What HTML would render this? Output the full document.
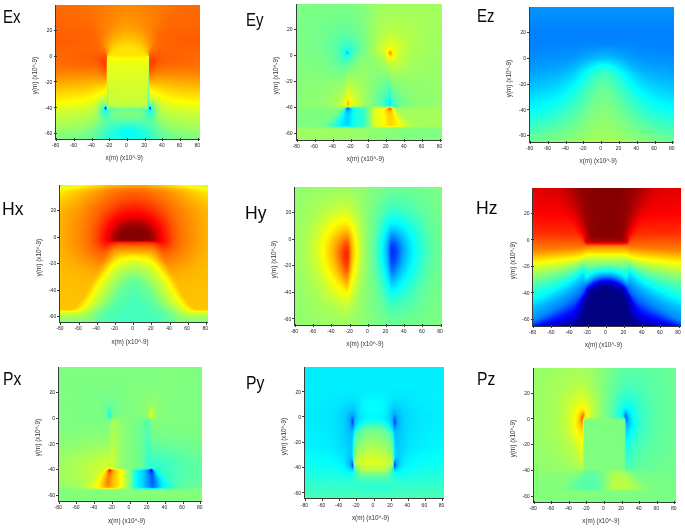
<!DOCTYPE html>
<html><head><meta charset="utf-8"><title>Field components</title>
<style>
html,body{margin:0;padding:0;background:#fff}
body{width:685px;height:529px;position:relative;overflow:hidden;font-family:"Liberation Sans",sans-serif;color:#111}
.p{position:absolute;overflow:hidden}
.p i{display:block;height:1px;width:100%}
.ax{position:absolute;background:#3a3a3a}
.tl{position:absolute;font-size:5px;line-height:7px;color:#222;white-space:nowrap}
.al{position:absolute;font-size:6.3px;line-height:9px;color:#333;white-space:nowrap}
.yl{transform:rotate(-90deg);transform-origin:50% 50%}
.tt{position:absolute;font-size:18.5px;line-height:21px;color:#0a0a0a;transform-origin:0 0;white-space:nowrap}
</style></head>
<body>
<div class="p" style="left:55.7px;top:5px;width:144.2px;height:134.3px">
<i style="background:linear-gradient(90deg,#ff6b00 0.5px,#ff7300 32.5px,#ff8a00 70.5px,#ff7d00 95.5px,#ff6c00 129.5px,#ff6b00 144.5px)"></i>
<i style="background:linear-gradient(90deg,#ff6b00 0.5px,#ff7200 31.5px,#ff8b00 70.5px,#ff8000 92.5px,#ff6c00 127.5px,#ff6a00 144.5px)"></i>
<i style="background:linear-gradient(90deg,#ff6a00 0.5px,#ff7100 31.5px,#ff8b00 70.5px,#ff8000 92.5px,#ff6b00 126.5px,#ff6a00 144.5px)"></i>
<i style="background:linear-gradient(90deg,#ff6a00 0.5px,#ff7100 31.5px,#ff8c00 70.5px,#ff8100 91.5px,#ff6b00 125.5px,#ff6a00 144.5px)"></i>
<i style="background:linear-gradient(90deg,#ff6900 0.5px,#ff7000 31.5px,#ff8d00 69.5px,#ff8300 89.5px,#ff6b00 123.5px,#ff6900 144.5px)"></i>
<i style="background:linear-gradient(90deg,#ff6900 0.5px,#ff7000 31.5px,#ff8d00 69.5px,#ff8400 88.5px,#ff6b00 122.5px,#ff6900 144.5px)"></i>
<i style="background:linear-gradient(90deg,#ff6900 0.5px,#ff6f00 31.5px,#ff8e00 69.5px,#ff8500 87.5px,#ff6a00 121.5px,#ff6900 144.5px)"></i>
<i style="background:linear-gradient(90deg,#ff6800 0.5px,#ff6f00 31.5px,#ff8f00 69.5px,#ff8600 87.5px,#ff6a00 120.5px,#ff6800 144.5px)"></i>
<i style="background:linear-gradient(90deg,#ff6800 0.5px,#ff6e00 31.5px,#ff8f00 68.5px,#f80 85.5px,#ff6b00 118.5px,#ff6800 144.5px)"></i>
<i style="background:linear-gradient(90deg,#ff6800 0.5px,#ff6e00 31.5px,#ff9000 68.5px,#ff8900 85.5px,#ff6a00 117.5px,#ff6800 144.5px)"></i>
<i style="background:linear-gradient(90deg,#ff6700 0.5px,#ff6e00 32.5px,#ff9100 68.5px,#ff8a00 84.5px,#ff6a00 116.5px,#ff6700 144.5px)"></i>
<i style="background:linear-gradient(90deg,#ff6700 0.5px,#ff6d00 32.5px,#ff9200 68.5px,#ff8b00 84.5px,#ff6a00 115.5px,#ff6700 144.5px)"></i>
<i style="background:linear-gradient(90deg,#ff6700 0.5px,#ff6d00 32.5px,#ff9300 68.5px,#ff8c00 84.5px,#ff6a00 114.5px,#ff6700 144.5px)"></i>
<i style="background:linear-gradient(90deg,#f60 0.5px,#ff6c00 32.5px,#ff9300 67.5px,#ff8f00 82.5px,#ff6a00 114.5px,#f60 144.5px)"></i>
<i style="background:linear-gradient(90deg,#f60 0.5px,#ff6b00 32.5px,#ff9400 67.5px,#ff8f00 82.5px,#ff6a00 113.5px,#f60 144.5px)"></i>
<i style="background:linear-gradient(90deg,#ff6500 0.5px,#ff6c00 33.5px,#ff9500 67.5px,#ff9000 82.5px,#ff6a00 112.5px,#ff6500 144.5px)"></i>
<i style="background:linear-gradient(90deg,#ff6500 0.5px,#ff6b00 33.5px,#ff9700 67.5px,#ff9200 81.5px,#ff6a00 111.5px,#ff6500 144.5px)"></i>
<i style="background:linear-gradient(90deg,#ff6500 0.5px,#ff6a00 33.5px,#ff9700 66.5px,#ff9400 80.5px,#ff6900 111.5px,#ff6500 144.5px)"></i>
<i style="background:linear-gradient(90deg,#ff6400 0.5px,#ff6900 33.5px,#ff9800 66.5px,#ff9500 80.5px,#ff6900 110.5px,#ff6400 144.5px)"></i>
<i style="background:linear-gradient(90deg,#ff6400 0.5px,#ff6a00 34.5px,#ff9a00 66.5px,#ff9800 79.5px,#ff6800 110.5px,#ff6400 144.5px)"></i>
<i style="background:linear-gradient(90deg,#ff6400 0.5px,#ff6900 34.5px,#ff8c00 55.5px,#ff9c00 69.5px,#ff9500 82.5px,#ff6900 108.5px,#ff6400 142.5px,#ff6400 144.5px)"></i>
<i style="background:linear-gradient(90deg,#ff6300 0.5px,#ff6800 34.5px,#ff8500 51.5px,#ff9c00 65.5px,#ff9c00 78.5px,#ff8400 92.5px,#ff6900 108.5px,#ff6300 144.5px)"></i>
<i style="background:linear-gradient(90deg,#ff6300 0.5px,#ff6800 35.5px,#ff8300 50.5px,#ff9e00 64.5px,#ffa000 77.5px,#ff8600 92.5px,#ff6a00 106.5px,#ff6300 127.5px,#ff6300 144.5px)"></i>
<i style="background:linear-gradient(90deg,#ff6200 0.5px,#ff6700 35.5px,#ff8100 49.5px,#ff9e00 62.5px,#ffa400 74.5px,#ff9500 86.5px,#ff6f00 102.5px,#ff6400 114.5px,#ff6200 144.5px)"></i>
<i style="background:linear-gradient(90deg,#ff6200 0.5px,#f60 35.5px,#ff7f00 48.5px,#ff9f00 61.5px,#ffa700 73.5px,#f90 85.5px,#ff6e00 102.5px,#ff6300 114.5px,#ff6200 144.5px)"></i>
<i style="background:linear-gradient(90deg,#ff6200 0.5px,#f60 36.5px,#ff7c00 47.5px,#ff9e00 59.5px,#fa0 71.5px,#ff9f00 83.5px,#ff8200 94.5px,#ff6c00 103.5px,#ff6300 114.5px,#ff6200 144.5px)"></i>
<i style="background:linear-gradient(90deg,#ff6100 0.5px,#ff6500 36.5px,#ff7a00 46.5px,#ff9e00 58.5px,#ffac00 69.5px,#ffa500 81.5px,#ff8700 93.5px,#ff6e00 101.5px,#ff6300 111.5px,#ff6100 144.5px)"></i>
<i style="background:linear-gradient(90deg,#ff6100 0.5px,#ff6400 36.5px,#f70 45.5px,#ff9f00 57.5px,#ffaf00 68.5px,#fa0 80.5px,#ff8d00 92.5px,#ff6d00 101.5px,#ff6200 111.5px,#ff6100 144.5px)"></i>
<i style="background:linear-gradient(90deg,#ff6000 0.5px,#ff6400 37.5px,#f70 45.5px,#ffa100 57.5px,#ffb200 68.5px,#ffae00 79.5px,#ff9400 90.5px,#ff6a00 102.5px,#ff6100 112.5px,#ff6100 144.5px)"></i>
<i style="background:linear-gradient(90deg,#ff6000 0.5px,#ff6300 37.5px,#ff7800 45.5px,#ffa300 57.5px,#ffb400 67.5px,#ffb200 78.5px,#ff9c00 88.5px,#ff6700 103.5px,#ff6000 119.5px,#ff6000 144.5px)"></i>
<i style="background:linear-gradient(90deg,#ff6000 0.5px,#ff6300 37.5px,#ff7800 45.5px,#ffa600 57.5px,#ffb800 67.5px,#ffb500 78.5px,#ff9f00 88.5px,#ff6a00 102.5px,#ff6100 108.5px,#ff6000 144.5px)"></i>
<i style="background:linear-gradient(90deg,#ff5f00 0.5px,#ff6200 37.5px,#ff7800 45.5px,#ffa900 57.5px,#fb0 67.5px,#ffb800 78.5px,#ffa400 87.5px,#ff6900 102.5px,#ff6000 110.5px,#ff5f00 144.5px)"></i>
<i style="background:linear-gradient(90deg,#ff5f00 0.5px,#ff6200 36.5px,#ff6d00 42.5px,#ffaf00 58.5px,#ffbf00 68.5px,#ffba00 79.5px,#ffa300 88.5px,#ff6c00 101.5px,#ff6000 109.5px,#ff5f00 144.5px)"></i>
<i style="background:linear-gradient(90deg,#ff5f00 0.5px,#ff6000 34.5px,#ff6d00 42.5px,#ffb200 58.5px,#ffc100 67.5px,#ffbf00 78.5px,#fa0 87.5px,#ff8400 95.5px,#f60 103.5px,#ff5d00 118.5px,#ff5f00 144.5px)"></i>
<i style="background:linear-gradient(90deg,#ff5e00 0.5px,#ff6000 33.5px,#ff6c00 42.5px,#ff9800 51.5px,#ffb800 59.5px,#ffc600 69.5px,#ffc000 80.5px,#ffa800 88.5px,#ff6e00 100.5px,#ff6200 107.5px,#ff5d00 128.5px,#ff5e00 144.5px)"></i>
<i style="background:linear-gradient(90deg,#ff5e00 0.5px,#ff5f00 32.5px,#ff6c00 42.5px,#ff8d00 49.5px,#ffb500 57.5px,#ffc800 66.5px,#ffc700 77.5px,#ffb700 85.5px,#ff9100 93.5px,#ff6e00 100.5px,#ff6100 108.5px,#ff5d00 135.5px,#ff5e00 144.5px)"></i>
<i style="background:linear-gradient(90deg,#ff5d00 0.5px,#ff6100 34.5px,#ff6f00 43.5px,#ffb800 57.5px,#ffca00 65.5px,#ffcb00 77.5px,#ffba00 85.5px,#ff9200 93.5px,#ff6d00 100.5px,#ff5f00 111.5px,#ff5e00 144.5px)"></i>
<i style="background:linear-gradient(90deg,#ff5e00 0.5px,#ff6200 35.5px,#ff6e00 43.5px,#ff8f00 49.5px,#ffb800 56.5px,#ffcb00 63.5px,#ffd100 74.5px,#ffc400 83.5px,#ffa600 90.5px,#ff7000 99.5px,#ff6300 106.5px,#ff5d00 134.5px,#ff5e00 144.5px)"></i>
<i style="background:linear-gradient(90deg,#ff5e00 0.5px,#ff6200 35.5px,#ff6c00 43.5px,#ff8f00 49.5px,#ffbc00 56.5px,#ffcf00 63.5px,#ffd400 75.5px,#ffc500 84.5px,#ffa900 90.5px,#ff7400 98.5px,#f60 103.5px,#ff5e00 123.5px,#ff5e00 144.5px)"></i>
<i style="background:linear-gradient(90deg,#ff5f00 0.5px,#ff6200 35.5px,#ff6f00 44.5px,#ff8f00 49.5px,#ffba00 55.5px,#ffd000 61.5px,#ffd900 72.5px,#ffcf00 82.5px,#ffb800 88.5px,#ff9400 93.5px,#ff7200 98.5px,#ff6500 104.5px,#ff5e00 127.5px,#ff5f00 144.5px)"></i>
<i style="background:linear-gradient(90deg,#ff6000 0.5px,#ff6300 36.5px,#ff6e00 44.5px,#ff8f00 49.5px,#ffbe00 55.5px,#ffd400 61.5px,#ffdc00 72.5px,#ffd300 82.5px,#ffbc00 88.5px,#ff9500 93.5px,#ff7100 98.5px,#ff6200 107.5px,#ff6000 144.5px)"></i>
<i style="background:linear-gradient(90deg,#ff6000 0.5px,#ff6300 36.5px,#ff7100 45.5px,#f90 50.5px,#ffc200 55.5px,#ffd800 61.5px,#ffdf00 73.5px,#ffd500 83.5px,#ffc000 88.5px,#ffa100 92.5px,#ff7b00 96.5px,#ff6c00 99.5px,#ff6000 112.5px,#ff6100 144.5px)"></i>
<i style="background:linear-gradient(90deg,#ff6100 0.5px,#ff6300 37.5px,#ff6f00 45.5px,#ff8400 48.5px,#ffc000 54.5px,#ffd700 59.5px,#ffe200 69.5px,#fd0 81.5px,#ffca00 87.5px,#ffa200 92.5px,#ff7800 96.5px,#ff6c00 99.5px,#ff6000 112.5px,#ff6100 144.5px)"></i>
<i style="background:linear-gradient(90deg,#ff6200 0.5px,#ff6400 38.5px,#ff7100 46.5px,#ff8d00 49.5px,#fb0 53.5px,#ffd500 57.5px,#ffe300 64.5px,#ffe200 79.5px,#ffd300 86.5px,#ffb700 90.5px,#ff7e00 95.5px,#ff6d00 98.5px,#ff6100 110.5px,#ff6200 144.5px)"></i>
<i style="background:linear-gradient(90deg,#ff6300 0.5px,#ff6400 39.5px,#ff6f00 46.5px,#ff7e00 48.5px,#ffbe00 53.5px,#ffd400 56.5px,#ffe300 62.5px,#ffe500 78.5px,#ffda00 85.5px,#ffc400 89.5px,#ffa200 92.5px,#ff8500 94.5px,#ff7100 96.5px,#ff6400 104.5px,#ff6300 144.5px)"></i>
<i style="background:linear-gradient(90deg,#ff6300 0.5px,#ff6400 40.5px,#ff6f00 47.5px,#ff8500 49.5px,#ffc200 53.5px,#ffd700 56.5px,#ffe400 62.5px,#ffe500 80.5px,#ffda00 86.5px,#ffc800 89.5px,#ffa200 92.5px,#ff8000 94.5px,#ff6e00 96.5px,#ff6200 105.5px,#ff6400 144.5px)"></i>
<i style="background:linear-gradient(90deg,#ff6400 0.5px,#ff6300 42.5px,#ff6b00 47.5px,#ff7100 48.5px,#ff9100 50.5px,#ffb700 52.5px,#ffcf00 54.5px,#ffe000 58.5px,#ffe600 72.5px,#ffe100 84.5px,#ffd300 88.5px,#ffc000 90.5px,#ffa000 92.5px,#ff8900 93.5px,#ff6e00 95.5px,#ff6300 101.5px,#ff6400 144.5px)"></i>
<i style="background:linear-gradient(90deg,#ff6500 0.5px,#ff6400 46.5px,#ff6a00 48.5px,#ff7600 49.5px,#ffbc00 52.5px,#ffd400 54.5px,#ffe200 58.5px,#ffe500 81.5px,#ffdc00 87.5px,#ffd100 89.5px,#ffc600 90.5px,#ffa000 92.5px,#ff8100 93.5px,#ff6f00 94.5px,#ff6300 97.5px,#ff6500 144.5px)"></i>
<i style="background:linear-gradient(90deg,#f60 0.5px,#ff5f00 47.5px,#ff6a00 49.5px,#ff8600 50.5px,#ffa900 51.5px,#ffc400 52.5px,#ffd200 53.5px,#ffe100 56.5px,#ffe500 74.5px,#ffe200 86.5px,#ffd700 89.5px,#ffcd00 90.5px,#fb0 91.5px,#ffa100 92.5px,#ff7900 93.5px,#f60 94.5px,#ff5e00 97.5px,#f60 144.5px)"></i>
<i style="background:linear-gradient(90deg,#f60 0.5px,#ff5c00 42.5px,#ff5800 47.5px,#ff6300 49.5px,#ff7b00 50.5px,#ffb100 51.5px,#ffcf00 52.5px,#ffdb00 53.5px,#ffe500 57.5px,#ffe400 87.5px,#ffd700 90.5px,#ffc700 91.5px,#ffa600 92.5px,#ff6b00 93.5px,#ff5f00 94.5px,#ff5800 96.5px,#ff6200 117.5px,#ff6700 144.5px)"></i>
<i style="background:linear-gradient(90deg,#ff6700 0.5px,#ff5c00 40.5px,#ff5200 47.5px,#ff5b00 49.5px,#ff6900 50.5px,#fc0 51.5px,#ffe100 52.5px,#ffe900 56.5px,#ffe700 89.5px,#ffdc00 91.5px,#ffbe00 92.5px,#ff6100 93.5px,#ff5300 95.5px,#ff5900 100.5px,#ff6300 117.5px,#ff6700 144.5px)"></i>
<i style="background:linear-gradient(90deg,#ff6800 0.5px,#ff5d00 38.5px,#ff4d00 47.5px,#f50 50.5px,#faff05 51.5px,#fff400 52.5px,#ffeb00 72.5px,#fff200 90.5px,#fff700 91.5px,#ef1 92.5px,#f50 93.5px,#ff4d00 96.5px,#ff5f00 107.5px,#ff6800 144.5px)"></i>
<i style="background:linear-gradient(90deg,#ff6900 0.5px,#ff5e00 37.5px,#ff4a00 47.5px,#ff5400 50.5px,#e6ff19 51.5px,#fcff03 52.5px,#fff600 57.5px,#fff400 82.5px,#fffd00 90.5px,#f7ff08 91.5px,#deff21 92.5px,#ff5200 93.5px,#ff4a00 96.5px,#ff5e00 106.5px,#ff6900 144.5px)"></i>
<i style="background:linear-gradient(90deg,#ff6a00 0.5px,#ff5e00 37.5px,#ff4700 48.5px,#ff4d00 49.5px,#ff5c00 50.5px,#e3ff1c 51.5px,#f5ff0a 52.5px,#feff01 54.5px,#fffa00 79.5px,#feff01 89.5px,#faff05 90.5px,#f0ff0f 91.5px,#dcff23 92.5px,#f50 93.5px,#ff4a00 94.5px,#ff4800 96.5px,#ff5e00 106.5px,#ff6a00 144.5px)"></i>
<i style="background:linear-gradient(90deg,#ff6b00 0.5px,#ff5f00 36.5px,#ff4c00 45.5px,#f40 48.5px,#ff4c00 49.5px,#ff6400 50.5px,#e2ff1d 51.5px,#f1ff0e 52.5px,#faff05 55.5px,#fbff04 87.5px,#f6ff09 90.5px,#edff12 91.5px,#dbff24 92.5px,#ff5800 93.5px,#ff4700 94.5px,#ff4300 95.5px,#ff5d00 105.5px,#ff6900 131.5px,#ff6b00 144.5px)"></i>
<i style="background:linear-gradient(90deg,#ff6b00 0.5px,#ff6000 35.5px,#ff5000 44.5px,#ff4000 48.5px,#ff4900 49.5px,#ff6800 50.5px,#e1ff1e 51.5px,#f0ff0f 52.5px,#f7ff08 55.5px,#f6ff09 89.5px,#ebff14 91.5px,#daff25 92.5px,#ff5900 93.5px,#f40 94.5px,#ff4000 95.5px,#ff5600 101.5px,#ff6500 115.5px,#ff6c00 144.5px)"></i>
<i style="background:linear-gradient(90deg,#ff6c00 0.5px,#ff6000 35.5px,#f50 43.5px,#ff3e00 48.5px,#ff4600 49.5px,#ff6900 50.5px,#dfff20 51.5px,#ef1 52.5px,#f4ff0b 55.5px,#f1ff0e 90.5px,#eaff15 91.5px,#d8ff27 92.5px,#ff5700 93.5px,#ff4000 94.5px,#ff3e00 95.5px,#ff5600 100.5px,#f60 117.5px,#ff6c00 144.5px)"></i>
<i style="background:linear-gradient(90deg,#ff6d00 0.5px,#ff6100 35.5px,#ff5700 43.5px,#ff3d00 48.5px,#ff4200 49.5px,#ff6900 50.5px,#df2 51.5px,#ecff13 52.5px,#f1ff0e 56.5px,#efff10 90.5px,#e8ff17 91.5px,#d5ff2a 92.5px,#ff5400 93.5px,#ff3d00 94.5px,#ff3e00 95.5px,#f50 99.5px,#ff6000 106.5px,#ff6d00 141.5px,#ff6d00 144.5px)"></i>
<i style="background:linear-gradient(90deg,#ff6e00 0.5px,#ff6000 40.5px,#ff5100 45.5px,#ff3d00 48.5px,#ff4100 49.5px,#ff6900 50.5px,#dbff24 51.5px,#eaff15 52.5px,#efff10 58.5px,#edff12 90.5px,#e6ff19 91.5px,#d2ff2d 92.5px,#ff5300 93.5px,#ff3d00 94.5px,#ff4700 96.5px,#ff5b00 100.5px,#ff6400 109.5px,#ff6e00 144.5px)"></i>
<i style="background:linear-gradient(90deg,#ff6f00 0.5px,#ff6200 41.5px,#ff5400 45.5px,#ff3f00 48.5px,#ff4100 49.5px,#ff6a00 50.5px,#d9ff26 51.5px,#e8ff17 52.5px,#ecff13 60.5px,#ebff14 90.5px,#e4ff1b 91.5px,#ceff31 92.5px,#ff5200 93.5px,#ff3e00 94.5px,#ff5e00 100.5px,#ff6700 109.5px,#ff6f00 144.5px)"></i>
<i style="background:linear-gradient(90deg,#ff7000 0.5px,#ff6700 40.5px,#ff5800 45.5px,#ff4300 48.5px,#f40 49.5px,#ff6c00 50.5px,#d6ff29 51.5px,#e6ff19 52.5px,#eaff15 61.5px,#e8ff17 90.5px,#e2ff1d 91.5px,#cbff34 92.5px,#ff5400 93.5px,#ff4100 94.5px,#ff5e00 99.5px,#ff6900 106.5px,#ff7000 144.5px)"></i>
<i style="background:linear-gradient(90deg,#ff7100 0.5px,#ff6a00 40.5px,#ff5b00 45.5px,#ff4700 48.5px,#ff4700 49.5px,#ff6f00 50.5px,#d3ff2c 51.5px,#e4ff1b 52.5px,#e7ff18 62.5px,#e6ff19 90.5px,#e0ff1f 91.5px,#c7ff38 92.5px,#ff5700 93.5px,#ff4500 94.5px,#ff6100 99.5px,#ff6d00 106.5px,#ff7100 144.5px)"></i>
<i style="background:linear-gradient(90deg,#ff7200 0.5px,#ff6d00 40.5px,#ff5f00 45.5px,#ff4b00 48.5px,#ff4c00 49.5px,#ff7300 50.5px,#d1ff2e 51.5px,#e3ff1c 52.5px,#e6ff19 61.5px,#e5ff1a 90.5px,#deff21 91.5px,#c5ff3a 92.5px,#ff5b00 93.5px,#ff4a00 94.5px,#ff6500 99.5px,#ff7000 106.5px,#ff7200 144.5px)"></i>
<i style="background:linear-gradient(90deg,#ff7500 0.5px,#ff7100 40.5px,#ff6300 45.5px,#ff5100 48.5px,#ff5100 49.5px,#f70 50.5px,#cfff30 51.5px,#e1ff1e 52.5px,#e6ff19 60.5px,#e4ff1b 90.5px,#df2 91.5px,#c2ff3d 92.5px,#ff6000 93.5px,#ff4f00 94.5px,#ff6c00 100.5px,#ff7500 109.5px,#ff7500 144.5px)"></i>
<i style="background:linear-gradient(90deg,#ff7800 0.5px,#ff7500 40.5px,#ff6800 45.5px,#ff5700 48.5px,#ff5700 49.5px,#ff7c00 50.5px,#cdff32 51.5px,#e0ff1f 52.5px,#e5ff1a 58.5px,#e3ff1c 90.5px,#dcff23 91.5px,#bfff40 92.5px,#ff6500 93.5px,#f50 94.5px,#ff7000 100.5px,#ff7800 110.5px,#ff7800 144.5px)"></i>
<i style="background:linear-gradient(90deg,#ff7c00 0.5px,#ff7900 40.5px,#ff6900 46.5px,#ff5d00 48.5px,#ff5d00 49.5px,#ff8100 50.5px,#cbff34 51.5px,#dfff20 52.5px,#e4ff1b 57.5px,#e2ff1d 90.5px,#daff25 91.5px,#bcff43 92.5px,#ff6b00 93.5px,#ff5b00 94.5px,#ff7500 100.5px,#ff7c00 110.5px,#ff7c00 144.5px)"></i>
<i style="background:linear-gradient(90deg,#ff7f00 0.5px,#ff7d00 40.5px,#ff6e00 46.5px,#ff6300 48.5px,#ff6400 49.5px,#ff8700 50.5px,#c9ff36 51.5px,#deff21 52.5px,#e3ff1c 56.5px,#e1ff1e 90.5px,#d9ff26 91.5px,#b8ff47 92.5px,#ff7100 93.5px,#ff6200 94.5px,#ff7900 100.5px,#ff8000 111.5px,#ff7f00 144.5px)"></i>
<i style="background:linear-gradient(90deg,#ff8300 0.5px,#ff8200 40.5px,#ff7500 46.5px,#ff6a00 48.5px,#ff6b00 49.5px,#ff8d00 50.5px,#c6ff39 51.5px,#df2 52.5px,#e2ff1d 55.5px,#e0ff1f 90.5px,#d7ff28 91.5px,#b5ff4a 92.5px,#ff7800 93.5px,#ff6900 94.5px,#ff7e00 100.5px,#ff8400 113.5px,#ff8300 144.5px)"></i>
<i style="background:linear-gradient(90deg,#ff8600 0.5px,#ff8600 41.5px,#ff7b00 46.5px,#ff7100 48.5px,#ff7200 49.5px,#ff9300 50.5px,#c4ff3b 51.5px,#dcff23 52.5px,#e1ff1e 55.5px,#dfff20 90.5px,#d6ff29 91.5px,#b2ff4d 92.5px,#ff7f00 93.5px,#ff7000 94.5px,#ff8400 100.5px,#ff8700 118.5px,#ff8600 144.5px)"></i>
<i style="background:linear-gradient(90deg,#ff8a00 0.5px,#ff8a00 42.5px,#ff7d00 47.5px,#ff7900 49.5px,#f90 50.5px,#c1ff3e 51.5px,#daff25 52.5px,#e0ff1f 55.5px,#deff21 90.5px,#d4ff2b 91.5px,#aeff51 92.5px,#ff8600 93.5px,#f70 94.5px,#ff8a00 100.5px,#ff8a00 144.5px)"></i>
<i style="background:linear-gradient(90deg,#ff8d00 0.5px,#ff8f00 43.5px,#ff8000 48.5px,#ff8100 49.5px,#ff9f00 50.5px,#bfff40 51.5px,#d9ff26 52.5px,#dfff20 54.5px,#df2 90.5px,#d3ff2c 91.5px,#af5 92.5px,#ff8d00 93.5px,#ff7f00 94.5px,#ff8f00 100.5px,#ff8d00 144.5px)"></i>
<i style="background:linear-gradient(90deg,#ff9100 0.5px,#ff9500 43.5px,#f80 48.5px,#ff8900 49.5px,#ffa600 50.5px,#bcff43 51.5px,#d8ff27 52.5px,#deff21 54.5px,#dcff23 90.5px,#d1ff2e 91.5px,#a7ff58 92.5px,#ff9400 93.5px,#ff8700 94.5px,#ff9600 101.5px,#ff9100 144.5px)"></i>
<i style="background:linear-gradient(90deg,#ff9500 0.5px,#ff9a00 44.5px,#ff8f00 48.5px,#ff9100 49.5px,#ffad00 50.5px,#b9ff46 51.5px,#d6ff29 52.5px,#df2 54.5px,#dbff24 90.5px,#cfff30 91.5px,#a3ff5c 92.5px,#ff9c00 93.5px,#ff8f00 94.5px,#ff9c00 101.5px,#ff9500 144.5px)"></i>
<i style="background:linear-gradient(90deg,#ff9800 0.5px,#ffa000 36.5px,#ff9f00 45.5px,#ff9700 48.5px,#f90 49.5px,#ffb400 50.5px,#b6ff49 51.5px,#d5ff2a 52.5px,#dcff23 54.5px,#daff25 90.5px,#ceff31 91.5px,#9eff61 92.5px,#ffa400 93.5px,#ff9700 94.5px,#ffa200 101.5px,#ff9800 141.5px,#ff9800 144.5px)"></i>
<i style="background:linear-gradient(90deg,#ff9c00 0.5px,#ffa400 34.5px,#ffa600 45.5px,#ff9f00 48.5px,#ffa100 49.5px,#ffbc00 50.5px,#b3ff4c 51.5px,#d4ff2b 52.5px,#dbff24 54.5px,#d9ff26 90.5px,#cf3 91.5px,#9aff65 92.5px,#ffac00 93.5px,#ff9f00 94.5px,#ffa700 102.5px,#ff9c00 137.5px,#ff9c00 144.5px)"></i>
<i style="background:linear-gradient(90deg,#ff9f00 0.5px,#ffa900 34.5px,#ffab00 46.5px,#fa0 49.5px,#ffc400 50.5px,#b0ff4f 51.5px,#d2ff2d 52.5px,#daff25 54.5px,#d8ff27 90.5px,#caff35 91.5px,#96ff69 92.5px,#ffb500 93.5px,#ffa800 94.5px,#ffad00 103.5px,#ffa000 136.5px,#ff9f00 144.5px)"></i>
<i style="background:linear-gradient(90deg,#ffa300 0.5px,#ffad00 33.5px,#ffb200 46.5px,#ffb300 49.5px,#ffcb00 50.5px,#adff52 51.5px,#d1ff2e 52.5px,#d8ff27 53.5px,#d7ff28 90.5px,#c8ff37 91.5px,#91ff6e 92.5px,#ffbd00 93.5px,#ffb100 94.5px,#ffb000 106.5px,#ffa400 137.5px,#ffa300 144.5px)"></i>
<i style="background:linear-gradient(90deg,#ffa800 0.5px,#ffb200 33.5px,#ffbc00 49.5px,#ffd300 50.5px,#af5 51.5px,#d0ff2f 52.5px,#d7ff28 53.5px,#d6ff29 90.5px,#c7ff38 91.5px,#8dff72 92.5px,#ffc600 93.5px,#ffba00 94.5px,#ffa800 136.5px,#ffa800 144.5px)"></i>
<i style="background:linear-gradient(90deg,#ffac00 0.5px,#ffb600 32.5px,#ffc500 49.5px,#ffda00 50.5px,#a7ff58 51.5px,#cfff30 52.5px,#d7ff28 53.5px,#d5ff2a 90.5px,#c5ff3a 91.5px,#89ff76 92.5px,#ffce00 93.5px,#ffc200 94.5px,#ffae00 129.5px,#ffac00 144.5px)"></i>
<i style="background:linear-gradient(90deg,#ffb000 0.5px,#ffba00 31.5px,#ffcd00 49.5px,#ffe100 50.5px,#a4ff5b 51.5px,#cdff32 52.5px,#d6ff29 53.5px,#d7ff28 89.5px,#d4ff2b 90.5px,#c3ff3c 91.5px,#84ff7b 92.5px,#ffd600 93.5px,#ffcb00 94.5px,#ffb400 123.5px,#ffb000 144.5px)"></i>
<i style="background:linear-gradient(90deg,#ffb400 0.5px,#ffbf00 31.5px,#ffd600 49.5px,#ffe800 50.5px,#a1ff5e 51.5px,#cf3 52.5px,#d5ff2a 53.5px,#d6ff29 89.5px,#d3ff2c 90.5px,#c2ff3d 91.5px,#80ff7f 92.5px,#ffde00 93.5px,#ffd300 94.5px,#ffba00 118.5px,#ffb400 144.5px)"></i>
<i style="background:linear-gradient(90deg,#ffb800 0.5px,#ffc300 31.5px,#ffd900 48.5px,#ffde00 49.5px,#ffef00 50.5px,#9eff61 51.5px,#cbff34 52.5px,#d4ff2b 53.5px,#d5ff2a 89.5px,#d2ff2d 90.5px,#c0ff3f 91.5px,#7cff83 92.5px,#ffe500 93.5px,#ffdb00 94.5px,#ffc100 114.5px,#ffb800 144.5px)"></i>
<i style="background:linear-gradient(90deg,#ffbc00 0.5px,#ffc700 30.5px,#ffe100 48.5px,#ffe500 49.5px,#fff600 50.5px,#9cff63 51.5px,#caff35 52.5px,#d3ff2c 53.5px,#d4ff2b 89.5px,#d1ff2e 90.5px,#beff41 91.5px,#78ff87 92.5px,#ffed00 93.5px,#ffe300 94.5px,#ffc800 111.5px,#ffbd00 140.5px,#ffbc00 144.5px)"></i>
<i style="background:linear-gradient(90deg,#ffc000 0.5px,#ffcb00 30.5px,#ffe600 47.5px,#ffed00 49.5px,#fffd00 50.5px,#9f6 51.5px,#c9ff36 52.5px,#d2ff2d 53.5px,#d3ff2c 89.5px,#d0ff2f 90.5px,#bdff42 91.5px,#74ff8b 92.5px,#fff400 93.5px,#ffeb00 94.5px,#ffcd00 111.5px,#ffc100 139.5px,#ffc000 144.5px)"></i>
<i style="background:linear-gradient(90deg,#ffc500 0.5px,#ffd000 30.5px,#ffeb00 46.5px,#fff500 49.5px,#fbff04 50.5px,#96ff69 51.5px,#c7ff38 52.5px,#d1ff2e 53.5px,#d3ff2c 89.5px,#cfff30 90.5px,#bf4 91.5px,#70ff8f 92.5px,#fffb00 93.5px,#ffef00 95.5px,#ffd100 111.5px,#ffc500 139.5px,#ffc400 144.5px)"></i>
<i style="background:linear-gradient(90deg,#ffc900 0.5px,#ffd300 29.5px,#ffec00 44.5px,#fffc00 49.5px,#f5ff0a 50.5px,#94ff6b 51.5px,#c6ff39 52.5px,#d1ff2e 53.5px,#d2ff2d 89.5px,#ceff31 90.5px,#baff45 91.5px,#6cff93 92.5px,#fcff03 93.5px,#ffe900 100.5px,#ffd200 115.5px,#ffc900 144.5px)"></i>
<i style="background:linear-gradient(90deg,#ffcd00 0.5px,#ffd700 28.5px,#fff000 43.5px,#fffe00 48.5px,#fbff04 49.5px,#efff10 50.5px,#91ff6e 51.5px,#c5ff3a 52.5px,#d0ff2f 53.5px,#d1ff2e 89.5px,#ceff31 90.5px,#b8ff47 91.5px,#69ff96 92.5px,#f5ff0a 93.5px,#fdff02 94.5px,#ffdf00 108.5px,#ffd000 127.5px,#ffcd00 144.5px)"></i>
<i style="background:linear-gradient(90deg,#ffd100 0.5px,#ffdb00 27.5px,#fff100 41.5px,#fcff03 47.5px,#f3ff0c 49.5px,#e9ff16 50.5px,#8fff70 51.5px,#c4ff3b 52.5px,#cfff30 53.5px,#d0ff2f 89.5px,#cdff32 90.5px,#b7ff48 91.5px,#65ff9a 92.5px,#ef1 93.5px,#fdff02 96.5px,#ffe100 110.5px,#ffd300 131.5px,#ffd100 144.5px)"></i>
<i style="background:linear-gradient(90deg,#ffd500 0.5px,#ffe100 28.5px,#fff900 42.5px,#fcff03 45.5px,#ecff13 49.5px,#e3ff1c 50.5px,#8cff73 51.5px,#c3ff3c 52.5px,#ceff31 53.5px,#cfff30 89.5px,#cf3 90.5px,#b6ff49 91.5px,#62ff9d 92.5px,#e7ff18 93.5px,#fdff02 98.5px,#ffe400 112.5px,#ffd600 136.5px,#ffd500 144.5px)"></i>
<i style="background:linear-gradient(90deg,#ffd900 0.5px,#ffe600 28.5px,#fffc00 41.5px,#f1ff0e 46.5px,#df2 50.5px,#8aff75 51.5px,#c2ff3d 52.5px,#cdff32 53.5px,#cfff30 89.5px,#cbff34 90.5px,#b4ff4b 91.5px,#5effa1 92.5px,#e0ff1f 93.5px,#fffd00 101.5px,#ffe600 114.5px,#ffda00 141.5px,#ffd900 144.5px)"></i>
<i style="background:linear-gradient(90deg,#ffde00 0.5px,#ffea00 28.5px,#fdff02 41.5px,#d7ff28 50.5px,#87ff78 51.5px,#c1ff3e 52.5px,#cf3 53.5px,#ceff31 89.5px,#caff35 90.5px,#b3ff4c 91.5px,#5bffa4 92.5px,#d9ff26 93.5px,#feff01 102.5px,#ffe800 117.5px,#ffde00 144.5px)"></i>
<i style="background:linear-gradient(90deg,#ffe300 0.5px,#ffef00 28.5px,#fdff02 39.5px,#d0ff2f 50.5px,#85ff7a 51.5px,#c0ff3f 52.5px,#cf3 53.5px,#cdff32 89.5px,#c9ff36 90.5px,#b1ff4e 91.5px,#57ffa8 92.5px,#d2ff2d 93.5px,#feff01 104.5px,#ffea00 120.5px,#ffe200 144.5px)"></i>
<i style="background:linear-gradient(90deg,#ffe700 0.5px,#fff300 27.5px,#fcff03 37.5px,#e3ff1c 44.5px,#c9ff36 50.5px,#83ff7c 51.5px,#bfff40 52.5px,#cbff34 53.5px,#cf3 89.5px,#c8ff37 90.5px,#b0ff4f 91.5px,#54ffab 92.5px,#c9ff36 93.5px,#f8ff07 104.5px,#fffb00 109.5px,#ffea00 129.5px,#ffe700 144.5px)"></i>
<i style="background:linear-gradient(90deg,#ffec00 0.5px,#fff700 27.5px,#fcff03 35.5px,#e5ff1a 42.5px,#c1ff3e 49.5px,#c3ff3c 50.5px,#81ff7e 51.5px,#beff41 52.5px,#caff35 53.5px,#cbff34 89.5px,#c7ff38 90.5px,#afff50 91.5px,#51ffae 92.5px,#c1ff3e 93.5px,#cbff34 96.5px,#f3ff0c 104.5px,#fffd00 111.5px,#fe0 133.5px,#ffeb00 144.5px)"></i>
<i style="background:linear-gradient(90deg,#fff000 0.5px,#fffc00 27.5px,#f6ff09 35.5px,#e3ff1c 41.5px,#b8ff47 48.5px,#bcff43 50.5px,#7eff81 51.5px,#bdff42 52.5px,#c9ff36 53.5px,#cbff34 89.5px,#c7ff38 90.5px,#aeff51 91.5px,#4effb1 92.5px,#b9ff46 93.5px,#baff45 95.5px,#e9ff16 103.5px,#feff01 112.5px,#fff100 139.5px,#fff000 144.5px)"></i>
<i style="background:linear-gradient(90deg,#fff500 0.5px,#fcff03 28.5px,#e9ff16 38.5px,#ceff31 43.5px,#b0ff4f 47.5px,#adff52 49.5px,#b3ff4c 50.5px,#7cff83 51.5px,#bcff43 52.5px,#c8ff37 53.5px,#caff35 89.5px,#c6ff39 90.5px,#acff53 91.5px,#4affb5 92.5px,#afff50 93.5px,#aeff51 95.5px,#e3ff1c 103.5px,#f7ff08 111.5px,#fffc00 121.5px,#fff500 144.5px)"></i>
<i style="background:linear-gradient(90deg,#fff900 0.5px,#fbff04 24.5px,#e7ff18 37.5px,#d4ff2b 41.5px,#a4ff5b 47.5px,#a1ff5e 49.5px,#af5 50.5px,#7aff85 51.5px,#bf4 52.5px,#c7ff38 53.5px,#c9ff36 89.5px,#c5ff3a 90.5px,#abff54 91.5px,#47ffb8 92.5px,#a5ff5a 93.5px,#a0ff5f 94.5px,#adff52 97.5px,#d6ff29 102.5px,#ebff14 107.5px,#feff01 122.5px,#fff900 144.5px)"></i>
<i style="background:linear-gradient(90deg,#fffe00 0.5px,#f5ff0a 25.5px,#e1ff1e 37.5px,#cf3 41.5px,#9dff62 46.5px,#93ff6c 48.5px,#93ff6c 49.5px,#a0ff5f 50.5px,#78ff87 51.5px,#baff45 52.5px,#c7ff38 53.5px,#c8ff37 89.5px,#c4ff3b 90.5px,#af5 91.5px,#4fb 92.5px,#9f6 93.5px,#92ff6d 94.5px,#9f6 96.5px,#d6ff29 103.5px,#eaff15 109.5px,#fcff03 127.5px,#fffe00 144.5px)"></i>
<i style="background:linear-gradient(90deg,#fbff04 0.5px,#efff10 26.5px,#dcff23 37.5px,#c4ff3b 41.5px,#8f7 47.5px,#85ff7a 49.5px,#96ff69 50.5px,#76ff89 51.5px,#b8ff47 52.5px,#c5ff3a 53.5px,#c7ff38 89.5px,#c2ff3d 90.5px,#a9ff56 91.5px,#41ffbe 92.5px,#8cff73 93.5px,#83ff7c 94.5px,#8bff74 96.5px,#cfff30 103.5px,#e2ff1d 108.5px,#f5ff0a 124.5px,#fbff04 144.5px)"></i>
<i style="background:linear-gradient(90deg,#f6ff09 0.5px,#eaff15 26.5px,#daff25 36.5px,#c5ff3a 40.5px,#79ff86 47.5px,#72ff8d 48.5px,#73ff8c 49.5px,#8f7 50.5px,#73ff8c 51.5px,#b5ff4a 52.5px,#c2ff3d 53.5px,#c3ff3c 89.5px,#bfff40 90.5px,#a6ff59 91.5px,#3effc1 92.5px,#7cff83 93.5px,#71ff8e 94.5px,#7cff83 96.5px,#c8ff37 103.5px,#dbff24 107.5px,#ef1 121.5px,#f7ff08 144.5px)"></i>
<i style="background:linear-gradient(90deg,#f1ff0e 0.5px,#e5ff1a 26.5px,#d4ff2b 36.5px,#beff41 40.5px,#9cff63 43.5px,#4bffb4 49.5px,#6cff93 50.5px,#6aff95 51.5px,#afff50 52.5px,#baff45 53.5px,#bfff40 72.5px,#bf4 89.5px,#b8ff47 90.5px,#9fff60 91.5px,#32ffcd 92.5px,#58ffa7 93.5px,#4dffb2 94.5px,#6dff92 96.5px,#b8ff47 102.5px,#ceff31 105.5px,#dfff20 112.5px,#efff10 133.5px,#f2ff0d 144.5px)"></i>
<i style="background:linear-gradient(90deg,#ecff13 0.5px,#e0ff1f 26.5px,#cfff30 36.5px,#b9ff46 40.5px,#94ff6b 43.5px,#53ffac 47.5px,#1dffe2 48.5px,#0df 49.5px,#23ffdc 50.5px,#63ff9c 51.5px,#b4ff4b 52.5px,#a7ff58 54.5px,#afff50 64.5px,#abff54 86.5px,#a8ff57 89.5px,#b3ff4c 90.5px,#a6ff59 91.5px,#19ffe6 92.5px,#00f4ff 93.5px,#00edff 94.5px,#39ffc6 95.5px,#5dffa2 96.5px,#a7ff58 101.5px,#c3ff3c 104.5px,#d5ff2a 109.5px,#e7ff18 126.5px,#edff12 144.5px)"></i>
<i style="background:linear-gradient(90deg,#e7ff18 0.5px,#dbff24 26.5px,#caff35 36.5px,#bcff43 39.5px,#9cff63 42.5px,#5affa5 46.5px,#3dffc2 47.5px,#0cf 48.5px,#0042ff 49.5px,#00c1ff 50.5px,#7fff80 51.5px,#e0ff1f 52.5px,#a3ff5c 53.5px,#81ff7e 54.5px,#91ff6e 61.5px,#90ff6f 83.5px,#80ff7f 88.5px,#8f7 89.5px,#bfff40 90.5px,#d8ff27 91.5px,#14ffeb 92.5px,#0069ff 93.5px,#0067ff 94.5px,#08fff7 95.5px,#4dffb2 96.5px,#a1ff5e 101.5px,#bfff40 104.5px,#d2ff2d 110.5px,#e4ff1b 129.5px,#e8ff17 144.5px)"></i>
<i style="background:linear-gradient(90deg,#e2ff1d 0.5px,#d6ff29 26.5px,#c3ff3c 37.5px,#b0ff4f 40.5px,#85ff7a 43.5px,#50ffaf 46.5px,#31ffce 47.5px,#00b9ff 48.5px,#0024ff 49.5px,#00a4ff 50.5px,#7eff81 51.5px,#c5ff3a 52.5px,#7eff81 53.5px,#5affa5 54.5px,#74ff8b 59.5px,#79ff86 73.5px,#75ff8a 83.5px,#69ff96 86.5px,#5bffa4 88.5px,#61ff9e 89.5px,#9dff62 90.5px,#c3ff3c 91.5px,#24ffdb 92.5px,#004bff 93.5px,#004dff 94.5px,#00f8ff 95.5px,#42ffbd 96.5px,#9cff63 101.5px,#bf4 104.5px,#caff35 108.5px,#df2 125.5px,#e3ff1c 144.5px)"></i>
<i style="background:linear-gradient(90deg,#deff21 0.5px,#d1ff2e 26.5px,#c0ff3f 37.5px,#acff53 40.5px,#80ff7f 43.5px,#4affb5 46.5px,#3fc 47.5px,#00f0ff 48.5px,#00a0ff 49.5px,#00d5ff 50.5px,#3cffc3 51.5px,#5dffa2 52.5px,#4cffb3 53.5px,#48ffb7 54.5px,#68ff97 58.5px,#70ff8f 63.5px,#6dff92 83.5px,#60ff9f 86.5px,#47ffb8 89.5px,#5affa5 91.5px,#13ffec 92.5px,#00b0ff 93.5px,#00b6ff 94.5px,#13ffec 95.5px,#3effc1 96.5px,#97ff68 101.5px,#b8ff47 104.5px,#c6ff39 108.5px,#daff25 129.5px,#deff21 144.5px)"></i>
<i style="background:linear-gradient(90deg,#d9ff26 0.5px,#cbff34 27.5px,#c0ff3f 36.5px,#b2ff4d 39.5px,#8eff71 42.5px,#36ffc9 47.5px,#08fff7 49.5px,#10ffef 50.5px,#28ffd7 51.5px,#6f9 57.5px,#73ff8c 61.5px,#70ff8f 83.5px,#63ff9c 86.5px,#31ffce 91.5px,#08fff7 93.5px,#0ffff0 94.5px,#2affd5 95.5px,#94ff6b 101.5px,#b4ff4b 104.5px,#c3ff3c 108.5px,#d7ff28 134.5px,#d9ff26 144.5px)"></i>
<i style="background:linear-gradient(90deg,#d4ff2b 0.5px,#c4ff3b 32.5px,#baff45 37.5px,#a6ff59 40.5px,#7aff85 43.5px,#4fb 46.5px,#2effd1 48.5px,#26ffd9 49.5px,#25ffda 50.5px,#35ffca 52.5px,#64ff9b 56.5px,#75ff8a 59.5px,#78ff87 71.5px,#76ff89 83.5px,#69ff96 86.5px,#26ffd9 92.5px,#24ffdb 93.5px,#31ffce 95.5px,#4affb5 97.5px,#91ff6e 101.5px,#b1ff4e 104.5px,#c0ff3f 108.5px,#d2ff2d 135.5px,#d4ff2b 144.5px)"></i>
<i style="background:linear-gradient(90deg,#cfff30 0.5px,#c2ff3d 31.5px,#b7ff48 37.5px,#a3ff5c 40.5px,#79ff86 43.5px,#46ffb9 46.5px,#31ffce 48.5px,#2affd5 50.5px,#3bffc4 52.5px,#69ff96 56.5px,#79ff86 59.5px,#7cff83 81.5px,#74ff8b 85.5px,#5bffa4 88.5px,#2bffd4 92.5px,#2cffd3 94.5px,#3dffc2 96.5px,#8fff70 101.5px,#afff50 104.5px,#bdff42 108.5px,#cbff34 129.5px,#cfff30 144.5px)"></i>
<i style="background:linear-gradient(90deg,#cbff34 0.5px,#c0ff3f 30.5px,#b4ff4b 37.5px,#a1ff5e 40.5px,#7aff85 43.5px,#49ffb6 46.5px,#34ffcb 48.5px,#2fffd0 50.5px,#40ffbf 52.5px,#6dff92 56.5px,#7bff84 59.5px,#7cff83 83.5px,#71ff8e 86.5px,#53ffac 89.5px,#31ffce 92.5px,#30ffcf 94.5px,#41ffbe 96.5px,#9bff64 102.5px,#b1ff4e 105.5px,#bfff40 112.5px,#cbff34 141.5px,#cbff34 144.5px)"></i>
<i style="background:linear-gradient(90deg,#c8ff37 0.5px,#bdff42 30.5px,#b1ff4e 37.5px,#a0ff5f 40.5px,#7bff84 43.5px,#42ffbd 47.5px,#36ffc9 49.5px,#3bffc4 51.5px,#6eff91 56.5px,#7bff84 59.5px,#7cff83 83.5px,#72ff8d 86.5px,#57ffa8 89.5px,#37ffc8 92.5px,#36ffc9 94.5px,#46ffb9 96.5px,#9f6 102.5px,#aeff51 105.5px,#bdff42 113.5px,#c8ff37 143.5px,#c8ff37 144.5px)"></i>
<i style="background:linear-gradient(90deg,#c5ff3a 0.5px,#bf4 29.5px,#aeff51 37.5px,#9eff61 40.5px,#7dff82 43.5px,#48ffb7 47.5px,#3dffc2 49.5px,#42ffbd 51.5px,#6fff90 56.5px,#7bff84 60.5px,#78ff87 84.5px,#6bff94 87.5px,#3dffc2 92.5px,#3dffc2 94.5px,#4cffb3 96.5px,#8eff71 101.5px,#a6ff59 104.5px,#b7ff48 110.5px,#c4ff3b 133.5px,#c5ff3a 144.5px)"></i>
<i style="background:linear-gradient(90deg,#c2ff3d 0.5px,#b8ff47 29.5px,#abff54 37.5px,#94ff6b 41.5px,#4fffb0 47.5px,#4fb 49.5px,#47ffb8 51.5px,#6dff92 56.5px,#7f8 60.5px,#74ff8b 84.5px,#63ff9c 88.5px,#43ffbc 92.5px,#4fb 94.5px,#52ffad 96.5px,#97ff68 102.5px,#abff54 106.5px,#bcff43 119.5px,#c3ff3c 144.5px)"></i>
<i style="background:linear-gradient(90deg,#c0ff3f 0.5px,#b6ff49 28.5px,#a8ff57 37.5px,#93ff6c 41.5px,#56ffa9 47.5px,#4affb5 50.5px,#6eff91 57.5px,#71ff8e 64.5px,#6eff91 85.5px,#5cffa3 89.5px,#49ffb6 92.5px,#50ffaf 95.5px,#95ff6a 102.5px,#a8ff57 106.5px,#b9ff46 120.5px,#c0ff3f 144.5px)"></i>
<i style="background:linear-gradient(90deg,#bdff42 0.5px,#b2ff4d 28.5px,#a1ff5e 38.5px,#8aff75 42.5px,#5bffa4 47.5px,#4fffb0 50.5px,#69ff96 57.5px,#69ff96 85.5px,#56ffa9 90.5px,#4dffb2 92.5px,#5fa 95.5px,#93ff6c 102.5px,#a7ff58 107.5px,#b8ff47 123.5px,#bdff42 144.5px)"></i>
<i style="background:linear-gradient(90deg,#baff45 0.5px,#afff50 28.5px,#9eff61 38.5px,#80ff7f 43.5px,#59ffa6 48.5px,#52ffad 51.5px,#64ff9b 57.5px,#61ff9e 78.5px,#62ff9d 86.5px,#4fffb0 92.5px,#59ffa6 95.5px,#96ff69 103.5px,#a7ff58 109.5px,#b7ff48 127.5px,#baff45 144.5px)"></i>
<i style="background:linear-gradient(90deg,#b7ff48 0.5px,#adff52 27.5px,#9dff62 37.5px,#86ff79 42.5px,#57ffa8 49.5px,#54ffab 51.5px,#5fffa0 58.5px,#57ffa8 75.5px,#5bffa4 87.5px,#51ffae 92.5px,#62ff9d 96.5px,#92ff6d 103.5px,#a5ff5a 110.5px,#b5ff4a 129.5px,#b7ff48 144.5px)"></i>
<i style="background:linear-gradient(90deg,#b5ff4a 0.5px,#af5 27.5px,#9f6 37.5px,#7dff82 43.5px,#58ffa7 49.5px,#5fa 52.5px,#57ffa8 60.5px,#4fffb0 74.5px,#5fa 88.5px,#53ffac 93.5px,#92ff6d 104.5px,#a6ff59 113.5px,#b3ff4c 134.5px,#b5ff4a 144.5px)"></i>
<i style="background:linear-gradient(90deg,#b2ff4d 0.5px,#a8ff57 26.5px,#94ff6b 37.5px,#7aff85 43.5px,#58ffa7 49.5px,#54ffab 53.5px,#46ffb9 74.5px,#50ffaf 91.5px,#5cffa3 95.5px,#89ff76 103.5px,#a2ff5d 113.5px,#b0ff4f 133.5px,#b2ff4d 144.5px)"></i>
<i style="background:linear-gradient(90deg,#afff50 0.5px,#a4ff5b 26.5px,#8cff73 38.5px,#6cff93 45.5px,#51ffae 51.5px,#3dffc2 72.5px,#4effb1 92.5px,#6bff94 98.5px,#8cff73 105.5px,#a4ff5b 117.5px,#afff50 142.5px,#afff50 144.5px)"></i>
<i style="background:linear-gradient(90deg,#acff53 0.5px,#a2ff5d 25.5px,#8bff74 37.5px,#68ff97 45.5px,#4effb1 51.5px,#35ffca 70.5px,#3bffc4 81.5px,#4fffb0 93.5px,#87ff78 105.5px,#a0ff5f 117.5px,#acff53 138.5px,#acff53 144.5px)"></i>
<i style="background:linear-gradient(90deg,#af5 0.5px,#9fff60 24.5px,#89ff76 36.5px,#6aff95 44.5px,#4affb5 51.5px,#2dffd2 69.5px,#32ffcd 80.5px,#4bffb4 93.5px,#82ff7d 105.5px,#9cff63 117.5px,#a9ff56 138.5px,#af5 144.5px)"></i>
<i style="background:linear-gradient(90deg,#a6ff59 0.5px,#9bff64 24.5px,#85ff7a 36.5px,#58ffa7 47.5px,#4fb 52.5px,#25ffda 68.5px,#27ffd8 78.5px,#47ffb8 93.5px,#80ff7f 106.5px,#9aff65 118.5px,#a6ff59 140.5px,#a7ff58 144.5px)"></i>
<i style="background:linear-gradient(90deg,#a3ff5c 0.5px,#98ff67 24.5px,#80ff7f 36.5px,#4bffb4 49.5px,#3fc 57.5px,#1dffe2 69.5px,#21ffde 79.5px,#43ffbc 93.5px,#7cff83 106.5px,#96ff69 118.5px,#a2ff5d 139.5px,#a3ff5c 144.5px)"></i>
<i style="background:linear-gradient(90deg,#9fff60 0.5px,#94ff6b 24.5px,#7cff83 36.5px,#4cffb3 48.5px,#38ffc7 53.5px,#18ffe7 67.5px,#17ffe8 76.5px,#31ffce 89.5px,#3fffc0 93.5px,#74ff8b 105.5px,#8fff70 116.5px,#9eff61 134.5px,#a0ff5f 144.5px)"></i>
<i style="background:linear-gradient(90deg,#9cff63 0.5px,#92ff6d 23.5px,#7bff84 35.5px,#4dffb2 47.5px,#34ffcb 53.5px,#13ffec 67.5px,#1fe 76.5px,#2affd5 88.5px,#3bffc4 93.5px,#68ff97 103.5px,#8f7 114.5px,#9f6 130.5px,#9cff63 144.5px)"></i>
<i style="background:linear-gradient(90deg,#9f6 0.5px,#8eff71 23.5px,#7f8 35.5px,#4fffb0 46.5px,#30ffcf 53.5px,#0ffff0 66.5px,#0bfff4 75.5px,#20ffdf 86.5px,#37ffc8 93.5px,#65ff9a 103.5px,#86ff79 115.5px,#96ff69 132.5px,#9f6 144.5px)"></i>
<i style="background:linear-gradient(90deg,#95ff6a 0.5px,#8bff74 23.5px,#71ff8e 36.5px,#4cffb3 46.5px,#2dffd2 53.5px,#0bfff4 66.5px,#08fff7 75.5px,#1dffe2 86.5px,#34ffcb 93.5px,#63ff9c 103.5px,#84ff7b 116.5px,#93ff6c 134.5px,#95ff6a 144.5px)"></i>
<i style="background:linear-gradient(90deg,#92ff6d 0.5px,#87ff78 23.5px,#6cff93 37.5px,#45ffba 47.5px,#2affd5 53.5px,#09fff6 66.5px,#05fffa 75.5px,#1affe5 86.5px,#32ffcd 93.5px,#60ff9f 103.5px,#81ff7e 116.5px,#90ff6f 134.5px,#92ff6d 144.5px)"></i>
<i style="background:linear-gradient(90deg,#8eff71 0.5px,#84ff7b 23.5px,#6aff95 37.5px,#43ffbc 47.5px,#29ffd6 53.5px,#07fff8 66.5px,#03fffc 75.5px,#19ffe6 86.5px,#30ffcf 93.5px,#5effa1 103.5px,#7aff85 114.5px,#8bff74 130.5px,#8eff71 144.5px)"></i>
<i style="background:linear-gradient(90deg,#8bff74 0.5px,#7fff80 24.5px,#68ff97 37.5px,#42ffbd 47.5px,#28ffd7 53.5px,#07fff8 66.5px,#03fffc 75.5px,#18ffe7 86.5px,#2fffd0 93.5px,#5cffa3 103.5px,#78ff87 114.5px,#89ff76 133.5px,#8bff74 144.5px)"></i>
<i style="background:linear-gradient(90deg,#87ff78 0.5px,#7bff84 26.5px,#64ff9b 38.5px,#3cffc3 48.5px,#27ffd8 53.5px,#08fff7 66.5px,#04fffb 75.5px,#18ffe7 86.5px,#2effd1 93.5px,#5bffa4 103.5px,#78ff87 115.5px,#86ff79 135.5px,#87ff78 144.5px)"></i>
<i style="background:linear-gradient(90deg,#84ff7b 0.5px,#7aff85 25.5px,#62ff9d 38.5px,#3cffc3 48.5px,#1fffe0 57.5px,#08fff7 69.5px,#0dfff2 79.5px,#2effd1 93.5px,#5affa5 103.5px,#76ff89 115.5px,#83ff7c 135.5px,#84ff7b 144.5px)"></i>
<i style="background:linear-gradient(90deg,#82ff7d 0.5px,#78ff87 25.5px,#61ff9e 38.5px,#30ffcf 52.5px,#0ffff0 67.5px,#0ffff0 77.5px,#2cffd3 91.5px,#42ffbd 97.5px,#67ff98 108.5px,#7bff84 122.5px,#82ff7d 144.5px)"></i>
<i style="background:linear-gradient(90deg,#7fff80 0.5px,#75ff8a 26.5px,#5dffa2 39.5px,#35ffca 51.5px,#15ffea 67.5px,#14ffeb 77.5px,#32ffcd 92.5px,#4affb5 99.5px,#6aff95 110.5px,#7bff84 126.5px,#80ff7f 144.5px)"></i>
<i style="background:linear-gradient(90deg,#7dff82 0.5px,#73ff8c 26.5px,#5cffa3 39.5px,#3bffc4 50.5px,#1affe5 67.5px,#1bffe4 78.5px,#3fffc0 96.5px,#62ff9d 107.5px,#76ff89 121.5px,#7dff82 144.5px)"></i>
</div>
<div class="ax" style="left:55px;top:5.0px;width:1px;height:135.0px"></div>
<div class="ax" style="left:55px;top:139px;width:144.9px;height:1px"></div>
<div class="ax" style="left:56.2px;top:138.1px;width:1px;height:3px"></div>
<div class="tl" style="left:45.7px;top:141.9px;width:20px;text-align:center">-80</div>
<div class="ax" style="left:73.9px;top:138.1px;width:1px;height:3px"></div>
<div class="tl" style="left:63.4px;top:141.9px;width:20px;text-align:center">-60</div>
<div class="ax" style="left:91.6px;top:138.1px;width:1px;height:3px"></div>
<div class="tl" style="left:81.1px;top:141.9px;width:20px;text-align:center">-40</div>
<div class="ax" style="left:109.3px;top:138.1px;width:1px;height:3px"></div>
<div class="tl" style="left:98.8px;top:141.9px;width:20px;text-align:center">-20</div>
<div class="ax" style="left:127.0px;top:138.1px;width:1px;height:3px"></div>
<div class="tl" style="left:116.5px;top:141.9px;width:20px;text-align:center">0</div>
<div class="ax" style="left:144.7px;top:138.1px;width:1px;height:3px"></div>
<div class="tl" style="left:134.2px;top:141.9px;width:20px;text-align:center">20</div>
<div class="ax" style="left:162.4px;top:138.1px;width:1px;height:3px"></div>
<div class="tl" style="left:151.9px;top:141.9px;width:20px;text-align:center">40</div>
<div class="ax" style="left:180.1px;top:138.1px;width:1px;height:3px"></div>
<div class="tl" style="left:169.6px;top:141.9px;width:20px;text-align:center">60</div>
<div class="ax" style="left:197.8px;top:138.1px;width:1px;height:3px"></div>
<div class="tl" style="left:187.3px;top:141.9px;width:20px;text-align:center">80</div>
<div class="ax" style="left:53.5px;top:133.1px;width:3px;height:1px"></div>
<div class="tl" style="left:32.3px;top:130.4px;width:20px;text-align:right">-60</div>
<div class="ax" style="left:53.5px;top:107.2px;width:3px;height:1px"></div>
<div class="tl" style="left:32.3px;top:104.5px;width:20px;text-align:right">-40</div>
<div class="ax" style="left:53.5px;top:81.3px;width:3px;height:1px"></div>
<div class="tl" style="left:32.3px;top:78.6px;width:20px;text-align:right">-20</div>
<div class="ax" style="left:53.5px;top:55.5px;width:3px;height:1px"></div>
<div class="tl" style="left:32.3px;top:52.8px;width:20px;text-align:right">0</div>
<div class="ax" style="left:53.5px;top:29.6px;width:3px;height:1px"></div>
<div class="tl" style="left:32.3px;top:26.9px;width:20px;text-align:right">20</div>
<div class="al" style="left:84.2px;top:153.1px;width:80px;text-align:center">x(m) (x10^-9)</div>
<div class="al yl" style="left:-5.6px;top:71.3px;width:80px;text-align:center">y(m) (x10^-9)</div>
<div class="tt" style="left:2.9px;top:6.2px;transform:scaleX(0.81)">Ex</div>
<div class="p" style="left:296px;top:4.4px;width:146.1px;height:135.7px">
<i style="background:linear-gradient(90deg,#7bff84 0.5px,#7bff84 57.5px,#85ff7a 69.5px,#9dff62 80.5px,#a3ff5c 109.5px,#a1ff5e 146.5px)"></i>
<i style="background:linear-gradient(90deg,#7bff84 0.5px,#7aff85 57.5px,#85ff7a 69.5px,#9dff62 80.5px,#a4ff5b 108.5px,#a1ff5e 146.5px)"></i>
<i style="background:linear-gradient(90deg,#7bff84 0.5px,#7aff85 56.5px,#85ff7a 69.5px,#9dff62 80.5px,#a4ff5b 107.5px,#a1ff5e 146.5px)"></i>
<i style="background:linear-gradient(90deg,#7bff84 0.5px,#79ff86 56.5px,#85ff7a 69.5px,#9dff62 80.5px,#a5ff5a 106.5px,#a1ff5e 146.5px)"></i>
<i style="background:linear-gradient(90deg,#7bff84 0.5px,#78ff87 55.5px,#85ff7a 69.5px,#9dff62 80.5px,#a5ff5a 105.5px,#a1ff5e 146.5px)"></i>
<i style="background:linear-gradient(90deg,#7bff84 0.5px,#78ff87 55.5px,#85ff7a 69.5px,#9dff62 80.5px,#a6ff59 104.5px,#a1ff5e 146.5px)"></i>
<i style="background:linear-gradient(90deg,#7bff84 0.5px,#78ff87 55.5px,#85ff7a 69.5px,#9eff61 80.5px,#a6ff59 104.5px,#a1ff5e 146.5px)"></i>
<i style="background:linear-gradient(90deg,#7bff84 0.5px,#7f8 54.5px,#82ff7d 68.5px,#9eff61 80.5px,#a7ff58 103.5px,#a1ff5e 146.5px)"></i>
<i style="background:linear-gradient(90deg,#7bff84 0.5px,#76ff89 54.5px,#82ff7d 68.5px,#9eff61 80.5px,#a7ff58 102.5px,#a1ff5e 146.5px)"></i>
<i style="background:linear-gradient(90deg,#7bff84 0.5px,#76ff89 54.5px,#82ff7d 68.5px,#9eff61 80.5px,#a8ff57 101.5px,#a1ff5e 146.5px)"></i>
<i style="background:linear-gradient(90deg,#7bff84 0.5px,#74ff8b 53.5px,#82ff7d 68.5px,#9fff60 80.5px,#a9ff56 101.5px,#a1ff5e 146.5px)"></i>
<i style="background:linear-gradient(90deg,#7bff84 0.5px,#74ff8b 53.5px,#82ff7d 68.5px,#9fff60 80.5px,#a9ff56 100.5px,#a1ff5e 146.5px)"></i>
<i style="background:linear-gradient(90deg,#7bff84 0.5px,#73ff8c 53.5px,#82ff7d 68.5px,#9fff60 80.5px,#af5 99.5px,#a1ff5e 146.5px)"></i>
<i style="background:linear-gradient(90deg,#7bff84 0.5px,#72ff8d 53.5px,#82ff7d 68.5px,#9fff60 80.5px,#abff54 99.5px,#a1ff5e 146.5px)"></i>
<i style="background:linear-gradient(90deg,#7bff84 0.5px,#71ff8e 52.5px,#81ff7e 68.5px,#a0ff5f 80.5px,#acff53 98.5px,#a1ff5e 146.5px)"></i>
<i style="background:linear-gradient(90deg,#7bff84 0.5px,#70ff8f 52.5px,#81ff7e 68.5px,#a0ff5f 80.5px,#adff52 98.5px,#a1ff5e 146.5px)"></i>
<i style="background:linear-gradient(90deg,#7bff84 0.5px,#6fff90 52.5px,#7fff80 67.5px,#a1ff5e 80.5px,#adff52 97.5px,#a1ff5e 146.5px)"></i>
<i style="background:linear-gradient(90deg,#7bff84 0.5px,#6fff90 39.5px,#71ff8e 56.5px,#83ff7c 69.5px,#a1ff5e 80.5px,#aeff51 97.5px,#a1ff5e 146.5px)"></i>
<i style="background:linear-gradient(90deg,#7bff84 0.5px,#70ff8f 36.5px,#6eff91 54.5px,#81ff7e 68.5px,#a1ff5e 80.5px,#afff50 96.5px,#a1ff5e 145.5px,#a1ff5e 146.5px)"></i>
<i style="background:linear-gradient(90deg,#7bff84 0.5px,#70ff8f 35.5px,#6cff93 53.5px,#80ff7f 68.5px,#a2ff5d 80.5px,#b1ff4e 96.5px,#a1ff5e 143.5px,#a1ff5e 146.5px)"></i>
<i style="background:linear-gradient(90deg,#7bff84 0.5px,#70ff8f 34.5px,#6bff94 52.5px,#7eff81 67.5px,#a2ff5d 80.5px,#b2ff4d 95.5px,#a1ff5e 142.5px,#a0ff5f 146.5px)"></i>
<i style="background:linear-gradient(90deg,#7bff84 0.5px,#70ff8f 33.5px,#69ff96 51.5px,#7bff84 66.5px,#a4ff5b 81.5px,#b3ff4c 96.5px,#a1ff5e 139.5px,#a0ff5f 146.5px)"></i>
<i style="background:linear-gradient(90deg,#7bff84 0.5px,#70ff8f 32.5px,#68ff97 51.5px,#7bff84 66.5px,#a5ff5a 81.5px,#b4ff4b 95.5px,#a1ff5e 138.5px,#a0ff5f 146.5px)"></i>
<i style="background:linear-gradient(90deg,#7bff84 0.5px,#71ff8e 31.5px,#6f9 50.5px,#76ff89 64.5px,#a8ff57 82.5px,#b6ff49 96.5px,#a1ff5e 136.5px,#a0ff5f 146.5px)"></i>
<i style="background:linear-gradient(90deg,#7bff84 0.5px,#71ff8e 30.5px,#64ff9b 50.5px,#76ff89 64.5px,#a8ff57 82.5px,#b7ff48 95.5px,#a2ff5d 135.5px,#a0ff5f 146.5px)"></i>
<i style="background:linear-gradient(90deg,#7bff84 0.5px,#71ff8e 30.5px,#63ff9c 50.5px,#73ff8c 63.5px,#90ff6f 73.5px,#abff54 83.5px,#b9ff46 95.5px,#a2ff5d 134.5px,#a0ff5f 146.5px)"></i>
<i style="background:linear-gradient(90deg,#7bff84 0.5px,#71ff8e 29.5px,#61ff9e 50.5px,#70ff8f 62.5px,#8cff73 72.5px,#af5 82.5px,#baff45 94.5px,#b1ff4e 109.5px,#a2ff5d 134.5px,#a0ff5f 146.5px)"></i>
<i style="background:linear-gradient(90deg,#7bff84 0.5px,#71ff8e 29.5px,#5fffa0 50.5px,#6fff90 62.5px,#8cff73 72.5px,#abff54 82.5px,#bcff43 94.5px,#b2ff4d 109.5px,#a2ff5d 133.5px,#a0ff5f 146.5px)"></i>
<i style="background:linear-gradient(90deg,#7bff84 0.5px,#71ff8e 28.5px,#5dffa2 49.5px,#68ff97 59.5px,#8f7 71.5px,#acff53 82.5px,#beff41 94.5px,#b4ff4b 108.5px,#a3ff5c 130.5px,#a0ff5f 146.5px)"></i>
<i style="background:linear-gradient(90deg,#7bff84 0.5px,#71ff8e 28.5px,#5bffa4 49.5px,#6f9 59.5px,#8f7 71.5px,#adff52 82.5px,#c0ff3f 93.5px,#baff45 104.5px,#a4ff5b 126.5px,#a0ff5f 146.5px)"></i>
<i style="background:linear-gradient(90deg,#7bff84 0.5px,#72ff8d 27.5px,#59ffa6 49.5px,#63ff9c 58.5px,#8f7 71.5px,#adff52 82.5px,#c2ff3d 93.5px,#bdff42 103.5px,#a5ff5a 125.5px,#a0ff5f 146.5px)"></i>
<i style="background:linear-gradient(90deg,#7cff83 0.5px,#71ff8e 27.5px,#56ffa9 49.5px,#61ff9e 58.5px,#8f7 71.5px,#b1ff4e 83.5px,#c4ff3b 93.5px,#beff41 103.5px,#a6ff59 123.5px,#a0ff5f 146.5px)"></i>
<i style="background:linear-gradient(90deg,#7cff83 0.5px,#71ff8e 27.5px,#54ffab 49.5px,#5dffa2 57.5px,#8f7 71.5px,#b2ff4d 83.5px,#c7ff38 93.5px,#c1ff3e 102.5px,#a7ff58 122.5px,#a0ff5f 146.5px)"></i>
<i style="background:linear-gradient(90deg,#7cff83 0.5px,#72ff8d 26.5px,#51ffae 50.5px,#5dffa2 58.5px,#8cff73 72.5px,#b9ff46 85.5px,#caff35 94.5px,#bfff40 104.5px,#a7ff58 122.5px,#a0ff5f 146.5px)"></i>
<i style="background:linear-gradient(90deg,#7cff83 0.5px,#72ff8d 26.5px,#4fffb0 50.5px,#5bffa4 58.5px,#8cff73 72.5px,#beff41 86.5px,#cdff32 94.5px,#c0ff3f 104.5px,#a8ff57 121.5px,#a0ff5f 146.5px)"></i>
<i style="background:linear-gradient(90deg,#7cff83 0.5px,#72ff8d 26.5px,#53ffac 44.5px,#4cffb3 51.5px,#5dffa2 59.5px,#95ff6a 74.5px,#cbff34 90.5px,#cfff30 97.5px,#a9ff56 119.5px,#a0ff5f 146.5px)"></i>
<i style="background:linear-gradient(90deg,#7cff83 0.5px,#72ff8d 26.5px,#56ffa9 42.5px,#48ffb7 50.5px,#54ffab 57.5px,#95ff6a 74.5px,#cdff32 90.5px,#d3ff2c 96.5px,#abff54 118.5px,#a0ff5f 142.5px,#9fff60 146.5px)"></i>
<i style="background:linear-gradient(90deg,#7cff83 0.5px,#73ff8c 25.5px,#59ffa6 40.5px,#45ffba 50.5px,#4fffb0 56.5px,#95ff6a 74.5px,#d3ff2c 91.5px,#d4ff2b 97.5px,#adff52 116.5px,#a0ff5f 137.5px,#9fff60 146.5px)"></i>
<i style="background:linear-gradient(90deg,#7cff83 0.5px,#73ff8c 25.5px,#5bffa4 39.5px,#41ffbe 50.5px,#49ffb6 55.5px,#d6ff29 91.5px,#d9ff26 96.5px,#afff50 115.5px,#a1ff5e 134.5px,#9fff60 146.5px)"></i>
<i style="background:linear-gradient(90deg,#7cff83 0.5px,#73ff8c 25.5px,#5dffa2 38.5px,#3effc1 50.5px,#45ffba 55.5px,#daff25 91.5px,#df2 96.5px,#b0ff4f 114.5px,#a1ff5e 132.5px,#9fff60 146.5px)"></i>
<i style="background:linear-gradient(90deg,#7dff82 0.5px,#73ff8c 25.5px,#5cffa3 38.5px,#3affc5 50.5px,#42ffbd 55.5px,#e0ff1f 92.5px,#deff21 97.5px,#b4ff4b 112.5px,#a3ff5c 128.5px,#9fff60 146.5px)"></i>
<i style="background:linear-gradient(90deg,#7dff82 0.5px,#73ff8c 25.5px,#5bffa4 38.5px,#35ffca 50.5px,#3bffc4 54.5px,#e5ff1a 92.5px,#e4ff1b 96.5px,#b6ff49 111.5px,#a4ff5b 126.5px,#9fff60 146.5px)"></i>
<i style="background:linear-gradient(90deg,#7dff82 0.5px,#73ff8c 25.5px,#5effa1 37.5px,#30ffcf 50.5px,#36ffc9 54.5px,#9aff65 75.5px,#e9ff16 92.5px,#ebff14 95.5px,#b8ff47 110.5px,#a5ff5a 124.5px,#9fff60 146.5px)"></i>
<i style="background:linear-gradient(90deg,#7dff82 0.5px,#74ff8b 25.5px,#5effa1 37.5px,#36ffc9 47.5px,#2affd5 51.5px,#37ffc8 55.5px,#71ff8e 66.5px,#ceff31 86.5px,#efff10 92.5px,#f0ff0f 95.5px,#bdff42 108.5px,#a7ff58 121.5px,#9eff61 146.5px)"></i>
<i style="background:linear-gradient(90deg,#7dff82 0.5px,#74ff8b 25.5px,#5effa1 37.5px,#39ffc6 46.5px,#2fd 51.5px,#34ffcb 55.5px,#68ff97 64.5px,#c9ff36 85.5px,#f9ff06 93.5px,#f7ff08 95.5px,#c7ff38 105.5px,#acff53 116.5px,#9fff60 135.5px,#9eff61 146.5px)"></i>
<i style="background:linear-gradient(90deg,#7eff81 0.5px,#74ff8b 25.5px,#5effa1 37.5px,#3dffc2 45.5px,#2fd 49.5px,#14ffeb 51.5px,#21ffde 53.5px,#59ffa6 61.5px,#caff35 85.5px,#fdff02 92.5px,#fff500 94.5px,#fffc00 95.5px,#d3ff2c 102.5px,#b5ff4a 111.5px,#a3ff5c 125.5px,#9eff61 146.5px)"></i>
<i style="background:linear-gradient(90deg,#7eff81 0.5px,#75ff8a 25.5px,#5fffa0 37.5px,#42ffbd 44.5px,#25ffda 48.5px,#09fff6 50.5px,#01fffe 51.5px,#2effd1 55.5px,#59ffa6 61.5px,#caff35 85.5px,#faff05 91.5px,#fff600 92.5px,#ffe200 93.5px,#ffda00 94.5px,#fffd00 96.5px,#dfff20 100.5px,#bfff40 107.5px,#a9ff56 118.5px,#9eff61 140.5px,#9eff61 146.5px)"></i>
<i style="background:linear-gradient(90deg,#7eff81 0.5px,#75ff8a 25.5px,#5fffa0 37.5px,#41ffbe 44.5px,#21ffde 48.5px,#1fe 49.5px,#00f2ff 50.5px,#00e1ff 51.5px,#00f8ff 52.5px,#16ffe9 53.5px,#46ffb9 58.5px,#6eff91 65.5px,#c3ff3c 84.5px,#e8ff17 89.5px,#ff0 91.5px,#ffe700 92.5px,#ffc100 93.5px,#ffb100 94.5px,#ffcf00 95.5px,#fff300 96.5px,#f8ff07 97.5px,#d9ff26 101.5px,#bcff43 108.5px,#a6ff59 120.5px,#9dff62 146.5px)"></i>
<i style="background:linear-gradient(90deg,#7eff81 0.5px,#76ff89 25.5px,#60ff9f 37.5px,#42ffbd 44.5px,#2bffd4 47.5px,#1fffe0 48.5px,#0cfff3 49.5px,#00e1ff 50.5px,#00c9ff 51.5px,#00eaff 52.5px,#14ffeb 53.5px,#23ffdc 54.5px,#4fffb0 59.5px,#78ff87 67.5px,#c1ff3e 84.5px,#e7ff18 89.5px,#fffb00 91.5px,#ffda00 92.5px,#ffa700 93.5px,#ff9000 94.5px,#ffb800 95.5px,#ffeb00 96.5px,#faff05 97.5px,#dfff20 100.5px,#c2ff3d 106.5px,#af5 116.5px,#9eff61 136.5px,#9dff62 146.5px)"></i>
<i style="background:linear-gradient(90deg,#7fff80 0.5px,#76ff89 25.5px,#61ff9e 37.5px,#43ffbc 44.5px,#20ffdf 48.5px,#0ffff0 49.5px,#00e4ff 50.5px,#00ceff 51.5px,#00efff 52.5px,#19ffe6 53.5px,#28ffd7 54.5px,#3affc5 56.5px,#60ff9f 61.5px,#8cff73 72.5px,#b7ff48 83.5px,#daff25 88.5px,#fffb00 91.5px,#ffd800 92.5px,#ffac00 93.5px,#ff9400 94.5px,#ffb400 95.5px,#ffe900 96.5px,#fbff04 97.5px,#deff21 100.5px,#c1ff3e 106.5px,#af5 116.5px,#9eff61 136.5px,#9dff62 146.5px)"></i>
<i style="background:linear-gradient(90deg,#7fff80 0.5px,#76ff89 26.5px,#62ff9d 37.5px,#4fb 44.5px,#23ffdc 48.5px,#17ffe8 49.5px,#00fbff 50.5px,#00edff 51.5px,#07fff8 52.5px,#24ffdb 53.5px,#2fffd0 54.5px,#3fc 55.5px,#52ffad 58.5px,#73ff8c 64.5px,#aeff51 82.5px,#cf3 87.5px,#ebff14 90.5px,#fdff02 91.5px,#ffe500 92.5px,#ffc600 93.5px,#ffb400 94.5px,#ffc800 95.5px,#fe0 96.5px,#f9ff06 97.5px,#df2 100.5px,#bfff40 106.5px,#a8ff57 117.5px,#9dff62 139.5px,#9dff62 146.5px)"></i>
<i style="background:linear-gradient(90deg,#7fff80 0.5px,#76ff89 26.5px,#63ff9c 37.5px,#46ffb9 44.5px,#21ffde 49.5px,#15ffea 50.5px,#1fe 51.5px,#30ffcf 53.5px,#3bffc4 55.5px,#58ffa7 58.5px,#78ff87 64.5px,#a8ff57 82.5px,#c5ff3a 87.5px,#e3ff1c 90.5px,#f4ff0b 91.5px,#fff400 92.5px,#ffd700 94.5px,#ffde00 95.5px,#fff600 96.5px,#f6ff09 97.5px,#dbff24 100.5px,#beff41 106.5px,#a7ff58 117.5px,#9dff62 140.5px,#9cff63 146.5px)"></i>
<i style="background:linear-gradient(90deg,#7fff80 0.5px,#7f8 26.5px,#64ff9b 37.5px,#48ffb7 44.5px,#29ffd6 48.5px,#27ffd8 51.5px,#39ffc6 53.5px,#43ffbc 55.5px,#65ff9a 59.5px,#80ff7f 65.5px,#a0ff5f 81.5px,#beff41 87.5px,#dbff24 90.5px,#feff01 92.5px,#ffed00 94.5px,#ffef00 95.5px,#feff01 96.5px,#e0ff1f 99.5px,#c0ff3f 105.5px,#a9ff56 115.5px,#9dff62 135.5px,#9cff63 146.5px)"></i>
<i style="background:linear-gradient(90deg,#80ff7f 0.5px,#78ff87 26.5px,#63ff9c 38.5px,#45ffba 45.5px,#2dffd2 48.5px,#2dffd2 50.5px,#42ffbd 54.5px,#6aff95 59.5px,#83ff7c 65.5px,#9cff63 81.5px,#b9ff46 87.5px,#d3ff2c 90.5px,#fdff02 93.5px,#fffa00 94.5px,#fffe00 95.5px,#d6ff29 100.5px,#b8ff47 107.5px,#a4ff5b 119.5px,#9cff63 146.5px)"></i>
<i style="background:linear-gradient(90deg,#80ff7f 0.5px,#7f8 27.5px,#64ff9b 38.5px,#48ffb7 45.5px,#2dffd2 49.5px,#48ffb7 54.5px,#6eff91 59.5px,#85ff7a 65.5px,#9aff65 81.5px,#b4ff4b 87.5px,#d6ff29 91.5px,#f4ff0b 94.5px,#ef1 96.5px,#c9ff36 102.5px,#aeff51 111.5px,#9eff61 127.5px,#9cff63 146.5px)"></i>
<i style="background:linear-gradient(90deg,#80ff7f 0.5px,#78ff87 27.5px,#63ff9c 39.5px,#45ffba 46.5px,#32ffcd 50.5px,#6cff93 58.5px,#84ff7b 64.5px,#8eff71 74.5px,#9bff64 82.5px,#b7ff48 88.5px,#e8ff17 94.5px,#e7ff18 96.5px,#bfff40 104.5px,#a8ff57 114.5px,#9cff63 134.5px,#9bff64 146.5px)"></i>
<i style="background:linear-gradient(90deg,#81ff7e 0.5px,#79ff86 27.5px,#64ff9b 39.5px,#3bffc4 49.5px,#3fffc0 51.5px,#6aff95 57.5px,#86ff79 64.5px,#8eff71 74.5px,#9f6 82.5px,#b9ff46 89.5px,#deff21 94.5px,#e0ff1f 96.5px,#b9ff46 105.5px,#a5ff5a 116.5px,#9bff64 140.5px,#9bff64 146.5px)"></i>
<i style="background:linear-gradient(90deg,#81ff7e 0.5px,#79ff86 28.5px,#63ff9c 40.5px,#42ffbd 49.5px,#47ffb8 51.5px,#69ff96 56.5px,#85ff7a 63.5px,#8eff71 71.5px,#93ff6c 80.5px,#af5 87.5px,#ceff31 93.5px,#daff25 95.5px,#c9ff36 100.5px,#aeff51 109.5px,#9eff61 124.5px,#9bff64 146.5px)"></i>
<i style="background:linear-gradient(90deg,#81ff7e 0.5px,#79ff86 28.5px,#65ff9a 40.5px,#48ffb7 49.5px,#4effb1 51.5px,#68ff97 55.5px,#86ff79 63.5px,#8eff71 71.5px,#94ff6b 81.5px,#afff50 89.5px,#c7ff38 93.5px,#d3ff2c 95.5px,#caff35 99.5px,#adff52 109.5px,#9dff62 125.5px,#9aff65 146.5px)"></i>
<i style="background:linear-gradient(90deg,#81ff7e 0.5px,#7aff85 28.5px,#67ff98 40.5px,#4effb1 49.5px,#5fa 51.5px,#6dff92 55.5px,#8aff75 64.5px,#8dff72 75.5px,#97ff68 83.5px,#b9ff46 92.5px,#cdff32 95.5px,#c6ff39 99.5px,#af5 110.5px,#9cff63 127.5px,#9aff65 146.5px)"></i>
<i style="background:linear-gradient(90deg,#82ff7d 0.5px,#7aff85 29.5px,#64ff9b 42.5px,#53ffac 49.5px,#5affa5 51.5px,#6eff91 54.5px,#8bff74 64.5px,#91ff6e 81.5px,#afff50 91.5px,#c8ff37 95.5px,#c3ff3c 99.5px,#a7ff58 111.5px,#9bff64 130.5px,#9aff65 146.5px)"></i>
<i style="background:linear-gradient(90deg,#82ff7d 0.5px,#7bff84 29.5px,#6f9 42.5px,#58ffa7 49.5px,#60ff9f 51.5px,#72ff8d 54.5px,#8dff72 65.5px,#90ff6f 81.5px,#afff50 92.5px,#c3ff3c 95.5px,#bfff40 99.5px,#a4ff5b 113.5px,#9aff65 137.5px,#9aff65 146.5px)"></i>
<i style="background:linear-gradient(90deg,#82ff7d 0.5px,#7bff84 29.5px,#6f9 43.5px,#5dffa2 49.5px,#65ff9a 51.5px,#7f8 54.5px,#8eff71 65.5px,#8eff71 81.5px,#a9ff56 92.5px,#bdff42 95.5px,#b9ff46 100.5px,#a2ff5d 114.5px,#9f6 141.5px,#9f6 146.5px)"></i>
<i style="background:linear-gradient(90deg,#83ff7c 0.5px,#7bff84 30.5px,#61ff9e 49.5px,#72ff8d 52.5px,#80ff7f 56.5px,#90ff6f 67.5px,#8dff72 81.5px,#a4ff5b 92.5px,#b8ff47 95.5px,#b6ff49 100.5px,#9fff60 116.5px,#9f6 146.5px)"></i>
<i style="background:linear-gradient(90deg,#83ff7c 0.5px,#7cff83 31.5px,#6f9 49.5px,#80ff7f 54.5px,#91ff6e 66.5px,#8cff73 81.5px,#a0ff5f 92.5px,#b4ff4b 95.5px,#b3ff4c 100.5px,#9eff61 117.5px,#9f6 146.5px)"></i>
<i style="background:linear-gradient(90deg,#83ff7c 0.5px,#7cff83 31.5px,#6aff95 49.5px,#84ff7b 54.5px,#92ff6d 67.5px,#8bff74 81.5px,#9bff64 92.5px,#afff50 95.5px,#b0ff4f 100.5px,#9cff63 119.5px,#98ff67 146.5px)"></i>
<i style="background:linear-gradient(90deg,#83ff7c 0.5px,#7dff82 32.5px,#6dff92 48.5px,#72ff8d 50.5px,#85ff7a 53.5px,#93ff6c 66.5px,#89ff76 81.5px,#97ff68 92.5px,#aeff51 96.5px,#9aff65 124.5px,#98ff67 146.5px)"></i>
<i style="background:linear-gradient(90deg,#84ff7b 0.5px,#7dff82 33.5px,#71ff8e 48.5px,#76ff89 50.5px,#89ff76 53.5px,#93ff6c 67.5px,#8f7 81.5px,#93ff6c 92.5px,#af5 96.5px,#9f6 127.5px,#98ff67 146.5px)"></i>
<i style="background:linear-gradient(90deg,#84ff7b 0.5px,#7dff82 34.5px,#74ff8b 48.5px,#7aff85 50.5px,#8aff75 52.5px,#93ff6c 59.5px,#92ff6d 69.5px,#87ff78 81.5px,#8fff70 92.5px,#a6ff59 96.5px,#a0ff5f 109.5px,#98ff67 138.5px,#98ff67 146.5px)"></i>
<i style="background:linear-gradient(90deg,#84ff7b 0.5px,#7eff81 35.5px,#78ff87 48.5px,#7eff81 50.5px,#8eff71 52.5px,#96ff69 61.5px,#90ff6f 71.5px,#85ff7a 82.5px,#8bff74 92.5px,#96ff69 94.5px,#a3ff5c 96.5px,#9fff60 108.5px,#97ff68 139.5px,#98ff67 146.5px)"></i>
<i style="background:linear-gradient(90deg,#84ff7b 0.5px,#7eff81 36.5px,#7bff84 48.5px,#82ff7d 50.5px,#93ff6c 52.5px,#98ff67 63.5px,#8f7 76.5px,#85ff7a 90.5px,#8aff75 93.5px,#9bff64 95.5px,#a2ff5d 100.5px,#97ff68 133.5px,#97ff68 146.5px)"></i>
<i style="background:linear-gradient(90deg,#84ff7b 0.5px,#7fff80 38.5px,#7eff81 48.5px,#85ff7a 50.5px,#97ff68 52.5px,#98ff67 65.5px,#83ff7c 82.5px,#85ff7a 93.5px,#98ff67 95.5px,#9fff60 100.5px,#97ff68 140.5px,#97ff68 146.5px)"></i>
<i style="background:linear-gradient(90deg,#85ff7a 0.5px,#81ff7e 47.5px,#89ff76 50.5px,#9bff64 52.5px,#97ff68 67.5px,#81ff7e 82.5px,#81ff7e 93.5px,#94ff6b 95.5px,#9cff63 100.5px,#97ff68 146.5px)"></i>
<i style="background:linear-gradient(90deg,#85ff7a 0.5px,#84ff7b 47.5px,#8dff72 50.5px,#a0ff5f 52.5px,#96ff69 68.5px,#80ff7f 82.5px,#7cff83 93.5px,#90ff6f 95.5px,#9aff65 100.5px,#97ff68 146.5px)"></i>
<i style="background:linear-gradient(90deg,#85ff7a 0.5px,#86ff79 46.5px,#8bff74 49.5px,#91ff6e 50.5px,#9eff61 51.5px,#a4ff5b 52.5px,#95ff6a 69.5px,#7eff81 82.5px,#78ff87 93.5px,#8dff72 95.5px,#97ff68 100.5px,#97ff68 146.5px)"></i>
<i style="background:linear-gradient(90deg,#85ff7a 0.5px,#8f7 46.5px,#8eff71 49.5px,#94ff6b 50.5px,#a2ff5d 51.5px,#a8ff57 52.5px,#96ff69 69.5px,#7dff82 82.5px,#73ff8c 93.5px,#89ff76 95.5px,#94ff6b 100.5px,#96ff69 146.5px)"></i>
<i style="background:linear-gradient(90deg,#85ff7a 0.5px,#8aff75 45.5px,#91ff6e 49.5px,#98ff67 50.5px,#a7ff58 51.5px,#acff53 52.5px,#94ff6b 70.5px,#7cff83 82.5px,#6fff90 93.5px,#86ff79 95.5px,#91ff6e 99.5px,#95ff6a 123.5px,#96ff69 146.5px)"></i>
<i style="background:linear-gradient(90deg,#86ff79 0.5px,#8bff74 44.5px,#94ff6b 49.5px,#9cff63 50.5px,#abff54 51.5px,#b1ff4e 52.5px,#94ff6b 70.5px,#79ff86 83.5px,#6aff95 93.5px,#82ff7d 95.5px,#8eff71 99.5px,#95ff6a 118.5px,#96ff69 146.5px)"></i>
<i style="background:linear-gradient(90deg,#86ff79 0.5px,#8dff72 43.5px,#98ff67 49.5px,#9fff60 50.5px,#b0ff4f 51.5px,#b5ff4a 52.5px,#92ff6d 71.5px,#7f8 83.5px,#6f9 93.5px,#6fff90 94.5px,#7eff81 95.5px,#8bff74 99.5px,#93ff6c 115.5px,#96ff69 146.5px)"></i>
<i style="background:linear-gradient(90deg,#86ff79 0.5px,#8eff71 42.5px,#9bff64 49.5px,#a3ff5c 50.5px,#b5ff4a 51.5px,#b9ff46 52.5px,#b2ff4d 55.5px,#92ff6d 71.5px,#74ff8b 84.5px,#67ff98 92.5px,#61ff9e 93.5px,#6aff95 94.5px,#7bff84 95.5px,#86ff79 98.5px,#91ff6e 110.5px,#96ff69 146.5px)"></i>
<i style="background:linear-gradient(90deg,#86ff79 0.5px,#8eff71 40.5px,#9eff61 49.5px,#a7ff58 50.5px,#b9ff46 51.5px,#beff41 52.5px,#b6ff49 54.5px,#92ff6d 71.5px,#72ff8d 84.5px,#63ff9c 92.5px,#5dffa2 93.5px,#6f9 94.5px,#7f8 95.5px,#83ff7c 98.5px,#90ff6f 109.5px,#96ff69 146.5px)"></i>
<i style="background:linear-gradient(90deg,#86ff79 0.5px,#8fff70 39.5px,#9eff61 48.5px,#abff54 50.5px,#beff41 51.5px,#c2ff3d 52.5px,#b9ff46 54.5px,#8fff70 72.5px,#63ff9c 90.5px,#5fffa0 92.5px,#58ffa7 93.5px,#61ff9e 94.5px,#74ff8b 95.5px,#80ff7f 98.5px,#8eff71 109.5px,#95ff6a 146.5px)"></i>
<i style="background:linear-gradient(90deg,#86ff79 0.5px,#8fff70 37.5px,#9fff60 47.5px,#a5ff5a 49.5px,#aeff51 50.5px,#c3ff3c 51.5px,#c7ff38 52.5px,#bfff40 53.5px,#8fff70 72.5px,#60ff9f 90.5px,#5cffa3 92.5px,#53ffac 93.5px,#5dffa2 94.5px,#70ff8f 95.5px,#7dff82 98.5px,#8dff72 108.5px,#95ff6a 146.5px)"></i>
<i style="background:linear-gradient(90deg,#86ff79 0.5px,#90ff6f 36.5px,#9fff60 46.5px,#a8ff57 49.5px,#b2ff4d 50.5px,#c8ff37 51.5px,#cf3 52.5px,#c2ff3d 53.5px,#8cff73 73.5px,#58ffa7 92.5px,#4effb1 93.5px,#58ffa7 94.5px,#6cff93 95.5px,#7f8 97.5px,#8aff75 107.5px,#95ff6a 138.5px,#95ff6a 146.5px)"></i>
<i style="background:linear-gradient(90deg,#87ff78 0.5px,#8fff70 34.5px,#9fff60 45.5px,#acff53 49.5px,#b6ff49 50.5px,#cdff32 51.5px,#d1ff2e 52.5px,#c6ff39 53.5px,#8f7 74.5px,#54ffab 92.5px,#49ffb6 93.5px,#53ffac 94.5px,#68ff97 95.5px,#74ff8b 97.5px,#8f7 106.5px,#94ff6b 131.5px,#95ff6a 146.5px)"></i>
<i style="background:linear-gradient(90deg,#87ff78 0.5px,#90ff6f 33.5px,#9fff60 44.5px,#afff50 49.5px,#baff45 50.5px,#d2ff2d 51.5px,#d5ff2a 52.5px,#caff35 53.5px,#50ffaf 92.5px,#4fb 93.5px,#4effb1 94.5px,#65ff9a 95.5px,#71ff8e 97.5px,#86ff79 106.5px,#93ff6c 129.5px,#95ff6a 146.5px)"></i>
<i style="background:linear-gradient(90deg,#87ff78 0.5px,#90ff6f 32.5px,#a2ff5d 44.5px,#b3ff4c 49.5px,#bfff40 50.5px,#d8ff27 51.5px,#daff25 52.5px,#ceff31 53.5px,#4cffb3 92.5px,#3fffc0 93.5px,#49ffb6 94.5px,#61ff9e 95.5px,#6dff92 97.5px,#85ff7a 106.5px,#92ff6d 127.5px,#95ff6a 146.5px)"></i>
<i style="background:linear-gradient(90deg,#87ff78 0.5px,#91ff6e 32.5px,#a1ff5e 43.5px,#b7ff48 49.5px,#c3ff3c 50.5px,#df2 51.5px,#e0ff1f 52.5px,#d2ff2d 53.5px,#48ffb7 92.5px,#39ffc6 93.5px,#43ffbc 94.5px,#5dffa2 95.5px,#6aff95 97.5px,#83ff7c 106.5px,#92ff6d 125.5px,#95ff6a 146.5px)"></i>
<i style="background:linear-gradient(90deg,#87ff78 0.5px,#90ff6f 31.5px,#a4ff5b 43.5px,#bf4 49.5px,#c7ff38 50.5px,#e3ff1c 51.5px,#e5ff1a 52.5px,#d6ff29 53.5px,#4fb 92.5px,#34ffcb 93.5px,#3effc1 94.5px,#58ffa7 95.5px,#6f9 97.5px,#80ff7f 105.5px,#90ff6f 122.5px,#95ff6a 146.5px)"></i>
<i style="background:linear-gradient(90deg,#87ff78 0.5px,#90ff6f 30.5px,#a3ff5c 42.5px,#bfff40 49.5px,#cf3 50.5px,#e9ff16 51.5px,#ebff14 52.5px,#daff25 53.5px,#6dff92 81.5px,#3fffc0 92.5px,#2effd1 93.5px,#38ffc7 94.5px,#54ffab 95.5px,#63ff9c 97.5px,#7eff81 105.5px,#8fff70 121.5px,#95ff6a 146.5px)"></i>
<i style="background:linear-gradient(90deg,#87ff78 0.5px,#91ff6e 30.5px,#a5ff5a 42.5px,#c3ff3c 49.5px,#d1ff2e 50.5px,#efff10 51.5px,#f0ff0f 52.5px,#dfff20 53.5px,#a7ff58 66.5px,#4effb1 88.5px,#3affc5 92.5px,#28ffd7 93.5px,#3fc 94.5px,#4fffb0 95.5px,#5fffa0 97.5px,#7cff83 105.5px,#8eff71 120.5px,#94ff6b 146.5px)"></i>
<i style="background:linear-gradient(90deg,#87ff78 0.5px,#91ff6e 29.5px,#a4ff5b 41.5px,#c7ff38 49.5px,#d6ff29 50.5px,#f5ff0a 51.5px,#f6ff09 52.5px,#e3ff1c 53.5px,#acff53 65.5px,#51ffae 87.5px,#36ffc9 92.5px,#2fd 93.5px,#2cffd3 94.5px,#4bffb4 95.5px,#56ffa9 96.5px,#78ff87 104.5px,#8cff73 117.5px,#94ff6b 146.5px)"></i>
<i style="background:linear-gradient(90deg,#87ff78 0.5px,#91ff6e 29.5px,#a6ff59 41.5px,#cf3 49.5px,#dbff24 50.5px,#fcff03 51.5px,#fdff02 52.5px,#e8ff17 53.5px,#b1ff4e 64.5px,#4effb1 87.5px,#30ffcf 92.5px,#1bffe4 93.5px,#26ffd9 94.5px,#45ffba 95.5px,#51ffae 96.5px,#76ff89 104.5px,#8bff74 116.5px,#94ff6b 146.5px)"></i>
<i style="background:linear-gradient(90deg,#87ff78 0.5px,#92ff6d 29.5px,#a4ff5b 40.5px,#c4ff3b 47.5px,#d0ff2f 49.5px,#e0ff1f 50.5px,#fffb00 51.5px,#fffb00 52.5px,#ef1 53.5px,#b6ff49 63.5px,#51ffae 86.5px,#34ffcb 91.5px,#2bffd4 92.5px,#14ffeb 93.5px,#1fffe0 94.5px,#40ffbf 95.5px,#4dffb2 96.5px,#71ff8e 103.5px,#87ff78 113.5px,#93ff6c 136.5px,#94ff6b 146.5px)"></i>
<i style="background:linear-gradient(90deg,#8f7 0.5px,#91ff6e 28.5px,#a6ff59 40.5px,#c2ff3d 46.5px,#d5ff2a 49.5px,#e6ff19 50.5px,#fff400 51.5px,#fff400 52.5px,#f3ff0c 53.5px,#bf4 62.5px,#4fffb0 86.5px,#2fffd0 91.5px,#25ffda 92.5px,#0dfff2 93.5px,#18ffe7 94.5px,#3affc5 95.5px,#48ffb7 96.5px,#70ff8f 103.5px,#85ff7a 112.5px,#92ff6d 132.5px,#94ff6b 146.5px)"></i>
<i style="background:linear-gradient(90deg,#8f7 0.5px,#92ff6d 28.5px,#a4ff5b 39.5px,#bfff40 45.5px,#dbff24 49.5px,#edff12 50.5px,#ffec00 51.5px,#ffec00 52.5px,#f9ff06 53.5px,#c2ff3d 61.5px,#53ffac 85.5px,#2affd5 91.5px,#1fffe0 92.5px,#05fffa 93.5px,#10ffef 94.5px,#34ffcb 95.5px,#42ffbd 96.5px,#69ff96 102.5px,#81ff7e 110.5px,#90ff6f 127.5px,#94ff6b 146.5px)"></i>
<i style="background:linear-gradient(90deg,#8f7 0.5px,#92ff6d 28.5px,#a5ff5a 39.5px,#bf4 44.5px,#e1ff1e 49.5px,#f4ff0b 50.5px,#ffe300 51.5px,#ffe400 52.5px,#ff0 53.5px,#c3ff3c 61.5px,#52ffad 85.5px,#25ffda 91.5px,#18ffe7 92.5px,#00fbff 93.5px,#08fff7 94.5px,#2effd1 95.5px,#3dffc2 96.5px,#67ff98 102.5px,#7eff81 109.5px,#8fff70 124.5px,#94ff6b 146.5px)"></i>
<i style="background:linear-gradient(90deg,#8f7 0.5px,#92ff6d 28.5px,#a6ff59 39.5px,#bdff42 44.5px,#e7ff18 49.5px,#fbff04 50.5px,#ffd900 51.5px,#ffda00 52.5px,#fff800 53.5px,#fbff04 54.5px,#c4ff3b 61.5px,#50ffaf 85.5px,#1fffe0 91.5px,#1fe 92.5px,#00f2ff 93.5px,#00fdff 94.5px,#26ffd9 95.5px,#37ffc8 96.5px,#60ff9f 101.5px,#79ff86 107.5px,#8cff73 120.5px,#94ff6b 146.5px)"></i>
<i style="background:linear-gradient(90deg,#8f7 0.5px,#92ff6d 27.5px,#a4ff5b 38.5px,#b9ff46 43.5px,#e2ff1d 48.5px,#edff12 49.5px,#fffa00 50.5px,#ffcf00 51.5px,#ffd100 52.5px,#fff000 53.5px,#fffe00 54.5px,#cbff34 60.5px,#7dff82 76.5px,#4fffb0 85.5px,#19ffe6 91.5px,#0afff5 92.5px,#00ecff 93.5px,#00f8ff 94.5px,#20ffdf 95.5px,#31ffce 96.5px,#5effa1 101.5px,#78ff87 107.5px,#8cff73 120.5px,#94ff6b 146.5px)"></i>
<i style="background:linear-gradient(90deg,#8f7 0.5px,#92ff6d 27.5px,#a5ff5a 38.5px,#baff45 43.5px,#dbff24 47.5px,#f3ff0c 49.5px,#fff200 50.5px,#ffc300 51.5px,#ffc600 52.5px,#ffe900 53.5px,#fff900 54.5px,#efff10 56.5px,#c4ff3b 61.5px,#56ffa9 84.5px,#2bffd4 89.5px,#0afff5 92.5px,#00ebff 93.5px,#00f6ff 94.5px,#1fffe0 95.5px,#4cffb3 99.5px,#68ff97 103.5px,#80ff7f 111.5px,#90ff6f 128.5px,#94ff6b 146.5px)"></i>
<i style="background:linear-gradient(90deg,#8f7 0.5px,#92ff6d 27.5px,#a5ff5a 38.5px,#bf4 43.5px,#df2 47.5px,#f7ff08 49.5px,#ffeb00 50.5px,#ffbc00 51.5px,#ffbe00 52.5px,#ffe500 53.5px,#fff800 54.5px,#f9ff06 55.5px,#d1ff2e 59.5px,#aeff51 65.5px,#5effa1 83.5px,#40ffbf 87.5px,#0efff1 92.5px,#00edff 93.5px,#00f8ff 94.5px,#21ffde 95.5px,#54ffab 100.5px,#71ff8e 105.5px,#86ff79 115.5px,#93ff6c 137.5px,#94ff6b 146.5px)"></i>
<i style="background:linear-gradient(90deg,#8f7 0.5px,#92ff6d 27.5px,#a4ff5b 38.5px,#b9ff46 43.5px,#daff25 47.5px,#f2ff0d 49.5px,#fff500 50.5px,#ffd200 51.5px,#ffd400 52.5px,#fff100 53.5px,#faff05 54.5px,#d0ff2f 58.5px,#b0ff4f 63.5px,#6aff95 82.5px,#49ffb6 87.5px,#2affd5 90.5px,#28ffd7 91.5px,#1fffe0 92.5px,#02fffd 93.5px,#0cfff3 94.5px,#2effd1 95.5px,#37ffc8 96.5px,#39ffc6 97.5px,#5effa1 101.5px,#75ff8a 106.5px,#8aff75 118.5px,#94ff6b 146.5px)"></i>
<i style="background:linear-gradient(90deg,#86ff79 0.5px,#90ff6f 29.5px,#a3ff5c 40.5px,#bfff40 46.5px,#c8ff37 48.5px,#c0ff3f 50.5px,#c5ff3a 52.5px,#90ff6f 65.5px,#8aff75 71.5px,#8cff73 79.5px,#6dff92 87.5px,#5effa1 90.5px,#69ff96 92.5px,#64ff9b 93.5px,#6aff95 95.5px,#5fa 97.5px,#7bff84 105.5px,#8eff71 117.5px,#97ff68 146.5px)"></i>
<i style="background:linear-gradient(90deg,#82ff7d 0.5px,#8bff74 33.5px,#9aff65 46.5px,#93ff6c 47.5px,#7fff80 48.5px,#5fa 49.5px,#14ffeb 50.5px,#0cf 51.5px,#00dcff 52.5px,#0cfff3 53.5px,#2affd5 54.5px,#3fffc0 55.5px,#5fa 57.5px,#5dffa2 60.5px,#5dffa2 67.5px,#7f8 71.5px,#98ff67 75.5px,#b7ff48 78.5px,#baff45 82.5px,#baff45 87.5px,#c7ff38 89.5px,#d4ff2b 90.5px,#ef1 91.5px,#ffeb00 92.5px,#ffb900 93.5px,#ffc200 94.5px,#f9ff06 95.5px,#bdff42 96.5px,#97ff68 97.5px,#8f7 98.5px,#84ff7b 100.5px,#98ff67 115.5px,#9fff60 146.5px)"></i>
<i style="background:linear-gradient(90deg,#7fff80 0.5px,#86ff79 44.5px,#82ff7d 45.5px,#7f8 46.5px,#60ff9f 47.5px,#36ffc9 48.5px,#00f5ff 49.5px,#0af 50.5px,#0072ff 51.5px,#0079ff 52.5px,#00cfff 54.5px,#0ef 55.5px,#07fff8 56.5px,#2fd 58.5px,#31ffce 61.5px,#3affc5 66.5px,#51ffae 69.5px,#a1ff5e 75.5px,#c7ff38 77.5px,#daff25 79.5px,#e8ff17 86.5px,#faff05 88.5px,#fff500 89.5px,#ffde00 90.5px,#ffbd00 91.5px,#ff6900 93.5px,#ff6f00 94.5px,#ffac00 95.5px,#fff200 96.5px,#d5ff2a 97.5px,#b4ff4b 98.5px,#a3ff5c 99.5px,#9f6 101.5px,#a3ff5c 134.5px,#a4ff5b 146.5px)"></i>
<i style="background:linear-gradient(90deg,#7fff80 0.5px,#81ff7e 43.5px,#72ff8d 45.5px,#5fffa0 46.5px,#40ffbf 47.5px,#14ffeb 48.5px,#00dcff 49.5px,#00a6ff 50.5px,#0085ff 51.5px,#0089ff 52.5px,#00deff 55.5px,#00f5ff 56.5px,#07fff8 57.5px,#1cffe3 59.5px,#29ffd6 63.5px,#37ffc8 67.5px,#59ffa6 70.5px,#a4ff5b 75.5px,#cdff32 77.5px,#dbff24 78.5px,#e7ff18 80.5px,#f1ff0e 85.5px,#feff01 87.5px,#ffe500 89.5px,#ffb400 91.5px,#ff9600 92.5px,#ff8000 93.5px,#ff8300 94.5px,#ffa800 95.5px,#ffdc00 96.5px,#f2ff0d 97.5px,#cdff32 98.5px,#b5ff4a 99.5px,#a7ff58 100.5px,#9eff61 102.5px,#a5ff5a 146.5px)"></i>
<i style="background:linear-gradient(90deg,#7eff81 0.5px,#81ff7e 41.5px,#7aff85 43.5px,#72ff8d 44.5px,#63ff9c 45.5px,#4cffb3 46.5px,#2cffd3 47.5px,#05fffa 48.5px,#00b6ff 50.5px,#00a2ff 51.5px,#00a4ff 52.5px,#00b4ff 53.5px,#00f4ff 56.5px,#04fffb 57.5px,#18ffe7 59.5px,#26ffd9 63.5px,#34ffcb 67.5px,#58ffa7 70.5px,#a4ff5b 75.5px,#cfff30 77.5px,#df2 78.5px,#e9ff16 80.5px,#f4ff0b 85.5px,#fffd00 87.5px,#ffe400 89.5px,#fa0 92.5px,#ff9d00 93.5px,#ff9f00 94.5px,#ffb600 95.5px,#feff01 97.5px,#df2 98.5px,#c3ff3c 99.5px,#b2ff4d 100.5px,#a2ff5d 102.5px,#a1ff5e 110.5px,#a5ff5a 146.5px)"></i>
<i style="background:linear-gradient(90deg,#7eff81 0.5px,#80ff7f 40.5px,#71ff8e 43.5px,#53ffac 45.5px,#1effe1 47.5px,#00fcff 48.5px,#0df 49.5px,#00c4ff 50.5px,#00b7ff 51.5px,#00b9ff 52.5px,#00d3ff 54.5px,#00f6ff 56.5px,#05fffa 57.5px,#1dffe2 60.5px,#2effd1 66.5px,#3dffc2 68.5px,#92ff6d 74.5px,#cfff30 77.5px,#deff21 78.5px,#eaff15 80.5px,#f9ff06 86.5px,#fffd00 87.5px,#ffd800 90.5px,#fb0 92.5px,#ffb200 93.5px,#ffb300 94.5px,#ffc200 95.5px,#fff900 97.5px,#e9ff16 98.5px,#beff41 100.5px,#a8ff57 102.5px,#a0ff5f 106.5px,#a5ff5a 146.5px)"></i>
<i style="background:linear-gradient(90deg,#7eff81 0.5px,#7fff80 39.5px,#70ff8f 42.5px,#57ffa8 44.5px,#2cffd3 46.5px,#13ffec 47.5px,#00f7ff 48.5px,#00cdff 50.5px,#00c4ff 51.5px,#00c5ff 52.5px,#00dbff 54.5px,#00f8ff 56.5px,#06fff9 57.5px,#1dffe2 60.5px,#2dffd2 66.5px,#3dffc2 68.5px,#92ff6d 74.5px,#cfff30 77.5px,#deff21 78.5px,#eaff15 80.5px,#f9ff06 86.5px,#fffe00 87.5px,#ffc600 92.5px,#ffc000 93.5px,#ffc000 94.5px,#ffca00 95.5px,#fff400 97.5px,#f2ff0d 98.5px,#c9ff36 100.5px,#b0ff4f 102.5px,#a2ff5d 105.5px,#a5ff5a 146.5px)"></i>
<i style="background:linear-gradient(90deg,#7eff81 0.5px,#7fff80 37.5px,#76ff89 40.5px,#6f9 42.5px,#49ffb6 44.5px,#0afff5 47.5px,#00f4ff 48.5px,#00d3ff 50.5px,#0cf 51.5px,#00d4ff 53.5px,#00fbff 56.5px,#18ffe7 59.5px,#2dffd2 66.5px,#3dffc2 68.5px,#92ff6d 74.5px,#cfff30 77.5px,#deff21 78.5px,#ebff14 80.5px,#f9ff06 86.5px,#ff0 87.5px,#ffcd00 92.5px,#ffc800 94.5px,#ffcf00 95.5px,#fff000 97.5px,#faff05 98.5px,#c5ff3a 101.5px,#b0ff4f 103.5px,#a4ff5b 106.5px,#a5ff5a 146.5px)"></i>
<i style="background:linear-gradient(90deg,#7fff80 0.5px,#7eff81 36.5px,#6eff91 40.5px,#4dffb2 43.5px,#03fffc 47.5px,#00d6ff 50.5px,#00d1ff 51.5px,#00d9ff 53.5px,#00fcff 56.5px,#19ffe6 59.5px,#2dffd2 66.5px,#3cffc3 68.5px,#93ff6c 74.5px,#d0ff2f 77.5px,#deff21 78.5px,#ebff14 80.5px,#f8ff07 86.5px,#feff01 87.5px,#ffd100 92.5px,#ffcd00 94.5px,#fd0 96.5px,#fffd00 98.5px,#c3ff3c 102.5px,#abff54 105.5px,#a2ff5d 110.5px,#a5ff5a 146.5px)"></i>
<i style="background:linear-gradient(90deg,#7fff80 0.5px,#7dff82 35.5px,#6dff92 39.5px,#4fffb0 42.5px,#00fdff 47.5px,#00e1ff 49.5px,#00d4ff 51.5px,#00dbff 53.5px,#00fdff 56.5px,#19ffe6 59.5px,#2dffd2 66.5px,#3cffc3 68.5px,#93ff6c 74.5px,#d0ff2f 77.5px,#deff21 78.5px,#ebff14 80.5px,#f8ff07 86.5px,#feff01 87.5px,#ffd400 92.5px,#ffd000 94.5px,#fd0 96.5px,#fff800 98.5px,#f7ff08 99.5px,#cf3 102.5px,#b1ff4e 105.5px,#a4ff5b 109.5px,#a5ff5a 146.5px)"></i>
<i style="background:linear-gradient(90deg,#7fff80 0.5px,#7dff82 33.5px,#72ff8d 37.5px,#5cffa3 40.5px,#27ffd8 44.5px,#08fff7 46.5px,#00f8ff 47.5px,#00e1ff 49.5px,#00d6ff 51.5px,#0df 53.5px,#00feff 56.5px,#19ffe6 59.5px,#2dffd2 66.5px,#3cffc3 68.5px,#93ff6c 74.5px,#d0ff2f 77.5px,#deff21 78.5px,#ebff14 80.5px,#f8ff07 86.5px,#fff900 88.5px,#ffd600 92.5px,#ffd100 94.5px,#ffdc00 96.5px,#fdff02 99.5px,#c9ff36 103.5px,#b2ff4d 106.5px,#a4ff5b 111.5px,#a5ff5a 146.5px)"></i>
<i style="background:linear-gradient(90deg,#7fff80 0.5px,#7cff83 32.5px,#6bff94 37.5px,#47ffb8 41.5px,#02fffd 46.5px,#00e0ff 49.5px,#00d7ff 51.5px,#00deff 53.5px,#0ff 56.5px,#19ffe6 59.5px,#2dffd2 66.5px,#3cffc3 68.5px,#93ff6c 74.5px,#d0ff2f 77.5px,#deff21 78.5px,#ebff14 80.5px,#f8ff07 86.5px,#fff900 88.5px,#ffd700 92.5px,#ffd200 94.5px,#ffe400 97.5px,#fffb00 99.5px,#d2ff2d 103.5px,#b2ff4d 107.5px,#a5ff5a 112.5px,#a5ff5a 146.5px)"></i>
<i style="background:linear-gradient(90deg,#7fff80 0.5px,#7dff82 30.5px,#70ff8f 35.5px,#53ffac 39.5px,#00fcff 46.5px,#00dfff 49.5px,#00d8ff 51.5px,#00dfff 53.5px,#0ff 56.5px,#19ffe6 59.5px,#2dffd2 66.5px,#3cffc3 68.5px,#93ff6c 74.5px,#d0ff2f 77.5px,#deff21 78.5px,#ebff14 80.5px,#f8ff07 86.5px,#fffa00 88.5px,#ffd700 92.5px,#ffd300 94.5px,#ffe200 97.5px,#fcff03 100.5px,#c6ff39 105.5px,#aeff51 109.5px,#a4ff5b 116.5px,#a5ff5a 146.5px)"></i>
<i style="background:linear-gradient(90deg,#7fff80 0.5px,#7cff83 29.5px,#6fff90 34.5px,#54ffab 38.5px,#1fe 44.5px,#04fffb 45.5px,#00e5ff 48.5px,#00d8ff 51.5px,#00dfff 53.5px,#0ff 56.5px,#1affe5 59.5px,#2dffd2 66.5px,#3cffc3 68.5px,#93ff6c 74.5px,#d0ff2f 77.5px,#deff21 78.5px,#ebff14 80.5px,#f7ff08 86.5px,#fffa00 88.5px,#ffd800 92.5px,#ffd300 94.5px,#ffe000 97.5px,#fffd00 100.5px,#c5ff3a 106.5px,#afff50 110.5px,#a4ff5b 117.5px,#a5ff5a 146.5px)"></i>
<i style="background:linear-gradient(90deg,#7fff80 0.5px,#7dff82 27.5px,#6eff91 33.5px,#4dffb2 38.5px,#0ff 45.5px,#00deff 49.5px,#00daff 52.5px,#00e9ff 54.5px,#0ff 56.5px,#1affe5 59.5px,#2dffd2 66.5px,#3cffc3 68.5px,#93ff6c 74.5px,#d0ff2f 77.5px,#deff21 78.5px,#ebff14 80.5px,#f7ff08 86.5px,#fffa00 88.5px,#ffd800 92.5px,#ffd300 94.5px,#ffdf00 97.5px,#fbff04 101.5px,#c4ff3b 107.5px,#adff52 112.5px,#a4ff5b 121.5px,#a5ff5a 146.5px)"></i>
<i style="background:linear-gradient(90deg,#7fff80 0.5px,#7cff83 26.5px,#6dff92 32.5px,#4effb1 37.5px,#06fff9 44.5px,#00fbff 45.5px,#00deff 49.5px,#00daff 52.5px,#00e9ff 54.5px,#0ff 56.5px,#1affe5 59.5px,#2dffd2 66.5px,#3cffc3 68.5px,#93ff6c 74.5px,#d0ff2f 77.5px,#deff21 78.5px,#ebff14 80.5px,#f7ff08 86.5px,#fffa00 88.5px,#ffd800 92.5px,#ffd500 95.5px,#ffec00 99.5px,#fffe00 101.5px,#c3ff3c 108.5px,#adff52 113.5px,#a4ff5b 122.5px,#a5ff5a 146.5px)"></i>
<i style="background:linear-gradient(90deg,#7fff80 0.5px,#7bff84 25.5px,#6dff92 31.5px,#4fffb0 36.5px,#02fffd 44.5px,#0df 49.5px,#00daff 52.5px,#00e9ff 54.5px,#01fffe 56.5px,#1affe5 59.5px,#2dffd2 66.5px,#3cffc3 68.5px,#93ff6c 74.5px,#d0ff2f 77.5px,#deff21 78.5px,#ebff14 80.5px,#f7ff08 86.5px,#fffa00 88.5px,#ffd800 92.5px,#ffd500 95.5px,#ffe900 99.5px,#fbff04 102.5px,#c9ff36 108.5px,#b1ff4e 113.5px,#a5ff5a 121.5px,#a5ff5a 146.5px)"></i>
<i style="background:linear-gradient(90deg,#7fff80 0.5px,#7bff84 24.5px,#68ff97 31.5px,#48ffb7 36.5px,#00fdff 44.5px,#00e1ff 48.5px,#00d9ff 51.5px,#00e0ff 53.5px,#01fffe 56.5px,#1affe5 59.5px,#2dffd2 66.5px,#3dffc2 68.5px,#93ff6c 74.5px,#cfff30 77.5px,#deff21 78.5px,#ebff14 80.5px,#f7ff08 86.5px,#fffa00 88.5px,#ffd900 92.5px,#ffd500 95.5px,#ffe700 99.5px,#ff0 102.5px,#c8ff37 109.5px,#aeff51 115.5px,#a5ff5a 125.5px,#a5ff5a 146.5px)"></i>
<i style="background:linear-gradient(90deg,#7fff80 0.5px,#7bff84 22.5px,#6cff93 29.5px,#4affb5 35.5px,#04fffb 43.5px,#00e6ff 47.5px,#00daff 51.5px,#00e1ff 53.5px,#01fffe 56.5px,#1affe5 59.5px,#2effd1 66.5px,#3dffc2 68.5px,#92ff6d 74.5px,#cfff30 77.5px,#deff21 78.5px,#eaff15 80.5px,#f7ff08 86.5px,#fffb00 88.5px,#ffd900 92.5px,#ffd600 95.5px,#ffe600 99.5px,#fffb00 102.5px,#dbff24 107.5px,#b8ff47 113.5px,#a8ff57 120.5px,#a5ff5a 146.5px)"></i>
<i style="background:linear-gradient(90deg,#80ff7f 0.5px,#7cff83 21.5px,#6dff92 28.5px,#4effb1 34.5px,#00fdff 44.5px,#00e3ff 49.5px,#00e1ff 52.5px,#00faff 55.5px,#10ffef 57.5px,#23ffdc 60.5px,#31ffce 66.5px,#4bffb4 69.5px,#a4ff5b 75.5px,#cdff32 77.5px,#dbff24 78.5px,#e7ff18 80.5px,#f3ff0c 86.5px,#ff0 88.5px,#ffdf00 92.5px,#ffdb00 95.5px,#ffef00 100.5px,#fffc00 102.5px,#bfff40 112.5px,#af5 119.5px,#a3ff5c 135.5px,#a4ff5b 146.5px)"></i>
<i style="background:linear-gradient(90deg,#86ff79 0.5px,#81ff7e 21.5px,#6fff90 29.5px,#46ffb9 37.5px,#10ffef 46.5px,#04fffb 51.5px,#09fff6 53.5px,#30ffcf 58.5px,#3dffc2 63.5px,#48ffb7 67.5px,#64ff9b 70.5px,#a0ff5f 75.5px,#c1ff3e 77.5px,#d3ff2c 79.5px,#e3ff1c 87.5px,#fdff02 91.5px,#fff800 94.5px,#ff0 98.5px,#b3ff4c 113.5px,#a1ff5e 121.5px,#9dff62 146.5px)"></i>
<i style="background:linear-gradient(90deg,#94ff6b 0.5px,#8fff70 24.5px,#79ff86 36.5px,#5bffa4 48.5px,#5affa5 53.5px,#6dff92 60.5px,#74ff8b 68.5px,#9eff61 76.5px,#acff53 79.5px,#b2ff4d 88.5px,#beff41 94.5px,#adff52 104.5px,#93ff6c 117.5px,#8dff72 140.5px,#8dff72 146.5px)"></i>
<i style="background:linear-gradient(90deg,#9dff62 0.5px,#97ff68 35.5px,#8eff71 56.5px,#8eff71 72.5px,#93ff6c 81.5px,#83ff7c 130.5px,#83ff7c 146.5px)"></i>
<i style="background:linear-gradient(90deg,#9fff60 0.5px,#9f6 51.5px,#81ff7e 114.5px,#81ff7e 146.5px)"></i>
<i style="background:linear-gradient(90deg,#9fff60 0.5px,#9aff65 53.5px,#81ff7e 107.5px,#81ff7e 146.5px)"></i>
<i style="background:linear-gradient(90deg,#9fff60 0.5px,#9bff64 53.5px,#81ff7e 106.5px,#81ff7e 146.5px)"></i>
<i style="background:linear-gradient(90deg,#9fff60 0.5px,#9bff64 53.5px,#81ff7e 106.5px,#81ff7e 146.5px)"></i>
<i style="background:linear-gradient(90deg,#9fff60 0.5px,#9bff64 53.5px,#81ff7e 106.5px,#81ff7e 146.5px)"></i>
<i style="background:linear-gradient(90deg,#9fff60 0.5px,#9bff64 53.5px,#81ff7e 106.5px,#81ff7e 146.5px)"></i>
<i style="background:linear-gradient(90deg,#9fff60 0.5px,#9bff64 53.5px,#81ff7e 106.5px,#81ff7e 146.5px)"></i>
<i style="background:linear-gradient(90deg,#9fff60 0.5px,#9bff64 53.5px,#81ff7e 106.5px,#81ff7e 146.5px)"></i>
<i style="background:linear-gradient(90deg,#9fff60 0.5px,#9bff64 53.5px,#81ff7e 106.5px,#81ff7e 146.5px)"></i>
<i style="background:linear-gradient(90deg,#9fff60 0.5px,#9bff64 53.5px,#81ff7e 106.5px,#81ff7e 146.5px)"></i>
<i style="background:linear-gradient(90deg,#9fff60 0.5px,#9bff64 53.5px,#81ff7e 106.5px,#81ff7e 146.5px)"></i>
</div>
<div class="ax" style="left:296px;top:4.4px;width:1px;height:136.6px"></div>
<div class="ax" style="left:296px;top:140px;width:146.1px;height:1px"></div>
<div class="ax" style="left:296.8px;top:138.9px;width:1px;height:3px"></div>
<div class="tl" style="left:286.3px;top:142.7px;width:20px;text-align:center">-80</div>
<div class="ax" style="left:314.7px;top:138.9px;width:1px;height:3px"></div>
<div class="tl" style="left:304.2px;top:142.7px;width:20px;text-align:center">-60</div>
<div class="ax" style="left:332.6px;top:138.9px;width:1px;height:3px"></div>
<div class="tl" style="left:322.1px;top:142.7px;width:20px;text-align:center">-40</div>
<div class="ax" style="left:350.5px;top:138.9px;width:1px;height:3px"></div>
<div class="tl" style="left:340.0px;top:142.7px;width:20px;text-align:center">-20</div>
<div class="ax" style="left:368.4px;top:138.9px;width:1px;height:3px"></div>
<div class="tl" style="left:357.9px;top:142.7px;width:20px;text-align:center">0</div>
<div class="ax" style="left:386.3px;top:138.9px;width:1px;height:3px"></div>
<div class="tl" style="left:375.8px;top:142.7px;width:20px;text-align:center">20</div>
<div class="ax" style="left:404.2px;top:138.9px;width:1px;height:3px"></div>
<div class="tl" style="left:393.7px;top:142.7px;width:20px;text-align:center">40</div>
<div class="ax" style="left:422.1px;top:138.9px;width:1px;height:3px"></div>
<div class="tl" style="left:411.6px;top:142.7px;width:20px;text-align:center">60</div>
<div class="ax" style="left:440.0px;top:138.9px;width:1px;height:3px"></div>
<div class="tl" style="left:429.5px;top:142.7px;width:20px;text-align:center">80</div>
<div class="ax" style="left:293.8px;top:132.7px;width:3px;height:1px"></div>
<div class="tl" style="left:272.6px;top:130.0px;width:20px;text-align:right">-60</div>
<div class="ax" style="left:293.8px;top:106.7px;width:3px;height:1px"></div>
<div class="tl" style="left:272.6px;top:104.0px;width:20px;text-align:right">-40</div>
<div class="ax" style="left:293.8px;top:80.8px;width:3px;height:1px"></div>
<div class="tl" style="left:272.6px;top:78.0px;width:20px;text-align:right">-20</div>
<div class="ax" style="left:293.8px;top:54.8px;width:3px;height:1px"></div>
<div class="tl" style="left:272.6px;top:52.1px;width:20px;text-align:right">0</div>
<div class="ax" style="left:293.8px;top:28.8px;width:3px;height:1px"></div>
<div class="tl" style="left:272.6px;top:26.1px;width:20px;text-align:right">20</div>
<div class="al" style="left:325.4px;top:153.9px;width:80px;text-align:center">x(m) (x10^-9)</div>
<div class="al yl" style="left:234.7px;top:70.8px;width:80px;text-align:center">y(m) (x10^-9)</div>
<div class="tt" style="left:245.5px;top:9.3px;transform:scaleX(0.81)">Ey</div>
<div class="p" style="left:529.5px;top:7.2px;width:144.6px;height:134.9px">
<i style="background:linear-gradient(90deg,#0095ff 0.5px,#0095ff 144.5px)"></i>
<i style="background:linear-gradient(90deg,#0094ff 0.5px,#0094ff 144.5px)"></i>
<i style="background:linear-gradient(90deg,#0093ff 0.5px,#0093ff 144.5px)"></i>
<i style="background:linear-gradient(90deg,#0092ff 0.5px,#0092ff 144.5px)"></i>
<i style="background:linear-gradient(90deg,#0092ff 0.5px,#0092ff 144.5px)"></i>
<i style="background:linear-gradient(90deg,#0091ff 0.5px,#0091ff 144.5px)"></i>
<i style="background:linear-gradient(90deg,#0090ff 0.5px,#0090ff 144.5px)"></i>
<i style="background:linear-gradient(90deg,#008fff 0.5px,#008fff 144.5px)"></i>
<i style="background:linear-gradient(90deg,#008eff 0.5px,#008eff 144.5px)"></i>
<i style="background:linear-gradient(90deg,#008dff 0.5px,#008dff 144.5px)"></i>
<i style="background:linear-gradient(90deg,#008cff 0.5px,#008cff 144.5px)"></i>
<i style="background:linear-gradient(90deg,#008bff 0.5px,#008bff 144.5px)"></i>
<i style="background:linear-gradient(90deg,#008bff 0.5px,#008bff 144.5px)"></i>
<i style="background:linear-gradient(90deg,#008aff 0.5px,#008aff 144.5px)"></i>
<i style="background:linear-gradient(90deg,#0089ff 0.5px,#0089ff 144.5px)"></i>
<i style="background:linear-gradient(90deg,#08f 0.5px,#08f 144.5px)"></i>
<i style="background:linear-gradient(90deg,#0087ff 0.5px,#0087ff 144.5px)"></i>
<i style="background:linear-gradient(90deg,#0087ff 0.5px,#0087ff 144.5px)"></i>
<i style="background:linear-gradient(90deg,#0086ff 0.5px,#0086ff 144.5px)"></i>
<i style="background:linear-gradient(90deg,#0085ff 0.5px,#0085ff 144.5px)"></i>
<i style="background:linear-gradient(90deg,#0084ff 0.5px,#0084ff 144.5px)"></i>
<i style="background:linear-gradient(90deg,#0083ff 0.5px,#0083ff 144.5px)"></i>
<i style="background:linear-gradient(90deg,#0083ff 0.5px,#0083ff 144.5px)"></i>
<i style="background:linear-gradient(90deg,#0082ff 0.5px,#0082ff 144.5px)"></i>
<i style="background:linear-gradient(90deg,#0081ff 0.5px,#0081ff 144.5px)"></i>
<i style="background:linear-gradient(90deg,#0080ff 0.5px,#0080ff 144.5px)"></i>
<i style="background:linear-gradient(90deg,#0081ff 0.5px,#0081ff 144.5px)"></i>
<i style="background:linear-gradient(90deg,#0081ff 0.5px,#0081ff 144.5px)"></i>
<i style="background:linear-gradient(90deg,#0081ff 0.5px,#0081ff 144.5px)"></i>
<i style="background:linear-gradient(90deg,#0081ff 0.5px,#0081ff 144.5px)"></i>
<i style="background:linear-gradient(90deg,#0081ff 0.5px,#0081ff 144.5px)"></i>
<i style="background:linear-gradient(90deg,#0081ff 0.5px,#0081ff 111.5px,#0081ff 144.5px)"></i>
<i style="background:linear-gradient(90deg,#0081ff 0.5px,#0083ff 95.5px,#0081ff 144.5px)"></i>
<i style="background:linear-gradient(90deg,#0081ff 0.5px,#0084ff 90.5px,#0081ff 144.5px)"></i>
<i style="background:linear-gradient(90deg,#0081ff 0.5px,#0085ff 88.5px,#0081ff 144.5px)"></i>
<i style="background:linear-gradient(90deg,#0081ff 0.5px,#0087ff 86.5px,#0081ff 144.5px)"></i>
<i style="background:linear-gradient(90deg,#0082ff 0.5px,#0089ff 64.5px,#0082ff 144.5px)"></i>
<i style="background:linear-gradient(90deg,#0082ff 0.5px,#0089ff 61.5px,#0087ff 89.5px,#0082ff 144.5px)"></i>
<i style="background:linear-gradient(90deg,#0082ff 0.5px,#0089ff 57.5px,#008bff 83.5px,#0082ff 131.5px,#0082ff 144.5px)"></i>
<i style="background:linear-gradient(90deg,#0083ff 0.5px,#008aff 54.5px,#0090ff 79.5px,#0084ff 120.5px,#0083ff 144.5px)"></i>
<i style="background:linear-gradient(90deg,#0084ff 0.5px,#008bff 51.5px,#0095ff 76.5px,#0085ff 116.5px,#0084ff 144.5px)"></i>
<i style="background:linear-gradient(90deg,#0084ff 0.5px,#008cff 49.5px,#09f 75.5px,#0087ff 114.5px,#0085ff 144.5px)"></i>
<i style="background:linear-gradient(90deg,#0085ff 0.5px,#008dff 48.5px,#009eff 74.5px,#08f 113.5px,#0085ff 144.5px)"></i>
<i style="background:linear-gradient(90deg,#0086ff 0.5px,#008eff 46.5px,#00a2ff 73.5px,#0089ff 112.5px,#0086ff 144.5px)"></i>
<i style="background:linear-gradient(90deg,#0087ff 0.5px,#008fff 45.5px,#00a6ff 73.5px,#0094ff 95.5px,#0089ff 123.5px,#0087ff 144.5px)"></i>
<i style="background:linear-gradient(90deg,#08f 0.5px,#0090ff 44.5px,#0af 72.5px,#009eff 88.5px,#008cff 110.5px,#08f 144.5px)"></i>
<i style="background:linear-gradient(90deg,#0089ff 0.5px,#0092ff 44.5px,#00aeff 72.5px,#00a4ff 86.5px,#008fff 107.5px,#0089ff 144.5px)"></i>
<i style="background:linear-gradient(90deg,#008aff 0.5px,#0093ff 43.5px,#00b3ff 72.5px,#00a9ff 85.5px,#0091ff 106.5px,#008aff 144.5px)"></i>
<i style="background:linear-gradient(90deg,#008aff 0.5px,#0093ff 42.5px,#00b7ff 72.5px,#00acff 85.5px,#0093ff 105.5px,#008bff 144.5px)"></i>
<i style="background:linear-gradient(90deg,#008bff 0.5px,#0095ff 42.5px,#0bf 71.5px,#00b3ff 83.5px,#0095ff 104.5px,#008bff 144.5px)"></i>
<i style="background:linear-gradient(90deg,#008cff 0.5px,#0096ff 41.5px,#00afff 59.5px,#00bfff 72.5px,#00b4ff 84.5px,#0097ff 104.5px,#008cff 143.5px,#008cff 144.5px)"></i>
<i style="background:linear-gradient(90deg,#008dff 0.5px,#0097ff 40.5px,#00aeff 56.5px,#00c5ff 70.5px,#00c0ff 80.5px,#009aff 103.5px,#008eff 134.5px,#008dff 144.5px)"></i>
<i style="background:linear-gradient(90deg,#008fff 0.5px,#09f 39.5px,#00afff 54.5px,#00cdff 69.5px,#0cf 78.5px,#009dff 103.5px,#0090ff 130.5px,#008fff 144.5px)"></i>
<i style="background:linear-gradient(90deg,#0090ff 0.5px,#009bff 38.5px,#00b0ff 52.5px,#00d6ff 69.5px,#00d5ff 78.5px,#00a1ff 102.5px,#0093ff 124.5px,#0090ff 144.5px)"></i>
<i style="background:linear-gradient(90deg,#0091ff 0.5px,#009cff 37.5px,#00b2ff 51.5px,#00deff 68.5px,#00e1ff 76.5px,#00c9ff 87.5px,#00a5ff 102.5px,#0096ff 122.5px,#0092ff 144.5px)"></i>
<i style="background:linear-gradient(90deg,#0093ff 0.5px,#009eff 36.5px,#00b2ff 49.5px,#00e7ff 68.5px,#00eaff 76.5px,#00d3ff 86.5px,#0af 101.5px,#09f 118.5px,#0093ff 144.5px)"></i>
<i style="background:linear-gradient(90deg,#0094ff 0.5px,#00a1ff 36.5px,#00b6ff 49.5px,#00f0ff 68.5px,#00f4ff 75.5px,#00e1ff 84.5px,#00afff 100.5px,#009dff 115.5px,#0094ff 144.5px)"></i>
<i style="background:linear-gradient(90deg,#0096ff 0.5px,#00a2ff 35.5px,#00b8ff 48.5px,#00f9ff 68.5px,#00feff 75.5px,#00ecff 83.5px,#00b5ff 99.5px,#00a1ff 112.5px,#0096ff 144.5px)"></i>
<i style="background:linear-gradient(90deg,#0097ff 0.5px,#00a4ff 34.5px,#00b9ff 47.5px,#00feff 67.5px,#07fff8 74.5px,#00fcff 80.5px,#00b7ff 100.5px,#00a3ff 113.5px,#0097ff 144.5px)"></i>
<i style="background:linear-gradient(90deg,#0098ff 0.5px,#00a5ff 33.5px,#0bf 46.5px,#01fffe 65.5px,#0efff1 72.5px,#07fff8 79.5px,#00faff 83.5px,#0bf 100.5px,#00a5ff 113.5px,#09f 144.5px)"></i>
<i style="background:linear-gradient(90deg,#009aff 0.5px,#00a8ff 33.5px,#00bcff 45.5px,#00ecff 58.5px,#01fffe 63.5px,#15ffea 71.5px,#10ffef 78.5px,#00fdff 84.5px,#00bfff 100.5px,#00a9ff 112.5px,#009bff 142.5px,#009aff 144.5px)"></i>
<i style="background:linear-gradient(90deg,#009bff 0.5px,#00a9ff 32.5px,#00c0ff 45.5px,#00f2ff 58.5px,#0ff 61.5px,#19ffe6 69.5px,#1bffe4 76.5px,#05fffa 84.5px,#00f7ff 87.5px,#00c3ff 100.5px,#00abff 112.5px,#009dff 140.5px,#009cff 144.5px)"></i>
<i style="background:linear-gradient(90deg,#009dff 0.5px,#00abff 31.5px,#00c2ff 44.5px,#00f0ff 56.5px,#03fffc 60.5px,#21ffde 69.5px,#2fd 76.5px,#0bfff4 84.5px,#00f9ff 88.5px,#00c5ff 101.5px,#00adff 113.5px,#009eff 141.5px,#009dff 144.5px)"></i>
<i style="background:linear-gradient(90deg,#009eff 0.5px,#00acff 30.5px,#00c3ff 43.5px,#00f1ff 55.5px,#0ff 58.5px,#23ffdc 67.5px,#2cffd3 74.5px,#1effe1 81.5px,#0ff 88.5px,#00c9ff 101.5px,#00afff 113.5px,#00a0ff 139.5px,#009fff 144.5px)"></i>
<i style="background:linear-gradient(90deg,#00a0ff 0.5px,#00afff 30.5px,#00c5ff 42.5px,#0ef 53.5px,#02fffd 57.5px,#2bffd4 67.5px,#3fc 74.5px,#25ffda 81.5px,#00fdff 90.5px,#00cbff 102.5px,#00b1ff 114.5px,#00a2ff 140.5px,#00a1ff 144.5px)"></i>
<i style="background:linear-gradient(90deg,#00a3ff 0.5px,#00b1ff 29.5px,#00c9ff 42.5px,#00f4ff 53.5px,#04fffb 56.5px,#2fffd0 66.5px,#3affc5 73.5px,#2fffd0 80.5px,#00feff 91.5px,#0cf 103.5px,#00b3ff 115.5px,#00a4ff 141.5px,#00a3ff 144.5px)"></i>
<i style="background:linear-gradient(90deg,#00a5ff 0.5px,#00b3ff 28.5px,#00cbff 41.5px,#00f6ff 52.5px,#01fffe 54.5px,#36ffc9 66.5px,#42ffbd 73.5px,#37ffc8 80.5px,#01fffe 92.5px,#00ceff 104.5px,#00b6ff 116.5px,#00a6ff 142.5px,#00a5ff 144.5px)"></i>
<i style="background:linear-gradient(90deg,#00a7ff 0.5px,#00b6ff 28.5px,#00ceff 41.5px,#00faff 52.5px,#04fffb 54.5px,#39ffc6 66.5px,#45ffba 73.5px,#3affc5 80.5px,#05fffa 92.5px,#00faff 94.5px,#00cfff 105.5px,#00b6ff 118.5px,#00a8ff 144.5px)"></i>
<i style="background:linear-gradient(90deg,#0af 0.5px,#00b9ff 28.5px,#00d2ff 41.5px,#03fffc 53.5px,#39ffc6 65.5px,#47ffb8 72.5px,#3fffc0 79.5px,#17ffe8 89.5px,#00fdff 94.5px,#00d2ff 105.5px,#00b9ff 118.5px,#0af 144.5px)"></i>
<i style="background:linear-gradient(90deg,#00acff 0.5px,#00baff 27.5px,#00d2ff 40.5px,#02fffd 52.5px,#3cffc3 65.5px,#49ffb6 72.5px,#42ffbd 79.5px,#1affe5 89.5px,#00fcff 95.5px,#00d3ff 106.5px,#00baff 119.5px,#00acff 144.5px)"></i>
<i style="background:linear-gradient(90deg,#00aeff 0.5px,#00bdff 27.5px,#00d6ff 40.5px,#01fffe 51.5px,#3effc1 65.5px,#4cffb3 72.5px,#4fb 79.5px,#1effe1 89.5px,#01fffe 95.5px,#00d3ff 107.5px,#00bcff 120.5px,#00afff 144.5px)"></i>
<i style="background:linear-gradient(90deg,#00b0ff 0.5px,#00c0ff 27.5px,#00d9ff 40.5px,#0ff 50.5px,#41ffbe 65.5px,#4effb1 72.5px,#47ffb8 79.5px,#21ffde 89.5px,#0ff 96.5px,#00d4ff 108.5px,#00bcff 122.5px,#00b1ff 144.5px)"></i>
<i style="background:linear-gradient(90deg,#00b3ff 0.5px,#00c1ff 26.5px,#00daff 39.5px,#03fffc 50.5px,#4fb 65.5px,#51ffae 72.5px,#49ffb6 79.5px,#24ffdb 89.5px,#00feff 97.5px,#00d4ff 109.5px,#00beff 123.5px,#00b3ff 144.5px)"></i>
<i style="background:linear-gradient(90deg,#00b5ff 0.5px,#00c4ff 26.5px,#0df 39.5px,#02fffd 49.5px,#43ffbc 64.5px,#53ffac 72.5px,#4cffb3 79.5px,#27ffd8 89.5px,#00fdff 98.5px,#00d5ff 110.5px,#00bfff 125.5px,#00b5ff 144.5px)"></i>
<i style="background:linear-gradient(90deg,#00b7ff 0.5px,#00c7ff 26.5px,#00e0ff 39.5px,#02fffd 48.5px,#46ffb9 64.5px,#5fa 72.5px,#4fffb0 79.5px,#2bffd4 89.5px,#00fdff 99.5px,#00d6ff 111.5px,#00c1ff 126.5px,#00b8ff 144.5px)"></i>
<i style="background:linear-gradient(90deg,#00b9ff 0.5px,#00c8ff 25.5px,#00e1ff 38.5px,#01fffe 47.5px,#49ffb6 64.5px,#58ffa7 72.5px,#4fffb0 80.5px,#25ffda 91.5px,#00fcff 100.5px,#00d7ff 112.5px,#00c2ff 128.5px,#00baff 144.5px)"></i>
<i style="background:linear-gradient(90deg,#00bcff 0.5px,#00cbff 25.5px,#00e4ff 38.5px,#0ff 46.5px,#4cffb3 64.5px,#5affa5 72.5px,#51ffae 80.5px,#28ffd7 91.5px,#01fffe 100.5px,#00d8ff 113.5px,#00c3ff 129.5px,#00bcff 144.5px)"></i>
<i style="background:linear-gradient(90deg,#00beff 0.5px,#00ceff 25.5px,#00e7ff 38.5px,#0ff 45.5px,#4effb1 64.5px,#5dffa2 72.5px,#54ffab 80.5px,#2bffd4 91.5px,#0ff 101.5px,#00d9ff 114.5px,#00c5ff 131.5px,#00bfff 144.5px)"></i>
<i style="background:linear-gradient(90deg,#00c1ff 0.5px,#00d1ff 25.5px,#00ebff 38.5px,#0ff 44.5px,#51ffae 64.5px,#5fffa0 72.5px,#57ffa8 80.5px,#2fffd0 91.5px,#0ff 102.5px,#00daff 115.5px,#00c7ff 132.5px,#00c1ff 144.5px)"></i>
<i style="background:linear-gradient(90deg,#00c3ff 0.5px,#00d2ff 24.5px,#0ef 38.5px,#04fffb 44.5px,#54ffab 64.5px,#62ff9d 72.5px,#59ffa6 80.5px,#32ffcd 91.5px,#0ff 103.5px,#00dcff 116.5px,#00c8ff 134.5px,#00c4ff 144.5px)"></i>
<i style="background:linear-gradient(90deg,#00c6ff 0.5px,#00d5ff 24.5px,#00f2ff 38.5px,#03fffc 43.5px,#57ffa8 64.5px,#64ff9b 72.5px,#5cffa3 80.5px,#35ffca 91.5px,#0ff 104.5px,#0df 117.5px,#00caff 136.5px,#00c6ff 144.5px)"></i>
<i style="background:linear-gradient(90deg,#00c8ff 0.5px,#00d8ff 24.5px,#00f5ff 38.5px,#03fffc 42.5px,#59ffa6 64.5px,#6f9 72.5px,#5fffa0 80.5px,#39ffc6 91.5px,#0ff 105.5px,#00deff 118.5px,#0cf 137.5px,#00c9ff 144.5px)"></i>
<i style="background:linear-gradient(90deg,#00cbff 0.5px,#00dbff 24.5px,#00f9ff 38.5px,#04fffb 41.5px,#5cffa3 64.5px,#69ff96 72.5px,#61ff9e 80.5px,#3cffc3 91.5px,#0ff 106.5px,#00deff 120.5px,#00cdff 141.5px,#00cbff 144.5px)"></i>
<i style="background:linear-gradient(90deg,#00cdff 0.5px,#0df 23.5px,#00f9ff 37.5px,#04fffb 40.5px,#5fffa0 64.5px,#6bff94 72.5px,#64ff9b 80.5px,#3fffc0 91.5px,#01fffe 107.5px,#00e0ff 121.5px,#00ceff 143.5px,#00ceff 144.5px)"></i>
<i style="background:linear-gradient(90deg,#00d0ff 0.5px,#00e0ff 23.5px,#01fffe 38.5px,#60ff9f 64.5px,#6dff92 73.5px,#60ff9f 82.5px,#29ffd6 97.5px,#01fffe 108.5px,#00e0ff 123.5px,#00d0ff 144.5px)"></i>
<i style="background:linear-gradient(90deg,#00d2ff 0.5px,#00e3ff 23.5px,#01fffe 37.5px,#62ff9d 64.5px,#6eff91 73.5px,#62ff9d 82.5px,#2cffd3 97.5px,#01fffe 109.5px,#00e1ff 124.5px,#00d3ff 144.5px)"></i>
<i style="background:linear-gradient(90deg,#00d5ff 0.5px,#00e5ff 23.5px,#01fffe 36.5px,#42ffbd 54.5px,#68ff97 66.5px,#6fff90 75.5px,#5effa1 84.5px,#01fffe 110.5px,#00e2ff 126.5px,#00d5ff 144.5px)"></i>
<i style="background:linear-gradient(90deg,#00d7ff 0.5px,#00e8ff 23.5px,#01fffe 35.5px,#3dffc2 52.5px,#67ff98 65.5px,#70ff8f 74.5px,#63ff9c 83.5px,#01fffe 111.5px,#00e2ff 128.5px,#00d8ff 144.5px)"></i>
<i style="background:linear-gradient(90deg,#00daff 0.5px,#00ebff 23.5px,#02fffd 34.5px,#37ffc8 50.5px,#67ff98 64.5px,#72ff8d 73.5px,#67ff98 82.5px,#34ffcb 97.5px,#02fffd 112.5px,#00e3ff 130.5px,#00dbff 144.5px)"></i>
<i style="background:linear-gradient(90deg,#00dcff 0.5px,#00edff 22.5px,#02fffd 33.5px,#36ffc9 49.5px,#68ff97 64.5px,#73ff8c 73.5px,#69ff96 82.5px,#36ffc9 97.5px,#02fffd 113.5px,#00e4ff 132.5px,#0df 144.5px)"></i>
<i style="background:linear-gradient(90deg,#00dfff 0.5px,#00f0ff 22.5px,#03fffc 32.5px,#35ffca 48.5px,#68ff97 63.5px,#74ff8b 72.5px,#6cff93 81.5px,#4fb 94.5px,#08fff7 112.5px,#00fcff 117.5px,#00e5ff 134.5px,#00e0ff 144.5px)"></i>
<i style="background:linear-gradient(90deg,#00e2ff 0.5px,#00f3ff 22.5px,#02fffd 30.5px,#2dffd2 45.5px,#69ff96 63.5px,#76ff89 72.5px,#6eff91 81.5px,#47ffb8 94.5px,#0bfff4 112.5px,#00fdff 118.5px,#00e7ff 136.5px,#00e3ff 144.5px)"></i>
<i style="background:linear-gradient(90deg,#00e5ff 0.5px,#00f6ff 22.5px,#03fffc 29.5px,#2dffd2 44.5px,#6bff94 63.5px,#7f8 73.5px,#6bff94 83.5px,#0cfff3 113.5px,#00fcff 120.5px,#00e8ff 139.5px,#00e5ff 144.5px)"></i>
<i style="background:linear-gradient(90deg,#00e7ff 0.5px,#00f9ff 22.5px,#04fffb 28.5px,#2fffd0 44.5px,#6dff92 63.5px,#79ff86 73.5px,#6dff92 83.5px,#2cffd3 103.5px,#04fffb 118.5px,#00f4ff 128.5px,#00e8ff 144.5px)"></i>
<i style="background:linear-gradient(90deg,#00eaff 0.5px,#00fcff 22.5px,#0dfff2 31.5px,#4fb 49.5px,#70ff8f 64.5px,#7aff85 74.5px,#6cff93 84.5px,#10ffef 114.5px,#00fdff 123.5px,#00ebff 144.5px)"></i>
<i style="background:linear-gradient(90deg,#00edff 0.5px,#03fffc 24.5px,#29ffd6 40.5px,#6eff91 62.5px,#7bff84 72.5px,#72ff8d 82.5px,#46ffb9 97.5px,#1fe 115.5px,#00feff 125.5px,#0ef 144.5px)"></i>
<i style="background:linear-gradient(90deg,#00f0ff 0.5px,#03fffc 22.5px,#26ffd9 38.5px,#6fff90 62.5px,#7cff83 72.5px,#74ff8b 82.5px,#49ffb6 97.5px,#14ffeb 115.5px,#00feff 127.5px,#00f1ff 144.5px)"></i>
<i style="background:linear-gradient(90deg,#00f2ff 0.5px,#03fffc 20.5px,#23ffdc 36.5px,#73ff8c 63.5px,#7eff81 73.5px,#73ff8c 83.5px,#3bffc4 102.5px,#0ffff0 119.5px,#00fcff 131.5px,#00f3ff 144.5px)"></i>
<i style="background:linear-gradient(90deg,#00f5ff 0.5px,#04fffb 18.5px,#21ffde 34.5px,#75ff8a 63.5px,#7fff80 73.5px,#73ff8c 84.5px,#18ffe7 116.5px,#00feff 132.5px,#00f6ff 144.5px)"></i>
<i style="background:linear-gradient(90deg,#00f8ff 0.5px,#03fffc 15.5px,#1fffe0 32.5px,#76ff89 63.5px,#80ff7f 74.5px,#72ff8d 85.5px,#1bffe4 116.5px,#01fffe 134.5px,#00f9ff 144.5px)"></i>
<i style="background:linear-gradient(90deg,#00fbff 0.5px,#05fffa 14.5px,#20ffdf 31.5px,#78ff87 63.5px,#82ff7d 74.5px,#74ff8b 85.5px,#1cffe3 117.5px,#03fffc 135.5px,#00fcff 144.5px)"></i>
<i style="background:linear-gradient(90deg,#00feff 0.5px,#0efff1 19.5px,#2fffd0 36.5px,#78ff87 62.5px,#83ff7c 73.5px,#78ff87 84.5px,#1dffe2 118.5px,#04fffb 137.5px,#0ff 144.5px)"></i>
<i style="background:linear-gradient(90deg,#01fffe 0.5px,#15ffea 22.5px,#3affc5 39.5px,#79ff86 62.5px,#84ff7b 73.5px,#79ff86 84.5px,#20ffdf 118.5px,#07fff8 137.5px,#02fffd 144.5px)"></i>
<i style="background:linear-gradient(90deg,#04fffb 0.5px,#18ffe7 22.5px,#40ffbf 40.5px,#7bff84 62.5px,#85ff7a 73.5px,#7bff84 84.5px,#21ffde 119.5px,#09fff6 138.5px,#05fffa 144.5px)"></i>
<i style="background:linear-gradient(90deg,#07fff8 0.5px,#1bffe4 22.5px,#42ffbd 40.5px,#7cff83 62.5px,#87ff78 73.5px,#7aff85 85.5px,#24ffdb 119.5px,#0cfff3 138.5px,#08fff7 144.5px)"></i>
<i style="background:linear-gradient(90deg,#0afff5 0.5px,#1effe1 22.5px,#48ffb7 41.5px,#7dff82 62.5px,#8f7 74.5px,#7aff85 86.5px,#27ffd8 119.5px,#0efff1 139.5px,#0bfff4 144.5px)"></i>
<i style="background:linear-gradient(90deg,#0dfff2 0.5px,#2fd 22.5px,#4affb5 41.5px,#7fff80 62.5px,#89ff76 74.5px,#7bff84 86.5px,#28ffd7 120.5px,#1fe 140.5px,#0efff1 144.5px)"></i>
<i style="background:linear-gradient(90deg,#1fe 0.5px,#25ffda 22.5px,#50ffaf 42.5px,#80ff7f 62.5px,#8aff75 74.5px,#7dff82 86.5px,#2cffd3 120.5px,#14ffeb 140.5px,#12ffed 144.5px)"></i>
<i style="background:linear-gradient(90deg,#14ffeb 0.5px,#29ffd6 22.5px,#53ffac 42.5px,#82ff7d 62.5px,#8bff74 74.5px,#7cff83 87.5px,#2fffd0 120.5px,#17ffe8 141.5px,#15ffea 144.5px)"></i>
<i style="background:linear-gradient(90deg,#18ffe7 0.5px,#2cffd3 22.5px,#58ffa7 43.5px,#84ff7b 63.5px,#8cff73 75.5px,#7cff83 88.5px,#31ffce 121.5px,#1affe5 142.5px,#19ffe6 144.5px)"></i>
<i style="background:linear-gradient(90deg,#1bffe4 0.5px,#2fffd0 22.5px,#5dffa2 44.5px,#86ff79 63.5px,#8cff73 76.5px,#7aff85 90.5px,#34ffcb 121.5px,#1dffe2 143.5px,#1cffe3 144.5px)"></i>
<i style="background:linear-gradient(90deg,#1effe1 0.5px,#34ffcb 23.5px,#67ff98 47.5px,#8f7 64.5px,#8dff72 77.5px,#79ff86 91.5px,#38ffc7 121.5px,#20ffdf 143.5px,#20ffdf 144.5px)"></i>
<i style="background:linear-gradient(90deg,#2fd 0.5px,#38ffc7 23.5px,#6bff94 48.5px,#8bff74 65.5px,#8dff72 78.5px,#7f8 93.5px,#39ffc6 122.5px,#23ffdc 144.5px)"></i>
<i style="background:linear-gradient(90deg,#25ffda 0.5px,#3bffc4 23.5px,#76ff89 52.5px,#8eff71 68.5px,#8cff73 81.5px,#6cff93 99.5px,#3affc5 124.5px,#26ffd9 144.5px)"></i>
<i style="background:linear-gradient(90deg,#29ffd6 0.5px,#3effc1 23.5px,#8bff74 63.5px,#91ff6e 76.5px,#7eff81 91.5px,#3effc1 123.5px,#2affd5 144.5px)"></i>
<i style="background:linear-gradient(90deg,#2cffd3 0.5px,#41ffbe 23.5px,#8cff73 63.5px,#91ff6e 77.5px,#7cff83 93.5px,#40ffbf 124.5px,#2dffd2 144.5px)"></i>
<i style="background:linear-gradient(90deg,#2fffd0 0.5px,#46ffb9 24.5px,#8dff72 63.5px,#92ff6d 77.5px,#7eff81 93.5px,#43ffbc 124.5px,#31ffce 144.5px)"></i>
<i style="background:linear-gradient(90deg,#3fc 0.5px,#49ffb6 24.5px,#8fff70 63.5px,#93ff6c 77.5px,#80ff7f 93.5px,#45ffba 125.5px,#34ffcb 144.5px)"></i>
<i style="background:linear-gradient(90deg,#36ffc9 0.5px,#4dffb2 24.5px,#90ff6f 63.5px,#94ff6b 77.5px,#80ff7f 94.5px,#47ffb8 126.5px,#37ffc8 144.5px)"></i>
<i style="background:linear-gradient(90deg,#3affc5 0.5px,#50ffaf 24.5px,#91ff6e 63.5px,#95ff6a 78.5px,#7eff81 96.5px,#4bffb4 126.5px,#3bffc4 144.5px)"></i>
<i style="background:linear-gradient(90deg,#3dffc2 0.5px,#54ffab 25.5px,#92ff6d 63.5px,#96ff69 78.5px,#80ff7f 96.5px,#4dffb2 127.5px,#3effc1 144.5px)"></i>
<i style="background:linear-gradient(90deg,#40ffbf 0.5px,#57ffa8 25.5px,#94ff6b 63.5px,#97ff68 78.5px,#82ff7d 96.5px,#4fffb0 128.5px,#41ffbe 144.5px)"></i>
<i style="background:linear-gradient(90deg,#4fb 0.5px,#5bffa4 25.5px,#95ff6a 63.5px,#98ff67 79.5px,#7fff80 99.5px,#51ffae 129.5px,#45ffba 144.5px)"></i>
<i style="background:linear-gradient(90deg,#47ffb8 0.5px,#5fffa0 26.5px,#96ff69 63.5px,#9f6 79.5px,#81ff7e 99.5px,#53ffac 130.5px,#48ffb7 144.5px)"></i>
<i style="background:linear-gradient(90deg,#4bffb4 0.5px,#62ff9d 26.5px,#98ff67 63.5px,#9aff65 79.5px,#82ff7d 100.5px,#56ffa9 131.5px,#4cffb3 144.5px)"></i>
<i style="background:linear-gradient(90deg,#4effb1 0.5px,#67ff98 27.5px,#9f6 63.5px,#9bff64 80.5px,#81ff7e 102.5px,#58ffa7 132.5px,#50ffaf 144.5px)"></i>
<i style="background:linear-gradient(90deg,#52ffad 0.5px,#6aff95 27.5px,#9aff65 63.5px,#9cff63 80.5px,#81ff7e 103.5px,#5bffa4 133.5px,#53ffac 144.5px)"></i>
<i style="background:linear-gradient(90deg,#56ffa9 0.5px,#6eff91 28.5px,#9cff63 63.5px,#9eff61 80.5px,#84ff7b 103.5px,#5dffa2 134.5px,#57ffa8 144.5px)"></i>
<i style="background:linear-gradient(90deg,#59ffa6 0.5px,#71ff8e 28.5px,#9dff62 63.5px,#9eff61 81.5px,#80ff7f 107.5px,#5effa1 137.5px,#5affa5 144.5px)"></i>
<i style="background:linear-gradient(90deg,#5dffa2 0.5px,#75ff8a 29.5px,#9eff61 63.5px,#a0ff5f 81.5px,#81ff7e 108.5px,#61ff9e 138.5px,#5effa1 144.5px)"></i>
<i style="background:linear-gradient(90deg,#60ff9f 0.5px,#79ff86 30.5px,#a0ff5f 63.5px,#a0ff5f 82.5px,#7cff83 114.5px,#61ff9e 144.5px)"></i>
<i style="background:linear-gradient(90deg,#64ff9b 0.5px,#7cff83 30.5px,#a2ff5d 64.5px,#a1ff5e 83.5px,#69ff96 137.5px,#65ff9a 144.5px)"></i>
<i style="background:linear-gradient(90deg,#67ff98 0.5px,#80ff7f 31.5px,#a3ff5c 64.5px,#a2ff5d 84.5px,#6bff94 138.5px,#68ff97 144.5px)"></i>
<i style="background:linear-gradient(90deg,#6aff95 0.5px,#84ff7b 32.5px,#a4ff5b 64.5px,#a3ff5c 84.5px,#6eff91 139.5px,#6bff94 144.5px)"></i>
<i style="background:linear-gradient(90deg,#6eff91 0.5px,#8f7 33.5px,#a6ff59 65.5px,#a3ff5c 86.5px,#71ff8e 139.5px,#6fff90 144.5px)"></i>
</div>
<div class="ax" style="left:529px;top:7.2px;width:1px;height:135.8px"></div>
<div class="ax" style="left:529px;top:142px;width:145.1px;height:1px"></div>
<div class="ax" style="left:530.2px;top:140.9px;width:1px;height:3px"></div>
<div class="tl" style="left:519.7px;top:144.7px;width:20px;text-align:center">-80</div>
<div class="ax" style="left:547.9px;top:140.9px;width:1px;height:3px"></div>
<div class="tl" style="left:537.4px;top:144.7px;width:20px;text-align:center">-60</div>
<div class="ax" style="left:565.7px;top:140.9px;width:1px;height:3px"></div>
<div class="tl" style="left:555.2px;top:144.7px;width:20px;text-align:center">-40</div>
<div class="ax" style="left:583.4px;top:140.9px;width:1px;height:3px"></div>
<div class="tl" style="left:572.9px;top:144.7px;width:20px;text-align:center">-20</div>
<div class="ax" style="left:601.2px;top:140.9px;width:1px;height:3px"></div>
<div class="tl" style="left:590.7px;top:144.7px;width:20px;text-align:center">0</div>
<div class="ax" style="left:619.0px;top:140.9px;width:1px;height:3px"></div>
<div class="tl" style="left:608.5px;top:144.7px;width:20px;text-align:center">20</div>
<div class="ax" style="left:636.7px;top:140.9px;width:1px;height:3px"></div>
<div class="tl" style="left:626.2px;top:144.7px;width:20px;text-align:center">40</div>
<div class="ax" style="left:654.5px;top:140.9px;width:1px;height:3px"></div>
<div class="tl" style="left:644.0px;top:144.7px;width:20px;text-align:center">60</div>
<div class="ax" style="left:672.2px;top:140.9px;width:1px;height:3px"></div>
<div class="tl" style="left:661.7px;top:144.7px;width:20px;text-align:center">80</div>
<div class="ax" style="left:527.3px;top:135.1px;width:3px;height:1px"></div>
<div class="tl" style="left:506.1px;top:132.4px;width:20px;text-align:right">-60</div>
<div class="ax" style="left:527.3px;top:109.4px;width:3px;height:1px"></div>
<div class="tl" style="left:506.1px;top:106.7px;width:20px;text-align:right">-40</div>
<div class="ax" style="left:527.3px;top:83.6px;width:3px;height:1px"></div>
<div class="tl" style="left:506.1px;top:80.9px;width:20px;text-align:right">-20</div>
<div class="ax" style="left:527.3px;top:57.8px;width:3px;height:1px"></div>
<div class="tl" style="left:506.1px;top:55.1px;width:20px;text-align:right">0</div>
<div class="ax" style="left:527.3px;top:32.0px;width:3px;height:1px"></div>
<div class="tl" style="left:506.1px;top:29.3px;width:20px;text-align:right">20</div>
<div class="al" style="left:558.2px;top:155.9px;width:80px;text-align:center">x(m) (x10^-9)</div>
<div class="al yl" style="left:468.2px;top:73.6px;width:80px;text-align:center">y(m) (x10^-9)</div>
<div class="tt" style="left:477.0px;top:4.8px;transform:scaleX(0.81)">Ez</div>
<div class="p" style="left:59.6px;top:184.8px;width:148px;height:138px">
<i style="background:linear-gradient(90deg,#caff35 0.5px,#fffe00 22.5px,#ffba00 50.5px,#ffa500 67.5px,#ffa600 82.5px,#ffbe00 99.5px,#feff01 126.5px,#caff35 147.5px)"></i>
<i style="background:linear-gradient(90deg,#d4ff2b 0.5px,#fffd00 19.5px,#ffb300 49.5px,#ff9c00 67.5px,#ff9d00 82.5px,#ffb700 100.5px,#fcff03 130.5px,#d4ff2b 147.5px)"></i>
<i style="background:linear-gradient(90deg,#e1ff1e 0.5px,#fffc00 15.5px,#ffa800 49.5px,#ff9000 68.5px,#ff9300 83.5px,#ffb000 102.5px,#fdff02 134.5px,#e1ff1e 147.5px)"></i>
<i style="background:linear-gradient(90deg,#efff10 0.5px,#fffc00 9.5px,#f90 50.5px,#ff8200 68.5px,#ff8500 83.5px,#ffa500 103.5px,#fffe00 139.5px,#efff10 147.5px)"></i>
<i style="background:linear-gradient(90deg,#fdff02 0.5px,#ffdc00 17.5px,#ff8d00 50.5px,#ff7600 68.5px,#ff7900 83.5px,#ff9c00 104.5px,#fff500 141.5px,#fdff02 147.5px)"></i>
<i style="background:linear-gradient(90deg,#fff700 0.5px,#ffcb00 20.5px,#ff8400 50.5px,#ff6d00 67.5px,#ff6e00 82.5px,#ff8e00 102.5px,#ffeb00 141.5px,#fff700 147.5px)"></i>
<i style="background:linear-gradient(90deg,#ffef00 0.5px,#ffc700 19.5px,#ff7e00 50.5px,#f60 67.5px,#ff6800 82.5px,#ff8600 101.5px,#ffe400 141.5px,#ffef00 147.5px)"></i>
<i style="background:linear-gradient(90deg,#ffe900 0.5px,#ffc700 17.5px,#f70 51.5px,#ff6100 67.5px,#ff6300 82.5px,#ff7f00 100.5px,#ffdf00 141.5px,#ffe900 147.5px)"></i>
<i style="background:linear-gradient(90deg,#ffe500 0.5px,#ffc100 18.5px,#ff6f00 53.5px,#ff5c00 69.5px,#ff6000 84.5px,#ff8400 104.5px,#ffda00 141.5px,#ffe500 147.5px)"></i>
<i style="background:linear-gradient(90deg,#ffe100 0.5px,#ffc200 16.5px,#ff6a00 54.5px,#ff5800 70.5px,#ff5e00 85.5px,#ff8500 106.5px,#ffd700 141.5px,#ffe100 147.5px)"></i>
<i style="background:linear-gradient(90deg,#fd0 0.5px,#ffbd00 17.5px,#ff6500 55.5px,#f50 70.5px,#ff5b00 85.5px,#ff8300 106.5px,#ffd400 141.5px,#fd0 147.5px)"></i>
<i style="background:linear-gradient(90deg,#ffd900 0.5px,#ffbe00 15.5px,#ff5f00 57.5px,#ff5100 72.5px,#ff5a00 87.5px,#ff8e00 112.5px,#ffd100 141.5px,#ffd900 147.5px)"></i>
<i style="background:linear-gradient(90deg,#ffd600 0.5px,#ffb900 16.5px,#ff5a00 58.5px,#ff4e00 73.5px,#ff5900 88.5px,#ff9600 116.5px,#ffcf00 142.5px,#ffd600 147.5px)"></i>
<i style="background:linear-gradient(90deg,#ffd300 0.5px,#fb0 14.5px,#ff5700 58.5px,#ff4b00 74.5px,#ff5900 90.5px,#ffcb00 141.5px,#ffd300 147.5px)"></i>
<i style="background:linear-gradient(90deg,#ffd000 0.5px,#ffb600 15.5px,#ff5400 58.5px,#ff4600 73.5px,#ff5300 88.5px,#ff9600 118.5px,#ffcb00 143.5px,#ffd000 147.5px)"></i>
<i style="background:linear-gradient(90deg,#ffcd00 0.5px,#ffb400 15.5px,#ff5100 58.5px,#ff4100 72.5px,#ff4900 84.5px,#ff6a00 101.5px,#ffc400 140.5px,#ffcd00 147.5px)"></i>
<i style="background:linear-gradient(90deg,#ffca00 0.5px,#ffb200 15.5px,#ff4e00 58.5px,#ff3d00 70.5px,#ff4100 82.5px,#ff6a00 102.5px,#ffc100 140.5px,#ffca00 147.5px)"></i>
<i style="background:linear-gradient(90deg,#ffc700 0.5px,#ffad00 16.5px,#ff4100 62.5px,#ff3700 74.5px,#ff4300 86.5px,#fb0 138.5px,#ffc700 147.5px)"></i>
<i style="background:linear-gradient(90deg,#ffc500 0.5px,#ffad00 15.5px,#ff3900 64.5px,#f30 76.5px,#ff4200 88.5px,#ffb100 134.5px,#ffc500 147.5px)"></i>
<i style="background:linear-gradient(90deg,#ffc200 0.5px,#ffab00 15.5px,#ff5c00 47.5px,#ff3400 64.5px,#ff2e00 76.5px,#ff3e00 88.5px,#ffa000 127.5px,#ffc000 145.5px,#ffc200 147.5px)"></i>
<i style="background:linear-gradient(90deg,#ffc000 0.5px,#ffa600 16.5px,#ff6200 44.5px,#ff3100 63.5px,#ff2900 75.5px,#ff3700 87.5px,#ff9500 123.5px,#ffbd00 144.5px,#ffc000 147.5px)"></i>
<i style="background:linear-gradient(90deg,#ffbe00 0.5px,#ffa400 16.5px,#ff6200 43.5px,#ff2e00 62.5px,#ff2400 74.5px,#ff3000 86.5px,#ff8c00 120.5px,#ffba00 143.5px,#ffbe00 147.5px)"></i>
<i style="background:linear-gradient(90deg,#ffbc00 0.5px,#ffa000 17.5px,#ff6200 42.5px,#ff2b00 61.5px,#ff1f00 73.5px,#ff2900 85.5px,#ff4700 96.5px,#ff8200 117.5px,#ffb500 141.5px,#ffbc00 147.5px)"></i>
<i style="background:linear-gradient(90deg,#ffba00 0.5px,#ff9c00 18.5px,#f60 40.5px,#ff2800 60.5px,#ff1b00 72.5px,#ff2300 84.5px,#ff3f00 95.5px,#ff7900 114.5px,#ffb100 140.5px,#ffba00 147.5px)"></i>
<i style="background:linear-gradient(90deg,#ffb800 0.5px,#ff9800 19.5px,#ff6300 40.5px,#ff2600 59.5px,#ff1500 72.5px,#ff1e00 84.5px,#ff3a00 95.5px,#ff7300 112.5px,#ffae00 139.5px,#ffb800 147.5px)"></i>
<i style="background:linear-gradient(90deg,#ffb600 0.5px,#ff9700 19.5px,#ff6400 39.5px,#ff2300 58.5px,#ff1000 70.5px,#ff1400 81.5px,#ff2f00 93.5px,#ff6e00 111.5px,#ffa900 137.5px,#ffb600 147.5px)"></i>
<i style="background:linear-gradient(90deg,#ffb500 0.5px,#ff9500 19.5px,#ff6500 38.5px,#ff1f00 58.5px,#ff0b00 69.5px,#ff0d00 80.5px,#ff2a00 93.5px,#ff6c00 111.5px,#ffa600 136.5px,#ffb500 147.5px)"></i>
<i style="background:linear-gradient(90deg,#ffb400 0.5px,#ff9400 19.5px,#ff6700 37.5px,#ff1d00 57.5px,#ff0600 68.5px,#ff0600 79.5px,#ff1d00 90.5px,#ff4600 101.5px,#ff7600 115.5px,#ffab00 140.5px,#ffb400 147.5px)"></i>
<i style="background:linear-gradient(90deg,#ffb400 0.5px,#ff9300 19.5px,#ff6400 37.5px,#ff3d00 47.5px,#ff1200 59.5px,#f00 69.5px,#ff0300 81.5px,#ff1e00 92.5px,#ff6c00 112.5px,#ffa400 136.5px,#ffb400 147.5px)"></i>
<i style="background:linear-gradient(90deg,#ffb300 0.5px,#ff9300 19.5px,#f60 36.5px,#ff4200 45.5px,#ff1200 57.5px,#fe0000 65.5px,#f80000 76.5px,#ff0200 84.5px,#ff2700 96.5px,#ff5700 107.5px,#ff7800 117.5px,#ffab00 141.5px,#ffb300 147.5px)"></i>
<i style="background:linear-gradient(90deg,#ffb300 0.5px,#ff9200 19.5px,#ff6800 35.5px,#ff3e00 45.5px,#ff0a00 58.5px,#fc0000 63.5px,#f10000 74.5px,#ff0100 86.5px,#ff3000 99.5px,#ff5800 108.5px,#ff7a00 118.5px,#ffab00 141.5px,#ffb300 147.5px)"></i>
<i style="background:linear-gradient(90deg,#ffb300 0.5px,#ff8f00 20.5px,#f60 35.5px,#ff4000 44.5px,#ff0700 57.5px,#fb0000 61.5px,#ec0000 71.5px,#f20000 82.5px,#ff0400 89.5px,#ff3a00 102.5px,#ff5e00 110.5px,#ff7e00 120.5px,#ffac00 142.5px,#ffb300 147.5px)"></i>
<i style="background:linear-gradient(90deg,#ffb300 0.5px,#ff8e00 20.5px,#ff6800 34.5px,#ff4100 43.5px,#ff0200 57.5px,#e30000 71.5px,#e70000 79.5px,#ff0200 90.5px,#ff4100 104.5px,#ff6f00 115.5px,#ffa500 138.5px,#ffb300 147.5px)"></i>
<i style="background:linear-gradient(90deg,#ffb300 0.5px,#ff9000 19.5px,#ff6700 34.5px,#ff3e00 43.5px,#f00 56.5px,#db0000 69.5px,#da0000 77.5px,#fc0000 90.5px,#ff0d00 94.5px,#ff5a00 110.5px,#f70 118.5px,#fa0 141.5px,#ffb300 147.5px)"></i>
<i style="background:linear-gradient(90deg,#ffb300 0.5px,#ff8d00 20.5px,#ff6900 33.5px,#ff4000 42.5px,#fe0000 55.5px,#d30000 68.5px,#cf0000 76.5px,#e10000 84.5px,#fe0000 92.5px,#ff4600 106.5px,#ff7300 117.5px,#ffa800 140.5px,#ffb300 147.5px)"></i>
<i style="background:linear-gradient(90deg,#ffb300 0.5px,#ff8c00 20.5px,#ff6700 33.5px,#ff4300 41.5px,#fe0000 54.5px,#ce0000 66.5px,#c40000 74.5px,#d10000 82.5px,#ff0300 94.5px,#ff5600 110.5px,#ff7500 118.5px,#ffa700 140.5px,#ffb300 147.5px)"></i>
<i style="background:linear-gradient(90deg,#ffb300 0.5px,#ff8c00 20.5px,#ff6a00 32.5px,#ff4600 40.5px,#fd0000 53.5px,#c70000 65.5px,#ba0000 73.5px,#c40000 81.5px,#e20000 88.5px,#ff0300 95.5px,#ff5400 110.5px,#f70 119.5px,#ffa900 141.5px,#ffb300 147.5px)"></i>
<i style="background:linear-gradient(90deg,#ffb200 0.5px,#ff8b00 20.5px,#ff6900 32.5px,#ff4300 40.5px,#fe0000 52.5px,#d90000 59.5px,#ba0000 66.5px,#b00000 74.5px,#ba0000 81.5px,#d90000 88.5px,#fe0000 95.5px,#ff5700 111.5px,#ff7600 119.5px,#ffa800 141.5px,#ffb200 147.5px)"></i>
<i style="background:linear-gradient(90deg,#ffb200 0.5px,#ff8a00 20.5px,#ff6700 32.5px,#ff4700 39.5px,#f00 51.5px,#d00 57.5px,#b70000 64.5px,#a80000 71.5px,#ac0000 79.5px,#c50000 86.5px,#f40000 94.5px,#f00 96.5px,#ff5100 110.5px,#ff7600 119.5px,#ffa800 141.5px,#ffb200 147.5px)"></i>
<i style="background:linear-gradient(90deg,#ffb200 0.5px,#ff8a00 20.5px,#ff6b00 31.5px,#f40 39.5px,#ff0100 50.5px,#e30000 55.5px,#b70000 62.5px,#a60000 67.5px,#a10000 76.5px,#ae0000 83.5px,#d40000 90.5px,#f00000 94.5px,#ff0100 97.5px,#ff5400 111.5px,#ff7500 119.5px,#ffa800 141.5px,#ffb200 147.5px)"></i>
<i style="background:linear-gradient(90deg,#ffb200 0.5px,#ff8900 20.5px,#ff6900 31.5px,#ff4200 39.5px,#fc0000 50.5px,#e40000 54.5px,#b30000 61.5px,#a10000 66.5px,#9a0000 75.5px,#a60000 83.5px,#c50000 89.5px,#f10000 95.5px,#ff0300 98.5px,#ff5200 111.5px,#ff7400 119.5px,#ffa800 141.5px,#ffb200 147.5px)"></i>
<i style="background:linear-gradient(90deg,#ffb100 0.5px,#ff8900 20.5px,#ff6800 31.5px,#ff4600 38.5px,#fe0000 49.5px,#dc0000 54.5px,#a00 61.5px,#950000 69.5px,#950000 78.5px,#a00 86.5px,#dc0000 93.5px,#fe0000 98.5px,#ff5100 111.5px,#ff7600 120.5px,#ffa700 141.5px,#ffb100 147.5px)"></i>
<i style="background:linear-gradient(90deg,#ffb100 0.5px,#f80 20.5px,#ff6c00 30.5px,#f40 38.5px,#ff0200 48.5px,#e80000 52.5px,#ae0000 59.5px,#970000 65.5px,#8c0000 73.5px,#940000 81.5px,#a80000 87.5px,#df0000 94.5px,#fb0000 98.5px,#ff1000 101.5px,#ff5000 111.5px,#ff7600 120.5px,#ffa700 141.5px,#ffb100 147.5px)"></i>
<i style="background:linear-gradient(90deg,#ffb100 0.5px,#ff8b00 19.5px,#ff6b00 30.5px,#ff4200 38.5px,#fe0000 48.5px,#e20000 52.5px,#a70000 59.5px,#8c0000 67.5px,#860000 75.5px,#940000 83.5px,#ae0000 89.5px,#f10000 97.5px,#fe0000 99.5px,#ff5300 112.5px,#ff7500 120.5px,#ffa700 141.5px,#ffb100 147.5px)"></i>
<i style="background:linear-gradient(90deg,#ffb100 0.5px,#ff8a00 19.5px,#ff6a00 30.5px,#ff4700 37.5px,#ff0300 47.5px,#e60000 51.5px,#a70000 58.5px,#800 66.5px,#850000 80.5px,#a20000 88.5px,#c00000 92.5px,#e00 97.5px,#ff0300 100.5px,#ff5200 112.5px,#ff7500 120.5px,#ffa700 141.5px,#ffb100 147.5px)"></i>
<i style="background:linear-gradient(90deg,#ffb100 0.5px,#ff8a00 19.5px,#ff6900 30.5px,#ff4500 37.5px,#f00 47.5px,#e10000 51.5px,#a80000 57.5px,#850000 65.5px,#850000 82.5px,#a80000 90.5px,#f20000 98.5px,#f00 100.5px,#ff5100 112.5px,#ff7500 120.5px,#ffa700 141.5px,#ffb100 147.5px)"></i>
<i style="background:linear-gradient(90deg,#ffb000 0.5px,#ff8a00 19.5px,#ff6800 30.5px,#f40 37.5px,#fd0000 47.5px,#dc0000 51.5px,#a40000 57.5px,#860000 63.5px,#860000 84.5px,#ab0000 91.5px,#ef0000 98.5px,#fd0000 100.5px,#ff5000 112.5px,#ff7400 120.5px,#ffa600 141.5px,#ffb000 147.5px)"></i>
<i style="background:linear-gradient(90deg,#ffb000 0.5px,#ff8900 19.5px,#ff6d00 29.5px,#ff4300 37.5px,#ff0300 46.5px,#e30000 50.5px,#a60000 56.5px,#860000 62.5px,#860000 85.5px,#af0000 92.5px,#ed0000 98.5px,#ff0300 101.5px,#ff5000 112.5px,#f70 121.5px,#ffa800 142.5px,#ffb000 147.5px)"></i>
<i style="background:linear-gradient(90deg,#ffb000 0.5px,#ff8900 19.5px,#ff6c00 29.5px,#ff4200 37.5px,#ff0100 46.5px,#eb0000 49.5px,#ab0000 55.5px,#860000 61.5px,#840000 84.5px,#8c0000 87.5px,#ab0000 92.5px,#eb0000 98.5px,#ff0100 101.5px,#ff4f00 112.5px,#ff7600 121.5px,#ffa800 142.5px,#ffb000 147.5px)"></i>
<i style="background:linear-gradient(90deg,#ffb000 0.5px,#ff8900 19.5px,#ff6c00 29.5px,#ff4800 36.5px,#f00 46.5px,#e90000 49.5px,#a70000 55.5px,#850000 61.5px,#850000 86.5px,#a70000 92.5px,#f00000 99.5px,#f00 101.5px,#ff5300 113.5px,#ff7600 121.5px,#ffa800 142.5px,#ffb000 147.5px)"></i>
<i style="background:linear-gradient(90deg,#ffb000 0.5px,#ff8900 19.5px,#ff6b00 29.5px,#ff4700 36.5px,#fe0000 46.5px,#e60000 49.5px,#a50000 55.5px,#860000 60.5px,#840000 84.5px,#860000 87.5px,#ae0000 93.5px,#ef0000 99.5px,#fe0000 101.5px,#ff5300 113.5px,#ff7600 121.5px,#ffa800 142.5px,#ffb000 147.5px)"></i>
<i style="background:linear-gradient(90deg,#ffb000 0.5px,#ff8900 19.5px,#ff6b00 29.5px,#ff4700 36.5px,#fd0000 46.5px,#e50000 49.5px,#a40000 55.5px,#850000 60.5px,#840000 84.5px,#8a0000 88.5px,#ac0000 93.5px,#e00 99.5px,#fd0000 101.5px,#ff5200 113.5px,#ff7600 121.5px,#ffa800 142.5px,#ffb000 147.5px)"></i>
<i style="background:linear-gradient(90deg,#ffb000 0.5px,#ff8900 19.5px,#ff6b00 29.5px,#ff4600 36.5px,#fc0000 46.5px,#e40000 49.5px,#ab0000 54.5px,#890000 59.5px,#820000 77.5px,#890000 88.5px,#ab0000 93.5px,#e00 99.5px,#fc0000 101.5px,#ff5200 113.5px,#ff7600 121.5px,#ffa800 142.5px,#ffb000 147.5px)"></i>
<i style="background:linear-gradient(90deg,#ffb000 0.5px,#ff8900 19.5px,#ff6b00 29.5px,#ff4600 36.5px,#fc0000 46.5px,#e30000 49.5px,#ab0000 54.5px,#890000 59.5px,#840000 79.5px,#890000 88.5px,#ab0000 93.5px,#e00 99.5px,#fc0000 101.5px,#ff5200 113.5px,#ff7600 121.5px,#ffa800 142.5px,#ffb000 147.5px)"></i>
<i style="background:linear-gradient(90deg,#ffb000 0.5px,#ff8900 19.5px,#ff6b00 29.5px,#ff4600 36.5px,#fd0000 46.5px,#e40000 49.5px,#ab0000 54.5px,#8a0000 59.5px,#850000 79.5px,#8a0000 88.5px,#ab0000 93.5px,#e00 99.5px,#fd0000 101.5px,#ff5200 113.5px,#ff7600 121.5px,#ffa800 142.5px,#ffb000 147.5px)"></i>
<i style="background:linear-gradient(90deg,#ffb000 0.5px,#ff8900 19.5px,#ff6b00 29.5px,#ff4700 36.5px,#fe0000 46.5px,#e70000 49.5px,#a70000 55.5px,#a00000 57.5px,#a10000 91.5px,#ba0000 94.5px,#f00000 99.5px,#fe0000 101.5px,#ff5200 113.5px,#ff7600 121.5px,#ffa800 142.5px,#ffb000 147.5px)"></i>
<i style="background:linear-gradient(90deg,#ffb000 0.5px,#ff8900 19.5px,#ff6c00 29.5px,#ff4100 37.5px,#ff0200 46.5px,#e50000 50.5px,#e40000 55.5px,#e80000 84.5px,#e20000 96.5px,#ec0000 98.5px,#ff0200 101.5px,#ff5300 113.5px,#ff7600 121.5px,#ffa800 142.5px,#ffb000 147.5px)"></i>
<i style="background:linear-gradient(90deg,#ffb000 0.5px,#ff8900 19.5px,#ff6d00 29.5px,#ff4300 37.5px,#ff0d00 46.5px,#ff0d00 50.5px,#f20 58.5px,#f20 89.5px,#ff0a00 99.5px,#f10 102.5px,#ff5400 113.5px,#f70 121.5px,#ffa800 142.5px,#ffb000 147.5px)"></i>
<i style="background:linear-gradient(90deg,#ffb100 0.5px,#ff8a00 19.5px,#ff6900 30.5px,#ff4600 37.5px,#ff1c00 44.5px,#ff1500 47.5px,#ff3600 57.5px,#ff3a00 84.5px,#ff3200 92.5px,#ff1500 100.5px,#ff2100 104.5px,#ff5600 113.5px,#ff7500 120.5px,#ffa700 141.5px,#ffb100 147.5px)"></i>
<i style="background:linear-gradient(90deg,#ffb100 0.5px,#ff8b00 19.5px,#ff6b00 30.5px,#ff4300 38.5px,#ff2400 44.5px,#ff2000 47.5px,#ff4800 55.5px,#ff5100 64.5px,#ff4e00 89.5px,#ff4000 94.5px,#ff2000 100.5px,#ff2700 104.5px,#ff5d00 114.5px,#ff7500 120.5px,#ffa700 141.5px,#ffb100 147.5px)"></i>
<i style="background:linear-gradient(90deg,#ffb100 0.5px,#ff8900 20.5px,#ff6800 31.5px,#ff4100 39.5px,#ff2b00 44.5px,#ff2c00 47.5px,#ff5a00 54.5px,#ff6500 60.5px,#ff6300 89.5px,#f50 94.5px,#ff2c00 100.5px,#ff2b00 103.5px,#ff4100 108.5px,#ff6d00 117.5px,#ffa200 138.5px,#ffb100 147.5px)"></i>
<i style="background:linear-gradient(90deg,#ffb200 0.5px,#ff8a00 20.5px,#ff6b00 31.5px,#ff3400 43.5px,#f30 46.5px,#ff4300 49.5px,#ff6100 53.5px,#ff7000 58.5px,#ff7200 85.5px,#ff6a00 92.5px,#ff5400 96.5px,#ff3600 100.5px,#ff3200 103.5px,#ff4600 108.5px,#ff7500 119.5px,#ffa800 141.5px,#ffb200 147.5px)"></i>
<i style="background:linear-gradient(90deg,#ffb200 0.5px,#ff8b00 20.5px,#ff6900 32.5px,#ff3b00 43.5px,#ff3b00 46.5px,#f50 50.5px,#ff7000 54.5px,#ff7b00 60.5px,#ff7b00 87.5px,#ff7000 93.5px,#ff4c00 98.5px,#ff3b00 101.5px,#ff3b00 104.5px,#ff7600 119.5px,#ffa800 141.5px,#ffb200 147.5px)"></i>
<i style="background:linear-gradient(90deg,#ffb300 0.5px,#ff8c00 20.5px,#ff6800 33.5px,#ff4200 43.5px,#f40 46.5px,#ff5f00 50.5px,#ff7a00 54.5px,#ff8700 61.5px,#f80 85.5px,#ff7e00 92.5px,#ff6700 96.5px,#ff4800 100.5px,#ff4100 103.5px,#ff5f00 112.5px,#ff7a00 120.5px,#ffab00 142.5px,#ffb300 147.5px)"></i>
<i style="background:linear-gradient(90deg,#ffb300 0.5px,#ff9000 19.5px,#ff6700 34.5px,#ff4900 44.5px,#ff5100 47.5px,#ff8000 53.5px,#ff8f00 58.5px,#ff9600 76.5px,#ff8d00 90.5px,#ff8000 94.5px,#ff4c00 101.5px,#ff4900 104.5px,#ff7e00 121.5px,#ffad00 143.5px,#ffb300 147.5px)"></i>
<i style="background:linear-gradient(90deg,#ffb300 0.5px,#ff8f00 20.5px,#ff6700 35.5px,#ff5100 43.5px,#f50 46.5px,#ff8a00 53.5px,#ff9c00 59.5px,#ffa300 76.5px,#f90 90.5px,#ff8400 95.5px,#f50 101.5px,#ff5100 104.5px,#ff6700 112.5px,#ff9c00 133.5px,#ffb300 147.5px)"></i>
<i style="background:linear-gradient(90deg,#ffb300 0.5px,#ff9200 19.5px,#ff6300 37.5px,#ff5800 43.5px,#ff5d00 46.5px,#ff9300 53.5px,#ffa600 59.5px,#ffb000 75.5px,#ffa400 89.5px,#ff9300 94.5px,#ff5d00 101.5px,#ff5800 104.5px,#ff6300 110.5px,#ff9500 129.5px,#ffb300 147.5px)"></i>
<i style="background:linear-gradient(90deg,#ffb400 0.5px,#ff9400 19.5px,#ff5d00 42.5px,#ff6500 46.5px,#ff9c00 53.5px,#ffb100 59.5px,#ffbd00 72.5px,#ffb400 86.5px,#ffa100 93.5px,#ff8500 97.5px,#ff6500 101.5px,#ff5d00 105.5px,#ffa600 137.5px,#ffb400 147.5px)"></i>
<i style="background:linear-gradient(90deg,#ffb400 0.5px,#ff9500 19.5px,#ff6200 42.5px,#ff6800 45.5px,#ff8500 49.5px,#ffa900 54.5px,#ffc000 61.5px,#ffcb00 74.5px,#ffbe00 87.5px,#ffa900 93.5px,#ff8500 98.5px,#ff6800 102.5px,#ff6200 105.5px,#ffa800 138.5px,#ffb400 147.5px)"></i>
<i style="background:linear-gradient(90deg,#ffb400 0.5px,#f90 18.5px,#ff6700 42.5px,#ff6d00 45.5px,#ffb200 54.5px,#fc0 61.5px,#ffd900 73.5px,#ffce00 85.5px,#ffb700 92.5px,#ff9500 97.5px,#ff6d00 102.5px,#ff6700 105.5px,#ffad00 140.5px,#ffb400 147.5px)"></i>
<i style="background:linear-gradient(90deg,#ffb500 0.5px,#ffa100 15.5px,#ff6c00 41.5px,#ff6e00 44.5px,#ff8000 47.5px,#ffb400 53.5px,#ffd100 59.5px,#ffe200 68.5px,#ffe300 78.5px,#ffd400 87.5px,#ffba00 93.5px,#ff8900 99.5px,#ff7200 102.5px,#ff6b00 105.5px,#ff8d00 122.5px,#ffb200 143.5px,#ffb500 147.5px)"></i>
<i style="background:linear-gradient(90deg,#ffb500 0.5px,#ffa300 15.5px,#ff7000 41.5px,#ff7300 44.5px,#ff8500 47.5px,#ffc100 54.5px,#fd0 60.5px,#fff000 70.5px,#fe0 79.5px,#ffda00 88.5px,#ffba00 94.5px,#f70 102.5px,#ff6f00 105.5px,#ff8a00 120.5px,#ffb200 142.5px,#ffb500 147.5px)"></i>
<i style="background:linear-gradient(90deg,#ffb600 0.5px,#ffa400 15.5px,#ff7400 41.5px,#ff7800 44.5px,#ff9500 48.5px,#ffc900 54.5px,#ffe700 60.5px,#fff800 68.5px,#fffa00 77.5px,#ffeb00 86.5px,#ffd000 92.5px,#ffa800 97.5px,#ff7d00 102.5px,#ff7300 105.5px,#f80 118.5px,#ffb300 142.5px,#ffb600 147.5px)"></i>
<i style="background:linear-gradient(90deg,#ffb600 0.5px,#ffa800 13.5px,#ff7800 40.5px,#ff7b00 43.5px,#ff8c00 46.5px,#ffd300 54.5px,#fff200 60.5px,#feff01 67.5px,#faff05 76.5px,#fffc00 83.5px,#ffea00 89.5px,#ffc400 95.5px,#ff8400 102.5px,#ff7800 105.5px,#ff8300 114.5px,#ffb100 140.5px,#ffb600 147.5px)"></i>
<i style="background:linear-gradient(90deg,#ffb700 0.5px,#fa0 13.5px,#ff7c00 40.5px,#ff8600 44.5px,#ffa600 48.5px,#ffd500 53.5px,#fff700 59.5px,#fbff04 63.5px,#efff10 74.5px,#fffe00 86.5px,#ffe900 91.5px,#ffc500 96.5px,#ff8c00 102.5px,#ff7c00 106.5px,#ff8c00 117.5px,#ffb300 141.5px,#ffb700 147.5px)"></i>
<i style="background:linear-gradient(90deg,#ffb700 0.5px,#ffab00 13.5px,#ff7f00 40.5px,#ff8700 43.5px,#ffa600 47.5px,#ffdf00 53.5px,#fffc00 58.5px,#eaff15 68.5px,#e7ff18 76.5px,#f8ff07 86.5px,#fffc00 89.5px,#ffdf00 94.5px,#ff8d00 103.5px,#ff8000 106.5px,#ff8900 114.5px,#ffb300 140.5px,#ffb700 147.5px)"></i>
<i style="background:linear-gradient(90deg,#ffb800 0.5px,#ffab00 14.5px,#ff8400 40.5px,#ff8e00 43.5px,#ffaf00 47.5px,#ffe800 53.5px,#ff0 57.5px,#e6ff19 65.5px,#deff21 75.5px,#edff12 85.5px,#ff0 90.5px,#ffe000 95.5px,#ff9400 103.5px,#ff8500 106.5px,#ff8700 111.5px,#ffb300 139.5px,#ffb800 147.5px)"></i>
<i style="background:linear-gradient(90deg,#ffb800 0.5px,#ffac00 15.5px,#ff8700 39.5px,#ff9400 43.5px,#ffb800 47.5px,#fff000 53.5px,#fcff03 56.5px,#e0ff1f 64.5px,#d5ff2a 74.5px,#e3ff1c 84.5px,#fffd00 92.5px,#ffd700 97.5px,#ff9b00 103.5px,#ff8b00 106.5px,#ff8900 110.5px,#ffb400 139.5px,#ffb800 147.5px)"></i>
<i style="background:linear-gradient(90deg,#ffb900 0.5px,#ffac00 16.5px,#ff8b00 39.5px,#ff9500 42.5px,#ffb600 46.5px,#fff100 52.5px,#fffe00 54.5px,#deff21 62.5px,#cfff30 72.5px,#d9ff26 83.5px,#f5ff0a 91.5px,#fffe00 93.5px,#ffd600 98.5px,#ff9b00 104.5px,#ff8d00 107.5px,#ff8f00 112.5px,#ffb400 139.5px,#ffb900 147.5px)"></i>
<i style="background:linear-gradient(90deg,#ffb900 0.5px,#ffac00 17.5px,#ff8f00 38.5px,#ff9c00 42.5px,#ffbf00 46.5px,#fff800 52.5px,#fffe00 53.5px,#daff25 61.5px,#c8ff37 72.5px,#d2ff2d 83.5px,#eaff15 90.5px,#fffe00 94.5px,#ffd400 99.5px,#ffa300 104.5px,#ff9200 107.5px,#ff9000 111.5px,#ffb400 138.5px,#ffb900 147.5px)"></i>
<i style="background:linear-gradient(90deg,#ffba00 0.5px,#ffab00 19.5px,#ff9300 38.5px,#ffa200 42.5px,#fff700 51.5px,#fffe00 52.5px,#d6ff29 60.5px,#c3ff3c 71.5px,#c7ff38 80.5px,#daff25 88.5px,#fffe00 95.5px,#ffd200 100.5px,#ffa200 105.5px,#ff9300 109.5px,#ffb500 138.5px,#ffba00 147.5px)"></i>
<i style="background:linear-gradient(90deg,#ffba00 0.5px,#ffac00 20.5px,#ff9600 37.5px,#ffa300 41.5px,#ffc500 45.5px,#fffe00 51.5px,#d4ff2b 59.5px,#bfff40 69.5px,#bcff43 76.5px,#ceff31 86.5px,#e7ff18 92.5px,#fffe00 96.5px,#ffc500 102.5px,#ffa300 106.5px,#ff9600 110.5px,#ffb400 136.5px,#ffba00 147.5px)"></i>
<i style="background:linear-gradient(90deg,#fb0 0.5px,#ffad00 21.5px,#f90 37.5px,#ffa900 41.5px,#fffd00 50.5px,#d3ff2c 58.5px,#baff45 68.5px,#b5ff4a 75.5px,#c9ff36 86.5px,#e1ff1e 92.5px,#fffd00 97.5px,#ffa900 106.5px,#f90 110.5px,#ffb500 136.5px,#fb0 147.5px)"></i>
<i style="background:linear-gradient(90deg,#fb0 0.5px,#ffac00 23.5px,#ff9d00 37.5px,#ffaf00 41.5px,#fffb00 49.5px,#e7ff18 53.5px,#caff35 59.5px,#b2ff4d 69.5px,#b0ff4f 76.5px,#c4ff3b 86.5px,#e1ff1e 93.5px,#fbff04 97.5px,#fff300 99.5px,#ffaf00 106.5px,#ff9d00 110.5px,#ffb500 135.5px,#fb0 147.5px)"></i>
<i style="background:linear-gradient(90deg,#ffbc00 0.5px,#ffac00 25.5px,#ffa100 37.5px,#ffb600 41.5px,#fff900 48.5px,#f6ff09 50.5px,#d1ff2e 56.5px,#b2ff4d 66.5px,#a9ff56 75.5px,#bf4 85.5px,#dbff24 93.5px,#fdff02 98.5px,#fd0 102.5px,#ffae00 107.5px,#ff9f00 111.5px,#ffb600 134.5px,#ffbc00 147.5px)"></i>
<i style="background:linear-gradient(90deg,#ffbd00 0.5px,#ffad00 26.5px,#ffa300 36.5px,#ffb400 40.5px,#ff0 48.5px,#d1ff2e 55.5px,#aeff51 65.5px,#a2ff5d 74.5px,#b6ff49 85.5px,#dcff23 94.5px,#ff0 99.5px,#ffb400 107.5px,#ffa300 111.5px,#ffb600 134.5px,#ffbd00 147.5px)"></i>
<i style="background:linear-gradient(90deg,#ffbd00 0.5px,#ffad00 28.5px,#ffa700 36.5px,#ffbc00 40.5px,#fffe00 47.5px,#d1ff2e 54.5px,#abff54 64.5px,#9bff64 74.5px,#aeff51 84.5px,#d6ff29 94.5px,#fffe00 100.5px,#ffb400 108.5px,#ffa700 111.5px,#ffb900 138.5px,#ffbd00 147.5px)"></i>
<i style="background:linear-gradient(90deg,#ffbd00 0.5px,#ffad00 30.5px,#fa0 36.5px,#ffba00 39.5px,#fffc00 46.5px,#cdff32 54.5px,#a6ff59 64.5px,#95ff6a 74.5px,#a9ff56 84.5px,#d7ff28 95.5px,#fffc00 101.5px,#ffb400 109.5px,#ffa800 112.5px,#ffb700 133.5px,#ffbd00 147.5px)"></i>
<i style="background:linear-gradient(90deg,#ffbd00 0.5px,#ffac00 33.5px,#ffaf00 36.5px,#ffc100 39.5px,#fffa00 45.5px,#f4ff0b 47.5px,#cdff32 53.5px,#a0ff5f 64.5px,#8fff70 74.5px,#a4ff5b 84.5px,#d2ff2d 95.5px,#fcff03 101.5px,#ffe800 104.5px,#ffb900 109.5px,#ffab00 112.5px,#ffbd00 147.5px)"></i>
<i style="background:linear-gradient(90deg,#ffbd00 0.5px,#ffaf00 35.5px,#ffc000 38.5px,#feff01 45.5px,#ceff31 52.5px,#9eff61 63.5px,#89ff76 73.5px,#98ff67 82.5px,#c4ff3b 93.5px,#e7ff18 99.5px,#feff01 102.5px,#ffb800 110.5px,#ffae00 113.5px,#ffbd00 147.5px)"></i>
<i style="background:linear-gradient(90deg,#ffbe00 0.5px,#ffb000 34.5px,#ffbe00 37.5px,#fffe00 44.5px,#cfff30 51.5px,#9f6 63.5px,#83ff7c 73.5px,#93ff6c 82.5px,#bfff40 93.5px,#e9ff16 100.5px,#fffe00 103.5px,#ffbe00 110.5px,#ffb000 113.5px,#ffbe00 147.5px)"></i>
<i style="background:linear-gradient(90deg,#ffbe00 0.5px,#ffb400 34.5px,#ffc500 37.5px,#fffc00 43.5px,#caff35 51.5px,#94ff6b 63.5px,#7dff82 73.5px,#8eff71 82.5px,#bf4 93.5px,#e3ff1c 100.5px,#fffc00 104.5px,#ffbd00 111.5px,#ffb300 114.5px,#ffbe00 147.5px)"></i>
<i style="background:linear-gradient(90deg,#ffbe00 0.5px,#ffb400 33.5px,#ffc300 36.5px,#fffa00 42.5px,#f4ff0b 44.5px,#cf3 50.5px,#8fff70 63.5px,#7f8 73.5px,#89ff76 82.5px,#b7ff48 93.5px,#e5ff1a 101.5px,#fcff03 104.5px,#ffe700 107.5px,#ffbc00 112.5px,#ffb400 115.5px,#ffbe00 147.5px)"></i>
<i style="background:linear-gradient(90deg,#ffbe00 0.5px,#ffb600 33.5px,#ffd200 37.5px,#feff01 42.5px,#cdff32 49.5px,#8eff71 62.5px,#72ff8d 72.5px,#74ff8b 76.5px,#92ff6d 86.5px,#d8ff27 100.5px,#feff01 105.5px,#fb0 113.5px,#ffb500 116.5px,#ffbe00 147.5px)"></i>
<i style="background:linear-gradient(90deg,#ffbe00 0.5px,#ffb600 32.5px,#ffc700 35.5px,#fffe00 41.5px,#c9ff36 49.5px,#85ff7a 63.5px,#6bff94 73.5px,#7bff84 81.5px,#aeff51 93.5px,#e2ff1d 102.5px,#fffe00 106.5px,#ffbf00 113.5px,#ffb600 115.5px,#ffbe00 147.5px)"></i>
<i style="background:linear-gradient(90deg,#ffbe00 0.5px,#ffb900 32.5px,#ffd600 36.5px,#fffb00 40.5px,#e4ff1b 44.5px,#a5ff5a 55.5px,#76ff89 66.5px,#69ff96 72.5px,#6dff92 78.5px,#91ff6e 88.5px,#dcff23 102.5px,#fbff04 106.5px,#fff300 108.5px,#ffbe00 114.5px,#ffb800 117.5px,#ffbe00 147.5px)"></i>
<i style="background:linear-gradient(90deg,#ffbf00 0.5px,#ffb800 31.5px,#ffcb00 34.5px,#fdff02 40.5px,#cf3 47.5px,#80ff7f 62.5px,#69ff96 69.5px,#67ff98 76.5px,#74ff8b 82.5px,#b0ff4f 95.5px,#e6ff19 104.5px,#fdff02 107.5px,#ffbc00 115.5px,#ffb900 118.5px,#ffbf00 147.5px)"></i>
<i style="background:linear-gradient(90deg,#ffbf00 0.5px,#fb0 31.5px,#ffda00 35.5px,#fffe00 39.5px,#cdff32 46.5px,#7bff84 62.5px,#68ff97 68.5px,#63ff9c 75.5px,#6fff90 82.5px,#acff53 95.5px,#e1ff1e 104.5px,#fffe00 108.5px,#ffc100 115.5px,#ffba00 117.5px,#ffbf00 147.5px)"></i>
<i style="background:linear-gradient(90deg,#ffbf00 0.5px,#fb0 30.5px,#ffd700 34.5px,#fffc00 38.5px,#c3ff3c 47.5px,#72ff8d 63.5px,#64ff9b 69.5px,#61ff9e 75.5px,#6eff91 83.5px,#b8ff47 98.5px,#e3ff1c 105.5px,#fffc00 109.5px,#ffbf00 116.5px,#fb0 118.5px,#ffbf00 147.5px)"></i>
<i style="background:linear-gradient(90deg,#ffbf00 0.5px,#ffbe00 30.5px,#ffe600 35.5px,#fdff02 38.5px,#cbff34 45.5px,#73ff8c 62.5px,#64ff9b 68.5px,#5effa1 75.5px,#6eff91 84.5px,#c6ff39 101.5px,#ef1 107.5px,#fdff02 109.5px,#ffbe00 117.5px,#ffbf00 147.5px)"></i>
<i style="background:linear-gradient(90deg,#ffbf00 0.5px,#ffbd00 29.5px,#ffd900 33.5px,#fffd00 37.5px,#c8ff37 45.5px,#6fff90 62.5px,#5bffa4 73.5px,#6bff94 84.5px,#c3ff3c 101.5px,#f1ff0e 108.5px,#fffd00 110.5px,#ffc100 117.5px,#ffbd00 120.5px,#ffbf00 147.5px)"></i>
<i style="background:linear-gradient(90deg,#ffbf00 0.5px,#ffbf00 29.5px,#ffe700 34.5px,#fcff03 37.5px,#cbff34 44.5px,#6bff94 62.5px,#58ffa7 74.5px,#6bff94 85.5px,#d6ff29 105.5px,#fcff03 110.5px,#ffde00 114.5px,#ffbf00 118.5px,#ffbf00 147.5px)"></i>
<i style="background:linear-gradient(90deg,#ffc000 0.5px,#ffbd00 28.5px,#ffda00 32.5px,#fffe00 36.5px,#c7ff38 44.5px,#6cff93 61.5px,#56ffa9 74.5px,#6cff93 86.5px,#d9ff26 106.5px,#fffe00 111.5px,#ffc200 118.5px,#ffbd00 120.5px,#ffc000 147.5px)"></i>
<i style="background:linear-gradient(90deg,#ffc000 0.5px,#ffbf00 28.5px,#fff200 34.5px,#fbff04 36.5px,#caff35 43.5px,#6aff95 61.5px,#53ffac 74.5px,#6dff92 87.5px,#df2 107.5px,#fbff04 111.5px,#fff200 113.5px,#ffbf00 119.5px,#ffc000 147.5px)"></i>
<i style="background:linear-gradient(90deg,#ffc000 0.5px,#ffbe00 27.5px,#ffdb00 31.5px,#ff0 35.5px,#cdff32 42.5px,#6aff95 60.5px,#51ffae 73.5px,#68ff97 86.5px,#8fff70 94.5px,#e0ff1f 108.5px,#ff0 112.5px,#ffc300 119.5px,#ffbe00 121.5px,#ffc000 147.5px)"></i>
<i style="background:linear-gradient(90deg,#ffc000 0.5px,#ffc000 27.5px,#fffb00 34.5px,#d5ff2a 40.5px,#6bff94 59.5px,#50ffaf 73.5px,#5dffa2 82.5px,#70ff8f 89.5px,#dcff23 108.5px,#fffb00 113.5px,#ffc000 120.5px,#ffc000 147.5px)"></i>
<i style="background:linear-gradient(90deg,#ffc000 0.5px,#ffbe00 26.5px,#ffdc00 30.5px,#feff01 34.5px,#cf3 41.5px,#6aff95 59.5px,#50ffaf 72.5px,#57ffa8 80.5px,#6dff92 89.5px,#dfff20 109.5px,#feff01 113.5px,#ffc300 120.5px,#ffbe00 122.5px,#ffc000 147.5px)"></i>
<i style="background:linear-gradient(90deg,#ffc100 0.5px,#ffc100 26.5px,#fffc00 33.5px,#c3ff3c 42.5px,#6aff95 58.5px,#50ffaf 71.5px,#53ffac 79.5px,#6fff90 90.5px,#e3ff1c 110.5px,#fffc00 114.5px,#ffc100 121.5px,#ffc100 147.5px)"></i>
<i style="background:linear-gradient(90deg,#ffc100 0.5px,#ffbf00 25.5px,#fd0 29.5px,#fdff02 33.5px,#cbff34 40.5px,#69ff96 58.5px,#50ffaf 70.5px,#50ffaf 78.5px,#6cff93 90.5px,#deff21 110.5px,#fdff02 114.5px,#ffc400 121.5px,#ffbf00 123.5px,#ffc100 147.5px)"></i>
<i style="background:linear-gradient(90deg,#ffc100 0.5px,#ffc100 25.5px,#fffd00 32.5px,#c2ff3d 41.5px,#6aff95 57.5px,#50ffaf 69.5px,#4fffb0 77.5px,#60ff9f 86.5px,#73ff8c 92.5px,#e2ff1d 111.5px,#fffd00 115.5px,#ffc100 122.5px,#ffc100 147.5px)"></i>
<i style="background:linear-gradient(90deg,#ffc100 0.5px,#ffbf00 24.5px,#ffe700 29.5px,#fdff02 32.5px,#cbff34 39.5px,#6bff94 56.5px,#50ffaf 68.5px,#4dffb2 76.5px,#59ffa6 84.5px,#70ff8f 92.5px,#deff21 111.5px,#fdff02 115.5px,#ffbf00 123.5px,#ffc100 147.5px)"></i>
<i style="background:linear-gradient(90deg,#ffc100 0.5px,#ffc200 24.5px,#fffe00 31.5px,#c7ff38 39.5px,#69ff96 56.5px,#4fffb0 68.5px,#4cffb3 76.5px,#5affa5 85.5px,#72ff8d 93.5px,#e1ff1e 112.5px,#fffe00 116.5px,#ffc200 123.5px,#ffc100 147.5px)"></i>
<i style="background:linear-gradient(90deg,#ffc200 0.5px,#ffc000 23.5px,#fff300 29.5px,#fbff04 31.5px,#c9ff36 38.5px,#6aff95 55.5px,#4fffb0 67.5px,#4affb5 75.5px,#58ffa7 85.5px,#6fff90 93.5px,#e4ff1b 113.5px,#fffb00 117.5px,#ffc700 123.5px,#ffc000 125.5px,#ffc200 147.5px)"></i>
<i style="background:linear-gradient(90deg,#ffc200 0.5px,#ffc000 22.5px,#ffde00 26.5px,#fdff02 30.5px,#cbff34 37.5px,#6bff94 54.5px,#4fffb0 66.5px,#49ffb6 75.5px,#58ffa7 86.5px,#70ff8f 94.5px,#deff21 113.5px,#fdff02 117.5px,#ffc500 124.5px,#ffc000 126.5px,#ffc200 147.5px)"></i>
<i style="background:linear-gradient(90deg,#ffc200 0.5px,#ffc000 21.5px,#ffd300 24.5px,#ff0 29.5px,#cf3 36.5px,#69ff96 54.5px,#4fffb0 65.5px,#48ffb7 75.5px,#56ffa9 86.5px,#71ff8e 95.5px,#e0ff1f 114.5px,#ff0 118.5px,#ffc400 125.5px,#ffc100 138.5px,#ffc200 147.5px)"></i>
<i style="background:linear-gradient(90deg,#ffc200 0.5px,#ffc200 21.5px,#fffd00 28.5px,#c8ff37 36.5px,#69ff96 53.5px,#4fffb0 64.5px,#47ffb8 75.5px,#57ffa8 87.5px,#6dff92 95.5px,#e1ff1e 115.5px,#fffd00 119.5px,#ffc200 126.5px,#ffc200 147.5px)"></i>
<i style="background:linear-gradient(90deg,#ffc200 0.5px,#ffc100 20.5px,#fff300 26.5px,#fbff04 28.5px,#c9ff36 35.5px,#6aff95 52.5px,#50ffaf 63.5px,#46ffb9 75.5px,#57ffa8 88.5px,#6eff91 96.5px,#e3ff1c 116.5px,#fffc00 120.5px,#ffc700 126.5px,#ffc100 127.5px,#ffc200 147.5px)"></i>
<i style="background:linear-gradient(90deg,#ffc300 0.5px,#ffc100 19.5px,#ffde00 23.5px,#fcff03 27.5px,#cbff34 34.5px,#6aff95 51.5px,#4fffb0 63.5px,#45ffba 75.5px,#58ffa7 89.5px,#6fff90 97.5px,#deff21 116.5px,#fcff03 120.5px,#ffc600 127.5px,#ffc100 130.5px,#ffc300 147.5px)"></i>
<i style="background:linear-gradient(90deg,#ffc300 0.5px,#ffc400 19.5px,#feff01 26.5px,#cf3 33.5px,#68ff97 51.5px,#4fffb0 62.5px,#4fb 75.5px,#56ffa9 89.5px,#71ff8e 98.5px,#dfff20 117.5px,#feff01 121.5px,#ffc400 128.5px,#ffc300 147.5px)"></i>
<i style="background:linear-gradient(90deg,#ffc300 0.5px,#ffc400 18.5px,#feff01 25.5px,#cf3 32.5px,#68ff97 50.5px,#4fffb0 61.5px,#43ffbc 75.5px,#56ffa9 90.5px,#71ff8e 99.5px,#dfff20 118.5px,#feff01 122.5px,#ffc400 129.5px,#ffc300 147.5px)"></i>
<i style="background:linear-gradient(90deg,#ffc300 0.5px,#ffc500 17.5px,#feff01 24.5px,#cf3 31.5px,#68ff97 49.5px,#4fffb0 60.5px,#42ffbd 74.5px,#5fa 91.5px,#70ff8f 100.5px,#dfff20 119.5px,#feff01 123.5px,#ffc500 130.5px,#ffc300 147.5px)"></i>
<i style="background:linear-gradient(90deg,#ffc400 0.5px,#ffc500 16.5px,#feff01 23.5px,#cf3 30.5px,#6bff94 47.5px,#4effb1 59.5px,#42ffbd 73.5px,#4bffb4 85.5px,#5bffa4 94.5px,#70ff8f 101.5px,#dfff20 120.5px,#feff01 124.5px,#ffc500 131.5px,#ffc400 147.5px)"></i>
<i style="background:linear-gradient(90deg,#ffc400 0.5px,#ffc500 15.5px,#fdff02 22.5px,#cbff34 29.5px,#6bff94 46.5px,#4effb1 58.5px,#42ffbd 72.5px,#47ffb8 83.5px,#58ffa7 94.5px,#70ff8f 102.5px,#dfff20 121.5px,#fdff02 125.5px,#ffc500 132.5px,#ffc400 147.5px)"></i>
<i style="background:linear-gradient(90deg,#ffc400 0.5px,#ffc300 13.5px,#ffe000 17.5px,#fffc00 20.5px,#c9ff36 28.5px,#6aff95 45.5px,#4fffb0 56.5px,#42ffbd 70.5px,#46ffb9 83.5px,#57ffa8 95.5px,#6eff91 103.5px,#e3ff1c 123.5px,#fffc00 127.5px,#ffc800 133.5px,#ffc300 135.5px,#ffc400 147.5px)"></i>
<i style="background:linear-gradient(90deg,#ffc600 0.5px,#ffc500 12.5px,#ff0 19.5px,#cdff32 26.5px,#69ff96 44.5px,#4fffb0 55.5px,#42ffbd 69.5px,#45ffba 84.5px,#58ffa7 97.5px,#71ff8e 105.5px,#e0ff1f 124.5px,#ff0 128.5px,#ffc500 135.5px,#ffc600 147.5px)"></i>
<i style="background:linear-gradient(90deg,#ffe600 0.5px,#ffe800 12.5px,#feff01 17.5px,#bfff40 27.5px,#6aff95 42.5px,#4fffb0 53.5px,#42ffbd 67.5px,#46ffb9 86.5px,#57ffa8 98.5px,#6fff90 106.5px,#e4ff1b 126.5px,#feff01 130.5px,#ffe800 135.5px,#ffe600 147.5px)"></i>
<i style="background:linear-gradient(90deg,#f5ff0a 0.5px,#f1ff0e 14.5px,#dbff24 20.5px,#69ff96 41.5px,#4fffb0 52.5px,#42ffbd 66.5px,#45ffba 87.5px,#56ffa9 99.5px,#6dff92 107.5px,#e4ff1b 129.5px,#f3ff0c 135.5px,#f5ff0a 147.5px)"></i>
<i style="background:linear-gradient(90deg,#e2ff1d 0.5px,#dcff23 15.5px,#c1ff3e 23.5px,#68ff97 40.5px,#4effb1 51.5px,#42ffbd 64.5px,#45ffba 88.5px,#58ffa7 101.5px,#71ff8e 109.5px,#c5ff3a 125.5px,#dcff23 132.5px,#e2ff1d 147.5px)"></i>
<i style="background:linear-gradient(90deg,#ceff31 0.5px,#caff35 16.5px,#b0ff4f 25.5px,#69ff96 39.5px,#4fffb0 50.5px,#42ffbd 63.5px,#45ffba 89.5px,#56ffa9 101.5px,#72ff8d 110.5px,#b4ff4b 123.5px,#caff35 131.5px,#ceff31 147.5px)"></i>
<i style="background:linear-gradient(90deg,#beff41 0.5px,#baff45 18.5px,#a5ff5a 26.5px,#67ff98 39.5px,#4effb1 50.5px,#42ffbd 63.5px,#45ffba 89.5px,#57ffa8 102.5px,#6fff90 110.5px,#a9ff56 122.5px,#bcff43 131.5px,#beff41 147.5px)"></i>
<i style="background:linear-gradient(90deg,#b6ff49 0.5px,#b1ff4e 19.5px,#9dff62 27.5px,#6f9 39.5px,#4fffb0 49.5px,#42ffbd 62.5px,#45ffba 90.5px,#56ffa9 102.5px,#72ff8d 111.5px,#a1ff5e 121.5px,#b3ff4c 130.5px,#b6ff49 147.5px)"></i>
<i style="background:linear-gradient(90deg,#adff52 0.5px,#a8ff57 20.5px,#95ff6a 28.5px,#67ff98 38.5px,#4effb1 49.5px,#42ffbd 62.5px,#4fb 90.5px,#57ffa8 103.5px,#6fff90 111.5px,#9bff64 121.5px,#abff54 130.5px,#adff52 147.5px)"></i>
<i style="background:linear-gradient(90deg,#a4ff5b 0.5px,#9fff60 21.5px,#8cff73 29.5px,#65ff9a 38.5px,#4effb1 48.5px,#42ffbd 62.5px,#45ffba 91.5px,#56ffa9 103.5px,#71ff8e 112.5px,#96ff69 121.5px,#a3ff5c 131.5px,#a4ff5b 147.5px)"></i>
<i style="background:linear-gradient(90deg,#9cff63 0.5px,#97ff68 22.5px,#84ff7b 30.5px,#6f9 37.5px,#4effb1 48.5px,#42ffbd 61.5px,#4fb 91.5px,#57ffa8 104.5px,#6eff91 112.5px,#8dff72 120.5px,#9aff65 130.5px,#9cff63 147.5px)"></i>
<i style="background:linear-gradient(90deg,#93ff6c 0.5px,#8eff71 23.5px,#7bff84 31.5px,#62ff9d 38.5px,#4dffb2 48.5px,#42ffbd 61.5px,#45ffba 92.5px,#5fa 104.5px,#6fff90 113.5px,#8aff75 121.5px,#93ff6c 134.5px,#93ff6c 147.5px)"></i>
<i style="background:linear-gradient(90deg,#8fff70 0.5px,#8aff75 23.5px,#78ff87 31.5px,#62ff9d 37.5px,#4cffb3 48.5px,#42ffbd 60.5px,#4fb 92.5px,#56ffa9 105.5px,#6cff93 113.5px,#86ff79 121.5px,#8eff71 135.5px,#8fff70 147.5px)"></i>
<i style="background:linear-gradient(90deg,#8aff75 0.5px,#85ff7a 24.5px,#71ff8e 32.5px,#5cffa3 39.5px,#4bffb4 48.5px,#41ffbe 60.5px,#4fb 93.5px,#5fa 105.5px,#6dff92 114.5px,#83ff7c 122.5px,#8aff75 141.5px,#8aff75 147.5px)"></i>
<i style="background:linear-gradient(90deg,#85ff7a 0.5px,#80ff7f 24.5px,#6eff91 32.5px,#4fffb0 44.5px,#41ffbe 59.5px,#4fb 93.5px,#56ffa9 106.5px,#6eff91 115.5px,#80ff7f 123.5px,#85ff7a 147.5px)"></i>
</div>
<div class="ax" style="left:59px;top:184.8px;width:1px;height:138.2px"></div>
<div class="ax" style="left:59px;top:322px;width:148.6px;height:1px"></div>
<div class="ax" style="left:60.4px;top:321.6px;width:1px;height:3px"></div>
<div class="tl" style="left:49.9px;top:325.4px;width:20px;text-align:center">-80</div>
<div class="ax" style="left:78.6px;top:321.6px;width:1px;height:3px"></div>
<div class="tl" style="left:68.1px;top:325.4px;width:20px;text-align:center">-60</div>
<div class="ax" style="left:96.7px;top:321.6px;width:1px;height:3px"></div>
<div class="tl" style="left:86.2px;top:325.4px;width:20px;text-align:center">-40</div>
<div class="ax" style="left:114.9px;top:321.6px;width:1px;height:3px"></div>
<div class="tl" style="left:104.4px;top:325.4px;width:20px;text-align:center">-20</div>
<div class="ax" style="left:133.1px;top:321.6px;width:1px;height:3px"></div>
<div class="tl" style="left:122.6px;top:325.4px;width:20px;text-align:center">0</div>
<div class="ax" style="left:151.3px;top:321.6px;width:1px;height:3px"></div>
<div class="tl" style="left:140.8px;top:325.4px;width:20px;text-align:center">20</div>
<div class="ax" style="left:169.5px;top:321.6px;width:1px;height:3px"></div>
<div class="tl" style="left:159.0px;top:325.4px;width:20px;text-align:center">40</div>
<div class="ax" style="left:187.6px;top:321.6px;width:1px;height:3px"></div>
<div class="tl" style="left:177.1px;top:325.4px;width:20px;text-align:center">60</div>
<div class="ax" style="left:205.8px;top:321.6px;width:1px;height:3px"></div>
<div class="tl" style="left:195.3px;top:325.4px;width:20px;text-align:center">80</div>
<div class="ax" style="left:57.4px;top:316.1px;width:3px;height:1px"></div>
<div class="tl" style="left:36.2px;top:313.4px;width:20px;text-align:right">-60</div>
<div class="ax" style="left:57.4px;top:289.5px;width:3px;height:1px"></div>
<div class="tl" style="left:36.2px;top:286.8px;width:20px;text-align:right">-40</div>
<div class="ax" style="left:57.4px;top:263.0px;width:3px;height:1px"></div>
<div class="tl" style="left:36.2px;top:260.3px;width:20px;text-align:right">-20</div>
<div class="ax" style="left:57.4px;top:236.5px;width:3px;height:1px"></div>
<div class="tl" style="left:36.2px;top:233.8px;width:20px;text-align:right">0</div>
<div class="ax" style="left:57.4px;top:210.0px;width:3px;height:1px"></div>
<div class="tl" style="left:36.2px;top:207.3px;width:20px;text-align:right">20</div>
<div class="al" style="left:90.0px;top:336.6px;width:80px;text-align:center">x(m) (x10^-9)</div>
<div class="al yl" style="left:-1.7px;top:253.0px;width:80px;text-align:center">y(m) (x10^-9)</div>
<div class="tt" style="left:1.9px;top:198.1px;transform:scaleX(0.95)">Hx</div>
<div class="p" style="left:294.6px;top:186.9px;width:147.8px;height:138.3px">
<i style="background:linear-gradient(90deg,#8fff70 0.5px,#9fff60 48.5px,#8fff70 65.5px,#6bff94 96.5px,#6fff90 118.5px,#7eff81 147.5px)"></i>
<i style="background:linear-gradient(90deg,#8fff70 0.5px,#a1ff5e 47.5px,#94ff6b 62.5px,#6aff95 96.5px,#6eff91 117.5px,#7dff82 147.5px)"></i>
<i style="background:linear-gradient(90deg,#8fff70 0.5px,#a2ff5d 47.5px,#96ff69 61.5px,#68ff97 96.5px,#6dff92 117.5px,#7dff82 147.5px)"></i>
<i style="background:linear-gradient(90deg,#90ff6f 0.5px,#a3ff5c 47.5px,#97ff68 61.5px,#67ff98 96.5px,#6bff94 116.5px,#7dff82 147.5px)"></i>
<i style="background:linear-gradient(90deg,#90ff6f 0.5px,#a5ff5a 47.5px,#9f6 60.5px,#65ff9a 96.5px,#69ff96 115.5px,#7dff82 147.5px)"></i>
<i style="background:linear-gradient(90deg,#90ff6f 0.5px,#a6ff59 47.5px,#9aff65 60.5px,#64ff9b 95.5px,#6f9 113.5px,#7dff82 147.5px)"></i>
<i style="background:linear-gradient(90deg,#90ff6f 0.5px,#a8ff57 47.5px,#9dff62 59.5px,#63ff9c 95.5px,#64ff9b 112.5px,#7dff82 147.5px)"></i>
<i style="background:linear-gradient(90deg,#90ff6f 0.5px,#af5 46.5px,#a0ff5f 58.5px,#61ff9e 95.5px,#63ff9c 112.5px,#7cff83 147.5px)"></i>
<i style="background:linear-gradient(90deg,#90ff6f 0.5px,#abff54 46.5px,#a3ff5c 57.5px,#5fffa0 95.5px,#61ff9e 111.5px,#7cff83 147.5px)"></i>
<i style="background:linear-gradient(90deg,#90ff6f 0.5px,#adff52 46.5px,#a4ff5b 57.5px,#5dffa2 95.5px,#5fffa0 111.5px,#7cff83 146.5px,#7cff83 147.5px)"></i>
<i style="background:linear-gradient(90deg,#90ff6f 0.5px,#a8ff57 32.5px,#afff50 49.5px,#a2ff5d 59.5px,#5bffa4 95.5px,#5cffa3 110.5px,#7cff83 146.5px,#7cff83 147.5px)"></i>
<i style="background:linear-gradient(90deg,#91ff6e 0.5px,#a6ff59 29.5px,#b1ff4e 47.5px,#a7ff58 57.5px,#59ffa6 95.5px,#5affa5 110.5px,#7bff84 145.5px,#7cff83 147.5px)"></i>
<i style="background:linear-gradient(90deg,#91ff6e 0.5px,#a6ff59 28.5px,#b3ff4c 47.5px,#a9ff56 57.5px,#56ffa9 95.5px,#58ffa7 109.5px,#7aff85 144.5px,#7cff83 147.5px)"></i>
<i style="background:linear-gradient(90deg,#91ff6e 0.5px,#a7ff58 27.5px,#b6ff49 46.5px,#adff52 56.5px,#54ffab 95.5px,#5fa 109.5px,#79ff86 143.5px,#7bff84 147.5px)"></i>
<i style="background:linear-gradient(90deg,#91ff6e 0.5px,#a5ff5a 25.5px,#b8ff47 45.5px,#b1ff4e 55.5px,#52ffad 95.5px,#52ffad 108.5px,#79ff86 143.5px,#7bff84 147.5px)"></i>
<i style="background:linear-gradient(90deg,#91ff6e 0.5px,#a7ff58 25.5px,#baff45 45.5px,#b4ff4b 55.5px,#79ff86 78.5px,#4fffb0 95.5px,#50ffaf 108.5px,#78ff87 142.5px,#7bff84 147.5px)"></i>
<i style="background:linear-gradient(90deg,#91ff6e 0.5px,#a7ff58 24.5px,#bdff42 44.5px,#b8ff47 54.5px,#7bff84 77.5px,#4cffb3 95.5px,#4effb1 108.5px,#78ff87 142.5px,#7bff84 147.5px)"></i>
<i style="background:linear-gradient(90deg,#92ff6d 0.5px,#a6ff59 23.5px,#bfff40 44.5px,#bf4 54.5px,#7fff80 75.5px,#49ffb6 95.5px,#4affb5 107.5px,#7f8 141.5px,#7bff84 147.5px)"></i>
<i style="background:linear-gradient(90deg,#92ff6d 0.5px,#a6ff59 22.5px,#c2ff3d 44.5px,#bdff42 54.5px,#82ff7d 74.5px,#48ffb7 94.5px,#46ffb9 105.5px,#76ff89 141.5px,#7aff85 147.5px)"></i>
<i style="background:linear-gradient(90deg,#92ff6d 0.5px,#a7ff58 22.5px,#c4ff3b 43.5px,#c2ff3d 53.5px,#81ff7e 74.5px,#45ffba 94.5px,#43ffbc 105.5px,#76ff89 141.5px,#7aff85 147.5px)"></i>
<i style="background:linear-gradient(90deg,#92ff6d 0.5px,#a7ff58 21.5px,#c7ff38 43.5px,#c5ff3a 53.5px,#81ff7e 74.5px,#54ffab 88.5px,#40ffbf 95.5px,#41ffbe 106.5px,#75ff8a 140.5px,#7aff85 147.5px)"></i>
<i style="background:linear-gradient(90deg,#92ff6d 0.5px,#a6ff59 20.5px,#caff35 43.5px,#c8ff37 53.5px,#a4ff5b 63.5px,#5affa5 86.5px,#3effc1 94.5px,#3cffc3 104.5px,#5bffa4 123.5px,#7f8 143.5px,#7aff85 147.5px)"></i>
<i style="background:linear-gradient(90deg,#93ff6c 0.5px,#a7ff58 20.5px,#ceff31 43.5px,#cf3 53.5px,#af5 62.5px,#81ff7e 74.5px,#58ffa7 86.5px,#3bffc4 94.5px,#38ffc7 104.5px,#57ffa8 122.5px,#75ff8a 141.5px,#7aff85 147.5px)"></i>
<i style="background:linear-gradient(90deg,#93ff6c 0.5px,#a7ff58 19.5px,#d1ff2e 43.5px,#cfff30 53.5px,#acff53 62.5px,#81ff7e 74.5px,#56ffa9 86.5px,#38ffc7 94.5px,#34ffcb 103.5px,#4dffb2 118.5px,#71ff8e 138.5px,#79ff86 147.5px)"></i>
<i style="background:linear-gradient(90deg,#93ff6c 0.5px,#a8ff57 19.5px,#d4ff2b 43.5px,#d4ff2b 52.5px,#c1ff3e 58.5px,#8dff72 70.5px,#5dffa2 84.5px,#34ffcb 94.5px,#31ffce 103.5px,#4bffb4 118.5px,#70ff8f 138.5px,#79ff86 147.5px)"></i>
<i style="background:linear-gradient(90deg,#93ff6c 0.5px,#a7ff58 18.5px,#d8ff27 43.5px,#d8ff27 52.5px,#c3ff3c 58.5px,#91ff6e 69.5px,#60ff9f 83.5px,#3fc 93.5px,#2bffd4 100.5px,#3bffc4 112.5px,#6dff92 136.5px,#79ff86 147.5px)"></i>
<i style="background:linear-gradient(90deg,#93ff6c 0.5px,#a8ff57 18.5px,#dcff23 43.5px,#dcff23 52.5px,#c6ff39 58.5px,#91ff6e 69.5px,#5fffa0 83.5px,#2fffd0 93.5px,#27ffd8 99.5px,#3fc 110.5px,#6dff92 136.5px,#79ff86 147.5px)"></i>
<i style="background:linear-gradient(90deg,#93ff6c 0.5px,#a9ff56 18.5px,#dfff20 43.5px,#e0ff1f 52.5px,#c9ff36 58.5px,#91ff6e 69.5px,#5dffa2 83.5px,#2bffd4 93.5px,#23ffdc 99.5px,#30ffcf 110.5px,#6aff95 135.5px,#78ff87 147.5px)"></i>
<i style="background:linear-gradient(90deg,#94ff6b 0.5px,#a8ff57 17.5px,#e3ff1c 43.5px,#e4ff1b 52.5px,#cf3 58.5px,#96ff69 68.5px,#5cffa3 83.5px,#28ffd7 93.5px,#1fffe0 98.5px,#28ffd7 108.5px,#69ff96 135.5px,#78ff87 147.5px)"></i>
<i style="background:linear-gradient(90deg,#94ff6b 0.5px,#a9ff56 17.5px,#e7ff18 43.5px,#e9ff16 52.5px,#d5ff2a 57.5px,#97ff68 68.5px,#5affa5 83.5px,#24ffdb 93.5px,#1affe5 98.5px,#25ffda 108.5px,#69ff96 135.5px,#78ff87 147.5px)"></i>
<i style="background:linear-gradient(90deg,#94ff6b 0.5px,#af5 17.5px,#ebff14 43.5px,#efff10 51.5px,#e3ff1c 55.5px,#97ff68 68.5px,#5effa1 82.5px,#1fffe0 93.5px,#15ffea 98.5px,#1fffe0 107.5px,#6f9 134.5px,#78ff87 147.5px)"></i>
<i style="background:linear-gradient(90deg,#94ff6b 0.5px,#a9ff56 16.5px,#efff10 43.5px,#f3ff0c 51.5px,#e7ff18 55.5px,#98ff67 68.5px,#5dffa2 82.5px,#1bffe4 93.5px,#1fe 97.5px,#19ffe6 106.5px,#65ff9a 134.5px,#7f8 147.5px)"></i>
<i style="background:linear-gradient(90deg,#94ff6b 0.5px,#af5 16.5px,#f4ff0b 43.5px,#f8ff07 51.5px,#ebff14 55.5px,#98ff67 68.5px,#5bffa4 82.5px,#17ffe8 93.5px,#0cfff3 97.5px,#12ffed 105.5px,#64ff9b 134.5px,#7f8 147.5px)"></i>
<i style="background:linear-gradient(90deg,#95ff6a 0.5px,#abff54 16.5px,#f8ff07 43.5px,#fdff02 51.5px,#efff10 55.5px,#9eff61 67.5px,#5affa5 82.5px,#0dfff2 94.5px,#06fff9 98.5px,#13ffec 107.5px,#61ff9e 133.5px,#7f8 147.5px)"></i>
<i style="background:linear-gradient(90deg,#95ff6a 0.5px,#af5 15.5px,#df2 32.5px,#ff0 44.5px,#fffb00 51.5px,#faff05 54.5px,#9fff60 67.5px,#58ffa7 82.5px,#08fff7 94.5px,#0ff 98.5px,#0cfff3 106.5px,#60ff9f 133.5px,#7f8 147.5px)"></i>
<i style="background:linear-gradient(90deg,#95ff6a 0.5px,#abff54 15.5px,#dcff23 31.5px,#ff0 42.5px,#fff500 50.5px,#ff0 54.5px,#a0ff5f 67.5px,#57ffa8 82.5px,#03fffc 94.5px,#00faff 99.5px,#02fffd 104.5px,#3effc1 122.5px,#6f9 136.5px,#76ff89 147.5px)"></i>
<i style="background:linear-gradient(90deg,#95ff6a 0.5px,#acff53 15.5px,#dbff24 30.5px,#fffd00 41.5px,#ffef00 49.5px,#fff500 53.5px,#fdff02 55.5px,#a1ff5e 67.5px,#56ffa9 82.5px,#04fffb 93.5px,#00f4ff 96.5px,#00f8ff 102.5px,#03fffc 106.5px,#5cffa3 132.5px,#75ff8a 146.5px,#76ff89 147.5px)"></i>
<i style="background:linear-gradient(90deg,#95ff6a 0.5px,#acff53 15.5px,#deff21 30.5px,#ff0 39.5px,#ffea00 48.5px,#ffec00 52.5px,#fffd00 55.5px,#a2ff5d 67.5px,#5bffa4 81.5px,#00feff 93.5px,#0ef 96.5px,#00f2ff 102.5px,#04fffb 108.5px,#58ffa7 131.5px,#74ff8b 145.5px,#76ff89 147.5px)"></i>
<i style="background:linear-gradient(90deg,#96ff69 0.5px,#abff54 14.5px,#d8ff27 28.5px,#ff0 38.5px,#ffe600 47.5px,#ffe500 52.5px,#feff01 56.5px,#a9ff56 66.5px,#7aff85 75.5px,#53ffac 82.5px,#02fffd 92.5px,#00e7ff 96.5px,#00ecff 102.5px,#0ff 108.5px,#57ffa8 131.5px,#72ff8d 144.5px,#76ff89 147.5px)"></i>
<i style="background:linear-gradient(90deg,#96ff69 0.5px,#acff53 14.5px,#d7ff28 27.5px,#fffe00 37.5px,#ffe000 47.5px,#ffdf00 52.5px,#fff300 55.5px,#f9ff06 57.5px,#af5 66.5px,#7eff81 74.5px,#51ffae 82.5px,#00fcff 92.5px,#00e0ff 96.5px,#00e3ff 101.5px,#0ff 109.5px,#56ffa9 131.5px,#72ff8d 144.5px,#75ff8a 147.5px)"></i>
<i style="background:linear-gradient(90deg,#96ff69 0.5px,#adff52 14.5px,#d9ff26 27.5px,#ff0 36.5px,#ffda00 47.5px,#ffd900 52.5px,#fe0 55.5px,#fdff02 57.5px,#abff54 66.5px,#7eff81 74.5px,#50ffaf 82.5px,#01fffe 91.5px,#00d9ff 96.5px,#0df 101.5px,#00feff 110.5px,#52ffad 130.5px,#70ff8f 143.5px,#75ff8a 147.5px)"></i>
<i style="background:linear-gradient(90deg,#96ff69 0.5px,#adff52 14.5px,#dbff24 27.5px,#feff01 35.5px,#ffd400 47.5px,#ffd200 52.5px,#ffe900 55.5px,#fffd00 57.5px,#acff53 66.5px,#7eff81 74.5px,#56ffa9 81.5px,#00fcff 91.5px,#00d7ff 95.5px,#00d0ff 97.5px,#00d9ff 102.5px,#0ff 111.5px,#50ffaf 130.5px,#6eff91 142.5px,#75ff8a 147.5px)"></i>
<i style="background:linear-gradient(90deg,#96ff69 0.5px,#aeff51 14.5px,#d9ff26 26.5px,#fffc00 35.5px,#ffcd00 47.5px,#ffcb00 52.5px,#ffd900 54.5px,#fff900 57.5px,#f0ff0f 59.5px,#aeff51 66.5px,#83ff7c 73.5px,#5fa 81.5px,#03fffc 90.5px,#00cfff 95.5px,#00c8ff 97.5px,#00d2ff 102.5px,#01fffe 112.5px,#4fffb0 130.5px,#6eff91 142.5px,#75ff8a 147.5px)"></i>
<i style="background:linear-gradient(90deg,#97ff68 0.5px,#acff53 13.5px,#d6ff29 25.5px,#fffe00 34.5px,#ffc700 47.5px,#ffc300 52.5px,#ffd300 54.5px,#feff01 58.5px,#afff50 66.5px,#83ff7c 73.5px,#54ffab 81.5px,#00feff 90.5px,#00c8ff 95.5px,#00c0ff 97.5px,#0cf 102.5px,#02fffd 113.5px,#4effb1 130.5px,#6dff92 142.5px,#74ff8b 147.5px)"></i>
<i style="background:linear-gradient(90deg,#97ff68 0.5px,#adff52 13.5px,#d8ff27 25.5px,#ff0 33.5px,#ffc000 47.5px,#ffba00 51.5px,#ffc200 53.5px,#fffd00 58.5px,#b0ff4f 66.5px,#83ff7c 73.5px,#53ffac 81.5px,#06fff9 89.5px,#00f0ff 91.5px,#00c0ff 95.5px,#00b8ff 97.5px,#00c0ff 101.5px,#00feff 113.5px,#4dffb2 130.5px,#6dff92 142.5px,#74ff8b 147.5px)"></i>
<i style="background:linear-gradient(90deg,#97ff68 0.5px,#aeff51 13.5px,#d5ff2a 24.5px,#fffc00 33.5px,#ffb900 47.5px,#ffb300 51.5px,#fb0 53.5px,#fff900 58.5px,#ef1 60.5px,#b1ff4e 66.5px,#83ff7c 73.5px,#52ffad 81.5px,#02fffd 89.5px,#00e1ff 92.5px,#00b8ff 95.5px,#00b0ff 96.5px,#00b4ff 100.5px,#01fffe 114.5px,#48ffb7 129.5px,#6bff94 141.5px,#74ff8b 147.5px)"></i>
<i style="background:linear-gradient(90deg,#97ff68 0.5px,#aeff51 13.5px,#d7ff28 24.5px,#ff0 32.5px,#ffaf00 48.5px,#ffac00 52.5px,#ffc000 54.5px,#fff600 58.5px,#fcff03 59.5px,#b2ff4d 66.5px,#83ff7c 73.5px,#51ffae 81.5px,#00feff 89.5px,#00ceff 93.5px,#00b0ff 95.5px,#00a7ff 96.5px,#00a9ff 99.5px,#00c9ff 105.5px,#00fdff 114.5px,#4fffb0 131.5px,#6eff91 143.5px,#74ff8b 147.5px)"></i>
<i style="background:linear-gradient(90deg,#97ff68 0.5px,#afff50 13.5px,#d9ff26 24.5px,#fffc00 32.5px,#ffa700 48.5px,#ffa400 52.5px,#ffba00 54.5px,#fff300 58.5px,#ff0 59.5px,#b3ff4c 66.5px,#8f7 72.5px,#58ffa7 80.5px,#1effe1 86.5px,#00fbff 89.5px,#00c9ff 93.5px,#00a8ff 95.5px,#009eff 96.5px,#00a0ff 99.5px,#00c3ff 105.5px,#0ff 115.5px,#46ffb9 129.5px,#68ff97 140.5px,#74ff8b 147.5px)"></i>
<i style="background:linear-gradient(90deg,#97ff68 0.5px,#afff50 13.5px,#daff25 24.5px,#ff0 31.5px,#ffa000 48.5px,#ff9a00 51.5px,#ff9c00 52.5px,#ffa400 53.5px,#ffe300 57.5px,#fffc00 59.5px,#b3ff4c 66.5px,#8f7 72.5px,#57ffa8 80.5px,#1cffe3 86.5px,#05fffa 88.5px,#00edff 90.5px,#00c3ff 93.5px,#009fff 95.5px,#0095ff 96.5px,#0097ff 99.5px,#00bdff 105.5px,#00fdff 115.5px,#4dffb2 131.5px,#6cff93 142.5px,#73ff8c 147.5px)"></i>
<i style="background:linear-gradient(90deg,#98ff67 0.5px,#b0ff4f 13.5px,#dcff23 24.5px,#fffd00 31.5px,#ff9800 48.5px,#ff9200 51.5px,#ff9300 52.5px,#ff9d00 53.5px,#ffe000 57.5px,#fffa00 59.5px,#ebff14 61.5px,#b4ff4b 66.5px,#89ff76 72.5px,#56ffa9 80.5px,#1affe5 86.5px,#02fffd 88.5px,#00cfff 92.5px,#0097ff 95.5px,#008cff 96.5px,#008eff 99.5px,#00b0ff 104.5px,#0ef 113.5px,#01fffe 116.5px,#4fb 129.5px,#67ff98 140.5px,#73ff8c 147.5px)"></i>
<i style="background:linear-gradient(90deg,#98ff67 0.5px,#aeff51 12.5px,#d8ff27 23.5px,#feff01 30.5px,#ffb000 43.5px,#ff8d00 49.5px,#ff8b00 52.5px,#ff9500 53.5px,#ffdc00 57.5px,#fff700 59.5px,#faff05 60.5px,#b5ff4a 66.5px,#89ff76 72.5px,#5fa 80.5px,#18ffe7 86.5px,#0ff 88.5px,#00cbff 92.5px,#008eff 95.5px,#0082ff 96.5px,#0085ff 99.5px,#0af 104.5px,#00e5ff 112.5px,#00fdff 116.5px,#47ffb8 130.5px,#69ff96 141.5px,#73ff8c 147.5px)"></i>
<i style="background:linear-gradient(90deg,#98ff67 0.5px,#aeff51 12.5px,#d4ff2b 22.5px,#fffe00 30.5px,#ffab00 43.5px,#ff8500 49.5px,#ff8200 52.5px,#ff8d00 53.5px,#ffd900 57.5px,#fcff03 60.5px,#b6ff49 66.5px,#89ff76 72.5px,#54ffab 80.5px,#2fd 85.5px,#00fcff 88.5px,#00c7ff 92.5px,#0086ff 95.5px,#0079ff 96.5px,#007cff 99.5px,#00a3ff 104.5px,#00dcff 111.5px,#02fffd 117.5px,#46ffb9 130.5px,#69ff96 141.5px,#73ff8c 147.5px)"></i>
<i style="background:linear-gradient(90deg,#98ff67 0.5px,#afff50 12.5px,#d5ff2a 22.5px,#fffc00 30.5px,#ffae00 42.5px,#ff8100 48.5px,#ff7800 51.5px,#ff7a00 52.5px,#ff8500 53.5px,#ffc500 56.5px,#feff01 60.5px,#b7ff48 66.5px,#89ff76 72.5px,#54ffab 80.5px,#20ffdf 85.5px,#08fff7 87.5px,#00faff 88.5px,#00c3ff 92.5px,#007eff 95.5px,#0070ff 96.5px,#0070ff 98.5px,#0081ff 101.5px,#00d2ff 110.5px,#0ff 117.5px,#45ffba 130.5px,#68ff97 141.5px,#73ff8c 147.5px)"></i>
<i style="background:linear-gradient(90deg,#98ff67 0.5px,#afff50 12.5px,#d6ff29 22.5px,#fdff02 29.5px,#ffb900 40.5px,#ff7a00 48.5px,#ff7000 51.5px,#ff7100 52.5px,#ff7d00 53.5px,#ffc100 56.5px,#fffe00 60.5px,#b8ff47 66.5px,#89ff76 72.5px,#53ffac 80.5px,#1fffe0 85.5px,#06fff9 87.5px,#00ebff 89.5px,#00bfff 92.5px,#0076ff 95.5px,#0067ff 96.5px,#0067ff 98.5px,#007aff 101.5px,#00c7ff 109.5px,#00fdff 117.5px,#49ffb6 131.5px,#6aff95 142.5px,#73ff8c 147.5px)"></i>
<i style="background:linear-gradient(90deg,#98ff67 0.5px,#afff50 12.5px,#d7ff28 22.5px,#ff0 29.5px,#ffb600 40.5px,#ff7200 48.5px,#ff6700 51.5px,#ff6900 52.5px,#ff7500 53.5px,#ffbd00 56.5px,#fe0 59.5px,#fffc00 60.5px,#afff50 67.5px,#7dff82 74.5px,#53ffac 80.5px,#1dffe2 85.5px,#04fffb 87.5px,#00dcff 90.5px,#00bcff 92.5px,#006eff 95.5px,#005eff 96.5px,#005eff 98.5px,#0073ff 101.5px,#00c4ff 109.5px,#00fbff 117.5px,#1bffe4 122.5px,#50ffaf 133.5px,#6eff91 144.5px,#72ff8d 147.5px)"></i>
<i style="background:linear-gradient(90deg,#98ff67 0.5px,#b0ff4f 12.5px,#d8ff27 22.5px,#fffe00 29.5px,#ffb300 40.5px,#ff6b00 48.5px,#ff5f00 51.5px,#ff6100 52.5px,#ff6e00 53.5px,#ffba00 56.5px,#ffec00 59.5px,#fffa00 60.5px,#e8ff17 62.5px,#afff50 67.5px,#7dff82 74.5px,#52ffad 80.5px,#1cffe3 85.5px,#02fffd 87.5px,#00cbff 91.5px,#00a0ff 93.5px,#0067ff 95.5px,#0056ff 96.5px,#0056ff 98.5px,#006cff 101.5px,#00c1ff 109.5px,#01fffe 118.5px,#43ffbc 130.5px,#65ff9a 140.5px,#72ff8d 147.5px)"></i>
<i style="background:linear-gradient(90deg,#98ff67 0.5px,#b0ff4f 12.5px,#d9ff26 22.5px,#fffc00 29.5px,#ffb000 40.5px,#ff6400 48.5px,#ff5700 51.5px,#ff5900 52.5px,#ff6700 53.5px,#ffb700 56.5px,#ffea00 59.5px,#fff900 60.5px,#f7ff08 61.5px,#b9ff46 66.5px,#90ff6f 71.5px,#51ffae 80.5px,#1bffe4 85.5px,#01fffe 87.5px,#00c8ff 91.5px,#00b5ff 92.5px,#007eff 94.5px,#0060ff 95.5px,#004eff 96.5px,#004fff 98.5px,#0065ff 101.5px,#00b5ff 108.5px,#00ebff 115.5px,#0ff 118.5px,#42ffbd 130.5px,#65ff9a 140.5px,#72ff8d 147.5px)"></i>
<i style="background:linear-gradient(90deg,#98ff67 0.5px,#b1ff4e 12.5px,#daff25 22.5px,#fdff02 28.5px,#ffbe00 38.5px,#ff8500 44.5px,#ff5d00 48.5px,#ff5000 51.5px,#ff5100 52.5px,#ff6000 53.5px,#ffb400 56.5px,#ffda00 58.5px,#fff700 60.5px,#f9ff06 61.5px,#baff45 66.5px,#90ff6f 71.5px,#51ffae 80.5px,#1affe5 85.5px,#00feff 87.5px,#00c6ff 91.5px,#00b2ff 92.5px,#0079ff 94.5px,#005aff 95.5px,#0047ff 96.5px,#0048ff 98.5px,#0060ff 101.5px,#00b2ff 108.5px,#00eaff 115.5px,#00fdff 118.5px,#46ffb9 131.5px,#67ff98 141.5px,#72ff8d 147.5px)"></i>
<i style="background:linear-gradient(90deg,#9f6 0.5px,#b1ff4e 12.5px,#dbff24 22.5px,#feff01 28.5px,#ffbc00 38.5px,#ff8100 44.5px,#ff5700 48.5px,#ff4800 51.5px,#ff4a00 52.5px,#ff5900 53.5px,#ffb100 56.5px,#ffd800 58.5px,#fff600 60.5px,#faff05 61.5px,#baff45 66.5px,#90ff6f 71.5px,#51ffae 80.5px,#19ffe6 85.5px,#00fdff 87.5px,#00c4ff 91.5px,#00b0ff 92.5px,#0095ff 93.5px,#05f 95.5px,#0041ff 96.5px,#0042ff 98.5px,#005aff 101.5px,#00b0ff 108.5px,#00e1ff 114.5px,#00fcff 118.5px,#46ffb9 131.5px,#67ff98 141.5px,#72ff8d 147.5px)"></i>
<i style="background:linear-gradient(90deg,#9f6 0.5px,#b1ff4e 12.5px,#dbff24 22.5px,#ff0 28.5px,#ffba00 38.5px,#ff7d00 44.5px,#ff5100 48.5px,#ff4200 51.5px,#ff4300 52.5px,#ff5300 53.5px,#ffaf00 56.5px,#ffd700 58.5px,#fff500 60.5px,#fbff04 61.5px,#bf4 66.5px,#90ff6f 71.5px,#50ffaf 80.5px,#18ffe7 85.5px,#00fcff 87.5px,#00c2ff 91.5px,#00aeff 92.5px,#0092ff 93.5px,#0050ff 95.5px,#003cff 96.5px,#003cff 98.5px,#0056ff 101.5px,#00aeff 108.5px,#00e0ff 114.5px,#03fffc 119.5px,#41ffbe 130.5px,#64ff9b 140.5px,#72ff8d 147.5px)"></i>
<i style="background:linear-gradient(90deg,#9f6 0.5px,#b1ff4e 12.5px,#dcff23 22.5px,#ff0 28.5px,#ffb800 38.5px,#ff8500 43.5px,#ff4c00 48.5px,#ff3c00 51.5px,#ff3d00 52.5px,#ff4e00 53.5px,#ffac00 56.5px,#ffd500 58.5px,#fbff04 61.5px,#bf4 66.5px,#90ff6f 71.5px,#50ffaf 80.5px,#17ffe8 85.5px,#00fbff 87.5px,#00c1ff 91.5px,#00acff 92.5px,#0090ff 93.5px,#004cff 95.5px,#0037ff 96.5px,#0038ff 98.5px,#0052ff 101.5px,#00acff 108.5px,#00dfff 114.5px,#02fffd 119.5px,#41ffbe 130.5px,#64ff9b 140.5px,#72ff8d 147.5px)"></i>
<i style="background:linear-gradient(90deg,#9f6 0.5px,#b1ff4e 12.5px,#dcff23 22.5px,#fffe00 28.5px,#ffb700 38.5px,#ff8300 43.5px,#ff4700 48.5px,#ff3600 51.5px,#ff3800 52.5px,#ff4900 53.5px,#ffab00 56.5px,#ffd400 58.5px,#fcff03 61.5px,#bcff43 66.5px,#90ff6f 71.5px,#59ffa6 79.5px,#24ffdb 84.5px,#00fbff 87.5px,#00c0ff 91.5px,#00abff 92.5px,#008eff 93.5px,#0048ff 95.5px,#0034ff 96.5px,#0034ff 98.5px,#004fff 101.5px,#0af 108.5px,#00deff 114.5px,#01fffe 119.5px,#40ffbf 130.5px,#64ff9b 140.5px,#72ff8d 147.5px)"></i>
<i style="background:linear-gradient(90deg,#9f6 0.5px,#b2ff4d 12.5px,#dcff23 22.5px,#fffe00 28.5px,#ffb600 38.5px,#ff8100 43.5px,#ff4300 48.5px,#ff3200 51.5px,#f30 52.5px,#ff4500 53.5px,#ffa900 56.5px,#ffd300 58.5px,#fdff02 61.5px,#bcff43 66.5px,#90ff6f 71.5px,#58ffa7 79.5px,#23ffdc 84.5px,#09fff6 86.5px,#00faff 87.5px,#00bfff 91.5px,#00a9ff 92.5px,#008cff 93.5px,#0046ff 95.5px,#0031ff 96.5px,#0032ff 98.5px,#004dff 101.5px,#00a9ff 108.5px,#0df 114.5px,#01fffe 119.5px,#40ffbf 130.5px,#64ff9b 140.5px,#72ff8d 147.5px)"></i>
<i style="background:linear-gradient(90deg,#9f6 0.5px,#b2ff4d 12.5px,#df2 22.5px,#fffd00 28.5px,#ffb500 38.5px,#ff7f00 43.5px,#ff4000 48.5px,#ff3100 50.5px,#ff2f00 52.5px,#ff4100 53.5px,#ffa800 56.5px,#ffd300 58.5px,#fdff02 61.5px,#bcff43 66.5px,#90ff6f 71.5px,#58ffa7 79.5px,#23ffdc 84.5px,#09fff6 86.5px,#00faff 87.5px,#00beff 91.5px,#00a9ff 92.5px,#008cff 93.5px,#0045ff 95.5px,#002fff 96.5px,#0030ff 98.5px,#004bff 101.5px,#00a8ff 108.5px,#0df 114.5px,#0ff 119.5px,#40ffbf 130.5px,#64ff9b 140.5px,#72ff8d 147.5px)"></i>
<i style="background:linear-gradient(90deg,#9f6 0.5px,#b2ff4d 12.5px,#df2 22.5px,#fffd00 28.5px,#ffb400 38.5px,#ff7d00 43.5px,#ff3d00 48.5px,#ff2e00 50.5px,#ff2c00 52.5px,#ff3e00 53.5px,#ffa700 56.5px,#ffd200 58.5px,#fdff02 61.5px,#bcff43 66.5px,#90ff6f 71.5px,#58ffa7 79.5px,#23ffdc 84.5px,#08fff7 86.5px,#00f9ff 87.5px,#00beff 91.5px,#00a8ff 92.5px,#008bff 93.5px,#04f 95.5px,#002fff 96.5px,#002fff 98.5px,#004bff 101.5px,#00a8ff 108.5px,#0df 114.5px,#0ff 119.5px,#40ffbf 130.5px,#64ff9b 140.5px,#72ff8d 147.5px)"></i>
<i style="background:linear-gradient(90deg,#9f6 0.5px,#b2ff4d 12.5px,#df2 22.5px,#fffd00 28.5px,#ffb400 38.5px,#ff7d00 43.5px,#ff3b00 48.5px,#ff2c00 50.5px,#ff2a00 52.5px,#ff3d00 53.5px,#ffa700 56.5px,#ffd200 58.5px,#fdff02 61.5px,#bcff43 66.5px,#90ff6f 71.5px,#58ffa7 79.5px,#23ffdc 84.5px,#08fff7 86.5px,#00f9ff 87.5px,#00beff 91.5px,#00a9ff 92.5px,#008cff 93.5px,#0045ff 95.5px,#002fff 96.5px,#0030ff 98.5px,#004cff 101.5px,#00a9ff 108.5px,#0df 114.5px,#0ff 119.5px,#40ffbf 130.5px,#64ff9b 140.5px,#72ff8d 147.5px)"></i>
<i style="background:linear-gradient(90deg,#9f6 0.5px,#b1ff4e 12.5px,#dcff23 22.5px,#fffe00 28.5px,#ffb400 38.5px,#ff7c00 43.5px,#ff3a00 48.5px,#ff2a00 50.5px,#ff2800 52.5px,#ff3b00 53.5px,#ffa700 56.5px,#ffd300 58.5px,#fdff02 61.5px,#bf4 66.5px,#90ff6f 71.5px,#59ffa6 79.5px,#24ffdb 84.5px,#09fff6 86.5px,#00faff 87.5px,#00bfff 91.5px,#0af 92.5px,#008dff 93.5px,#0046ff 95.5px,#0030ff 96.5px,#0030ff 98.5px,#004dff 101.5px,#009fff 107.5px,#00ceff 112.5px,#01fffe 119.5px,#40ffbf 130.5px,#64ff9b 140.5px,#72ff8d 147.5px)"></i>
<i style="background:linear-gradient(90deg,#9f6 0.5px,#b1ff4e 12.5px,#dbff24 22.5px,#fffe00 28.5px,#ffb500 38.5px,#ff7d00 43.5px,#ff3a00 48.5px,#ff2a00 50.5px,#ff2800 52.5px,#ff3b00 53.5px,#ffa700 56.5px,#ffd300 58.5px,#fcff03 61.5px,#bf4 66.5px,#90ff6f 71.5px,#59ffa6 79.5px,#24ffdb 84.5px,#00fbff 87.5px,#00c0ff 91.5px,#00abff 92.5px,#008fff 93.5px,#0047ff 95.5px,#0031ff 96.5px,#0032ff 98.5px,#004eff 101.5px,#00a0ff 107.5px,#00cfff 112.5px,#01fffe 119.5px,#41ffbe 130.5px,#64ff9b 140.5px,#72ff8d 147.5px)"></i>
<i style="background:linear-gradient(90deg,#98ff67 0.5px,#b0ff4f 12.5px,#dbff24 22.5px,#ff0 28.5px,#ffb600 38.5px,#ff7e00 43.5px,#ff3b00 48.5px,#ff2a00 50.5px,#ff2800 52.5px,#ff3c00 53.5px,#ffa800 56.5px,#ffd400 58.5px,#fff400 60.5px,#fbff04 61.5px,#baff45 66.5px,#8fff70 71.5px,#59ffa6 79.5px,#25ffda 84.5px,#00fbff 87.5px,#00c1ff 91.5px,#00adff 92.5px,#0091ff 93.5px,#0049ff 95.5px,#0032ff 96.5px,#03f 98.5px,#0050ff 101.5px,#00a2ff 107.5px,#00d1ff 112.5px,#02fffd 119.5px,#41ffbe 130.5px,#65ff9a 140.5px,#72ff8d 147.5px)"></i>
<i style="background:linear-gradient(90deg,#98ff67 0.5px,#b0ff4f 12.5px,#daff25 22.5px,#feff01 28.5px,#ffc000 37.5px,#ff8c00 42.5px,#ff3c00 48.5px,#ff2c00 50.5px,#ff2900 52.5px,#ff3d00 53.5px,#ff8900 55.5px,#fa0 56.5px,#ffd500 58.5px,#fff500 60.5px,#faff05 61.5px,#b9ff46 66.5px,#8fff70 71.5px,#5affa5 79.5px,#26ffd9 84.5px,#00fcff 87.5px,#00c2ff 91.5px,#00aeff 92.5px,#0093ff 93.5px,#004bff 95.5px,#0034ff 96.5px,#0035ff 98.5px,#0052ff 101.5px,#00a4ff 107.5px,#00d2ff 112.5px,#00fcff 118.5px,#2effd1 126.5px,#5affa5 136.5px,#72ff8d 147.5px)"></i>
<i style="background:linear-gradient(90deg,#98ff67 0.5px,#afff50 12.5px,#d9ff26 22.5px,#fdff02 28.5px,#ffca00 36.5px,#ff9b00 41.5px,#ff3e00 48.5px,#ff2d00 50.5px,#ff2b00 52.5px,#ff3f00 53.5px,#ff8b00 55.5px,#ffac00 56.5px,#ffd700 58.5px,#fff600 60.5px,#f9ff06 61.5px,#b9ff46 66.5px,#8fff70 71.5px,#5bffa4 79.5px,#27ffd8 84.5px,#00fdff 87.5px,#00c3ff 91.5px,#00b0ff 92.5px,#0095ff 93.5px,#004eff 95.5px,#0037ff 96.5px,#0038ff 98.5px,#05f 101.5px,#00a6ff 107.5px,#00d3ff 112.5px,#00fdff 118.5px,#47ffb8 131.5px,#68ff97 141.5px,#72ff8d 147.5px)"></i>
<i style="background:linear-gradient(90deg,#98ff67 0.5px,#afff50 12.5px,#d8ff27 22.5px,#fffc00 29.5px,#fb0 38.5px,#ff8400 43.5px,#ff4000 48.5px,#ff2f00 50.5px,#ff2d00 52.5px,#ff4100 53.5px,#ff8d00 55.5px,#ffae00 56.5px,#ffd800 58.5px,#fff700 60.5px,#f8ff07 61.5px,#b8ff47 66.5px,#8fff70 71.5px,#5bffa4 79.5px,#28ffd7 84.5px,#0ff 87.5px,#00c5ff 91.5px,#00b2ff 92.5px,#0097ff 93.5px,#0051ff 95.5px,#003aff 96.5px,#003bff 98.5px,#0058ff 101.5px,#00a8ff 107.5px,#00dcff 113.5px,#00feff 118.5px,#4fb 130.5px,#6f9 140.5px,#73ff8c 147.5px)"></i>
<i style="background:linear-gradient(90deg,#98ff67 0.5px,#aeff51 12.5px,#d7ff28 22.5px,#fffe00 29.5px,#ffbd00 38.5px,#ff8600 43.5px,#ff4200 48.5px,#ff3100 50.5px,#ff2f00 52.5px,#ff4300 53.5px,#ff9000 55.5px,#ffb000 56.5px,#ffda00 58.5px,#fff900 60.5px,#f6ff09 61.5px,#b7ff48 66.5px,#8eff71 71.5px,#5cffa3 79.5px,#29ffd6 84.5px,#01fffe 87.5px,#00c7ff 91.5px,#00b4ff 92.5px,#009aff 93.5px,#0054ff 95.5px,#003dff 96.5px,#003eff 98.5px,#005bff 101.5px,#00abff 107.5px,#0df 113.5px,#0ff 118.5px,#40ffbf 129.5px,#64ff9b 139.5px,#73ff8c 147.5px)"></i>
<i style="background:linear-gradient(90deg,#98ff67 0.5px,#aeff51 12.5px,#d6ff29 22.5px,#ff0 29.5px,#ffb600 39.5px,#ff8900 43.5px,#ff4500 48.5px,#ff3400 50.5px,#ff3200 52.5px,#ff4600 53.5px,#ff9300 55.5px,#ffb200 56.5px,#ffdc00 58.5px,#fffa00 60.5px,#e7ff18 62.5px,#adff52 67.5px,#82ff7d 73.5px,#54ffab 80.5px,#1effe1 85.5px,#02fffd 87.5px,#00c8ff 91.5px,#00b6ff 92.5px,#009dff 93.5px,#0058ff 95.5px,#0041ff 96.5px,#0042ff 98.5px,#005fff 101.5px,#00adff 107.5px,#00dfff 113.5px,#02fffd 118.5px,#41ffbe 129.5px,#64ff9b 139.5px,#73ff8c 147.5px)"></i>
<i style="background:linear-gradient(90deg,#98ff67 0.5px,#adff52 12.5px,#d5ff2a 22.5px,#feff01 29.5px,#ffc100 38.5px,#ff8d00 43.5px,#ff4900 48.5px,#ff3800 50.5px,#ff3500 52.5px,#ff4a00 53.5px,#ff9600 55.5px,#ffb500 56.5px,#fd0 58.5px,#fffc00 60.5px,#b5ff4a 66.5px,#8eff71 71.5px,#5dffa2 79.5px,#2bffd4 84.5px,#04fffb 87.5px,#00caff 91.5px,#00b9ff 92.5px,#00a0ff 93.5px,#005cff 95.5px,#0045ff 96.5px,#0046ff 98.5px,#0063ff 101.5px,#00b0ff 107.5px,#00e1ff 113.5px,#03fffc 118.5px,#42ffbd 129.5px,#65ff9a 139.5px,#73ff8c 147.5px)"></i>
<i style="background:linear-gradient(90deg,#97ff68 0.5px,#adff52 12.5px,#d4ff2b 22.5px,#fffc00 30.5px,#fb0 39.5px,#ff9000 43.5px,#ff4d00 48.5px,#ff3b00 50.5px,#ff3900 52.5px,#ff4d00 53.5px,#f90 55.5px,#ffb800 56.5px,#ffdf00 58.5px,#fffe00 60.5px,#bfff40 65.5px,#94ff6b 70.5px,#56ffa9 80.5px,#20ffdf 85.5px,#05fffa 87.5px,#00e9ff 89.5px,#0bf 92.5px,#00a3ff 93.5px,#0060ff 95.5px,#004aff 96.5px,#004aff 98.5px,#0067ff 101.5px,#00b3ff 107.5px,#00eaff 114.5px,#00fdff 117.5px,#43ffbc 129.5px,#65ff9a 139.5px,#73ff8c 147.5px)"></i>
<i style="background:linear-gradient(90deg,#97ff68 0.5px,#acff53 12.5px,#d2ff2d 22.5px,#fffd00 30.5px,#ffbe00 39.5px,#ff9400 43.5px,#ff5100 48.5px,#ff3f00 50.5px,#ff3d00 52.5px,#ff5100 53.5px,#ff9d00 55.5px,#fb0 56.5px,#ffe100 58.5px,#ff0 60.5px,#beff41 65.5px,#94ff6b 70.5px,#56ffa9 80.5px,#2fd 85.5px,#07fff8 87.5px,#00f8ff 88.5px,#00beff 92.5px,#00a7ff 93.5px,#0065ff 95.5px,#004eff 96.5px,#004fff 98.5px,#006cff 101.5px,#00b6ff 107.5px,#00ecff 114.5px,#0ff 117.5px,#3fffc0 128.5px,#63ff9c 138.5px,#74ff8b 147.5px)"></i>
<i style="background:linear-gradient(90deg,#97ff68 0.5px,#acff53 12.5px,#d1ff2e 22.5px,#ff0 30.5px,#ffc100 39.5px,#ff9700 43.5px,#f50 48.5px,#f40 50.5px,#ff4100 52.5px,#ff5600 53.5px,#ffa000 55.5px,#ffbe00 56.5px,#ffe400 58.5px,#fdff02 60.5px,#bdff42 65.5px,#93ff6c 70.5px,#57ffa8 80.5px,#23ffdc 85.5px,#09fff6 87.5px,#00faff 88.5px,#00c1ff 92.5px,#0af 93.5px,#006aff 95.5px,#0054ff 96.5px,#0054ff 98.5px,#0071ff 101.5px,#00b9ff 107.5px,#00f4ff 115.5px,#02fffd 117.5px,#40ffbf 128.5px,#63ff9c 138.5px,#74ff8b 147.5px)"></i>
<i style="background:linear-gradient(90deg,#97ff68 0.5px,#aeff51 13.5px,#d5ff2a 23.5px,#fdff02 30.5px,#ffc400 39.5px,#ff9b00 43.5px,#ff5000 49.5px,#ff4500 51.5px,#ff4600 52.5px,#ff5a00 53.5px,#ffa400 55.5px,#ffc100 56.5px,#ffe600 58.5px,#fbff04 60.5px,#bf4 65.5px,#93ff6c 70.5px,#58ffa7 80.5px,#25ffda 85.5px,#00fcff 88.5px,#00c4ff 92.5px,#00aeff 93.5px,#006fff 95.5px,#0059ff 96.5px,#005aff 98.5px,#0076ff 101.5px,#00b3ff 106.5px,#00e3ff 112.5px,#00fdff 116.5px,#46ffb9 129.5px,#6f9 139.5px,#74ff8b 147.5px)"></i>
<i style="background:linear-gradient(90deg,#97ff68 0.5px,#adff52 13.5px,#d3ff2c 23.5px,#fffd00 31.5px,#ffbe00 40.5px,#ff9300 44.5px,#f50 49.5px,#ff4a00 51.5px,#ff4b00 52.5px,#ff5f00 53.5px,#ffa800 55.5px,#ffc400 56.5px,#ffe800 58.5px,#fff700 59.5px,#f9ff06 60.5px,#baff45 65.5px,#93ff6c 70.5px,#59ffa6 80.5px,#27ffd8 85.5px,#00feff 88.5px,#00c7ff 92.5px,#00b2ff 93.5px,#0074ff 95.5px,#005fff 96.5px,#0060ff 98.5px,#007bff 101.5px,#00b7ff 106.5px,#00e5ff 112.5px,#0ff 116.5px,#43ffbc 128.5px,#65ff9a 138.5px,#74ff8b 147.5px)"></i>
<i style="background:linear-gradient(90deg,#97ff68 0.5px,#acff53 13.5px,#d2ff2d 23.5px,#ff0 31.5px,#ffc200 40.5px,#ff9700 44.5px,#ff5a00 49.5px,#ff4f00 51.5px,#ff5000 52.5px,#ff6500 53.5px,#ffac00 55.5px,#ffc800 56.5px,#ffeb00 58.5px,#fff900 59.5px,#e9ff16 61.5px,#b0ff4f 66.5px,#87ff78 72.5px,#5affa5 80.5px,#28ffd7 85.5px,#02fffd 88.5px,#00caff 92.5px,#00b6ff 93.5px,#007aff 95.5px,#0065ff 96.5px,#0065ff 98.5px,#0081ff 101.5px,#0bf 106.5px,#0ef 113.5px,#02fffd 116.5px,#4fb 128.5px,#65ff9a 138.5px,#74ff8b 147.5px)"></i>
<i style="background:linear-gradient(90deg,#96ff69 0.5px,#acff53 13.5px,#d0ff2f 23.5px,#fdff02 31.5px,#ffcd00 39.5px,#ffa800 43.5px,#ff6000 49.5px,#f50 51.5px,#ff5600 52.5px,#ff6a00 53.5px,#ffb100 55.5px,#ffcb00 56.5px,#fffc00 59.5px,#b8ff47 65.5px,#92ff6d 70.5px,#5bffa4 80.5px,#2affd5 85.5px,#04fffb 88.5px,#00dcff 91.5px,#00baff 93.5px,#0080ff 95.5px,#006bff 96.5px,#006cff 98.5px,#0086ff 101.5px,#00beff 106.5px,#00f0ff 113.5px,#04fffb 116.5px,#45ffba 128.5px,#6f9 138.5px,#75ff8a 147.5px)"></i>
<i style="background:linear-gradient(90deg,#96ff69 0.5px,#abff54 13.5px,#cfff30 23.5px,#fffe00 32.5px,#ffc000 41.5px,#f80 46.5px,#f60 49.5px,#ff5b00 51.5px,#ff5c00 52.5px,#ff7000 53.5px,#ffb500 55.5px,#ffcf00 56.5px,#fffe00 59.5px,#b7ff48 65.5px,#91ff6e 70.5px,#5cffa3 80.5px,#2cffd3 85.5px,#06fff9 88.5px,#00f8ff 89.5px,#00d1ff 92.5px,#00beff 93.5px,#0086ff 95.5px,#0071ff 96.5px,#0072ff 98.5px,#008cff 101.5px,#00c2ff 106.5px,#00f9ff 114.5px,#06fff9 116.5px,#46ffb9 128.5px,#68ff97 139.5px,#75ff8a 147.5px)"></i>
<i style="background:linear-gradient(90deg,#96ff69 0.5px,#af5 13.5px,#cdff32 23.5px,#feff01 32.5px,#ffc400 41.5px,#ff8d00 46.5px,#ff6c00 49.5px,#ff6100 51.5px,#ff6200 52.5px,#ff7600 53.5px,#ffba00 55.5px,#ffd300 56.5px,#fdff02 59.5px,#bfff40 64.5px,#97ff68 69.5px,#5dffa2 80.5px,#2effd1 85.5px,#09fff6 88.5px,#00fbff 89.5px,#00d4ff 92.5px,#00c2ff 93.5px,#008cff 95.5px,#0078ff 96.5px,#0078ff 98.5px,#0092ff 101.5px,#00c7ff 106.5px,#00fcff 114.5px,#35ffca 124.5px,#5dffa2 134.5px,#75ff8a 147.5px)"></i>
<i style="background:linear-gradient(90deg,#96ff69 0.5px,#af5 13.5px,#cf3 23.5px,#fffd00 33.5px,#ffc800 41.5px,#ff9300 46.5px,#ff7200 49.5px,#ff6800 51.5px,#ff6900 52.5px,#ff7c00 53.5px,#ffbe00 55.5px,#ffd600 56.5px,#fff600 58.5px,#fbff04 59.5px,#beff41 64.5px,#96ff69 69.5px,#5dffa2 80.5px,#30ffcf 85.5px,#00fdff 89.5px,#00d8ff 92.5px,#00c6ff 93.5px,#0092ff 95.5px,#007eff 96.5px,#007fff 98.5px,#0098ff 101.5px,#00cbff 106.5px,#00feff 114.5px,#45ffba 127.5px,#67ff98 138.5px,#75ff8a 147.5px)"></i>
<i style="background:linear-gradient(90deg,#96ff69 0.5px,#abff54 14.5px,#cfff30 24.5px,#ff0 33.5px,#fc0 41.5px,#f90 46.5px,#ff7900 49.5px,#ff6e00 51.5px,#ff6f00 52.5px,#ff8300 53.5px,#ffc300 55.5px,#ffda00 56.5px,#fff900 58.5px,#f8ff07 59.5px,#bcff43 64.5px,#96ff69 69.5px,#5effa1 80.5px,#32ffcd 85.5px,#01fffe 89.5px,#00dbff 92.5px,#00cbff 93.5px,#0098ff 95.5px,#0085ff 96.5px,#0086ff 98.5px,#009eff 101.5px,#00cfff 106.5px,#02fffd 114.5px,#46ffb9 127.5px,#68ff97 138.5px,#76ff89 147.5px)"></i>
<i style="background:linear-gradient(90deg,#96ff69 0.5px,#abff54 14.5px,#cdff32 24.5px,#fffc00 34.5px,#ffc800 42.5px,#ff7f00 49.5px,#ff7500 51.5px,#ff7600 52.5px,#ff8900 53.5px,#ffc800 55.5px,#ffde00 56.5px,#fffb00 58.5px,#bf4 64.5px,#95ff6a 69.5px,#5fffa0 80.5px,#34ffcb 85.5px,#04fffb 89.5px,#00dfff 92.5px,#00cfff 93.5px,#009eff 95.5px,#008cff 96.5px,#008dff 98.5px,#00aeff 102.5px,#00daff 107.5px,#00feff 113.5px,#47ffb8 127.5px,#68ff97 138.5px,#76ff89 147.5px)"></i>
<i style="background:linear-gradient(90deg,#95ff6a 0.5px,#af5 14.5px,#cbff34 24.5px,#ff0 34.5px,#ffcd00 42.5px,#ff8600 49.5px,#ff7c00 51.5px,#ff7d00 52.5px,#ff9000 53.5px,#ffcd00 55.5px,#fff100 57.5px,#fffe00 58.5px,#b9ff46 64.5px,#95ff6a 69.5px,#60ff9f 80.5px,#36ffc9 85.5px,#07fff8 89.5px,#00faff 90.5px,#00d3ff 93.5px,#00a5ff 95.5px,#0093ff 96.5px,#0093ff 98.5px,#00b4ff 102.5px,#00deff 107.5px,#02fffd 113.5px,#45ffba 126.5px,#67ff98 137.5px,#76ff89 147.5px)"></i>
<i style="background:linear-gradient(90deg,#95ff6a 0.5px,#a9ff56 14.5px,#caff35 24.5px,#fffc00 35.5px,#ffd100 42.5px,#ff8d00 49.5px,#ff8300 51.5px,#ff8400 52.5px,#ff9600 53.5px,#ffd100 55.5px,#fff500 57.5px,#fdff02 58.5px,#b8ff47 64.5px,#94ff6b 69.5px,#61ff9e 80.5px,#38ffc7 85.5px,#00fdff 90.5px,#00d8ff 93.5px,#00abff 95.5px,#009aff 96.5px,#009aff 98.5px,#00baff 102.5px,#00e2ff 107.5px,#00feff 112.5px,#4affb5 127.5px,#6aff95 138.5px,#76ff89 147.5px)"></i>
<i style="background:linear-gradient(90deg,#95ff6a 0.5px,#a8ff57 14.5px,#cf3 25.5px,#ff0 35.5px,#ffd600 42.5px,#ff9400 49.5px,#ff8a00 51.5px,#ff8b00 52.5px,#ff9d00 53.5px,#ffd600 55.5px,#fff800 57.5px,#faff05 58.5px,#b6ff49 64.5px,#94ff6b 69.5px,#62ff9d 80.5px,#3affc5 85.5px,#01fffe 90.5px,#00dcff 93.5px,#00a1ff 96.5px,#00a1ff 98.5px,#00c0ff 102.5px,#00e6ff 107.5px,#02fffd 112.5px,#48ffb7 126.5px,#68ff97 137.5px,#76ff89 147.5px)"></i>
<i style="background:linear-gradient(90deg,#95ff6a 0.5px,#af5 15.5px,#cfff30 26.5px,#fffd00 36.5px,#ffd300 43.5px,#ff9b00 49.5px,#ff9100 51.5px,#ff9200 52.5px,#ffa400 53.5px,#ffdb00 55.5px,#fffb00 57.5px,#c8ff37 62.5px,#9fff60 67.5px,#5dffa2 81.5px,#31ffce 86.5px,#04fffb 90.5px,#00edff 92.5px,#00ceff 94.5px,#00b8ff 95.5px,#00a8ff 96.5px,#00a8ff 98.5px,#00ceff 103.5px,#00f5ff 109.5px,#0ff 111.5px,#49ffb6 126.5px,#69ff96 137.5px,#7f8 147.5px)"></i>
<i style="background:linear-gradient(90deg,#95ff6a 0.5px,#a9ff56 15.5px,#cdff32 26.5px,#feff01 36.5px,#ffd800 43.5px,#ffa100 49.5px,#ff9800 51.5px,#f90 52.5px,#ffab00 53.5px,#ffe000 55.5px,#ff0 57.5px,#b4ff4b 64.5px,#93ff6c 69.5px,#64ff9b 80.5px,#3effc1 85.5px,#00fcff 91.5px,#00e5ff 93.5px,#00afff 96.5px,#00afff 98.5px,#0ef 107.5px,#04fffb 111.5px,#4bffb4 126.5px,#69ff96 137.5px,#7f8 147.5px)"></i>
<i style="background:linear-gradient(90deg,#94ff6b 0.5px,#a8ff57 15.5px,#cbff34 26.5px,#ff0 37.5px,#ffd500 44.5px,#ffa300 50.5px,#ffa100 52.5px,#ffb100 53.5px,#ffe500 55.5px,#fff500 56.5px,#fcff03 57.5px,#b2ff4d 64.5px,#92ff6d 69.5px,#65ff9a 80.5px,#40ffbf 85.5px,#0ff 91.5px,#00e9ff 93.5px,#00b6ff 96.5px,#00b6ff 98.5px,#00f7ff 108.5px,#07fff8 111.5px,#4cffb3 126.5px,#6cff93 138.5px,#7f8 147.5px)"></i>
<i style="background:linear-gradient(90deg,#94ff6b 0.5px,#a7ff58 15.5px,#c9ff36 26.5px,#fffd00 38.5px,#ffda00 44.5px,#fa0 50.5px,#ffa800 52.5px,#ffb800 53.5px,#ffe900 55.5px,#fff900 56.5px,#edff12 58.5px,#b1ff4e 64.5px,#8eff71 70.5px,#6f9 80.5px,#42ffbd 85.5px,#04fffb 91.5px,#0ef 93.5px,#00bdff 96.5px,#00bdff 98.5px,#00fbff 108.5px,#0afff5 111.5px,#4effb1 126.5px,#6cff93 138.5px,#7f8 147.5px)"></i>
<i style="background:linear-gradient(90deg,#94ff6b 0.5px,#a7ff58 15.5px,#c7ff38 26.5px,#fffc00 39.5px,#ffd700 45.5px,#ffb100 50.5px,#ffaf00 52.5px,#ffbf00 53.5px,#fe0 55.5px,#fffd00 56.5px,#afff50 64.5px,#8dff72 70.5px,#61ff9e 81.5px,#3affc5 86.5px,#00fdff 92.5px,#00e4ff 94.5px,#00c3ff 96.5px,#00c4ff 98.5px,#0ff 108.5px,#4fffb0 126.5px,#6dff92 138.5px,#7f8 147.5px)"></i>
<i style="background:linear-gradient(90deg,#94ff6b 0.5px,#a8ff57 16.5px,#c9ff36 27.5px,#ff0 39.5px,#fd0 45.5px,#ffb800 50.5px,#ffb600 52.5px,#ffc600 53.5px,#fff300 55.5px,#fdff02 56.5px,#b6ff49 63.5px,#96ff69 68.5px,#62ff9d 81.5px,#3cffc3 86.5px,#01fffe 92.5px,#00e9ff 94.5px,#00caff 96.5px,#00caff 98.5px,#00feff 107.5px,#51ffae 126.5px,#6dff92 138.5px,#78ff87 147.5px)"></i>
<i style="background:linear-gradient(90deg,#94ff6b 0.5px,#a7ff58 16.5px,#c7ff38 27.5px,#ff0 40.5px,#ffdb00 46.5px,#ffbf00 50.5px,#ffbd00 52.5px,#fc0 53.5px,#fff700 55.5px,#f9ff06 56.5px,#b4ff4b 63.5px,#95ff6a 68.5px,#63ff9c 81.5px,#3fffc0 86.5px,#05fffa 92.5px,#00fbff 93.5px,#00d1ff 96.5px,#00d5ff 99.5px,#00fdff 106.5px,#52ffad 126.5px,#6fff90 139.5px,#78ff87 147.5px)"></i>
<i style="background:linear-gradient(90deg,#94ff6b 0.5px,#a6ff59 16.5px,#c9ff36 28.5px,#fffe00 41.5px,#ffd900 47.5px,#ffc600 50.5px,#ffc400 52.5px,#ffd300 53.5px,#fffc00 55.5px,#b3ff4c 63.5px,#90ff6f 69.5px,#64ff9b 81.5px,#41ffbe 86.5px,#0ff 93.5px,#00d7ff 96.5px,#00dbff 99.5px,#02fffd 106.5px,#54ffab 126.5px,#70ff8f 139.5px,#78ff87 147.5px)"></i>
<i style="background:linear-gradient(90deg,#93ff6c 0.5px,#a7ff58 17.5px,#cbff34 29.5px,#fffd00 42.5px,#ffcd00 50.5px,#ffcb00 52.5px,#ffd900 53.5px,#feff01 55.5px,#b9ff46 62.5px,#9f6 67.5px,#65ff9a 81.5px,#43ffbc 86.5px,#04fffb 93.5px,#00f8ff 94.5px,#00deff 96.5px,#00e1ff 99.5px,#02fffd 105.5px,#5fa 126.5px,#70ff8f 139.5px,#78ff87 147.5px)"></i>
<i style="background:linear-gradient(90deg,#93ff6c 0.5px,#a6ff59 17.5px,#c8ff37 29.5px,#fffd00 43.5px,#ffd400 50.5px,#ffd200 52.5px,#ffdf00 53.5px,#fff400 54.5px,#faff05 55.5px,#afff50 63.5px,#90ff6f 69.5px,#6f9 81.5px,#45ffba 86.5px,#00fdff 94.5px,#00e4ff 96.5px,#00e8ff 99.5px,#02fffd 104.5px,#53ffac 125.5px,#6fff90 138.5px,#79ff86 147.5px)"></i>
<i style="background:linear-gradient(90deg,#93ff6c 0.5px,#a6ff59 17.5px,#c6ff39 29.5px,#fffc00 44.5px,#ffda00 50.5px,#ffd900 52.5px,#ffe600 53.5px,#fff900 54.5px,#f5ff0a 55.5px,#aeff51 63.5px,#8fff70 69.5px,#67ff98 81.5px,#47ffb8 86.5px,#02fffd 94.5px,#00eaff 96.5px,#00edff 99.5px,#02fffd 103.5px,#5fa 125.5px,#70ff8f 138.5px,#79ff86 147.5px)"></i>
<i style="background:linear-gradient(90deg,#93ff6c 0.5px,#a5ff5a 17.5px,#c8ff37 30.5px,#fffc00 45.5px,#ffe100 50.5px,#ffdf00 52.5px,#ffec00 53.5px,#fffe00 54.5px,#deff21 57.5px,#a6ff59 64.5px,#89ff76 71.5px,#68ff97 81.5px,#41ffbe 87.5px,#07fff8 94.5px,#00faff 95.5px,#00f0ff 96.5px,#00f3ff 99.5px,#02fffd 102.5px,#56ffa9 125.5px,#72ff8d 139.5px,#79ff86 147.5px)"></i>
<i style="background:linear-gradient(90deg,#93ff6c 0.5px,#a6ff59 18.5px,#c9ff36 31.5px,#fdff02 45.5px,#ffe500 51.5px,#ffe600 52.5px,#fbff04 54.5px,#e3ff1c 56.5px,#a5ff5a 64.5px,#8f7 71.5px,#65ff9a 82.5px,#3cffc3 88.5px,#0ff 95.5px,#00f6ff 96.5px,#00f9ff 99.5px,#07fff8 102.5px,#5bffa4 126.5px,#73ff8c 140.5px,#79ff86 147.5px)"></i>
<i style="background:linear-gradient(90deg,#93ff6c 0.5px,#a5ff5a 18.5px,#c7ff38 31.5px,#feff01 46.5px,#ffeb00 51.5px,#ffec00 52.5px,#fff700 53.5px,#f6ff09 54.5px,#d8ff27 57.5px,#a4ff5b 64.5px,#86ff79 72.5px,#6f9 82.5px,#3effc1 88.5px,#00fcff 96.5px,#03fffc 100.5px,#59ffa6 125.5px,#72ff8d 139.5px,#79ff86 147.5px)"></i>
<i style="background:linear-gradient(90deg,#93ff6c 0.5px,#a4ff5b 18.5px,#c4ff3b 31.5px,#f9ff06 46.5px,#fff700 49.5px,#fff200 52.5px,#fffd00 53.5px,#df2 56.5px,#a2ff5d 64.5px,#86ff79 72.5px,#67ff98 82.5px,#41ffbe 88.5px,#02fffd 96.5px,#08fff7 100.5px,#5dffa2 126.5px,#75ff8a 141.5px,#7aff85 147.5px)"></i>
<i style="background:linear-gradient(90deg,#92ff6d 0.5px,#a5ff5a 19.5px,#c9ff36 33.5px,#f9ff06 47.5px,#fff900 50.5px,#fff800 52.5px,#fcff03 53.5px,#e2ff1d 55.5px,#a7ff58 63.5px,#8bff74 70.5px,#68ff97 82.5px,#43ffbc 88.5px,#08fff7 96.5px,#0dfff2 100.5px,#5effa1 126.5px,#76ff89 142.5px,#7aff85 147.5px)"></i>
<i style="background:linear-gradient(90deg,#92ff6d 0.5px,#a4ff5b 19.5px,#c7ff38 33.5px,#f4ff0b 47.5px,#fffd00 51.5px,#fffe00 52.5px,#d6ff29 56.5px,#a1ff5e 64.5px,#83ff7c 73.5px,#64ff9b 83.5px,#1cffe3 94.5px,#0dfff2 96.5px,#12ffed 100.5px,#5fffa0 126.5px,#76ff89 142.5px,#7aff85 147.5px)"></i>
<i style="background:linear-gradient(90deg,#92ff6d 0.5px,#a3ff5c 19.5px,#c7ff38 34.5px,#f3ff0c 48.5px,#fbff04 51.5px,#faff05 52.5px,#d3ff2c 56.5px,#a0ff5f 64.5px,#83ff7c 73.5px,#65ff9a 83.5px,#12ffed 96.5px,#16ffe9 100.5px,#62ff9d 127.5px,#78ff87 144.5px,#7aff85 147.5px)"></i>
<i style="background:linear-gradient(90deg,#92ff6d 0.5px,#a4ff5b 20.5px,#ceff31 37.5px,#f6ff09 51.5px,#f5ff0a 52.5px,#d0ff2f 56.5px,#9fff60 64.5px,#81ff7e 74.5px,#6f9 83.5px,#17ffe8 96.5px,#1dffe2 101.5px,#65ff9a 128.5px,#7aff85 146.5px,#7aff85 147.5px)"></i>
<i style="background:linear-gradient(90deg,#92ff6d 0.5px,#a4ff5b 20.5px,#ceff31 38.5px,#f1ff0e 51.5px,#f0ff0f 52.5px,#cdff32 56.5px,#9eff61 64.5px,#81ff7e 74.5px,#67ff98 83.5px,#1cffe3 96.5px,#21ffde 101.5px,#6f9 128.5px,#7aff85 146.5px,#7aff85 147.5px)"></i>
<i style="background:linear-gradient(90deg,#92ff6d 0.5px,#a3ff5c 20.5px,#daff25 44.5px,#ecff13 51.5px,#ebff14 52.5px,#cbff34 56.5px,#9f6 65.5px,#68ff97 83.5px,#20ffdf 96.5px,#28ffd7 102.5px,#69ff96 129.5px,#7bff84 147.5px)"></i>
<i style="background:linear-gradient(90deg,#91ff6e 0.5px,#a4ff5b 21.5px,#e7ff18 51.5px,#e6ff19 52.5px,#c2ff3d 57.5px,#9f6 65.5px,#69ff96 83.5px,#25ffda 96.5px,#2bffd4 102.5px,#6aff95 129.5px,#7bff84 147.5px)"></i>
<i style="background:linear-gradient(90deg,#91ff6e 0.5px,#a3ff5c 21.5px,#e2ff1d 51.5px,#dbff24 53.5px,#baff45 58.5px,#95ff6a 66.5px,#6aff95 83.5px,#29ffd6 96.5px,#31ffce 103.5px,#6aff95 129.5px,#7bff84 147.5px)"></i>
<i style="background:linear-gradient(90deg,#91ff6e 0.5px,#a2ff5d 21.5px,#deff21 51.5px,#d7ff28 53.5px,#adff52 60.5px,#8fff70 68.5px,#6bff94 83.5px,#2dffd2 96.5px,#36ffc9 104.5px,#6cff93 130.5px,#7bff84 147.5px)"></i>
<i style="background:linear-gradient(90deg,#91ff6e 0.5px,#a3ff5c 22.5px,#d9ff26 51.5px,#d3ff2c 53.5px,#a2ff5d 62.5px,#8f7 71.5px,#6cff93 83.5px,#31ffce 96.5px,#39ffc6 104.5px,#6dff92 130.5px,#7bff84 147.5px)"></i>
<i style="background:linear-gradient(90deg,#91ff6e 0.5px,#a2ff5d 22.5px,#d5ff2a 51.5px,#cfff30 53.5px,#9dff62 63.5px,#80ff7f 75.5px,#65ff9a 85.5px,#35ffca 96.5px,#3effc1 105.5px,#6eff91 130.5px,#7bff84 147.5px)"></i>
<i style="background:linear-gradient(90deg,#91ff6e 0.5px,#a2ff5d 23.5px,#d1ff2e 51.5px,#cf3 53.5px,#9f6 64.5px,#6aff95 84.5px,#39ffc6 96.5px,#43ffbc 106.5px,#70ff8f 131.5px,#7cff83 147.5px)"></i>
<i style="background:linear-gradient(90deg,#91ff6e 0.5px,#a2ff5d 23.5px,#cdff32 51.5px,#c2ff3d 54.5px,#95ff6a 65.5px,#6bff94 84.5px,#3cffc3 96.5px,#47ffb8 107.5px,#70ff8f 131.5px,#7cff83 147.5px)"></i>
<i style="background:linear-gradient(90deg,#91ff6e 0.5px,#a1ff5e 23.5px,#caff35 51.5px,#c0ff3f 54.5px,#92ff6d 66.5px,#6cff93 84.5px,#40ffbf 96.5px,#49ffb6 107.5px,#72ff8d 132.5px,#7cff83 147.5px)"></i>
<i style="background:linear-gradient(90deg,#90ff6f 0.5px,#a1ff5e 24.5px,#c6ff39 51.5px,#adff52 58.5px,#90ff6f 67.5px,#6dff92 84.5px,#43ffbc 96.5px,#4dffb2 108.5px,#72ff8d 132.5px,#7cff83 147.5px)"></i>
<i style="background:linear-gradient(90deg,#90ff6f 0.5px,#a0ff5f 24.5px,#c3ff3c 51.5px,#8fff70 67.5px,#6eff91 84.5px,#46ffb9 96.5px,#50ffaf 108.5px,#74ff8b 133.5px,#7cff83 147.5px)"></i>
<i style="background:linear-gradient(90deg,#90ff6f 0.5px,#a1ff5e 25.5px,#c0ff3f 51.5px,#8fff70 67.5px,#6cff93 85.5px,#49ffb6 96.5px,#53ffac 109.5px,#75ff8a 134.5px,#7cff83 147.5px)"></i>
<i style="background:linear-gradient(90deg,#90ff6f 0.5px,#a1ff5e 26.5px,#bdff42 51.5px,#8dff72 68.5px,#6dff92 85.5px,#4cffb3 96.5px,#5fa 109.5px,#76ff89 134.5px,#7dff82 147.5px)"></i>
<i style="background:linear-gradient(90deg,#90ff6f 0.5px,#a0ff5f 26.5px,#baff45 51.5px,#8dff72 68.5px,#6eff91 85.5px,#4fffb0 96.5px,#59ffa6 110.5px,#7f8 135.5px,#7dff82 147.5px)"></i>
<i style="background:linear-gradient(90deg,#90ff6f 0.5px,#a0ff5f 27.5px,#b7ff48 51.5px,#8bff74 69.5px,#6fff90 85.5px,#51ffae 96.5px,#5bffa4 110.5px,#78ff87 136.5px,#7dff82 147.5px)"></i>
<i style="background:linear-gradient(90deg,#90ff6f 0.5px,#9fff60 27.5px,#b5ff4a 51.5px,#8bff74 69.5px,#6dff92 86.5px,#54ffab 96.5px,#5effa1 111.5px,#79ff86 137.5px,#7dff82 147.5px)"></i>
<i style="background:linear-gradient(90deg,#90ff6f 0.5px,#a0ff5f 28.5px,#b2ff4d 51.5px,#89ff76 70.5px,#6eff91 86.5px,#56ffa9 96.5px,#5fffa0 111.5px,#7aff85 138.5px,#7dff82 147.5px)"></i>
<i style="background:linear-gradient(90deg,#8fff70 0.5px,#a0ff5f 29.5px,#b0ff4f 51.5px,#8f7 71.5px,#6cff93 87.5px,#59ffa6 96.5px,#62ff9d 112.5px,#7aff85 139.5px,#7dff82 147.5px)"></i>
<i style="background:linear-gradient(90deg,#8fff70 0.5px,#a0ff5f 30.5px,#aeff51 51.5px,#86ff79 72.5px,#6dff92 87.5px,#5bffa4 97.5px,#67ff98 115.5px,#7cff83 142.5px,#7dff82 147.5px)"></i>
<i style="background:linear-gradient(90deg,#8fff70 0.5px,#a0ff5f 31.5px,#acff53 51.5px,#85ff7a 73.5px,#6cff93 88.5px,#5dffa2 97.5px,#69ff96 116.5px,#7dff82 144.5px,#7eff81 147.5px)"></i>
<i style="background:linear-gradient(90deg,#8fff70 0.5px,#9fff60 32.5px,#a9ff56 52.5px,#86ff79 72.5px,#6dff92 88.5px,#5fffa0 97.5px,#6aff95 116.5px,#7dff82 145.5px,#7eff81 147.5px)"></i>
<i style="background:linear-gradient(90deg,#8fff70 0.5px,#9fff60 33.5px,#a7ff58 52.5px,#85ff7a 73.5px,#6aff95 90.5px,#60ff9f 99.5px,#7dff82 145.5px,#7eff81 147.5px)"></i>
<i style="background:linear-gradient(90deg,#8fff70 0.5px,#a0ff5f 35.5px,#a6ff59 52.5px,#83ff7c 75.5px,#62ff9d 97.5px,#6eff91 118.5px,#7eff81 147.5px)"></i>
<i style="background:linear-gradient(90deg,#8fff70 0.5px,#a0ff5f 37.5px,#a3ff5c 53.5px,#82ff7d 76.5px,#64ff9b 97.5px,#70ff8f 119.5px,#7eff81 147.5px)"></i>
<i style="background:linear-gradient(90deg,#8fff70 0.5px,#a2ff5d 52.5px,#6f9 97.5px,#72ff8d 121.5px,#7eff81 147.5px)"></i>
<i style="background:linear-gradient(90deg,#8fff70 0.5px,#a1ff5e 52.5px,#67ff98 97.5px,#74ff8b 123.5px,#7eff81 147.5px)"></i>
<i style="background:linear-gradient(90deg,#8fff70 0.5px,#a0ff5f 52.5px,#69ff96 97.5px,#7f8 126.5px,#7eff81 147.5px)"></i>
<i style="background:linear-gradient(90deg,#8eff71 0.5px,#9eff61 52.5px,#6aff95 98.5px,#7eff81 147.5px)"></i>
<i style="background:linear-gradient(90deg,#8eff71 0.5px,#9dff62 52.5px,#6cff93 98.5px,#7fff80 147.5px)"></i>
</div>
<div class="ax" style="left:294px;top:186.9px;width:1px;height:139.1px"></div>
<div class="ax" style="left:294px;top:325px;width:148.4px;height:1px"></div>
<div class="ax" style="left:295.0px;top:324.0px;width:1px;height:3px"></div>
<div class="tl" style="left:284.5px;top:327.8px;width:20px;text-align:center">-80</div>
<div class="ax" style="left:313.2px;top:324.0px;width:1px;height:3px"></div>
<div class="tl" style="left:302.7px;top:327.8px;width:20px;text-align:center">-60</div>
<div class="ax" style="left:331.4px;top:324.0px;width:1px;height:3px"></div>
<div class="tl" style="left:320.9px;top:327.8px;width:20px;text-align:center">-40</div>
<div class="ax" style="left:349.6px;top:324.0px;width:1px;height:3px"></div>
<div class="tl" style="left:339.1px;top:327.8px;width:20px;text-align:center">-20</div>
<div class="ax" style="left:367.8px;top:324.0px;width:1px;height:3px"></div>
<div class="tl" style="left:357.3px;top:327.8px;width:20px;text-align:center">0</div>
<div class="ax" style="left:386.0px;top:324.0px;width:1px;height:3px"></div>
<div class="tl" style="left:375.5px;top:327.8px;width:20px;text-align:center">20</div>
<div class="ax" style="left:404.2px;top:324.0px;width:1px;height:3px"></div>
<div class="tl" style="left:393.7px;top:327.8px;width:20px;text-align:center">40</div>
<div class="ax" style="left:422.4px;top:324.0px;width:1px;height:3px"></div>
<div class="tl" style="left:411.9px;top:327.8px;width:20px;text-align:center">60</div>
<div class="ax" style="left:440.6px;top:324.0px;width:1px;height:3px"></div>
<div class="tl" style="left:430.1px;top:327.8px;width:20px;text-align:center">80</div>
<div class="ax" style="left:292.4px;top:318.2px;width:3px;height:1px"></div>
<div class="tl" style="left:271.2px;top:315.5px;width:20px;text-align:right">-60</div>
<div class="ax" style="left:292.4px;top:291.6px;width:3px;height:1px"></div>
<div class="tl" style="left:271.2px;top:288.9px;width:20px;text-align:right">-40</div>
<div class="ax" style="left:292.4px;top:265.1px;width:3px;height:1px"></div>
<div class="tl" style="left:271.2px;top:262.4px;width:20px;text-align:right">-20</div>
<div class="ax" style="left:292.4px;top:238.6px;width:3px;height:1px"></div>
<div class="tl" style="left:271.2px;top:235.9px;width:20px;text-align:right">0</div>
<div class="ax" style="left:292.4px;top:212.1px;width:3px;height:1px"></div>
<div class="tl" style="left:271.2px;top:209.4px;width:20px;text-align:right">20</div>
<div class="al" style="left:324.9px;top:339.0px;width:80px;text-align:center">x(m) (x10^-9)</div>
<div class="al yl" style="left:233.3px;top:255.1px;width:80px;text-align:center">y(m) (x10^-9)</div>
<div class="tt" style="left:245.1px;top:201.7px;transform:scaleX(0.95)">Hy</div>
<div class="p" style="left:533px;top:187.5px;width:147.9px;height:138.6px">
<i style="background:linear-gradient(90deg,#e20000 0.5px,#d90000 21.5px,#c10000 32.5px,#930000 47.5px,#850000 61.5px,#870000 89.5px,#980000 101.5px,#d10000 120.5px,#e00000 134.5px,#e20000 147.5px)"></i>
<i style="background:linear-gradient(90deg,#e30000 0.5px,#db0000 21.5px,#c30000 32.5px,#940000 47.5px,#850000 60.5px,#860000 88.5px,#960000 100.5px,#d30000 120.5px,#e10000 134.5px,#e30000 147.5px)"></i>
<i style="background:linear-gradient(90deg,#e40000 0.5px,#db0000 22.5px,#c60000 32.5px,#940000 47.5px,#850000 60.5px,#860000 87.5px,#950000 99.5px,#d30000 119.5px,#e20000 132.5px,#e40000 147.5px)"></i>
<i style="background:linear-gradient(90deg,#e50000 0.5px,#d00 22.5px,#c80000 32.5px,#950000 47.5px,#860000 59.5px,#860000 86.5px,#930000 98.5px,#be0000 111.5px,#d90000 121.5px,#e40000 137.5px,#e50000 147.5px)"></i>
<i style="background:linear-gradient(90deg,#e60000 0.5px,#df0000 22.5px,#ca0000 32.5px,#960000 47.5px,#860000 59.5px,#860000 86.5px,#940000 98.5px,#d60000 118.5px,#e40000 131.5px,#e60000 147.5px)"></i>
<i style="background:linear-gradient(90deg,#e80000 0.5px,#e00000 23.5px,#ca0000 33.5px,#950000 48.5px,#860000 60.5px,#860000 86.5px,#950000 98.5px,#d60000 117.5px,#e50000 129.5px,#e80000 147.5px)"></i>
<i style="background:linear-gradient(90deg,#e90000 0.5px,#e10000 23.5px,#c00 33.5px,#950000 48.5px,#860000 60.5px,#860000 86.5px,#940000 97.5px,#ba0000 108.5px,#da0000 118.5px,#e70000 131.5px,#e90000 147.5px)"></i>
<i style="background:linear-gradient(90deg,#ea0000 0.5px,#e30000 23.5px,#ce0000 33.5px,#960000 48.5px,#870000 59.5px,#860000 85.5px,#940000 97.5px,#bc0000 108.5px,#dc0000 118.5px,#e80000 132.5px,#ea0000 147.5px)"></i>
<i style="background:linear-gradient(90deg,#eb0000 0.5px,#e40000 24.5px,#d10000 33.5px,#970000 48.5px,#870000 59.5px,#860000 85.5px,#930000 96.5px,#b60000 106.5px,#da0000 116.5px,#e90000 128.5px,#eb0000 147.5px)"></i>
<i style="background:linear-gradient(90deg,#ec0000 0.5px,#e60000 24.5px,#d30000 33.5px,#950000 49.5px,#860000 60.5px,#860000 85.5px,#930000 96.5px,#b80000 106.5px,#dc0000 116.5px,#ea0000 128.5px,#ec0000 147.5px)"></i>
<i style="background:linear-gradient(90deg,#ed0000 0.5px,#e70000 24.5px,#d60000 33.5px,#960000 49.5px,#860000 60.5px,#860000 85.5px,#940000 96.5px,#ba0000 106.5px,#dc0000 115.5px,#ea0000 126.5px,#ed0000 147.5px)"></i>
<i style="background:linear-gradient(90deg,#ef0000 0.5px,#e80000 25.5px,#d50000 34.5px,#970000 49.5px,#870000 59.5px,#850000 84.5px,#930000 95.5px,#b30000 104.5px,#dc0000 114.5px,#eb0000 124.5px,#ef0000 147.5px)"></i>
<i style="background:linear-gradient(90deg,#f00000 0.5px,#ea0000 25.5px,#d80000 34.5px,#980000 49.5px,#870000 59.5px,#860000 84.5px,#930000 95.5px,#b60000 104.5px,#db0000 113.5px,#ec0000 123.5px,#f00000 147.5px)"></i>
<i style="background:linear-gradient(90deg,#f10000 0.5px,#eb0000 26.5px,#d70000 35.5px,#900 49.5px,#800 58.5px,#850000 82.5px,#910000 94.5px,#ae0000 102.5px,#db0000 112.5px,#ec0000 121.5px,#f10000 147.5px)"></i>
<i style="background:linear-gradient(90deg,#f20000 0.5px,#ec0000 26.5px,#d90000 35.5px,#970000 50.5px,#870000 60.5px,#860000 84.5px,#920000 94.5px,#b00000 102.5px,#d00 112.5px,#ed0000 121.5px,#f20000 147.5px)"></i>
<i style="background:linear-gradient(90deg,#f30000 0.5px,#ed0000 27.5px,#dc0000 35.5px,#980000 50.5px,#800 59.5px,#850000 83.5px,#930000 94.5px,#b20000 102.5px,#d00 111.5px,#e00 120.5px,#f30000 147.5px)"></i>
<i style="background:linear-gradient(90deg,#f40000 0.5px,#ef0000 27.5px,#df0000 35.5px,#900 50.5px,#800 59.5px,#850000 83.5px,#910000 93.5px,#af0000 101.5px,#df0000 111.5px,#f00000 120.5px,#f40000 147.5px)"></i>
<i style="background:linear-gradient(90deg,#f60000 0.5px,#f10000 27.5px,#e10000 35.5px,#b60000 44.5px,#940000 52.5px,#860000 62.5px,#870000 86.5px,#970000 95.5px,#c20000 104.5px,#e50000 112.5px,#f30000 122.5px,#f60000 147.5px)"></i>
<i style="background:linear-gradient(90deg,#f70000 0.5px,#f10000 28.5px,#e00000 36.5px,#970000 51.5px,#870000 60.5px,#850000 83.5px,#920000 93.5px,#ae0000 100.5px,#e10000 110.5px,#f20000 118.5px,#f70000 147.5px)"></i>
<i style="background:linear-gradient(90deg,#f80000 0.5px,#f30000 28.5px,#e30000 36.5px,#b50000 45.5px,#950000 52.5px,#860000 61.5px,#860000 84.5px,#930000 93.5px,#b00000 100.5px,#e00000 109.5px,#f20000 117.5px,#f80000 146.5px,#f80000 147.5px)"></i>
<i style="background:linear-gradient(90deg,#f90000 0.5px,#f40000 29.5px,#e20000 37.5px,#900 51.5px,#800 59.5px,#850000 82.5px,#910000 92.5px,#ad0000 99.5px,#e30000 109.5px,#f40000 117.5px,#f90000 147.5px)"></i>
<i style="background:linear-gradient(90deg,#fa0000 0.5px,#f60000 29.5px,#e50000 37.5px,#ba0000 45.5px,#970000 52.5px,#870000 60.5px,#860000 83.5px,#910000 92.5px,#af0000 99.5px,#e20000 108.5px,#f30000 115.5px,#fa0000 137.5px,#fa0000 147.5px)"></i>
<i style="background:linear-gradient(90deg,#fb0000 0.5px,#f60000 30.5px,#e70000 37.5px,#c30000 44.5px,#9b0000 51.5px,#8a0000 58.5px,#840000 78.5px,#8d0000 90.5px,#a60000 97.5px,#e40000 108.5px,#f60000 116.5px,#fb0000 147.5px)"></i>
<i style="background:linear-gradient(90deg,#fd0000 0.5px,#f80000 30.5px,#ea0000 37.5px,#c60000 44.5px,#9c0000 51.5px,#8a0000 58.5px,#840000 77.5px,#8d0000 90.5px,#a20000 96.5px,#e30000 107.5px,#f60000 114.5px,#fc0000 135.5px,#fd0000 147.5px)"></i>
<i style="background:linear-gradient(90deg,#fe0000 0.5px,#f90000 31.5px,#e90000 38.5px,#c20000 45.5px,#900 52.5px,#890000 59.5px,#840000 80.5px,#8e0000 90.5px,#a30000 96.5px,#e60000 107.5px,#f80000 114.5px,#fe0000 139.5px,#fe0000 147.5px)"></i>
<i style="background:linear-gradient(90deg,#f00 0.5px,#fa0000 31.5px,#ec0000 38.5px,#cb0000 44.5px,#9f0000 51.5px,#8c0000 57.5px,#840000 72.5px,#8a0000 88.5px,#9b0000 94.5px,#cd0000 102.5px,#ed0000 108.5px,#fb0000 116.5px,#f00 147.5px)"></i>
<i style="background:linear-gradient(90deg,#ff0200 0.5px,#fc0000 32.5px,#ec0000 39.5px,#c80000 45.5px,#9b0000 52.5px,#890000 59.5px,#850000 80.5px,#8e0000 90.5px,#a70000 96.5px,#e80000 106.5px,#fb0000 113.5px,#ff0200 137.5px,#ff0200 147.5px)"></i>
<i style="background:linear-gradient(90deg,#ff0400 0.5px,#fd0000 34.5px,#eb0000 40.5px,#bd0000 47.5px,#980000 53.5px,#800 60.5px,#850000 82.5px,#920000 91.5px,#a90000 96.5px,#e70000 105.5px,#fb0000 111.5px,#ff0400 125.5px,#ff0400 147.5px)"></i>
<i style="background:linear-gradient(90deg,#ff0700 0.5px,#ff0200 33.5px,#f30000 39.5px,#d70000 44.5px,#9e0000 52.5px,#8b0000 58.5px,#840000 74.5px,#8b0000 88.5px,#9f0000 94.5px,#eb0000 105.5px,#fe0000 111.5px,#ff0700 131.5px,#ff0700 147.5px)"></i>
<i style="background:linear-gradient(90deg,#ff0900 0.5px,#ff0500 33.5px,#fa0000 38.5px,#e20000 43.5px,#9f0000 52.5px,#8b0000 58.5px,#840000 73.5px,#8b0000 88.5px,#a10000 94.5px,#ea0000 104.5px,#fe0000 109.5px,#ff0900 123.5px,#ff0900 147.5px)"></i>
<i style="background:linear-gradient(90deg,#ff0b00 0.5px,#ff0700 34.5px,#fb0000 39.5px,#e00000 44.5px,#a10000 52.5px,#8d0000 57.5px,#840000 68.5px,#890000 86.5px,#980000 92.5px,#b80000 97.5px,#e00 104.5px,#f00 108.5px,#ff0a00 118.5px,#ff0b00 147.5px)"></i>
<i style="background:linear-gradient(90deg,#ff0d00 0.5px,#ff0900 34.5px,#fb0000 40.5px,#dc0000 45.5px,#a30000 52.5px,#8e0000 57.5px,#840000 68.5px,#890000 86.5px,#900 92.5px,#b00 97.5px,#ec0000 103.5px,#f00 107.5px,#ff0c00 115.5px,#ff0d00 147.5px)"></i>
<i style="background:linear-gradient(90deg,#ff1000 0.5px,#ff0b00 35.5px,#f00 40.5px,#e10000 45.5px,#a40000 52.5px,#8e0000 57.5px,#850000 67.5px,#890000 86.5px,#9a0000 92.5px,#be0000 97.5px,#f10000 103.5px,#ff0100 106.5px,#ff0d00 113.5px,#ff1000 147.5px)"></i>
<i style="background:linear-gradient(90deg,#ff1200 0.5px,#ff0e00 35.5px,#f00 41.5px,#d00 46.5px,#a60000 52.5px,#8e0000 57.5px,#850000 67.5px,#890000 86.5px,#9b0000 92.5px,#c20000 97.5px,#f50000 103.5px,#ff0100 105.5px,#ff0f00 112.5px,#ff1200 147.5px)"></i>
<i style="background:linear-gradient(90deg,#ff1400 0.5px,#ff1000 36.5px,#fe0000 42.5px,#e10000 46.5px,#a80000 52.5px,#920000 56.5px,#860000 63.5px,#800 85.5px,#970000 91.5px,#b20000 95.5px,#f30000 102.5px,#f00 104.5px,#ff1000 110.5px,#ff1400 147.5px)"></i>
<i style="background:linear-gradient(90deg,#ff1700 0.5px,#ff1300 36.5px,#ff0300 42.5px,#f60000 44.5px,#a20000 53.5px,#8c0000 58.5px,#840000 70.5px,#890000 86.5px,#980000 91.5px,#b50000 95.5px,#f80000 102.5px,#ff0400 104.5px,#ff1300 110.5px,#ff1700 147.5px)"></i>
<i style="background:linear-gradient(90deg,#ff1900 0.5px,#ff1500 37.5px,#ff0800 42.5px,#fb0000 44.5px,#cb0000 49.5px,#a40000 53.5px,#8f0000 57.5px,#850000 65.5px,#800 85.5px,#940000 90.5px,#ae0000 94.5px,#f50000 101.5px,#ff0400 103.5px,#ff1400 108.5px,#ff1900 130.5px,#ff1900 147.5px)"></i>
<i style="background:linear-gradient(90deg,#ff1b00 0.5px,#ff1800 37.5px,#ff0c00 42.5px,#ff0100 44.5px,#db0000 48.5px,#a60000 53.5px,#900000 57.5px,#850000 65.5px,#800 85.5px,#940000 90.5px,#b00000 94.5px,#fa0000 101.5px,#ff0800 103.5px,#ff1700 108.5px,#ff1b00 139.5px,#ff1b00 147.5px)"></i>
<i style="background:linear-gradient(90deg,#ff1e00 0.5px,#ff1a00 38.5px,#ff0b00 43.5px,#fd0000 45.5px,#c70000 50.5px,#a00000 54.5px,#8d0000 58.5px,#850000 68.5px,#890000 86.5px,#9a0000 91.5px,#be0000 95.5px,#f70000 100.5px,#f00 101.5px,#ff1400 105.5px,#ff1d00 114.5px,#ff1e00 147.5px)"></i>
<i style="background:linear-gradient(90deg,#ff2000 0.5px,#ff1d00 38.5px,#ff1000 43.5px,#ff0300 45.5px,#f00000 47.5px,#a90000 53.5px,#900000 57.5px,#860000 64.5px,#800 85.5px,#960000 90.5px,#ab0000 93.5px,#fc0000 100.5px,#ff1800 105.5px,#ff2000 115.5px,#ff2000 147.5px)"></i>
<i style="background:linear-gradient(90deg,#f20 0.5px,#ff1e00 39.5px,#ff0f00 44.5px,#f00 46.5px,#ab0000 53.5px,#950000 56.5px,#800 61.5px,#870000 84.5px,#910000 89.5px,#a40000 92.5px,#d20000 96.5px,#f70000 99.5px,#ff0200 100.5px,#ff1800 104.5px,#f20 112.5px,#f20 147.5px)"></i>
<i style="background:linear-gradient(90deg,#ff2500 0.5px,#ff2100 39.5px,#ff1300 44.5px,#fb0000 47.5px,#ae0000 53.5px,#960000 56.5px,#800 61.5px,#870000 84.5px,#920000 89.5px,#a60000 92.5px,#d70000 96.5px,#fd0000 99.5px,#ff1900 103.5px,#ff2300 110.5px,#ff2500 147.5px)"></i>
<i style="background:linear-gradient(90deg,#ff2700 0.5px,#ff2300 40.5px,#ff1800 44.5px,#ff0100 47.5px,#a50000 54.5px,#910000 57.5px,#860000 63.5px,#800 85.5px,#970000 90.5px,#b20000 93.5px,#f70000 98.5px,#ff0300 99.5px,#ff1900 102.5px,#ff2500 108.5px,#ff2700 147.5px)"></i>
<i style="background:linear-gradient(90deg,#ff2900 0.5px,#ff2600 40.5px,#ff1c00 44.5px,#ff0700 47.5px,#fa0000 48.5px,#a70000 54.5px,#920000 57.5px,#860000 63.5px,#800 85.5px,#930000 89.5px,#a90000 92.5px,#fd0000 98.5px,#ff1d00 102.5px,#ff2800 108.5px,#ff2900 147.5px)"></i>
<i style="background:linear-gradient(90deg,#ff2b00 0.5px,#ff2800 41.5px,#ff1c00 45.5px,#ff0100 48.5px,#a90000 54.5px,#920000 57.5px,#860000 63.5px,#800 85.5px,#930000 89.5px,#ab0000 92.5px,#f60000 97.5px,#ff0400 98.5px,#ff1d00 101.5px,#ff2900 106.5px,#ff2b00 147.5px)"></i>
<i style="background:linear-gradient(90deg,#ff2e00 0.5px,#ff2b00 41.5px,#ff2000 45.5px,#ff0700 48.5px,#f90000 49.5px,#ab0000 54.5px,#920000 57.5px,#870000 62.5px,#800 85.5px,#930000 89.5px,#ad0000 92.5px,#fc0000 97.5px,#ff1c00 100.5px,#ff2a00 104.5px,#ff2e00 143.5px,#ff2e00 147.5px)"></i>
<i style="background:linear-gradient(90deg,#f30 0.5px,#ff3000 42.5px,#f20 46.5px,#ff0200 49.5px,#ae0000 54.5px,#930000 57.5px,#870000 62.5px,#800 85.5px,#940000 89.5px,#b00000 92.5px,#f50000 96.5px,#ff0500 97.5px,#ff2300 100.5px,#ff3000 104.5px,#f30 147.5px)"></i>
<i style="background:linear-gradient(90deg,#ff3800 0.5px,#ff3600 42.5px,#ff2a00 46.5px,#ff1800 48.5px,#fa0000 50.5px,#b00000 54.5px,#940000 57.5px,#800 62.5px,#890000 85.5px,#950000 89.5px,#a60000 91.5px,#c40000 93.5px,#fd0000 96.5px,#ff2400 99.5px,#ff3200 102.5px,#ff3800 114.5px,#ff3800 147.5px)"></i>
<i style="background:linear-gradient(90deg,#ff3e00 0.5px,#ff3a00 43.5px,#ff3100 46.5px,#ff2100 48.5px,#ff0300 50.5px,#b30000 54.5px,#9d0000 56.5px,#8f0000 59.5px,#890000 72.5px,#8d0000 86.5px,#970000 89.5px,#a90000 91.5px,#c80000 93.5px,#f20000 95.5px,#ff0700 96.5px,#ff2400 98.5px,#ff3600 101.5px,#ff3e00 109.5px,#ff3e00 147.5px)"></i>
<i style="background:linear-gradient(90deg,#ff4300 0.5px,#ff4100 43.5px,#f30 47.5px,#ff1e00 49.5px,#ff0c00 50.5px,#f50000 51.5px,#c70000 53.5px,#a90000 55.5px,#950000 58.5px,#8e0000 66.5px,#910000 86.5px,#9a0000 89.5px,#ab0000 91.5px,#cb0000 93.5px,#fa0000 95.5px,#ff2100 97.5px,#ff3500 99.5px,#ff4100 103.5px,#ff4300 147.5px)"></i>
<i style="background:linear-gradient(90deg,#ff4800 0.5px,#ff4600 44.5px,#ff3c00 47.5px,#ff2800 49.5px,#fb0000 51.5px,#c80000 53.5px,#ac0000 55.5px,#9b0000 58.5px,#950000 69.5px,#900 87.5px,#a50000 90.5px,#b00 92.5px,#c00 93.5px,#ff0100 95.5px,#ff1a00 96.5px,#ff2b00 97.5px,#ff3d00 99.5px,#ff4800 104.5px,#ff4800 147.5px)"></i>
<i style="background:linear-gradient(90deg,#ff4e00 0.5px,#ff4b00 45.5px,#ff3e00 48.5px,#ff3200 49.5px,#ff1f00 50.5px,#ff0100 51.5px,#df0000 52.5px,#c60000 53.5px,#b70000 54.5px,#a80000 56.5px,#9f0000 61.5px,#a00000 87.5px,#a90000 90.5px,#ba0000 92.5px,#cb0000 93.5px,#e60000 94.5px,#ff0800 95.5px,#ff2400 96.5px,#ff3500 97.5px,#ff4600 99.5px,#ff4d00 105.5px,#ff4e00 147.5px)"></i>
<i style="background:linear-gradient(90deg,#ff5300 0.5px,#ff5000 46.5px,#ff4700 48.5px,#ff3d00 49.5px,#ff2800 50.5px,#ff0600 51.5px,#de0000 52.5px,#c10000 53.5px,#b30000 54.5px,#a50000 57.5px,#a40000 88.5px,#ac0000 91.5px,#b50000 92.5px,#c60000 93.5px,#e50000 94.5px,#ff0e00 95.5px,#ff2d00 96.5px,#ff3f00 97.5px,#ff4e00 99.5px,#ff5300 108.5px,#ff5300 147.5px)"></i>
<i style="background:linear-gradient(90deg,#ff5800 0.5px,#ff5700 46.5px,#ff5000 48.5px,#ff4700 49.5px,#ff3500 50.5px,#ff1400 51.5px,#ec0000 52.5px,#cf0000 53.5px,#c10000 54.5px,#b80000 57.5px,#ba0000 90.5px,#c30000 92.5px,#d40000 93.5px,#f30000 94.5px,#ff1b00 95.5px,#ff3900 96.5px,#ff4a00 97.5px,#f50 99.5px,#ff5800 125.5px,#ff5700 147.5px)"></i>
<i style="background:linear-gradient(90deg,#ff5c00 0.5px,#ff5c00 47.5px,#ff5300 49.5px,#f40 50.5px,#ff2a00 51.5px,#ff0900 52.5px,#f00000 53.5px,#e40000 54.5px,#d00 58.5px,#e00000 91.5px,#e60000 92.5px,#f30000 93.5px,#ff0f00 94.5px,#ff3000 95.5px,#ff4800 96.5px,#f50 97.5px,#ff5e00 100.5px,#ff5c00 147.5px)"></i>
<i style="background:linear-gradient(90deg,#ff6100 0.5px,#ff6200 48.5px,#ff5400 50.5px,#ff1600 53.5px,#ff0900 55.5px,#ff0a00 91.5px,#ff0e00 92.5px,#ff1800 93.5px,#ff4500 95.5px,#ff5600 96.5px,#ff6200 98.5px,#ff6100 147.5px)"></i>
<i style="background:linear-gradient(90deg,#ff6500 0.5px,#ff6a00 48.5px,#ff6200 50.5px,#ff3c00 53.5px,#ff3400 56.5px,#ff3500 91.5px,#ff3e00 93.5px,#ff6300 96.5px,#ff6b00 100.5px,#ff6500 147.5px)"></i>
<i style="background:linear-gradient(90deg,#ff6a00 0.5px,#ff6f00 50.5px,#ff6100 54.5px,#ff6400 93.5px,#ff7100 97.5px,#ff6a00 147.5px)"></i>
<i style="background:linear-gradient(90deg,#ff6e00 0.5px,#ff7900 49.5px,#ff8400 56.5px,#ff8200 93.5px,#f70 99.5px,#ff6e00 147.5px)"></i>
<i style="background:linear-gradient(90deg,#ff7300 0.5px,#ff7f00 49.5px,#ff9200 54.5px,#ff9200 92.5px,#ff7f00 97.5px,#ff7300 147.5px)"></i>
<i style="background:linear-gradient(90deg,#f70 0.5px,#ff8300 43.5px,#ff8c00 49.5px,#ffa200 54.5px,#ffa200 92.5px,#ff8900 98.5px,#ff7d00 114.5px,#f70 147.5px)"></i>
<i style="background:linear-gradient(90deg,#ff7c00 0.5px,#ff8700 32.5px,#ff9700 48.5px,#ffb100 54.5px,#ffb100 92.5px,#ff9700 98.5px,#ff8100 123.5px,#ff7c00 147.5px)"></i>
<i style="background:linear-gradient(90deg,#ff8200 0.5px,#ff9b00 41.5px,#ffa800 49.5px,#ffc100 54.5px,#ffc000 92.5px,#ffa400 98.5px,#ff8e00 121.5px,#ff8100 147.5px)"></i>
<i style="background:linear-gradient(90deg,#ff8c00 0.5px,#ffa700 40.5px,#ffb600 49.5px,#ffd000 54.5px,#ffcf00 92.5px,#ffb200 98.5px,#ff9b00 119.5px,#ff8b00 147.5px)"></i>
<i style="background:linear-gradient(90deg,#ff9600 0.5px,#ffb200 39.5px,#ffc400 49.5px,#ffdf00 54.5px,#ffdf00 92.5px,#ffc000 98.5px,#ffa800 117.5px,#ff9500 147.5px)"></i>
<i style="background:linear-gradient(90deg,#ffa000 0.5px,#ffbd00 38.5px,#ffce00 48.5px,#fe0 54.5px,#fe0 92.5px,#ffce00 98.5px,#ffb500 116.5px,#ffa000 147.5px)"></i>
<i style="background:linear-gradient(90deg,#fa0 0.5px,#ffc900 37.5px,#ffdc00 48.5px,#fffd00 54.5px,#fffd00 92.5px,#ffdb00 98.5px,#ffc300 114.5px,#fa0 147.5px)"></i>
<i style="background:linear-gradient(90deg,#ffb500 0.5px,#ffd400 36.5px,#ffea00 48.5px,#fffc00 51.5px,#f1ff0e 54.5px,#f0ff0f 90.5px,#f6ff09 93.5px,#fffb00 95.5px,#ffe900 98.5px,#ffd000 113.5px,#ffb400 147.5px)"></i>
<i style="background:linear-gradient(90deg,#ffbf00 0.5px,#ffdf00 35.5px,#fff700 48.5px,#fbff04 50.5px,#e2ff1d 54.5px,#e0ff1f 89.5px,#e6ff19 93.5px,#fdff02 96.5px,#ffeb00 103.5px,#ffcb00 129.5px,#ffbe00 147.5px)"></i>
<i style="background:linear-gradient(90deg,#ffc900 0.5px,#ffeb00 35.5px,#fcff03 47.5px,#e8ff17 50.5px,#d3ff2c 54.5px,#d0ff2f 86.5px,#d7ff28 93.5px,#f8ff07 98.5px,#fffc00 101.5px,#fd0 122.5px,#ffc800 147.5px)"></i>
<i style="background:linear-gradient(90deg,#ffd300 0.5px,#fff500 34.5px,#fdff02 41.5px,#e6ff19 48.5px,#caff35 52.5px,#c2ff3d 57.5px,#c2ff3d 90.5px,#cbff34 94.5px,#ecff13 99.5px,#ff0 106.5px,#fd0 134.5px,#ffd200 147.5px)"></i>
<i style="background:linear-gradient(90deg,#fd0 0.5px,#fcff03 34.5px,#e3ff1c 45.5px,#ceff31 49.5px,#beff41 51.5px,#b5ff4a 58.5px,#b7ff48 91.5px,#beff41 95.5px,#dbff24 99.5px,#f6ff09 108.5px,#fffc00 116.5px,#fd0 147.5px)"></i>
<i style="background:linear-gradient(90deg,#ffe800 0.5px,#fcff03 26.5px,#e1ff1e 41.5px,#caff35 47.5px,#b1ff4e 50.5px,#af5 59.5px,#acff53 90.5px,#adff52 95.5px,#cbff34 99.5px,#e6ff19 107.5px,#fffe00 123.5px,#ffe700 147.5px)"></i>
<i style="background:linear-gradient(90deg,#fff200 0.5px,#fcff03 17.5px,#e0ff1f 36.5px,#c4ff3b 45.5px,#af5 49.5px,#9fff60 50.5px,#9eff61 64.5px,#9fff60 94.5px,#9cff63 95.5px,#c0ff3f 100.5px,#deff21 109.5px,#fbff04 128.5px,#fff300 144.5px,#fff100 147.5px)"></i>
<i style="background:linear-gradient(90deg,#fffc00 0.5px,#ecff13 22.5px,#ceff31 38.5px,#afff50 46.5px,#9f6 49.5px,#8dff72 50.5px,#92ff6d 52.5px,#97ff68 56.5px,#93ff6c 81.5px,#95ff6a 93.5px,#8cff73 95.5px,#90ff6f 96.5px,#af5 99.5px,#c9ff36 106.5px,#e8ff17 121.5px,#fffe00 144.5px,#fffb00 147.5px)"></i>
<i style="background:linear-gradient(90deg,#f9ff06 0.5px,#dbff24 26.5px,#baff45 40.5px,#9fff60 46.5px,#87ff78 49.5px,#7cff83 50.5px,#7dff82 51.5px,#8bff74 53.5px,#89ff76 62.5px,#89ff76 84.5px,#8dff72 92.5px,#7bff84 95.5px,#7eff81 96.5px,#a0ff5f 100.5px,#c1ff3e 108.5px,#e2ff1d 124.5px,#faff05 147.5px)"></i>
<i style="background:linear-gradient(90deg,#f1ff0e 0.5px,#d1ff2e 26.5px,#b0ff4f 39.5px,#8fff70 46.5px,#6bff94 50.5px,#6eff91 51.5px,#80ff7f 53.5px,#83ff7c 57.5px,#78ff87 74.5px,#83ff7c 92.5px,#76ff89 94.5px,#6cff93 95.5px,#6eff91 96.5px,#90ff6f 100.5px,#b1ff4e 107.5px,#d3ff2c 121.5px,#f2ff0d 147.5px)"></i>
<i style="background:linear-gradient(90deg,#e8ff17 0.5px,#c8ff37 25.5px,#a6ff59 38.5px,#86ff79 45.5px,#6f9 49.5px,#5affa5 50.5px,#5fffa0 51.5px,#76ff89 53.5px,#7f8 56.5px,#67ff98 70.5px,#6eff91 84.5px,#79ff86 92.5px,#74ff8b 93.5px,#5cffa3 95.5px,#5dffa2 96.5px,#80ff7f 100.5px,#a3ff5c 107.5px,#c6ff39 120.5px,#e7ff18 144.5px,#e9ff16 147.5px)"></i>
<i style="background:linear-gradient(90deg,#e0ff1f 0.5px,#bfff40 24.5px,#9dff62 37.5px,#7f8 45.5px,#56ffa9 49.5px,#49ffb6 50.5px,#4fffb0 51.5px,#68ff97 53.5px,#69ff96 56.5px,#5fa 69.5px,#59ffa6 81.5px,#6bff94 92.5px,#67ff98 93.5px,#4cffb3 95.5px,#4cffb3 96.5px,#6bff94 99.5px,#92ff6d 106.5px,#b7ff48 118.5px,#daff25 140.5px,#e1ff1e 147.5px)"></i>
<i style="background:linear-gradient(90deg,#d8ff27 0.5px,#b4ff4b 24.5px,#90ff6f 37.5px,#6aff95 45.5px,#46ffb9 49.5px,#38ffc7 50.5px,#3fffc0 51.5px,#5bffa4 53.5px,#5effa1 55.5px,#45ffba 67.5px,#4fb 78.5px,#59ffa6 89.5px,#5effa1 92.5px,#5affa5 93.5px,#3bffc4 95.5px,#3bffc4 96.5px,#5cffa3 99.5px,#7bff84 104.5px,#a1ff5e 114.5px,#c5ff3a 131.5px,#d9ff26 147.5px)"></i>
<i style="background:linear-gradient(90deg,#cfff30 0.5px,#acff53 23.5px,#87ff78 36.5px,#63ff9c 44.5px,#41ffbe 48.5px,#27ffd8 50.5px,#2fffd0 51.5px,#42ffbd 52.5px,#4fffb0 53.5px,#51ffae 55.5px,#35ffca 66.5px,#31ffce 76.5px,#43ffbc 86.5px,#52ffad 92.5px,#4dffb2 93.5px,#2bffd4 95.5px,#2bffd4 96.5px,#4dffb2 99.5px,#6fff90 104.5px,#9bff64 116.5px,#c0ff3f 134.5px,#d1ff2e 147.5px)"></i>
<i style="background:linear-gradient(90deg,#c7ff38 0.5px,#a1ff5e 23.5px,#74ff8b 38.5px,#5fa 44.5px,#32ffcd 48.5px,#17ffe8 50.5px,#20ffdf 51.5px,#36ffc9 52.5px,#43ffbc 53.5px,#46ffb9 55.5px,#26ffd9 65.5px,#1effe1 74.5px,#2bffd4 83.5px,#47ffb8 92.5px,#42ffbd 93.5px,#1cffe3 95.5px,#1affe5 96.5px,#3fffc0 99.5px,#63ff9c 104.5px,#8dff72 115.5px,#b3ff4c 132.5px,#c8ff37 147.5px)"></i>
<i style="background:linear-gradient(90deg,#bfff40 0.5px,#9f6 22.5px,#69ff96 38.5px,#48ffb7 44.5px,#2fd 48.5px,#0afff5 50.5px,#17ffe8 51.5px,#2cffd3 52.5px,#3affc5 53.5px,#3bffc4 55.5px,#18ffe7 64.5px,#0cfff3 72.5px,#13ffec 80.5px,#3fc 89.5px,#3dffc2 92.5px,#38ffc7 93.5px,#28ffd7 94.5px,#12ffed 95.5px,#0bfff4 96.5px,#3affc5 100.5px,#5cffa3 105.5px,#81ff7e 115.5px,#a8ff57 131.5px,#c0ff3f 147.5px)"></i>
<i style="background:linear-gradient(90deg,#b6ff49 0.5px,#8fff70 22.5px,#62ff9d 37.5px,#42ffbd 43.5px,#1fffe0 47.5px,#06fff9 49.5px,#0ff 50.5px,#0dfff2 51.5px,#23ffdc 52.5px,#31ffce 53.5px,#30ffcf 55.5px,#07fff8 64.5px,#00faff 69.5px,#00f9ff 76.5px,#05fffa 81.5px,#27ffd8 89.5px,#3fc 92.5px,#2fffd0 93.5px,#1fffe0 94.5px,#09fff6 95.5px,#01fffe 96.5px,#3dffc2 102.5px,#63ff9c 109.5px,#94ff6b 126.5px,#b8ff47 147.5px)"></i>
<i style="background:linear-gradient(90deg,#aeff51 0.5px,#87ff78 21.5px,#60ff9f 35.5px,#3dffc2 42.5px,#1fe 47.5px,#05fffa 48.5px,#00f5ff 50.5px,#04fffb 51.5px,#1bffe4 52.5px,#28ffd7 53.5px,#26ffd9 55.5px,#00feff 62.5px,#00e6ff 68.5px,#00e0ff 74.5px,#00ecff 80.5px,#0ff 84.5px,#2affd5 92.5px,#26ffd9 93.5px,#17ffe8 94.5px,#0ff 95.5px,#00f6ff 96.5px,#00fdff 97.5px,#37ffc8 103.5px,#5cffa3 110.5px,#85ff7a 124.5px,#adff52 145.5px,#b0ff4f 147.5px)"></i>
<i style="background:linear-gradient(90deg,#a6ff59 0.5px,#7f8 24.5px,#51ffae 36.5px,#29ffd6 43.5px,#04fffb 47.5px,#00ebff 50.5px,#00faff 51.5px,#1fffe0 53.5px,#1bffe4 55.5px,#0ff 59.5px,#00daff 65.5px,#00caff 71.5px,#00ceff 77.5px,#00e6ff 83.5px,#01fffe 87.5px,#20ffdf 92.5px,#1dffe2 93.5px,#0efff1 94.5px,#00f5ff 95.5px,#00ecff 96.5px,#00fbff 98.5px,#23ffdc 102.5px,#49ffb6 108.5px,#6dff92 118.5px,#a0ff5f 142.5px,#a7ff58 147.5px)"></i>
<i style="background:linear-gradient(90deg,#9dff62 0.5px,#67ff98 27.5px,#42ffbd 37.5px,#1cffe3 43.5px,#02fffd 46.5px,#00e1ff 50.5px,#00f1ff 51.5px,#09fff6 52.5px,#15ffea 53.5px,#16ffe9 54.5px,#01fffe 57.5px,#00d0ff 63.5px,#00b7ff 69.5px,#00b3ff 75.5px,#00c6ff 81.5px,#00f0ff 87.5px,#02fffd 89.5px,#16ffe9 92.5px,#14ffeb 93.5px,#04fffb 94.5px,#00ecff 95.5px,#00e3ff 96.5px,#00faff 99.5px,#0efff1 101.5px,#39ffc6 107.5px,#5effa1 116.5px,#8cff73 136.5px,#9fff60 147.5px)"></i>
<i style="background:linear-gradient(90deg,#95ff6a 0.5px,#63ff9c 25.5px,#3cffc3 36.5px,#1fe 43.5px,#0ff 45.5px,#00d8ff 50.5px,#00e8ff 51.5px,#0ff 52.5px,#0cfff3 53.5px,#05fffa 55.5px,#00fbff 56.5px,#00c3ff 62.5px,#00a7ff 67.5px,#009bff 72.5px,#00a1ff 77.5px,#00b7ff 82.5px,#00deff 87.5px,#00fdff 90.5px,#0cfff3 92.5px,#0afff5 93.5px,#00fbff 94.5px,#00e4ff 95.5px,#00d9ff 96.5px,#02fffd 101.5px,#3fc 108.5px,#5bffa4 118.5px,#85ff7a 137.5px,#97ff68 147.5px)"></i>
<i style="background:linear-gradient(90deg,#8dff72 0.5px,#5dffa2 24.5px,#36ffc9 35.5px,#00fdff 44.5px,#00d3ff 49.5px,#00d0ff 50.5px,#00f6ff 52.5px,#01fffe 53.5px,#0ff 54.5px,#00b7ff 61.5px,#0095ff 66.5px,#0086ff 71.5px,#08f 76.5px,#009cff 81.5px,#00c2ff 86.5px,#00f8ff 91.5px,#01fffe 92.5px,#0ff 93.5px,#00f2ff 94.5px,#00dcff 95.5px,#00d0ff 96.5px,#0df 98.5px,#0ff 102.5px,#3fc 110.5px,#5bffa4 121.5px,#86ff79 142.5px,#8fff70 147.5px)"></i>
<i style="background:linear-gradient(90deg,#84ff7b 0.5px,#5affa5 22.5px,#31ffce 34.5px,#03fffc 42.5px,#00e3ff 46.5px,#00caff 49.5px,#00c8ff 50.5px,#00ecff 52.5px,#00f5ff 53.5px,#00f1ff 54.5px,#00a3ff 61.5px,#0079ff 67.5px,#0069ff 71.5px,#0069ff 75.5px,#0081ff 80.5px,#00a5ff 85.5px,#00f3ff 92.5px,#00f5ff 93.5px,#00e9ff 94.5px,#00d3ff 95.5px,#00c8ff 96.5px,#00d3ff 98.5px,#00fcff 103.5px,#3bffc4 114.5px,#62ff9d 127.5px,#86ff79 147.5px)"></i>
<i style="background:linear-gradient(90deg,#7dff82 0.5px,#57ffa8 20.5px,#30ffcf 32.5px,#0ff 41.5px,#00c3ff 49.5px,#00c0ff 50.5px,#00e2ff 52.5px,#00e8ff 53.5px,#00d5ff 55.5px,#09f 60.5px,#005bff 67.5px,#004aff 71.5px,#004aff 75.5px,#005cff 79.5px,#009bff 86.5px,#00e3ff 92.5px,#00e8ff 93.5px,#00dfff 94.5px,#00caff 95.5px,#00c1ff 96.5px,#00c9ff 98.5px,#00faff 104.5px,#08fff7 106.5px,#39ffc6 116.5px,#61ff9e 130.5px,#7eff81 147.5px)"></i>
<i style="background:linear-gradient(90deg,#76ff89 0.5px,#4fffb0 20.5px,#26ffd9 32.5px,#00fcff 40.5px,#0bf 49.5px,#00b8ff 50.5px,#00d6ff 52.5px,#00d9ff 53.5px,#00c3ff 55.5px,#0060ff 63.5px,#003cff 67.5px,#002bff 71.5px,#002bff 75.5px,#003eff 79.5px,#0062ff 83.5px,#00d3ff 92.5px,#00d9ff 93.5px,#00d3ff 94.5px,#00c2ff 95.5px,#00b8ff 96.5px,#00c8ff 99.5px,#00fdff 106.5px,#3bffc4 119.5px,#62ff9d 134.5px,#78ff87 147.5px)"></i>
<i style="background:linear-gradient(90deg,#70ff8f 0.5px,#4affb5 19.5px,#21ffde 31.5px,#0ff 38.5px,#00b3ff 49.5px,#00b1ff 50.5px,#00c8ff 52.5px,#00c9ff 53.5px,#00a2ff 56.5px,#0043ff 63.5px,#001eff 67.5px,#000cff 71.5px,#000dff 75.5px,#001fff 79.5px,#0045ff 83.5px,#00c1ff 92.5px,#00caff 93.5px,#00c7ff 94.5px,#00b1ff 96.5px,#00c7ff 100.5px,#00faff 107.5px,#07fff8 109.5px,#3cffc3 122.5px,#65ff9a 139.5px,#72ff8d 147.5px)"></i>
<i style="background:linear-gradient(90deg,#6aff95 0.5px,#42ffbd 19.5px,#10ffef 33.5px,#00fcff 37.5px,#00acff 49.5px,#00a9ff 50.5px,#0bf 52.5px,#00b8ff 53.5px,#0080ff 57.5px,#003fff 61.5px,#0010ff 65.5px,#00f 67.5px,#0000f1 72.5px,#0000f7 77.5px,#0001ff 79.5px,#0027ff 83.5px,#0061ff 87.5px,#00a1ff 91.5px,#00b9ff 93.5px,#00baff 94.5px,#00a9ff 96.5px,#00ceff 102.5px,#00fdff 109.5px,#3dffc2 125.5px,#65ff9a 143.5px,#6bff94 147.5px)"></i>
<i style="background:linear-gradient(90deg,#63ff9c 0.5px,#3affc5 19.5px,#00feff 35.5px,#00a0ff 50.5px,#00acff 52.5px,#00a7ff 53.5px,#0078ff 56.5px,#0030ff 60.5px,#0007ff 63.5px,#0000fc 64.5px,#0000e1 69.5px,#0000db 74.5px,#0000eb 79.5px,#0000fe 82.5px,#0024ff 85.5px,#0068ff 89.5px,#009cff 92.5px,#00a9ff 93.5px,#00acff 94.5px,#00a1ff 96.5px,#0ff 111.5px,#38ffc7 126.5px,#62ff9d 145.5px,#65ff9a 147.5px)"></i>
<i style="background:linear-gradient(90deg,#5dffa2 0.5px,#3fc 19.5px,#0ff 33.5px,#0098ff 50.5px,#009dff 52.5px,#0095ff 53.5px,#0072ff 55.5px,#0023ff 59.5px,#0004ff 61.5px,#0000da 66.5px,#0000c7 71.5px,#0000ca 76.5px,#0000e1 81.5px,#0000fa 84.5px,#0007ff 85.5px,#004cff 89.5px,#0089ff 92.5px,#0097ff 93.5px,#009eff 94.5px,#09f 96.5px,#00fbff 112.5px,#0efff1 116.5px,#41ffbe 132.5px,#5fffa0 147.5px)"></i>
<i style="background:linear-gradient(90deg,#56ffa9 0.5px,#2effd1 18.5px,#01fffe 31.5px,#00cdff 40.5px,#0090ff 50.5px,#008fff 52.5px,#0083ff 53.5px,#0018ff 58.5px,#0006ff 59.5px,#0000ed 61.5px,#0000c4 66.5px,#0000b2 71.5px,#0000b4 76.5px,#00c 81.5px,#0000fa 86.5px,#0009ff 87.5px,#005aff 91.5px,#0086ff 93.5px,#0090ff 94.5px,#0091ff 96.5px,#00fdff 114.5px,#3effc1 134.5px,#58ffa7 147.5px)"></i>
<i style="background:linear-gradient(90deg,#50ffaf 0.5px,#26ffd9 18.5px,#00fdff 30.5px,#0097ff 48.5px,#08f 50.5px,#0080ff 52.5px,#000eff 57.5px,#0000fb 58.5px,#0000c5 63.5px,#0000a5 68.5px,#00009d 72.5px,#0000a2 77.5px,#0000be 82.5px,#0000f1 87.5px,#0000fe 88.5px,#0027ff 90.5px,#0070ff 93.5px,#0082ff 94.5px,#0091ff 97.5px,#00feff 116.5px,#3effc1 137.5px,#52ffad 147.5px)"></i>
<i style="background:linear-gradient(90deg,#4affb5 0.5px,#1effe1 18.5px,#00fdff 28.5px,#0090ff 48.5px,#007bff 51.5px,#006cff 52.5px,#0005ff 56.5px,#0000e6 58.5px,#0000b0 63.5px,#00009d 66.5px,#009 76.5px,#0000a2 81.5px,#0000d0 86.5px,#0000f7 89.5px,#000aff 90.5px,#0070ff 94.5px,#007cff 95.5px,#00b5ff 104.5px,#00feff 118.5px,#3cffc3 139.5px,#4cffb3 147.5px)"></i>
<i style="background:linear-gradient(90deg,#43ffbc 0.5px,#0ffff0 21.5px,#00feff 26.5px,#0091ff 47.5px,#0079ff 50.5px,#006dff 51.5px,#0058ff 52.5px,#001aff 54.5px,#00f 55.5px,#0000c5 59.5px,#0000a4 62.5px,#00009b 64.5px,#000092 74.5px,#00009e 83.5px,#0000c7 87.5px,#0000f2 90.5px,#0004ff 91.5px,#005dff 94.5px,#0070ff 95.5px,#008bff 98.5px,#00f1ff 117.5px,#0ff 120.5px,#3cffc3 142.5px,#46ffb9 147.5px)"></i>
<i style="background:linear-gradient(90deg,#3dffc2 0.5px,#00feff 24.5px,#0091ff 46.5px,#007cff 49.5px,#005fff 51.5px,#04f 52.5px,#0002ff 54.5px,#0000ca 57.5px,#0000a4 60.5px,#000097 63.5px,#00008c 73.5px,#000098 83.5px,#00009d 85.5px,#0000bf 88.5px,#0000ef 91.5px,#0006ff 92.5px,#004aff 94.5px,#0063ff 95.5px,#007eff 97.5px,#00a8ff 104.5px,#0ff 122.5px,#3dffc2 146.5px,#3fffc0 147.5px)"></i>
<i style="background:linear-gradient(90deg,#36ffc9 0.5px,#00feff 22.5px,#008bff 46.5px,#0075ff 49.5px,#0051ff 51.5px,#000bff 53.5px,#00e 54.5px,#0000c5 56.5px,#0000a7 58.5px,#00009d 59.5px,#000089 68.5px,#000089 78.5px,#00009e 87.5px,#0000c9 90.5px,#0000f3 92.5px,#0012ff 93.5px,#0037ff 94.5px,#0056ff 95.5px,#006aff 96.5px,#0080ff 98.5px,#00b0ff 107.5px,#0ff 124.5px,#39ffc6 147.5px)"></i>
<i style="background:linear-gradient(90deg,#30ffcf 0.5px,#00feff 20.5px,#008cff 45.5px,#006dff 49.5px,#005bff 50.5px,#0042ff 51.5px,#0000fa 53.5px,#0000dc 54.5px,#0000b1 56.5px,#0000a1 57.5px,#00008a 64.5px,#000080 74.5px,#00008f 84.5px,#00009c 88.5px,#0000a4 89.5px,#0000c8 91.5px,#0002ff 93.5px,#0048ff 95.5px,#0060ff 96.5px,#0070ff 97.5px,#0092ff 102.5px,#0ff 126.5px,#3fc 147.5px)"></i>
<i style="background:linear-gradient(90deg,#2affd5 0.5px,#00feff 18.5px,#008bff 44.5px,#0071ff 48.5px,#0065ff 49.5px,#0035ff 51.5px,#0012ff 52.5px,#0000eb 53.5px,#0000ca 54.5px,#0000b1 55.5px,#0000a1 56.5px,#000089 62.5px,#000080 68.5px,#000082 81.5px,#00009c 89.5px,#0000a2 90.5px,#0000b6 91.5px,#0000d0 92.5px,#0000f2 93.5px,#0019ff 94.5px,#003bff 95.5px,#05f 96.5px,#0068ff 97.5px,#0081ff 100.5px,#00b5ff 111.5px,#0ff 128.5px,#2cffd3 147.5px)"></i>
<i style="background:linear-gradient(90deg,#23ffdc 0.5px,#00fdff 16.5px,#0085ff 44.5px,#0069ff 48.5px,#005bff 49.5px,#0028ff 51.5px,#0004ff 52.5px,#00b 54.5px,#0000a7 55.5px,#000091 58.5px,#000080 64.5px,#000081 83.5px,#000097 89.5px,#00a 91.5px,#0000c1 92.5px,#0000e4 93.5px,#000cff 94.5px,#002eff 95.5px,#004aff 96.5px,#005eff 97.5px,#0074ff 99.5px,#009eff 107.5px,#00feff 130.5px,#26ffd9 147.5px)"></i>
<i style="background:linear-gradient(90deg,#1dffe2 0.5px,#00fdff 14.5px,#0085ff 43.5px,#006bff 47.5px,#004eff 49.5px,#0016ff 51.5px,#0000f0 52.5px,#0000cb 53.5px,#0000b3 54.5px,#009 56.5px,#000083 60.5px,#000080 69.5px,#000081 85.5px,#000092 89.5px,#0000a6 91.5px,#0000b7 92.5px,#0000d2 93.5px,#0000f8 94.5px,#001cff 95.5px,#003bff 96.5px,#0052ff 97.5px,#006dff 99.5px,#0095ff 106.5px,#02fffd 133.5px,#20ffdf 147.5px)"></i>
<i style="background:linear-gradient(90deg,#17ffe8 0.5px,#00fcff 12.5px,#00a2ff 35.5px,#0079ff 44.5px,#0060ff 47.5px,#0051ff 48.5px,#003cff 49.5px,#0000fa 51.5px,#0000d6 52.5px,#0000ab 54.5px,#000093 56.5px,#000082 59.5px,#000083 87.5px,#000095 90.5px,#0000ae 92.5px,#0000c2 93.5px,#00d 94.5px,#0002ff 95.5px,#0041ff 97.5px,#0063ff 99.5px,#0080ff 103.5px,#00b2ff 115.5px,#01fffe 135.5px,#19ffe6 147.5px)"></i>
<i style="background:linear-gradient(90deg,#12ffed 0.5px,#0ff 9.5px,#00a8ff 32.5px,#007eff 42.5px,#0061ff 46.5px,#0042ff 48.5px,#0029ff 49.5px,#0006ff 50.5px,#0000e4 51.5px,#0000b5 53.5px,#000098 55.5px,#000082 58.5px,#000081 87.5px,#008 89.5px,#00009a 91.5px,#0000b9 93.5px,#0000ea 95.5px,#000eff 96.5px,#002fff 97.5px,#0046ff 98.5px,#0063ff 100.5px,#007fff 104.5px,#00b0ff 116.5px,#0ff 137.5px,#15ffea 147.5px)"></i>
<i style="background:linear-gradient(90deg,#0efff1 0.5px,#00feff 7.5px,#00a9ff 30.5px,#0082ff 40.5px,#0062ff 45.5px,#0047ff 47.5px,#0032ff 48.5px,#0015ff 49.5px,#0000f2 50.5px,#0000c2 52.5px,#00009e 54.5px,#000089 56.5px,#000080 61.5px,#000083 88.5px,#00008b 90.5px,#0000a1 92.5px,#0000c6 94.5px,#0000f8 96.5px,#001bff 97.5px,#0037ff 98.5px,#0059ff 100.5px,#0073ff 103.5px,#09f 111.5px,#0df 130.5px,#02fffd 140.5px,#10ffef 147.5px)"></i>
<i style="background:linear-gradient(90deg,#09fff6 0.5px,#00fdff 5.5px,#0af 28.5px,#0081ff 39.5px,#0062ff 44.5px,#004bff 46.5px,#0039ff 47.5px,#0002ff 49.5px,#0000b9 52.5px,#000098 54.5px,#008 56.5px,#000080 62.5px,#000083 88.5px,#00008f 91.5px,#00a 93.5px,#0000d2 95.5px,#0000eb 96.5px,#0008ff 97.5px,#0026ff 98.5px,#003dff 99.5px,#005aff 101.5px,#0078ff 105.5px,#009bff 113.5px,#0df 132.5px,#01fffe 142.5px,#0bfff4 147.5px)"></i>
<i style="background:linear-gradient(90deg,#04fffb 0.5px,#00fcff 3.5px,#00afff 25.5px,#0084ff 37.5px,#0062ff 43.5px,#004eff 45.5px,#003fff 46.5px,#000fff 48.5px,#0000f5 49.5px,#0000c3 51.5px,#00009f 53.5px,#00008d 55.5px,#000081 60.5px,#000082 87.5px,#00008e 91.5px,#0000a2 93.5px,#0000c7 95.5px,#0000fa 97.5px,#002eff 99.5px,#0042ff 100.5px,#0064ff 103.5px,#0092ff 112.5px,#0df 134.5px,#0ff 144.5px,#06fff9 147.5px)"></i>
<i style="background:linear-gradient(90deg,#00feff 0.5px,#00b3ff 22.5px,#0083ff 36.5px,#0062ff 42.5px,#04f 45.5px,#001aff 47.5px,#0003ff 48.5px,#0000ba 51.5px,#00009a 53.5px,#008 56.5px,#000080 64.5px,#000083 88.5px,#00008d 91.5px,#00009d 93.5px,#0000bd 95.5px,#00e 97.5px,#0008ff 98.5px,#0035ff 100.5px,#0053ff 102.5px,#006fff 106.5px,#0094ff 114.5px,#00dcff 136.5px,#02fffd 147.5px)"></i>
<i style="background:linear-gradient(90deg,#00f6ff 0.5px,#00b7ff 19.5px,#0086ff 34.5px,#005aff 42.5px,#0047ff 44.5px,#0023ff 46.5px,#000fff 47.5px,#0000f6 48.5px,#0000b0 51.5px,#000098 53.5px,#000087 56.5px,#000080 65.5px,#000083 88.5px,#000091 92.5px,#0000a5 94.5px,#0000b4 95.5px,#0000fb 98.5px,#003aff 101.5px,#0054ff 103.5px,#0078ff 109.5px,#0095ff 116.5px,#00d8ff 137.5px,#00faff 147.5px)"></i>
<i style="background:linear-gradient(90deg,#0ef 0.5px,#00b7ff 17.5px,#0083ff 33.5px,#0052ff 42.5px,#003bff 44.5px,#0003ff 47.5px,#00b 50.5px,#00009e 52.5px,#000089 55.5px,#000080 61.5px,#000083 88.5px,#00008f 92.5px,#0000ad 95.5px,#0000bf 96.5px,#0000f0 98.5px,#0008ff 99.5px,#003eff 102.5px,#005bff 105.5px,#0090ff 116.5px,#00dbff 140.5px,#00f2ff 147.5px)"></i>
<i style="background:linear-gradient(90deg,#00e7ff 0.5px,#00baff 14.5px,#0086ff 31.5px,#0052ff 41.5px,#002fff 44.5px,#000dff 46.5px,#0000f7 47.5px,#0000b5 50.5px,#00009b 52.5px,#008 55.5px,#000080 62.5px,#000082 88.5px,#00008e 92.5px,#0000a9 95.5px,#0000cd 97.5px,#0000fc 99.5px,#0040ff 103.5px,#005aff 106.5px,#008fff 117.5px,#00d6ff 141.5px,#00ebff 147.5px)"></i>
<i style="background:linear-gradient(90deg,#00dfff 0.5px,#00b7ff 13.5px,#0089ff 29.5px,#0050ff 40.5px,#03f 43.5px,#0003ff 46.5px,#0000b0 50.5px,#000091 53.5px,#000083 57.5px,#000081 87.5px,#00008c 92.5px,#0000a5 95.5px,#0000c5 97.5px,#0000f1 99.5px,#0007ff 100.5px,#0035ff 103.5px,#0052ff 106.5px,#008dff 118.5px,#00d6ff 143.5px,#00e3ff 147.5px)"></i>
<i style="background:linear-gradient(90deg,#00d7ff 0.5px,#0086ff 28.5px,#004eff 39.5px,#0034ff 42.5px,#000bff 45.5px,#0000f7 46.5px,#0000bc 49.5px,#00009f 51.5px,#00008a 54.5px,#000080 60.5px,#000083 89.5px,#000090 93.5px,#0000a2 95.5px,#0000d2 98.5px,#0000fb 100.5px,#0036ff 104.5px,#0056ff 108.5px,#008eff 120.5px,#00d5ff 145.5px,#00dbff 147.5px)"></i>
<i style="background:linear-gradient(90deg,#00d0ff 0.5px,#08f 26.5px,#004bff 38.5px,#002aff 42.5px,#0001ff 45.5px,#0000a8 50.5px,#00008e 53.5px,#000081 58.5px,#000083 89.5px,#00008f 93.5px,#0000ab 96.5px,#0000f1 100.5px,#0004ff 101.5px,#002cff 104.5px,#0053ff 109.5px,#008fff 122.5px,#00d4ff 147.5px)"></i>
<i style="background:linear-gradient(90deg,#00c8ff 0.5px,#008aff 24.5px,#0048ff 37.5px,#0020ff 42.5px,#0007ff 44.5px,#0000f6 45.5px,#0000a4 50.5px,#00008c 53.5px,#000081 58.5px,#000082 89.5px,#00008d 93.5px,#0000a7 96.5px,#0000f9 101.5px,#0017ff 103.5px,#003cff 107.5px,#0063ff 114.5px,#008eff 123.5px,#0cf 147.5px)"></i>
<i style="background:linear-gradient(90deg,#00c3ff 0.5px,#0087ff 23.5px,#003eff 37.5px,#0017ff 42.5px,#0000fe 44.5px,#0000a1 50.5px,#00008b 53.5px,#000080 59.5px,#000083 90.5px,#000091 94.5px,#0000a3 96.5px,#0001ff 102.5px,#002bff 106.5px,#005bff 114.5px,#008eff 125.5px,#00c5ff 147.5px)"></i>
<i style="background:linear-gradient(90deg,#00bdff 0.5px,#0089ff 21.5px,#0034ff 37.5px,#000eff 42.5px,#0004ff 43.5px,#0000e9 45.5px,#00a 49.5px,#000094 51.5px,#000084 55.5px,#000080 79.5px,#000084 91.5px,#000096 95.5px,#00b 98.5px,#0000f9 102.5px,#0006ff 103.5px,#002fff 108.5px,#0065ff 118.5px,#008dff 126.5px,#00c0ff 147.5px)"></i>
<i style="background:linear-gradient(90deg,#00b8ff 0.5px,#008aff 19.5px,#002bff 37.5px,#0000fc 43.5px,#0000c3 47.5px,#00009a 50.5px,#008 53.5px,#000080 61.5px,#000082 90.5px,#00008d 94.5px,#00009c 96.5px,#0000f2 102.5px,#0000fe 103.5px,#002cff 109.5px,#008bff 127.5px,#0bf 147.5px)"></i>
<i style="background:linear-gradient(90deg,#00b3ff 0.5px,#0086ff 18.5px,#0009ff 41.5px,#00f 42.5px,#0000dc 45.5px,#0000a1 49.5px,#000090 51.5px,#000083 55.5px,#000081 89.5px,#00008b 94.5px,#009 96.5px,#0000d0 100.5px,#0000f7 103.5px,#0002ff 104.5px,#0032ff 112.5px,#008bff 129.5px,#00b6ff 147.5px)"></i>
<i style="background:linear-gradient(90deg,#00aeff 0.5px,#08f 16.5px,#0002ff 41.5px,#0000ef 43.5px,#00009e 49.5px,#000089 52.5px,#000080 59.5px,#000083 91.5px,#00008f 95.5px,#0000ac 98.5px,#0000e6 102.5px,#0000fb 104.5px,#0010ff 107.5px,#008cff 131.5px,#00b1ff 147.5px)"></i>
<i style="background:linear-gradient(90deg,#00a9ff 0.5px,#0089ff 14.5px,#001aff 35.5px,#0003ff 40.5px,#0000e9 43.5px,#00009a 49.5px,#008 52.5px,#000080 60.5px,#000082 91.5px,#00008d 95.5px,#0000a7 98.5px,#0000eb 103.5px,#0000fc 105.5px,#003dff 118.5px,#008dff 133.5px,#00acff 147.5px)"></i>
<i style="background:linear-gradient(90deg,#00a5ff 0.5px,#008aff 12.5px,#001dff 32.5px,#0002ff 39.5px,#0000ec 42.5px,#000097 49.5px,#000087 52.5px,#000080 62.5px,#000083 92.5px,#000090 96.5px,#0000af 99.5px,#00e 104.5px,#0003ff 107.5px,#0032ff 118.5px,#008bff 134.5px,#00a7ff 147.5px)"></i>
<i style="background:linear-gradient(90deg,#00a0ff 0.5px,#0085ff 11.5px,#001cff 30.5px,#00f 38.5px,#0000e3 42.5px,#00009c 48.5px,#000089 51.5px,#000080 58.5px,#000083 92.5px,#00008e 96.5px,#0000a9 99.5px,#0000e5 104.5px,#0000fb 107.5px,#0009ff 110.5px,#002cff 119.5px,#008bff 136.5px,#00a3ff 147.5px)"></i>
<i style="background:linear-gradient(90deg,#009cff 0.5px,#0086ff 9.5px,#001fff 27.5px,#0000fc 37.5px,#0000da 42.5px,#009 48.5px,#000087 51.5px,#000080 60.5px,#000083 93.5px,#000092 97.5px,#0000bc 101.5px,#0000e4 105.5px,#0000fd 109.5px,#0025ff 120.5px,#008bff 138.5px,#009fff 147.5px)"></i>
<i style="background:linear-gradient(90deg,#0098ff 0.5px,#0087ff 7.5px,#001eff 25.5px,#00f 34.5px,#0000da 41.5px,#000095 48.5px,#000086 51.5px,#000080 63.5px,#000083 93.5px,#000090 97.5px,#0000b5 101.5px,#0000dc 105.5px,#0000fc 111.5px,#0023ff 122.5px,#008cff 140.5px,#009bff 147.5px)"></i>
<i style="background:linear-gradient(90deg,#0094ff 0.5px,#08f 5.5px,#0020ff 22.5px,#0000fe 32.5px,#0000d8 40.5px,#0000ad 45.5px,#00008c 49.5px,#000081 54.5px,#000082 93.5px,#00008d 97.5px,#0000af 101.5px,#0000d9 106.5px,#0000fe 114.5px,#0021ff 124.5px,#0089ff 141.5px,#0096ff 147.5px)"></i>
<i style="background:linear-gradient(90deg,#0090ff 0.5px,#08f 3.5px,#0023ff 19.5px,#0000fe 29.5px,#0000d0 40.5px,#0000a8 45.5px,#00008a 49.5px,#000081 54.5px,#000083 94.5px,#000091 98.5px,#0000cb 105.5px,#00f 117.5px,#0024ff 127.5px,#008aff 143.5px,#0092ff 147.5px)"></i>
<i style="background:linear-gradient(90deg,#008cff 0.5px,#0081ff 2.5px,#0020ff 17.5px,#00f 26.5px,#0000c1 41.5px,#00008d 48.5px,#000082 52.5px,#000082 94.5px,#00008e 98.5px,#0000c8 106.5px,#00f 120.5px,#0021ff 129.5px,#008aff 145.5px,#008eff 147.5px)"></i>
<i style="background:linear-gradient(90deg,#0081ff 0.5px,#02f 14.5px,#00f 23.5px,#0000be 40.5px,#00008a 48.5px,#000081 53.5px,#000082 95.5px,#000090 99.5px,#0000c4 107.5px,#00f 123.5px,#0023ff 132.5px,#008aff 147.5px)"></i>
<i style="background:linear-gradient(90deg,#0071ff 0.5px,#001eff 12.5px,#0000fe 20.5px,#0000c7 35.5px,#0000a2 43.5px,#000087 48.5px,#000080 55.5px,#000082 96.5px,#000097 101.5px,#0000c1 109.5px,#0000fa 125.5px,#0007ff 128.5px,#0026ff 135.5px,#007aff 147.5px)"></i>
<i style="background:linear-gradient(90deg,#0061ff 0.5px,#001bff 10.5px,#0000fd 17.5px,#00c 30.5px,#009 43.5px,#000082 49.5px,#000082 97.5px,#00009a 103.5px,#00c 116.5px,#0000f9 128.5px,#0006ff 131.5px,#0028ff 138.5px,#0069ff 147.5px)"></i>
<i style="background:linear-gradient(90deg,#004eff 0.5px,#001cff 7.5px,#0001ff 13.5px,#0000cf 25.5px,#000081 48.5px,#000082 98.5px,#0000ed 129.5px,#0001ff 133.5px,#0023ff 140.5px,#0059ff 147.5px)"></i>
<i style="background:linear-gradient(90deg,#0039ff 0.5px,#01f 6.5px,#0000fd 10.5px,#0000d1 20.5px,#000080 46.5px,#000081 100.5px,#0000d2 126.5px,#00f 136.5px,#0024ff 143.5px,#0043ff 147.5px)"></i>
<i style="background:linear-gradient(90deg,#0024ff 0.5px,#0001ff 6.5px,#0000d0 16.5px,#000090 36.5px,#000080 43.5px,#000081 104.5px,#0000be 125.5px,#0000f0 137.5px,#0002ff 140.5px,#0025ff 146.5px,#002dff 147.5px)"></i>
<i style="background:linear-gradient(90deg,#000fff 0.5px,#0000fc 3.5px,#0000d2 11.5px,#000097 28.5px,#000080 38.5px,#000081 109.5px,#0000b7 128.5px,#0000eb 140.5px,#0000fd 143.5px,#0017ff 147.5px)"></i>
</div>
<div class="ax" style="left:532px;top:187.5px;width:1px;height:139.5px"></div>
<div class="ax" style="left:532px;top:326px;width:148.9px;height:1px"></div>
<div class="ax" style="left:533.2px;top:324.9px;width:1px;height:3px"></div>
<div class="tl" style="left:522.7px;top:328.7px;width:20px;text-align:center">-80</div>
<div class="ax" style="left:551.4px;top:324.9px;width:1px;height:3px"></div>
<div class="tl" style="left:540.9px;top:328.7px;width:20px;text-align:center">-60</div>
<div class="ax" style="left:569.5px;top:324.9px;width:1px;height:3px"></div>
<div class="tl" style="left:559.0px;top:328.7px;width:20px;text-align:center">-40</div>
<div class="ax" style="left:587.7px;top:324.9px;width:1px;height:3px"></div>
<div class="tl" style="left:577.2px;top:328.7px;width:20px;text-align:center">-20</div>
<div class="ax" style="left:605.9px;top:324.9px;width:1px;height:3px"></div>
<div class="tl" style="left:595.4px;top:328.7px;width:20px;text-align:center">0</div>
<div class="ax" style="left:624.1px;top:324.9px;width:1px;height:3px"></div>
<div class="tl" style="left:613.6px;top:328.7px;width:20px;text-align:center">20</div>
<div class="ax" style="left:642.3px;top:324.9px;width:1px;height:3px"></div>
<div class="tl" style="left:631.8px;top:328.7px;width:20px;text-align:center">40</div>
<div class="ax" style="left:660.4px;top:324.9px;width:1px;height:3px"></div>
<div class="tl" style="left:649.9px;top:328.7px;width:20px;text-align:center">60</div>
<div class="ax" style="left:678.6px;top:324.9px;width:1px;height:3px"></div>
<div class="tl" style="left:668.1px;top:328.7px;width:20px;text-align:center">80</div>
<div class="ax" style="left:530.8px;top:318.8px;width:3px;height:1px"></div>
<div class="tl" style="left:509.6px;top:316.1px;width:20px;text-align:right">-60</div>
<div class="ax" style="left:530.8px;top:292.3px;width:3px;height:1px"></div>
<div class="tl" style="left:509.6px;top:289.6px;width:20px;text-align:right">-40</div>
<div class="ax" style="left:530.8px;top:265.8px;width:3px;height:1px"></div>
<div class="tl" style="left:509.6px;top:263.1px;width:20px;text-align:right">-20</div>
<div class="ax" style="left:530.8px;top:239.2px;width:3px;height:1px"></div>
<div class="tl" style="left:509.6px;top:236.5px;width:20px;text-align:right">0</div>
<div class="ax" style="left:530.8px;top:212.6px;width:3px;height:1px"></div>
<div class="tl" style="left:509.6px;top:209.9px;width:20px;text-align:right">20</div>
<div class="al" style="left:563.4px;top:339.9px;width:80px;text-align:center">x(m) (x10^-9)</div>
<div class="al yl" style="left:471.7px;top:255.8px;width:80px;text-align:center">y(m) (x10^-9)</div>
<div class="tt" style="left:476.3px;top:197.4px;transform:scaleX(0.95)">Hz</div>
<div class="p" style="left:58.5px;top:367.2px;width:143.3px;height:134.6px">
<i style="background:linear-gradient(90deg,#7fff80 0.5px,#80ff7f 143.5px)"></i>
<i style="background:linear-gradient(90deg,#7fff80 0.5px,#80ff7f 143.5px)"></i>
<i style="background:linear-gradient(90deg,#7fff80 0.5px,#80ff7f 143.5px)"></i>
<i style="background:linear-gradient(90deg,#7fff80 0.5px,#81ff7e 93.5px,#80ff7f 143.5px)"></i>
<i style="background:linear-gradient(90deg,#7fff80 0.5px,#81ff7e 89.5px,#80ff7f 143.5px)"></i>
<i style="background:linear-gradient(90deg,#7fff80 0.5px,#81ff7e 86.5px,#80ff7f 143.5px)"></i>
<i style="background:linear-gradient(90deg,#7fff80 0.5px,#80ff7f 83.5px,#80ff7f 143.5px)"></i>
<i style="background:linear-gradient(90deg,#7fff80 0.5px,#80ff7f 80.5px,#80ff7f 143.5px)"></i>
<i style="background:linear-gradient(90deg,#7fff80 0.5px,#80ff7f 74.5px,#80ff7f 143.5px)"></i>
<i style="background:linear-gradient(90deg,#7fff80 0.5px,#7fff80 67.5px,#80ff7f 114.5px,#80ff7f 143.5px)"></i>
<i style="background:linear-gradient(90deg,#7fff80 0.5px,#7fff80 63.5px,#80ff7f 110.5px,#80ff7f 143.5px)"></i>
<i style="background:linear-gradient(90deg,#7fff80 0.5px,#7fff80 61.5px,#81ff7e 107.5px,#80ff7f 143.5px)"></i>
<i style="background:linear-gradient(90deg,#7fff80 0.5px,#7eff81 59.5px,#81ff7e 106.5px,#80ff7f 143.5px)"></i>
<i style="background:linear-gradient(90deg,#7fff80 0.5px,#7eff81 58.5px,#82ff7d 104.5px,#80ff7f 143.5px)"></i>
<i style="background:linear-gradient(90deg,#7fff80 0.5px,#7eff81 57.5px,#82ff7d 103.5px,#80ff7f 143.5px)"></i>
<i style="background:linear-gradient(90deg,#7fff80 0.5px,#7dff82 56.5px,#82ff7d 102.5px,#80ff7f 143.5px)"></i>
<i style="background:linear-gradient(90deg,#7fff80 0.5px,#7dff82 55.5px,#83ff7c 102.5px,#80ff7f 143.5px)"></i>
<i style="background:linear-gradient(90deg,#7fff80 0.5px,#7dff82 55.5px,#83ff7c 101.5px,#80ff7f 143.5px)"></i>
<i style="background:linear-gradient(90deg,#7fff80 0.5px,#7aff85 44.5px,#84ff7b 100.5px,#80ff7f 143.5px)"></i>
<i style="background:linear-gradient(90deg,#7fff80 0.5px,#7bff84 43.5px,#84ff7b 100.5px,#80ff7f 143.5px)"></i>
<i style="background:linear-gradient(90deg,#7fff80 0.5px,#7bff84 42.5px,#7eff81 59.5px,#84ff7b 100.5px,#80ff7f 143.5px)"></i>
<i style="background:linear-gradient(90deg,#7fff80 0.5px,#7bff84 42.5px,#7cff83 56.5px,#85ff7a 99.5px,#80ff7f 135.5px,#80ff7f 143.5px)"></i>
<i style="background:linear-gradient(90deg,#7fff80 0.5px,#7bff84 41.5px,#7aff85 53.5px,#86ff79 98.5px,#80ff7f 128.5px,#80ff7f 143.5px)"></i>
<i style="background:linear-gradient(90deg,#7fff80 0.5px,#7bff84 41.5px,#7aff85 53.5px,#86ff79 98.5px,#80ff7f 125.5px,#80ff7f 143.5px)"></i>
<i style="background:linear-gradient(90deg,#80ff7f 0.5px,#7bff84 41.5px,#78ff87 52.5px,#87ff78 97.5px,#80ff7f 121.5px,#7fff80 143.5px)"></i>
<i style="background:linear-gradient(90deg,#80ff7f 0.5px,#7bff84 40.5px,#7f8 51.5px,#80ff7f 75.5px,#8f7 97.5px,#80ff7f 119.5px,#7fff80 143.5px)"></i>
<i style="background:linear-gradient(90deg,#80ff7f 0.5px,#7bff84 40.5px,#76ff89 51.5px,#80ff7f 72.5px,#8f7 97.5px,#80ff7f 118.5px,#7fff80 143.5px)"></i>
<i style="background:linear-gradient(90deg,#80ff7f 0.5px,#7bff84 40.5px,#76ff89 51.5px,#7fff80 71.5px,#89ff76 91.5px,#80ff7f 122.5px,#7fff80 143.5px)"></i>
<i style="background:linear-gradient(90deg,#80ff7f 0.5px,#7bff84 40.5px,#74ff8b 50.5px,#7fff80 69.5px,#8f7 89.5px,#89ff76 97.5px,#80ff7f 115.5px,#7fff80 143.5px)"></i>
<i style="background:linear-gradient(90deg,#80ff7f 0.5px,#7bff84 40.5px,#73ff8c 50.5px,#7fff80 67.5px,#87ff78 88.5px,#8bff74 96.5px,#80ff7f 113.5px,#7fff80 143.5px)"></i>
<i style="background:linear-gradient(90deg,#80ff7f 0.5px,#7bff84 39.5px,#73ff8c 50.5px,#7fff80 66.5px,#87ff78 87.5px,#8cff73 95.5px,#80ff7f 111.5px,#7fff80 143.5px)"></i>
<i style="background:linear-gradient(90deg,#80ff7f 0.5px,#7bff84 39.5px,#72ff8d 50.5px,#7fff80 65.5px,#87ff78 87.5px,#8dff72 95.5px,#80ff7f 110.5px,#7fff80 143.5px)"></i>
<i style="background:linear-gradient(90deg,#80ff7f 0.5px,#7bff84 39.5px,#70ff8f 50.5px,#7fff80 65.5px,#86ff79 86.5px,#8fff70 94.5px,#81ff7e 109.5px,#7fff80 143.5px)"></i>
<i style="background:linear-gradient(90deg,#80ff7f 0.5px,#7bff84 39.5px,#6fff90 50.5px,#7eff81 64.5px,#87ff78 86.5px,#90ff6f 94.5px,#81ff7e 108.5px,#7fff80 143.5px)"></i>
<i style="background:linear-gradient(90deg,#80ff7f 0.5px,#7bff84 39.5px,#6eff91 50.5px,#7eff81 63.5px,#87ff78 86.5px,#91ff6e 94.5px,#81ff7e 107.5px,#7fff80 143.5px)"></i>
<i style="background:linear-gradient(90deg,#80ff7f 0.5px,#7bff84 39.5px,#6cff93 50.5px,#7dff82 62.5px,#86ff79 85.5px,#93ff6c 94.5px,#82ff7d 106.5px,#7fff80 143.5px)"></i>
<i style="background:linear-gradient(90deg,#80ff7f 0.5px,#7bff84 39.5px,#6aff95 50.5px,#7dff82 61.5px,#86ff79 85.5px,#95ff6a 93.5px,#82ff7d 105.5px,#7fff80 143.5px)"></i>
<i style="background:linear-gradient(90deg,#80ff7f 0.5px,#7bff84 39.5px,#68ff97 50.5px,#7cff83 60.5px,#87ff78 85.5px,#98ff67 93.5px,#84ff7b 103.5px,#7fff80 143.5px)"></i>
<i style="background:linear-gradient(90deg,#80ff7f 0.5px,#7bff84 39.5px,#6bff94 47.5px,#65ff9a 50.5px,#79ff86 58.5px,#87ff78 85.5px,#9bff64 93.5px,#86ff79 101.5px,#80ff7f 122.5px,#7fff80 143.5px)"></i>
<i style="background:linear-gradient(90deg,#80ff7f 0.5px,#7bff84 39.5px,#6eff91 46.5px,#60ff9f 49.5px,#64ff9b 51.5px,#7f8 57.5px,#80ff7f 75.5px,#89ff76 86.5px,#9fff60 93.5px,#89ff76 99.5px,#80ff7f 112.5px,#7fff80 143.5px)"></i>
<i style="background:linear-gradient(90deg,#80ff7f 0.5px,#7bff84 39.5px,#6dff92 46.5px,#5bffa4 49.5px,#5affa5 50.5px,#70ff8f 54.5px,#7dff82 63.5px,#86ff79 84.5px,#98ff67 90.5px,#a5ff5a 92.5px,#9eff61 94.5px,#8cff73 98.5px,#81ff7e 108.5px,#7fff80 143.5px)"></i>
<i style="background:linear-gradient(90deg,#80ff7f 0.5px,#7bff84 39.5px,#6cff93 46.5px,#54ffab 49.5px,#52ffad 50.5px,#6bff94 53.5px,#7bff84 60.5px,#87ff78 84.5px,#94ff6b 89.5px,#adff52 92.5px,#abff54 93.5px,#93ff6c 96.5px,#84ff7b 103.5px,#7fff80 143.5px)"></i>
<i style="background:linear-gradient(90deg,#80ff7f 0.5px,#7bff84 39.5px,#6cff93 46.5px,#5affa5 48.5px,#4cffb3 49.5px,#48ffb7 50.5px,#69ff96 53.5px,#7aff85 59.5px,#87ff78 84.5px,#96ff69 89.5px,#b7ff48 92.5px,#b3ff4c 93.5px,#9f6 95.5px,#8aff75 99.5px,#80ff7f 111.5px,#7fff80 143.5px)"></i>
<i style="background:linear-gradient(90deg,#80ff7f 0.5px,#7bff84 39.5px,#6cff93 46.5px,#64ff9b 47.5px,#4fb 49.5px,#3cffc3 50.5px,#47ffb8 51.5px,#5affa5 52.5px,#67ff98 53.5px,#76ff89 57.5px,#7fff80 70.5px,#87ff78 84.5px,#92ff6d 88.5px,#98ff67 89.5px,#a5ff5a 90.5px,#b8ff47 91.5px,#c3ff3c 92.5px,#bf4 93.5px,#9bff64 95.5px,#8cff73 98.5px,#81ff7e 108.5px,#7fff80 143.5px)"></i>
<i style="background:linear-gradient(90deg,#80ff7f 0.5px,#7cff83 39.5px,#70ff8f 45.5px,#64ff9b 47.5px,#53ffac 48.5px,#3bffc4 49.5px,#2effd1 50.5px,#3bffc4 51.5px,#53ffac 52.5px,#64ff9b 53.5px,#73ff8c 56.5px,#7eff81 66.5px,#87ff78 84.5px,#93ff6c 88.5px,#9bff64 89.5px,#acff53 90.5px,#c4ff3b 91.5px,#d1ff2e 92.5px,#c4ff3b 93.5px,#acff53 94.5px,#9bff64 95.5px,#8cff73 98.5px,#81ff7e 108.5px,#7fff80 143.5px)"></i>
<i style="background:linear-gradient(90deg,#80ff7f 0.5px,#7cff83 39.5px,#70ff8f 45.5px,#63ff9c 47.5px,#50ffaf 48.5px,#3fc 49.5px,#20ffdf 50.5px,#2effd1 51.5px,#4cffb3 52.5px,#61ff9e 53.5px,#70ff8f 55.5px,#7dff82 63.5px,#87ff78 84.5px,#94ff6b 88.5px,#9eff61 89.5px,#b3ff4c 90.5px,#d1ff2e 91.5px,#dfff20 92.5px,#cf3 93.5px,#afff50 94.5px,#9cff63 95.5px,#8fff70 97.5px,#82ff7d 105.5px,#7fff80 143.5px)"></i>
<i style="background:linear-gradient(90deg,#80ff7f 0.5px,#7cff83 39.5px,#70ff8f 45.5px,#63ff9c 47.5px,#4fffb0 48.5px,#2dffd2 49.5px,#14ffeb 50.5px,#21ffde 51.5px,#45ffba 52.5px,#5fffa0 53.5px,#6bff94 54.5px,#7aff85 59.5px,#87ff78 84.5px,#94ff6b 88.5px,#a0ff5f 89.5px,#baff45 90.5px,#deff21 91.5px,#ebff14 92.5px,#d2ff2d 93.5px,#b0ff4f 94.5px,#9cff63 95.5px,#8fff70 97.5px,#82ff7d 105.5px,#7fff80 143.5px)"></i>
<i style="background:linear-gradient(90deg,#80ff7f 0.5px,#7cff83 39.5px,#71ff8e 45.5px,#64ff9b 47.5px,#4fffb0 48.5px,#0bfff4 50.5px,#17ffe8 51.5px,#3fffc0 52.5px,#5effa1 53.5px,#6cff93 54.5px,#79ff86 58.5px,#86ff79 84.5px,#93ff6c 88.5px,#a1ff5e 89.5px,#c0ff3f 90.5px,#e8ff17 91.5px,#f4ff0b 92.5px,#b0ff4f 94.5px,#9bff64 95.5px,#8eff71 97.5px,#82ff7d 105.5px,#7fff80 143.5px)"></i>
<i style="background:linear-gradient(90deg,#80ff7f 0.5px,#7cff83 39.5px,#71ff8e 45.5px,#65ff9a 47.5px,#51ffae 48.5px,#08fff7 50.5px,#12ffed 51.5px,#3effc1 52.5px,#60ff9f 53.5px,#6fff90 54.5px,#7cff83 58.5px,#85ff7a 85.5px,#90ff6f 88.5px,#9fff60 89.5px,#c1ff3e 90.5px,#edff12 91.5px,#f7ff08 92.5px,#aeff51 94.5px,#9aff65 95.5px,#8bff74 98.5px,#80ff7f 108.5px,#7fff80 143.5px)"></i>
<i style="background:linear-gradient(90deg,#80ff7f 0.5px,#7cff83 39.5px,#6dff92 46.5px,#6f9 47.5px,#54ffab 48.5px,#0dfff2 50.5px,#16ffe9 51.5px,#43ffbc 52.5px,#67ff98 53.5px,#7f8 54.5px,#80ff7f 58.5px,#81ff7e 86.5px,#8f7 88.5px,#98ff67 89.5px,#bcff43 90.5px,#e9ff16 91.5px,#f2ff0d 92.5px,#abff54 94.5px,#9f6 95.5px,#8bff74 98.5px,#80ff7f 108.5px,#7fff80 143.5px)"></i>
<i style="background:linear-gradient(90deg,#80ff7f 0.5px,#7cff83 40.5px,#6fff90 46.5px,#69ff96 47.5px,#5cffa3 48.5px,#2fffd0 50.5px,#3affc5 51.5px,#5cffa3 52.5px,#78ff87 53.5px,#83ff7c 54.5px,#86ff79 58.5px,#79ff86 87.5px,#7cff83 88.5px,#87ff78 89.5px,#a3ff5c 90.5px,#c5ff3a 91.5px,#d0ff2f 92.5px,#a3ff5c 94.5px,#96ff69 95.5px,#86ff79 100.5px,#7fff80 118.5px,#7fff80 143.5px)"></i>
<i style="background:linear-gradient(90deg,#80ff7f 0.5px,#7cff83 40.5px,#6dff92 47.5px,#5bffa4 50.5px,#68ff97 51.5px,#7dff82 52.5px,#8cff73 53.5px,#91ff6e 55.5px,#81ff7e 69.5px,#72ff8d 84.5px,#6eff91 88.5px,#73ff8c 89.5px,#82ff7d 90.5px,#97ff68 91.5px,#a4ff5b 92.5px,#8cff73 97.5px,#80ff7f 107.5px,#7fff80 143.5px)"></i>
<i style="background:linear-gradient(90deg,#80ff7f 0.5px,#7cff83 40.5px,#6eff91 49.5px,#73ff8c 50.5px,#90ff6f 52.5px,#9f6 53.5px,#9f6 56.5px,#86ff79 64.5px,#72ff8d 82.5px,#64ff9b 88.5px,#6f9 89.5px,#7eff81 91.5px,#8cff73 92.5px,#91ff6e 94.5px,#81ff7e 104.5px,#7fff80 143.5px)"></i>
<i style="background:linear-gradient(90deg,#80ff7f 0.5px,#7cff83 41.5px,#73ff8c 48.5px,#75ff8a 49.5px,#8cff73 51.5px,#a0ff5f 53.5px,#9eff61 56.5px,#8f7 64.5px,#6fff90 82.5px,#5effa1 88.5px,#6f9 90.5px,#81ff7e 92.5px,#8aff75 93.5px,#8f7 97.5px,#7fff80 111.5px,#7fff80 143.5px)"></i>
<i style="background:linear-gradient(90deg,#80ff7f 0.5px,#7dff82 41.5px,#76ff89 48.5px,#7aff85 49.5px,#9eff61 52.5px,#a5ff5a 54.5px,#8f7 64.5px,#71ff8e 81.5px,#5affa5 88.5px,#61ff9e 90.5px,#85ff7a 93.5px,#8f7 96.5px,#7fff80 112.5px,#7fff80 143.5px)"></i>
<i style="background:linear-gradient(90deg,#80ff7f 0.5px,#7dff82 42.5px,#79ff86 48.5px,#7eff81 49.5px,#a1ff5e 52.5px,#a7ff58 54.5px,#89ff76 64.5px,#70ff8f 81.5px,#58ffa7 88.5px,#5effa1 90.5px,#81ff7e 93.5px,#86ff79 96.5px,#7eff81 117.5px,#7fff80 143.5px)"></i>
<i style="background:linear-gradient(90deg,#80ff7f 0.5px,#7dff82 43.5px,#7cff83 48.5px,#8aff75 50.5px,#a2ff5d 52.5px,#a8ff57 54.5px,#89ff76 64.5px,#70ff8f 81.5px,#57ffa8 88.5px,#5dffa2 90.5px,#7fff80 93.5px,#84ff7b 96.5px,#7eff81 124.5px,#7fff80 143.5px)"></i>
<i style="background:linear-gradient(90deg,#80ff7f 0.5px,#7dff82 45.5px,#82ff7d 49.5px,#a2ff5d 52.5px,#a9ff56 54.5px,#97ff68 59.5px,#87ff78 65.5px,#6fff90 81.5px,#57ffa8 87.5px,#57ffa8 89.5px,#67ff98 91.5px,#7dff82 93.5px,#82ff7d 97.5px,#7fff80 143.5px)"></i>
<i style="background:linear-gradient(90deg,#81ff7e 0.5px,#7fff80 48.5px,#8dff72 50.5px,#a3ff5c 52.5px,#af5 54.5px,#98ff67 59.5px,#87ff78 65.5px,#6fff90 81.5px,#56ffa9 87.5px,#57ffa8 89.5px,#6f9 91.5px,#7cff83 93.5px,#81ff7e 97.5px,#7eff81 143.5px)"></i>
<i style="background:linear-gradient(90deg,#81ff7e 0.5px,#81ff7e 48.5px,#8eff71 50.5px,#a4ff5b 52.5px,#af5 54.5px,#9dff62 58.5px,#89ff76 64.5px,#6fff90 81.5px,#56ffa9 87.5px,#56ffa9 89.5px,#65ff9a 91.5px,#7aff85 93.5px,#7fff80 97.5px,#7eff81 143.5px)"></i>
<i style="background:linear-gradient(90deg,#81ff7e 0.5px,#82ff7d 48.5px,#8fff70 50.5px,#a5ff5a 52.5px,#abff54 54.5px,#9dff62 58.5px,#8bff74 63.5px,#6fff90 81.5px,#5fa 87.5px,#5fa 89.5px,#64ff9b 91.5px,#79ff86 93.5px,#7eff81 98.5px,#7eff81 143.5px)"></i>
<i style="background:linear-gradient(90deg,#81ff7e 0.5px,#83ff7c 48.5px,#90ff6f 50.5px,#a6ff59 52.5px,#acff53 54.5px,#9dff62 58.5px,#8bff74 63.5px,#6fff90 81.5px,#5fa 87.5px,#5fa 89.5px,#63ff9c 91.5px,#78ff87 93.5px,#7dff82 98.5px,#7eff81 143.5px)"></i>
<i style="background:linear-gradient(90deg,#81ff7e 0.5px,#84ff7b 48.5px,#91ff6e 50.5px,#a6ff59 52.5px,#acff53 54.5px,#9eff61 58.5px,#8bff74 63.5px,#6fff90 81.5px,#54ffab 87.5px,#54ffab 89.5px,#62ff9d 91.5px,#7f8 93.5px,#7cff83 98.5px,#7eff81 143.5px)"></i>
<i style="background:linear-gradient(90deg,#82ff7d 0.5px,#85ff7a 48.5px,#92ff6d 50.5px,#a7ff58 52.5px,#abff54 55.5px,#8bff74 63.5px,#6fff90 81.5px,#54ffab 87.5px,#58ffa7 90.5px,#76ff89 93.5px,#7bff84 99.5px,#7dff82 143.5px)"></i>
<i style="background:linear-gradient(90deg,#82ff7d 0.5px,#86ff79 48.5px,#93ff6c 50.5px,#a8ff57 52.5px,#acff53 55.5px,#8bff74 63.5px,#6fff90 81.5px,#53ffac 87.5px,#57ffa8 90.5px,#75ff8a 93.5px,#7aff85 99.5px,#7dff82 143.5px)"></i>
<i style="background:linear-gradient(90deg,#82ff7d 0.5px,#87ff78 48.5px,#93ff6c 50.5px,#a9ff56 52.5px,#acff53 55.5px,#8bff74 63.5px,#6eff91 81.5px,#53ffac 87.5px,#56ffa9 90.5px,#74ff8b 93.5px,#79ff86 100.5px,#7dff82 143.5px)"></i>
<i style="background:linear-gradient(90deg,#83ff7c 0.5px,#89ff76 48.5px,#94ff6b 50.5px,#af5 52.5px,#adff52 55.5px,#8bff74 63.5px,#6eff91 81.5px,#52ffad 87.5px,#5fa 90.5px,#73ff8c 93.5px,#78ff87 101.5px,#7cff83 143.5px)"></i>
<i style="background:linear-gradient(90deg,#83ff7c 0.5px,#8aff75 48.5px,#95ff6a 50.5px,#abff54 52.5px,#aeff51 55.5px,#8eff71 62.5px,#6eff91 81.5px,#51ffae 87.5px,#54ffab 90.5px,#72ff8d 93.5px,#7f8 103.5px,#7cff83 143.5px)"></i>
<i style="background:linear-gradient(90deg,#83ff7c 0.5px,#8bff74 48.5px,#97ff68 50.5px,#acff53 52.5px,#aeff51 55.5px,#8eff71 62.5px,#6eff91 81.5px,#51ffae 87.5px,#53ffac 90.5px,#71ff8e 93.5px,#7f8 107.5px,#7cff83 143.5px)"></i>
<i style="background:linear-gradient(90deg,#84ff7b 0.5px,#8cff73 48.5px,#98ff67 50.5px,#adff52 52.5px,#afff50 55.5px,#8eff71 62.5px,#6eff91 81.5px,#50ffaf 87.5px,#52ffad 90.5px,#70ff8f 93.5px,#78ff87 118.5px,#7bff84 143.5px)"></i>
<i style="background:linear-gradient(90deg,#85ff7a 0.5px,#91ff6e 49.5px,#aeff51 52.5px,#afff50 55.5px,#8eff71 62.5px,#6eff91 81.5px,#50ffaf 87.5px,#51ffae 90.5px,#6eff91 93.5px,#7bff84 143.5px)"></i>
<i style="background:linear-gradient(90deg,#85ff7a 0.5px,#92ff6d 49.5px,#afff50 52.5px,#b0ff4f 55.5px,#8eff71 62.5px,#71ff8e 80.5px,#4fffb0 87.5px,#50ffaf 90.5px,#6dff92 93.5px,#7aff85 143.5px)"></i>
<i style="background:linear-gradient(90deg,#86ff79 0.5px,#93ff6c 49.5px,#b0ff4f 52.5px,#b1ff4e 55.5px,#8eff71 62.5px,#71ff8e 80.5px,#4effb1 87.5px,#4fffb0 90.5px,#6cff93 93.5px,#79ff86 143.5px)"></i>
<i style="background:linear-gradient(90deg,#86ff79 0.5px,#95ff6a 49.5px,#b1ff4e 52.5px,#b1ff4e 55.5px,#8eff71 62.5px,#71ff8e 80.5px,#4effb1 87.5px,#4effb1 90.5px,#6aff95 93.5px,#79ff86 143.5px)"></i>
<i style="background:linear-gradient(90deg,#87ff78 0.5px,#96ff69 49.5px,#b2ff4d 52.5px,#b2ff4d 55.5px,#8eff71 62.5px,#71ff8e 80.5px,#4dffb2 87.5px,#4dffb2 90.5px,#69ff96 93.5px,#78ff87 143.5px)"></i>
<i style="background:linear-gradient(90deg,#8f7 0.5px,#98ff67 49.5px,#b4ff4b 52.5px,#b2ff4d 55.5px,#8eff71 62.5px,#71ff8e 80.5px,#4dffb2 87.5px,#4bffb4 90.5px,#67ff98 93.5px,#7f8 143.5px)"></i>
<i style="background:linear-gradient(90deg,#89ff76 0.5px,#9aff65 49.5px,#b5ff4a 52.5px,#b3ff4c 55.5px,#8eff71 62.5px,#71ff8e 80.5px,#4cffb3 87.5px,#4affb5 90.5px,#51ffae 91.5px,#65ff9a 93.5px,#7f8 143.5px)"></i>
<i style="background:linear-gradient(90deg,#89ff76 0.5px,#9cff63 49.5px,#b6ff49 52.5px,#b4ff4b 55.5px,#8eff71 62.5px,#71ff8e 80.5px,#4bffb4 87.5px,#49ffb6 90.5px,#4fffb0 91.5px,#63ff9c 93.5px,#76ff89 143.5px)"></i>
<i style="background:linear-gradient(90deg,#8aff75 0.5px,#9eff61 49.5px,#b8ff47 52.5px,#b4ff4b 55.5px,#8eff71 62.5px,#71ff8e 80.5px,#4bffb4 87.5px,#47ffb8 90.5px,#4dffb2 91.5px,#61ff9e 93.5px,#75ff8a 143.5px)"></i>
<i style="background:linear-gradient(90deg,#8bff74 0.5px,#a0ff5f 49.5px,#b9ff46 52.5px,#b0ff4f 56.5px,#8eff71 62.5px,#71ff8e 80.5px,#4affb5 87.5px,#46ffb9 90.5px,#4bffb4 91.5px,#5fffa0 93.5px,#74ff8b 143.5px)"></i>
<i style="background:linear-gradient(90deg,#8cff73 0.5px,#a2ff5d 49.5px,#b5ff4a 51.5px,#bf4 52.5px,#b1ff4e 56.5px,#8eff71 62.5px,#71ff8e 80.5px,#47ffb8 88.5px,#4fb 90.5px,#4affb5 91.5px,#5dffa2 93.5px,#73ff8c 143.5px)"></i>
<i style="background:linear-gradient(90deg,#8dff72 0.5px,#a4ff5b 49.5px,#abff54 50.5px,#b7ff48 51.5px,#bcff43 52.5px,#b1ff4e 56.5px,#8fff70 62.5px,#70ff8f 80.5px,#46ffb9 88.5px,#43ffbc 90.5px,#48ffb7 91.5px,#54ffab 92.5px,#5bffa4 94.5px,#72ff8d 143.5px)"></i>
<i style="background:linear-gradient(90deg,#8eff71 0.5px,#a7ff58 49.5px,#adff52 50.5px,#b9ff46 51.5px,#beff41 52.5px,#b2ff4d 56.5px,#8fff70 62.5px,#70ff8f 80.5px,#45ffba 88.5px,#41ffbe 90.5px,#46ffb9 91.5px,#52ffad 92.5px,#58ffa7 93.5px,#60ff9f 109.5px,#71ff8e 143.5px)"></i>
<i style="background:linear-gradient(90deg,#8fff70 0.5px,#a8ff57 42.5px,#a9ff56 49.5px,#afff50 50.5px,#bf4 51.5px,#bfff40 52.5px,#b2ff4d 56.5px,#8fff70 62.5px,#70ff8f 80.5px,#45ffba 88.5px,#40ffbf 90.5px,#4fb 91.5px,#50ffaf 92.5px,#56ffa9 93.5px,#5affa5 104.5px,#70ff8f 143.5px)"></i>
<i style="background:linear-gradient(90deg,#90ff6f 0.5px,#af5 41.5px,#abff54 49.5px,#b1ff4e 50.5px,#bdff42 51.5px,#c1ff3e 52.5px,#b3ff4c 56.5px,#8fff70 62.5px,#70ff8f 80.5px,#4fb 88.5px,#3effc1 90.5px,#42ffbd 91.5px,#4effb1 92.5px,#54ffab 93.5px,#56ffa9 102.5px,#6fff90 143.5px)"></i>
<i style="background:linear-gradient(90deg,#92ff6d 0.5px,#acff53 40.5px,#afff50 48.5px,#aeff51 49.5px,#b3ff4c 50.5px,#c0ff3f 51.5px,#c2ff3d 52.5px,#b3ff4c 56.5px,#8fff70 62.5px,#70ff8f 80.5px,#43ffbc 88.5px,#3dffc2 90.5px,#3fffc0 91.5px,#4cffb3 92.5px,#51ffae 93.5px,#51ffae 100.5px,#6cff93 139.5px,#6eff91 143.5px)"></i>
<i style="background:linear-gradient(90deg,#93ff6c 0.5px,#aeff51 39.5px,#b3ff4c 47.5px,#b0ff4f 49.5px,#b6ff49 50.5px,#c2ff3d 51.5px,#c4ff3b 52.5px,#adff52 57.5px,#8fff70 62.5px,#70ff8f 80.5px,#42ffbd 88.5px,#3bffc4 90.5px,#3dffc2 91.5px,#49ffb6 92.5px,#4fffb0 93.5px,#4dffb2 99.5px,#6aff95 137.5px,#6dff92 143.5px)"></i>
<i style="background:linear-gradient(90deg,#94ff6b 0.5px,#afff50 38.5px,#b6ff49 47.5px,#b3ff4c 49.5px,#b8ff47 50.5px,#c4ff3b 51.5px,#c6ff39 52.5px,#aeff51 57.5px,#8fff70 62.5px,#70ff8f 80.5px,#42ffbd 88.5px,#39ffc6 90.5px,#3bffc4 91.5px,#47ffb8 92.5px,#4cffb3 93.5px,#4affb5 99.5px,#68ff97 135.5px,#6cff93 143.5px)"></i>
<i style="background:linear-gradient(90deg,#95ff6a 0.5px,#b1ff4e 37.5px,#b9ff46 47.5px,#b5ff4a 49.5px,#baff45 50.5px,#c6ff39 51.5px,#c7ff38 52.5px,#aeff51 57.5px,#8fff70 62.5px,#70ff8f 80.5px,#51ffae 85.5px,#38ffc7 90.5px,#39ffc6 91.5px,#45ffba 92.5px,#4affb5 93.5px,#46ffb9 98.5px,#6f9 134.5px,#6bff94 143.5px)"></i>
<i style="background:linear-gradient(90deg,#96ff69 0.5px,#b2ff4d 36.5px,#bcff43 47.5px,#b8ff47 49.5px,#bcff43 50.5px,#c8ff37 51.5px,#c9ff36 52.5px,#afff50 57.5px,#8fff70 62.5px,#70ff8f 80.5px,#50ffaf 85.5px,#36ffc9 90.5px,#37ffc8 91.5px,#43ffbc 92.5px,#47ffb8 93.5px,#4fb 98.5px,#64ff9b 133.5px,#6aff95 143.5px)"></i>
<i style="background:linear-gradient(90deg,#97ff68 0.5px,#b4ff4b 36.5px,#beff41 47.5px,#baff45 49.5px,#beff41 50.5px,#caff35 51.5px,#caff35 52.5px,#afff50 57.5px,#8fff70 62.5px,#70ff8f 80.5px,#50ffaf 85.5px,#35ffca 90.5px,#35ffca 91.5px,#41ffbe 92.5px,#45ffba 93.5px,#41ffbe 98.5px,#62ff9d 132.5px,#69ff96 143.5px)"></i>
<i style="background:linear-gradient(90deg,#98ff67 0.5px,#b5ff4a 35.5px,#c1ff3e 47.5px,#bcff43 49.5px,#c0ff3f 50.5px,#cf3 51.5px,#cf3 52.5px,#a8ff57 58.5px,#8fff70 62.5px,#70ff8f 80.5px,#50ffaf 85.5px,#3fc 90.5px,#3fc 91.5px,#3fffc0 92.5px,#43ffbc 93.5px,#3effc1 98.5px,#60ff9f 131.5px,#68ff97 143.5px)"></i>
<i style="background:linear-gradient(90deg,#9f6 0.5px,#b7ff48 35.5px,#c4ff3b 47.5px,#beff41 49.5px,#c2ff3d 50.5px,#ceff31 51.5px,#ceff31 52.5px,#a8ff57 58.5px,#8fff70 62.5px,#70ff8f 80.5px,#4fffb0 85.5px,#31ffce 90.5px,#31ffce 91.5px,#3dffc2 92.5px,#41ffbe 93.5px,#3bffc4 97.5px,#5fffa0 131.5px,#67ff98 143.5px)"></i>
<i style="background:linear-gradient(90deg,#9aff65 0.5px,#b8ff47 34.5px,#c7ff38 46.5px,#c0ff3f 49.5px,#c4ff3b 50.5px,#d0ff2f 51.5px,#cfff30 52.5px,#c2ff3d 54.5px,#a8ff57 58.5px,#8fff70 62.5px,#70ff8f 80.5px,#57ffa8 84.5px,#3dffc2 88.5px,#30ffcf 90.5px,#2fffd0 91.5px,#3bffc4 92.5px,#3fffc0 93.5px,#38ffc7 97.5px,#5dffa2 130.5px,#6f9 143.5px)"></i>
<i style="background:linear-gradient(90deg,#9bff64 0.5px,#baff45 34.5px,#c9ff36 46.5px,#c2ff3d 49.5px,#c6ff39 50.5px,#d2ff2d 51.5px,#d1ff2e 52.5px,#c3ff3c 54.5px,#a9ff56 58.5px,#8fff70 62.5px,#70ff8f 80.5px,#56ffa9 84.5px,#3cffc3 88.5px,#2effd1 90.5px,#2dffd2 91.5px,#39ffc6 92.5px,#3dffc2 93.5px,#36ffc9 97.5px,#5cffa3 130.5px,#65ff9a 143.5px)"></i>
<i style="background:linear-gradient(90deg,#9bff64 0.5px,#baff45 33.5px,#cbff34 46.5px,#c4ff3b 49.5px,#c8ff37 50.5px,#d4ff2b 51.5px,#d2ff2d 52.5px,#c3ff3c 54.5px,#a1ff5e 59.5px,#8cff73 63.5px,#70ff8f 80.5px,#56ffa9 84.5px,#3cffc3 88.5px,#2dffd2 90.5px,#2bffd4 91.5px,#37ffc8 92.5px,#3bffc4 93.5px,#34ffcb 97.5px,#5affa5 129.5px,#64ff9b 143.5px)"></i>
<i style="background:linear-gradient(90deg,#9cff63 0.5px,#bcff43 33.5px,#cdff32 46.5px,#c6ff39 49.5px,#c9ff36 50.5px,#d6ff29 51.5px,#d4ff2b 52.5px,#c4ff3b 54.5px,#8fff70 62.5px,#70ff8f 80.5px,#56ffa9 84.5px,#36ffc9 89.5px,#2bffd4 90.5px,#29ffd6 91.5px,#36ffc9 92.5px,#39ffc6 93.5px,#32ffcd 97.5px,#59ffa6 129.5px,#63ff9c 143.5px)"></i>
<i style="background:linear-gradient(90deg,#9dff62 0.5px,#bdff42 33.5px,#cfff30 46.5px,#c7ff38 49.5px,#cbff34 50.5px,#d8ff27 51.5px,#d5ff2a 52.5px,#c4ff3b 54.5px,#8fff70 62.5px,#70ff8f 80.5px,#56ffa9 84.5px,#35ffca 89.5px,#2affd5 90.5px,#27ffd8 91.5px,#34ffcb 92.5px,#38ffc7 93.5px,#30ffcf 97.5px,#58ffa7 129.5px,#63ff9c 143.5px)"></i>
<i style="background:linear-gradient(90deg,#9dff62 0.5px,#bdff42 32.5px,#d1ff2e 46.5px,#c8ff37 49.5px,#caff35 50.5px,#d7ff28 51.5px,#d5ff2a 52.5px,#c3ff3c 54.5px,#8fff70 62.5px,#70ff8f 80.5px,#57ffa8 84.5px,#36ffc9 89.5px,#2affd5 90.5px,#28ffd7 91.5px,#35ffca 92.5px,#37ffc8 93.5px,#2effd1 96.5px,#59ffa6 131.5px,#62ff9d 143.5px)"></i>
<i style="background:linear-gradient(90deg,#9eff61 0.5px,#beff41 32.5px,#d2ff2d 46.5px,#c9ff36 49.5px,#caff35 50.5px,#d4ff2b 51.5px,#d2ff2d 52.5px,#c1ff3e 54.5px,#8fff70 62.5px,#70ff8f 80.5px,#51ffae 85.5px,#38ffc7 89.5px,#2dffd2 90.5px,#2bffd4 91.5px,#35ffca 92.5px,#32ffcd 94.5px,#2effd1 98.5px,#5fa 127.5px,#62ff9d 143.5px)"></i>
<i style="background:linear-gradient(90deg,#9eff61 0.5px,#bfff40 32.5px,#d3ff2c 47.5px,#cfff30 49.5px,#d5ff2a 51.5px,#d2ff2d 52.5px,#bf4 55.5px,#90ff6f 62.5px,#6eff91 80.5px,#50ffaf 85.5px,#37ffc8 89.5px,#2cffd3 90.5px,#29ffd6 91.5px,#30ffcf 93.5px,#2cffd3 97.5px,#54ffab 127.5px,#62ff9d 143.5px)"></i>
<i style="background:linear-gradient(90deg,#9eff61 0.5px,#bfff40 32.5px,#d9ff26 46.5px,#e5ff1a 48.5px,#f4ff0b 49.5px,#fff000 50.5px,#fffd00 51.5px,#e0ff1f 53.5px,#af5 60.5px,#84ff7b 69.5px,#70ff8f 74.5px,#52ffad 82.5px,#19ffe6 89.5px,#09fff6 90.5px,#00f7ff 91.5px,#00eaff 92.5px,#07fff8 93.5px,#19ffe6 94.5px,#29ffd6 97.5px,#4fffb0 122.5px,#61ff9e 143.5px)"></i>
<i style="background:linear-gradient(90deg,#9fff60 0.5px,#c0ff3f 32.5px,#d7ff28 44.5px,#e8ff17 46.5px,#fdff02 47.5px,#ffdc00 48.5px,#ff9800 49.5px,#ff3e00 50.5px,#ff6c00 51.5px,#ffa200 52.5px,#ffc500 53.5px,#ffdc00 54.5px,#fff700 56.5px,#fcff03 57.5px,#a6ff59 66.5px,#73ff8c 72.5px,#42ffbd 75.5px,#30ffcf 77.5px,#14ffeb 82.5px,#01fffe 84.5px,#00daff 87.5px,#00c9ff 88.5px,#00b2ff 89.5px,#008eff 90.5px,#0057ff 91.5px,#0029ff 92.5px,#008cff 93.5px,#00d7ff 94.5px,#0ff 95.5px,#16ffe9 96.5px,#28ffd7 98.5px,#42ffbd 112.5px,#61ff9e 143.5px)"></i>
<i style="background:linear-gradient(90deg,#9fff60 0.5px,#c0ff3f 32.5px,#d2ff2d 42.5px,#e0ff1f 44.5px,#ef1 45.5px,#fff900 46.5px,#ffd600 47.5px,#ff9e00 48.5px,#ff4d00 49.5px,#ff0f00 50.5px,#ff2b00 51.5px,#ff6100 52.5px,#ff8b00 53.5px,#ffa700 54.5px,#ffca00 56.5px,#fff800 60.5px,#fcff03 61.5px,#d7ff28 64.5px,#9bff64 68.5px,#7cff83 71.5px,#6dff92 72.5px,#24ffdb 75.5px,#13ffec 76.5px,#03fffc 78.5px,#0ef 81.5px,#00cfff 84.5px,#00a1ff 87.5px,#008bff 88.5px,#006dff 89.5px,#0041ff 90.5px,#000bff 91.5px,#0000ed 92.5px,#0037ff 93.5px,#0093ff 94.5px,#00d0ff 95.5px,#00f6ff 96.5px,#10ffef 97.5px,#1fffe0 98.5px,#2dffd2 100.5px,#4bffb4 119.5px,#61ff9e 143.5px)"></i>
<i style="background:linear-gradient(90deg,#9fff60 0.5px,#c0ff3f 32.5px,#d2ff2d 41.5px,#e0ff1f 43.5px,#fffe00 45.5px,#ffe400 46.5px,#ffc100 47.5px,#ff8f00 48.5px,#ff5300 49.5px,#f30 50.5px,#ff4800 51.5px,#ff8c00 53.5px,#ffa400 54.5px,#ffc500 56.5px,#fffb00 61.5px,#ebff14 63.5px,#9dff62 68.5px,#7bff84 71.5px,#6bff94 72.5px,#1dffe2 75.5px,#0bfff4 76.5px,#01fffe 77.5px,#0df 82.5px,#00baff 85.5px,#009bff 87.5px,#006bff 89.5px,#0025ff 91.5px,#0010ff 92.5px,#0038ff 93.5px,#007fff 94.5px,#00b9ff 95.5px,#00dfff 96.5px,#00fbff 97.5px,#1effe1 99.5px,#31ffce 102.5px,#52ffad 125.5px,#61ff9e 143.5px)"></i>
<i style="background:linear-gradient(90deg,#9eff61 0.5px,#bfff40 32.5px,#d1ff2e 40.5px,#ebff14 43.5px,#fbff04 44.5px,#fff000 45.5px,#ffd700 46.5px,#ffb700 47.5px,#ff6400 49.5px,#f50 50.5px,#ff6700 51.5px,#f90 53.5px,#ffbc00 55.5px,#fff200 60.5px,#fffb00 61.5px,#ecff13 63.5px,#9dff62 68.5px,#7bff84 71.5px,#6bff94 72.5px,#1cffe3 75.5px,#0bfff4 76.5px,#0ff 77.5px,#0df 82.5px,#00afff 86.5px,#008dff 88.5px,#0043ff 91.5px,#0031ff 92.5px,#0047ff 93.5px,#00acff 95.5px,#00d0ff 96.5px,#00ebff 97.5px,#01fffe 98.5px,#1effe1 100.5px,#32ffcd 103.5px,#4bffb4 119.5px,#61ff9e 143.5px)"></i>
<i style="background:linear-gradient(90deg,#9eff61 0.5px,#bfff40 32.5px,#cf3 38.5px,#dfff20 41.5px,#f7ff08 43.5px,#fff700 44.5px,#ffcd00 46.5px,#ff7000 49.5px,#ff6900 50.5px,#ffb300 54.5px,#ffe000 58.5px,#fffc00 61.5px,#ebff14 63.5px,#9dff62 68.5px,#7bff84 71.5px,#6bff94 72.5px,#1cffe3 75.5px,#0bfff4 76.5px,#0ff 77.5px,#00deff 82.5px,#00b2ff 86.5px,#0082ff 89.5px,#0046ff 92.5px,#0052ff 93.5px,#00a2ff 95.5px,#00c5ff 96.5px,#00f3ff 98.5px,#05fffa 99.5px,#27ffd8 102.5px,#39ffc6 106.5px,#58ffa7 131.5px,#61ff9e 143.5px)"></i>
<i style="background:linear-gradient(90deg,#9eff61 0.5px,#bdff42 31.5px,#cf3 37.5px,#dfff20 40.5px,#fffd00 43.5px,#ffdb00 45.5px,#fa0 47.5px,#ff8d00 48.5px,#f70 49.5px,#ff7600 50.5px,#fa0 53.5px,#ffd800 57.5px,#fffc00 61.5px,#ebff14 63.5px,#9dff62 68.5px,#7bff84 71.5px,#6bff94 72.5px,#1cffe3 75.5px,#0bfff4 76.5px,#0ff 77.5px,#00d6ff 83.5px,#00a7ff 87.5px,#07f 90.5px,#0052ff 92.5px,#0058ff 93.5px,#0075ff 94.5px,#00baff 96.5px,#00e8ff 98.5px,#00f8ff 99.5px,#08fff7 100.5px,#27ffd8 103.5px,#3affc5 107.5px,#56ffa9 128.5px,#62ff9d 143.5px)"></i>
<i style="background:linear-gradient(90deg,#9dff62 0.5px,#bf4 30.5px,#cbff34 36.5px,#e6ff19 40.5px,#fdff02 42.5px,#ffe500 44.5px,#ffbe00 46.5px,#ff8c00 48.5px,#ff7c00 49.5px,#ff7d00 50.5px,#ffaf00 53.5px,#ffe200 58.5px,#fffd00 61.5px,#ebff14 63.5px,#9cff63 68.5px,#7bff84 71.5px,#6bff94 72.5px,#1cffe3 75.5px,#0bfff4 76.5px,#0ff 77.5px,#00d6ff 83.5px,#009cff 88.5px,#005aff 92.5px,#005bff 93.5px,#0072ff 94.5px,#00b1ff 96.5px,#00deff 98.5px,#00fdff 100.5px,#28ffd7 104.5px,#3effc1 109.5px,#59ffa6 131.5px,#62ff9d 143.5px)"></i>
<i style="background:linear-gradient(90deg,#9dff62 0.5px,#b9ff46 29.5px,#caff35 35.5px,#e4ff1b 39.5px,#f9ff06 41.5px,#fffa00 42.5px,#fc0 45.5px,#ff8b00 48.5px,#ff7e00 49.5px,#ff8200 50.5px,#ffb100 53.5px,#fffd00 61.5px,#ebff14 63.5px,#9cff63 68.5px,#7bff84 71.5px,#6bff94 72.5px,#1cffe3 75.5px,#0bfff4 76.5px,#0ff 77.5px,#00d7ff 83.5px,#009eff 88.5px,#005eff 92.5px,#005dff 93.5px,#0070ff 94.5px,#00c2ff 97.5px,#00e6ff 99.5px,#02fffd 101.5px,#29ffd6 105.5px,#3fffc0 110.5px,#56ffa9 127.5px,#63ff9c 143.5px)"></i>
<i style="background:linear-gradient(90deg,#9cff63 0.5px,#b7ff48 28.5px,#c9ff36 34.5px,#ebff14 39.5px,#ff0 41.5px,#ffd800 44.5px,#ff8900 48.5px,#ff8000 49.5px,#ff8500 50.5px,#ffb300 53.5px,#fffd00 61.5px,#ebff14 63.5px,#9cff63 68.5px,#7bff84 71.5px,#6bff94 72.5px,#1cffe3 75.5px,#0bfff4 76.5px,#0ff 77.5px,#00d7ff 83.5px,#0092ff 89.5px,#0061ff 92.5px,#005fff 93.5px,#006dff 94.5px,#00baff 97.5px,#00dfff 99.5px,#00faff 101.5px,#1fe 103.5px,#30ffcf 107.5px,#46ffb9 113.5px,#60ff9f 138.5px,#63ff9c 143.5px)"></i>
<i style="background:linear-gradient(90deg,#9cff63 0.5px,#b5ff4a 27.5px,#c7ff38 33.5px,#e8ff17 38.5px,#fbff04 40.5px,#fe0 42.5px,#ffc100 45.5px,#ff8900 48.5px,#ff8100 49.5px,#ff8700 50.5px,#ffb400 53.5px,#fffd00 61.5px,#ebff14 63.5px,#9cff63 68.5px,#7bff84 71.5px,#6bff94 72.5px,#1cffe3 75.5px,#0bfff4 76.5px,#0ff 77.5px,#00d7ff 83.5px,#0093ff 89.5px,#0064ff 92.5px,#0060ff 93.5px,#006bff 94.5px,#00c8ff 98.5px,#00f3ff 101.5px,#0ff 102.5px,#2bffd4 107.5px,#45ffba 113.5px,#5affa5 129.5px,#64ff9b 143.5px)"></i>
<i style="background:linear-gradient(90deg,#9bff64 0.5px,#b1ff4e 25.5px,#c6ff39 32.5px,#e5ff1a 37.5px,#ff0 40.5px,#ffce00 44.5px,#f80 48.5px,#ff8300 49.5px,#ff8900 50.5px,#ffb500 53.5px,#fffd00 61.5px,#ebff14 63.5px,#9cff63 68.5px,#7bff84 71.5px,#6bff94 72.5px,#1cffe3 75.5px,#0bfff4 76.5px,#0ff 77.5px,#00d7ff 83.5px,#0094ff 89.5px,#06f 92.5px,#0061ff 93.5px,#006aff 94.5px,#00c2ff 98.5px,#0ef 101.5px,#05fffa 103.5px,#2dffd2 108.5px,#47ffb8 114.5px,#5affa5 128.5px,#65ff9a 143.5px)"></i>
<i style="background:linear-gradient(90deg,#9aff65 0.5px,#b0ff4f 24.5px,#c4ff3b 31.5px,#e9ff16 37.5px,#faff05 39.5px,#fff000 41.5px,#ffc900 44.5px,#ff9500 47.5px,#f80 48.5px,#ff8400 49.5px,#ff8b00 50.5px,#ffb600 53.5px,#fffd00 61.5px,#ebff14 63.5px,#9cff63 68.5px,#7bff84 71.5px,#6bff94 72.5px,#1cffe3 75.5px,#0bfff4 76.5px,#0ff 77.5px,#00d7ff 83.5px,#0095ff 89.5px,#0068ff 92.5px,#0062ff 93.5px,#0069ff 94.5px,#0091ff 96.5px,#00ceff 99.5px,#00f4ff 102.5px,#0ff 103.5px,#2fffd0 109.5px,#48ffb7 115.5px,#5bffa4 128.5px,#6f9 143.5px)"></i>
<i style="background:linear-gradient(90deg,#9f6 0.5px,#aeff51 23.5px,#c2ff3d 30.5px,#e5ff1a 36.5px,#feff01 39.5px,#ffe200 42.5px,#ffb500 45.5px,#ff9400 47.5px,#f80 48.5px,#ff8500 49.5px,#ff8d00 50.5px,#ffb600 53.5px,#fffd00 61.5px,#ebff14 63.5px,#9cff63 68.5px,#7bff84 71.5px,#6bff94 72.5px,#1cffe3 75.5px,#0bfff4 76.5px,#0ff 77.5px,#00d7ff 83.5px,#0095ff 89.5px,#0069ff 92.5px,#0063ff 93.5px,#0069ff 94.5px,#008eff 96.5px,#00c9ff 99.5px,#00f0ff 102.5px,#05fffa 104.5px,#31ffce 110.5px,#4dffb2 117.5px,#5fffa0 132.5px,#67ff98 143.5px)"></i>
<i style="background:linear-gradient(90deg,#98ff67 0.5px,#af5 21.5px,#c0ff3f 29.5px,#e9ff16 36.5px,#fffd00 39.5px,#ffd200 43.5px,#ff9300 47.5px,#ff8900 48.5px,#ff8700 49.5px,#ff8f00 50.5px,#ffb700 53.5px,#fffd00 61.5px,#ebff14 63.5px,#9cff63 68.5px,#7bff84 71.5px,#6bff94 72.5px,#1cffe3 75.5px,#0bfff4 76.5px,#0ff 77.5px,#00d7ff 83.5px,#08f 90.5px,#006bff 92.5px,#0065ff 93.5px,#006aff 94.5px,#008bff 96.5px,#00c5ff 99.5px,#00edff 102.5px,#01fffe 104.5px,#3fc 111.5px,#4effb1 118.5px,#61ff9e 132.5px,#67ff98 143.5px)"></i>
<i style="background:linear-gradient(90deg,#97ff68 0.5px,#a8ff57 20.5px,#beff41 28.5px,#e5ff1a 35.5px,#fbff04 38.5px,#fff200 40.5px,#ffcf00 43.5px,#ff9300 47.5px,#ff8a00 48.5px,#ff8900 49.5px,#ff9000 50.5px,#ffb700 53.5px,#fffd00 61.5px,#ebff14 63.5px,#9cff63 68.5px,#7bff84 71.5px,#6bff94 72.5px,#1cffe3 75.5px,#0bfff4 76.5px,#0ff 77.5px,#00d7ff 83.5px,#0089ff 90.5px,#006dff 92.5px,#06f 93.5px,#006aff 94.5px,#0089ff 96.5px,#00c2ff 99.5px,#00eaff 102.5px,#00fdff 104.5px,#36ffc9 112.5px,#50ffaf 119.5px,#62ff9d 132.5px,#68ff97 143.5px)"></i>
<i style="background:linear-gradient(90deg,#96ff69 0.5px,#a7ff58 19.5px,#c0ff3f 28.5px,#ef1 36.5px,#fdff02 38.5px,#ffda00 42.5px,#ff9400 47.5px,#ff8c00 48.5px,#ff8b00 49.5px,#ff9f00 51.5px,#ffca00 55.5px,#fffd00 61.5px,#ebff14 63.5px,#9cff63 68.5px,#7bff84 71.5px,#6bff94 72.5px,#1cffe3 75.5px,#0bfff4 76.5px,#0ff 77.5px,#00d7ff 83.5px,#008aff 90.5px,#006fff 92.5px,#0068ff 93.5px,#006bff 94.5px,#0087ff 96.5px,#00ceff 100.5px,#00faff 104.5px,#0bfff4 106.5px,#38ffc7 113.5px,#54ffab 121.5px,#6f9 136.5px,#69ff96 143.5px)"></i>
<i style="background:linear-gradient(90deg,#95ff6a 0.5px,#a5ff5a 18.5px,#beff41 27.5px,#e9ff16 35.5px,#ff0 38.5px,#ffd800 42.5px,#ff9500 47.5px,#ff8e00 48.5px,#ff8d00 49.5px,#ffa100 51.5px,#ffca00 55.5px,#fffd00 61.5px,#ebff14 63.5px,#9cff63 68.5px,#7bff84 71.5px,#6bff94 72.5px,#1dffe2 75.5px,#0bfff4 76.5px,#01fffe 77.5px,#00d7ff 83.5px,#008bff 90.5px,#0071ff 92.5px,#006bff 93.5px,#006dff 94.5px,#0087ff 96.5px,#00cbff 100.5px,#00f8ff 104.5px,#01fffe 105.5px,#35ffca 113.5px,#53ffac 121.5px,#65ff9a 134.5px,#6bff94 143.5px)"></i>
<i style="background:linear-gradient(90deg,#94ff6b 0.5px,#a5ff5a 18.5px,#bfff40 27.5px,#f0ff0f 36.5px,#ff0 38.5px,#ffd900 42.5px,#f90 47.5px,#ff9300 48.5px,#ff9300 49.5px,#ffa500 51.5px,#ffd500 56.5px,#ff0 61.5px,#dbff24 64.5px,#9cff63 68.5px,#7bff84 71.5px,#6cff93 72.5px,#1effe1 75.5px,#0dfff2 76.5px,#03fffc 77.5px,#00e2ff 82.5px,#009bff 89.5px,#0076ff 92.5px,#0070ff 93.5px,#0072ff 94.5px,#008aff 96.5px,#00cbff 100.5px,#00f8ff 104.5px,#01fffe 105.5px,#34ffcb 113.5px,#53ffac 121.5px,#6f9 133.5px,#6cff93 143.5px)"></i>
<i style="background:linear-gradient(90deg,#91ff6e 0.5px,#a0ff5f 17.5px,#bcff43 27.5px,#ef1 37.5px,#fcff03 39.5px,#ffe600 42.5px,#ffae00 47.5px,#ffa900 49.5px,#fff300 58.5px,#fcff03 60.5px,#e0ff1f 63.5px,#9aff65 68.5px,#7cff83 71.5px,#6eff91 72.5px,#27ffd8 75.5px,#17ffe8 76.5px,#03fffc 79.5px,#00f0ff 82.5px,#00a5ff 90.5px,#0090ff 92.5px,#008aff 93.5px,#008cff 94.5px,#00a0ff 96.5px,#00e6ff 101.5px,#00faff 103.5px,#0bfff4 105.5px,#3dffc2 114.5px,#5bffa4 123.5px,#6cff93 137.5px,#6fff90 143.5px)"></i>
<i style="background:linear-gradient(90deg,#8cff73 0.5px,#9aff65 20.5px,#b8ff47 33.5px,#daff25 41.5px,#fffd00 47.5px,#fffa00 49.5px,#faff05 51.5px,#bdff42 63.5px,#8bff74 69.5px,#76ff89 72.5px,#4affb5 75.5px,#3bffc4 77.5px,#1fffe0 84.5px,#01fffe 89.5px,#00eaff 93.5px,#00f0ff 95.5px,#0ff 97.5px,#2effd1 103.5px,#54ffab 113.5px,#6eff91 126.5px,#7f8 143.5px)"></i>
<i style="background:linear-gradient(90deg,#86ff79 0.5px,#90ff6f 30.5px,#a6ff59 49.5px,#8cff73 66.5px,#7cff83 73.5px,#6fff90 78.5px,#5affa5 94.5px,#73ff8c 109.5px,#80ff7f 136.5px,#80ff7f 143.5px)"></i>
<i style="background:linear-gradient(90deg,#84ff7b 0.5px,#87ff78 60.5px,#7eff81 99.5px,#83ff7c 143.5px)"></i>
<i style="background:linear-gradient(90deg,#84ff7b 0.5px,#84ff7b 143.5px)"></i>
<i style="background:linear-gradient(90deg,#84ff7b 0.5px,#84ff7b 143.5px)"></i>
<i style="background:linear-gradient(90deg,#84ff7b 0.5px,#84ff7b 143.5px)"></i>
<i style="background:linear-gradient(90deg,#84ff7b 0.5px,#84ff7b 143.5px)"></i>
<i style="background:linear-gradient(90deg,#84ff7b 0.5px,#84ff7b 143.5px)"></i>
<i style="background:linear-gradient(90deg,#84ff7b 0.5px,#84ff7b 143.5px)"></i>
<i style="background:linear-gradient(90deg,#84ff7b 0.5px,#84ff7b 143.5px)"></i>
<i style="background:linear-gradient(90deg,#84ff7b 0.5px,#84ff7b 143.5px)"></i>
<i style="background:linear-gradient(90deg,#84ff7b 0.5px,#84ff7b 143.5px)"></i>
<i style="background:linear-gradient(90deg,#84ff7b 0.5px,#84ff7b 143.5px)"></i>
<i style="background:linear-gradient(90deg,#84ff7b 0.5px,#84ff7b 143.5px)"></i>
</div>
<div class="ax" style="left:58px;top:367.2px;width:1px;height:134.8px"></div>
<div class="ax" style="left:58px;top:501px;width:143.8px;height:1px"></div>
<div class="ax" style="left:58.7px;top:500.6px;width:1px;height:3px"></div>
<div class="tl" style="left:48.2px;top:504.4px;width:20px;text-align:center">-80</div>
<div class="ax" style="left:76.4px;top:500.6px;width:1px;height:3px"></div>
<div class="tl" style="left:65.9px;top:504.4px;width:20px;text-align:center">-60</div>
<div class="ax" style="left:94.1px;top:500.6px;width:1px;height:3px"></div>
<div class="tl" style="left:83.6px;top:504.4px;width:20px;text-align:center">-40</div>
<div class="ax" style="left:111.8px;top:500.6px;width:1px;height:3px"></div>
<div class="tl" style="left:101.3px;top:504.4px;width:20px;text-align:center">-20</div>
<div class="ax" style="left:129.5px;top:500.6px;width:1px;height:3px"></div>
<div class="tl" style="left:119.0px;top:504.4px;width:20px;text-align:center">0</div>
<div class="ax" style="left:147.2px;top:500.6px;width:1px;height:3px"></div>
<div class="tl" style="left:136.7px;top:504.4px;width:20px;text-align:center">20</div>
<div class="ax" style="left:164.9px;top:500.6px;width:1px;height:3px"></div>
<div class="tl" style="left:154.4px;top:504.4px;width:20px;text-align:center">40</div>
<div class="ax" style="left:182.6px;top:500.6px;width:1px;height:3px"></div>
<div class="tl" style="left:172.1px;top:504.4px;width:20px;text-align:center">60</div>
<div class="ax" style="left:200.3px;top:500.6px;width:1px;height:3px"></div>
<div class="tl" style="left:189.8px;top:504.4px;width:20px;text-align:center">80</div>
<div class="ax" style="left:56.3px;top:494.8px;width:3px;height:1px"></div>
<div class="tl" style="left:35.1px;top:492.1px;width:20px;text-align:right">-60</div>
<div class="ax" style="left:56.3px;top:469.0px;width:3px;height:1px"></div>
<div class="tl" style="left:35.1px;top:466.3px;width:20px;text-align:right">-40</div>
<div class="ax" style="left:56.3px;top:443.2px;width:3px;height:1px"></div>
<div class="tl" style="left:35.1px;top:440.6px;width:20px;text-align:right">-20</div>
<div class="ax" style="left:56.3px;top:417.5px;width:3px;height:1px"></div>
<div class="tl" style="left:35.1px;top:414.8px;width:20px;text-align:right">0</div>
<div class="ax" style="left:56.3px;top:391.8px;width:3px;height:1px"></div>
<div class="tl" style="left:35.1px;top:389.1px;width:20px;text-align:right">20</div>
<div class="al" style="left:86.6px;top:515.6px;width:80px;text-align:center">x(m) (x10^-9)</div>
<div class="al yl" style="left:-2.8px;top:433.2px;width:80px;text-align:center">y(m) (x10^-9)</div>
<div class="tt" style="left:2.9px;top:368.3px;transform:scaleX(0.85)">Px</div>
<div class="p" style="left:304.4px;top:367.2px;width:139.6px;height:131.8px">
<i style="background:linear-gradient(90deg,#00edff 0.5px,#00edff 139.5px)"></i>
<i style="background:linear-gradient(90deg,#00edff 0.5px,#00edff 139.5px)"></i>
<i style="background:linear-gradient(90deg,#00edff 0.5px,#00edff 139.5px)"></i>
<i style="background:linear-gradient(90deg,#00edff 0.5px,#00edff 139.5px)"></i>
<i style="background:linear-gradient(90deg,#00edff 0.5px,#00edff 139.5px)"></i>
<i style="background:linear-gradient(90deg,#0ef 0.5px,#0ef 139.5px)"></i>
<i style="background:linear-gradient(90deg,#0ef 0.5px,#0ef 139.5px)"></i>
<i style="background:linear-gradient(90deg,#0ef 0.5px,#0ef 139.5px)"></i>
<i style="background:linear-gradient(90deg,#0ef 0.5px,#0ef 139.5px)"></i>
<i style="background:linear-gradient(90deg,#0ef 0.5px,#0ef 139.5px)"></i>
<i style="background:linear-gradient(90deg,#0ef 0.5px,#0ef 139.5px)"></i>
<i style="background:linear-gradient(90deg,#00efff 0.5px,#00efff 139.5px)"></i>
<i style="background:linear-gradient(90deg,#00efff 0.5px,#00efff 139.5px)"></i>
<i style="background:linear-gradient(90deg,#00efff 0.5px,#00efff 139.5px)"></i>
<i style="background:linear-gradient(90deg,#00efff 0.5px,#00efff 139.5px)"></i>
<i style="background:linear-gradient(90deg,#00efff 0.5px,#00efff 139.5px)"></i>
<i style="background:linear-gradient(90deg,#00efff 0.5px,#00efff 139.5px)"></i>
<i style="background:linear-gradient(90deg,#00f0ff 0.5px,#00f0ff 139.5px)"></i>
<i style="background:linear-gradient(90deg,#00f0ff 0.5px,#00f0ff 65.5px,#00f0ff 139.5px)"></i>
<i style="background:linear-gradient(90deg,#00f0ff 0.5px,#00f0ff 57.5px,#00f0ff 139.5px)"></i>
<i style="background:linear-gradient(90deg,#00f0ff 0.5px,#00efff 55.5px,#00edff 88.5px,#00f0ff 139.5px)"></i>
<i style="background:linear-gradient(90deg,#00f0ff 0.5px,#00efff 54.5px,#0ef 85.5px,#00f0ff 139.5px)"></i>
<i style="background:linear-gradient(90deg,#00f0ff 0.5px,#0ef 53.5px,#00f0ff 82.5px,#00edff 97.5px,#00f0ff 139.5px)"></i>
<i style="background:linear-gradient(90deg,#00f0ff 0.5px,#00edff 52.5px,#00f2ff 77.5px,#00ecff 95.5px,#00f0ff 139.5px)"></i>
<i style="background:linear-gradient(90deg,#00f1ff 0.5px,#00edff 52.5px,#00f3ff 73.5px,#00ebff 94.5px,#00f1ff 139.5px)"></i>
<i style="background:linear-gradient(90deg,#00f1ff 0.5px,#00ebff 51.5px,#00f4ff 69.5px,#00ecff 87.5px,#00f1ff 139.5px)"></i>
<i style="background:linear-gradient(90deg,#00f1ff 0.5px,#00ebff 51.5px,#00f5ff 67.5px,#0ef 85.5px,#00eaff 93.5px,#00f1ff 139.5px)"></i>
<i style="background:linear-gradient(90deg,#00f1ff 0.5px,#00e9ff 44.5px,#00ecff 52.5px,#00f6ff 67.5px,#00efff 84.5px,#00e8ff 92.5px,#00f1ff 134.5px,#00f1ff 139.5px)"></i>
<i style="background:linear-gradient(90deg,#00f1ff 0.5px,#00eaff 42.5px,#00eaff 51.5px,#00f7ff 64.5px,#00f2ff 82.5px,#00e7ff 91.5px,#00f1ff 129.5px,#00f1ff 139.5px)"></i>
<i style="background:linear-gradient(90deg,#00f1ff 0.5px,#00e9ff 41.5px,#00e7ff 50.5px,#00f8ff 63.5px,#00f4ff 80.5px,#00e6ff 91.5px,#00f1ff 125.5px,#00f1ff 139.5px)"></i>
<i style="background:linear-gradient(90deg,#00f1ff 0.5px,#00e9ff 40.5px,#00e6ff 50.5px,#00f8ff 62.5px,#00f7ff 78.5px,#00e4ff 91.5px,#00f1ff 123.5px,#00f1ff 139.5px)"></i>
<i style="background:linear-gradient(90deg,#00f1ff 0.5px,#00e9ff 39.5px,#00e5ff 50.5px,#00f8ff 61.5px,#00f9ff 76.5px,#00eaff 86.5px,#00e3ff 91.5px,#00f0ff 120.5px,#00f1ff 139.5px)"></i>
<i style="background:linear-gradient(90deg,#00f1ff 0.5px,#00e9ff 37.5px,#00e1ff 49.5px,#00f8ff 60.5px,#00fcff 74.5px,#0ef 84.5px,#00e1ff 90.5px,#00f0ff 119.5px,#00f1ff 139.5px)"></i>
<i style="background:linear-gradient(90deg,#00f1ff 0.5px,#00e9ff 36.5px,#00dfff 49.5px,#00f9ff 60.5px,#00feff 73.5px,#00f0ff 83.5px,#00dfff 90.5px,#00efff 117.5px,#00f1ff 139.5px)"></i>
<i style="background:linear-gradient(90deg,#00f1ff 0.5px,#00e9ff 35.5px,#0df 49.5px,#00faff 60.5px,#0ff 73.5px,#00f0ff 83.5px,#0df 90.5px,#0ef 116.5px,#00f1ff 139.5px)"></i>
<i style="background:linear-gradient(90deg,#00f1ff 0.5px,#00e8ff 35.5px,#00dbff 49.5px,#00f9ff 59.5px,#02fffd 69.5px,#00f9ff 79.5px,#00daff 90.5px,#00edff 114.5px,#00f1ff 139.5px)"></i>
<i style="background:linear-gradient(90deg,#00f1ff 0.5px,#00e7ff 34.5px,#00d8ff 49.5px,#00f9ff 59.5px,#03fffc 67.5px,#00fcff 78.5px,#00e8ff 85.5px,#00d8ff 90.5px,#00ecff 113.5px,#00f1ff 139.5px)"></i>
<i style="background:linear-gradient(90deg,#00f0ff 0.5px,#00e7ff 33.5px,#00d6ff 49.5px,#00f8ff 58.5px,#03fffc 65.5px,#00fcff 78.5px,#00e7ff 85.5px,#00d5ff 90.5px,#00ebff 111.5px,#00f0ff 139.5px)"></i>
<i style="background:linear-gradient(90deg,#00f0ff 0.5px,#00e7ff 32.5px,#00d3ff 49.5px,#00f8ff 58.5px,#03fffc 64.5px,#03fffc 74.5px,#00f8ff 80.5px,#00d2ff 90.5px,#00eaff 110.5px,#00f0ff 139.5px)"></i>
<i style="background:linear-gradient(90deg,#00f0ff 0.5px,#00e7ff 32.5px,#00d0ff 49.5px,#00f7ff 58.5px,#03fffc 64.5px,#03fffc 74.5px,#00f8ff 80.5px,#00daff 87.5px,#00cfff 90.5px,#00e8ff 108.5px,#00f0ff 139.5px)"></i>
<i style="background:linear-gradient(90deg,#00f0ff 0.5px,#00e7ff 31.5px,#00d3ff 44.5px,#00cdff 49.5px,#00f4ff 57.5px,#02fffd 63.5px,#04fffb 73.5px,#00faff 79.5px,#00e3ff 85.5px,#00ceff 89.5px,#00d0ff 93.5px,#00e5ff 105.5px,#00f0ff 133.5px,#00f0ff 139.5px)"></i>
<i style="background:linear-gradient(90deg,#00f0ff 0.5px,#00e6ff 31.5px,#00d3ff 43.5px,#00c8ff 48.5px,#00ceff 50.5px,#00f4ff 57.5px,#01fffe 63.5px,#04fffb 73.5px,#00faff 79.5px,#00e2ff 85.5px,#00caff 89.5px,#00cdff 93.5px,#00e2ff 103.5px,#0ef 126.5px,#00f0ff 139.5px)"></i>
<i style="background:linear-gradient(90deg,#00f0ff 0.5px,#00e6ff 30.5px,#00d4ff 42.5px,#00c4ff 48.5px,#00cbff 50.5px,#00efff 56.5px,#01fffe 63.5px,#03fffc 73.5px,#00f9ff 79.5px,#00e6ff 84.5px,#00c7ff 89.5px,#00c7ff 92.5px,#00deff 101.5px,#00edff 121.5px,#00f0ff 139.5px)"></i>
<i style="background:linear-gradient(90deg,#00efff 0.5px,#00e6ff 30.5px,#00d5ff 41.5px,#00c0ff 48.5px,#00c8ff 50.5px,#0ef 56.5px,#0ff 63.5px,#02fffd 73.5px,#00f8ff 79.5px,#00e5ff 84.5px,#00c3ff 89.5px,#00c3ff 92.5px,#00dbff 100.5px,#00ecff 118.5px,#00f0ff 139.5px)"></i>
<i style="background:linear-gradient(90deg,#00efff 0.5px,#00e5ff 30.5px,#00d3ff 41.5px,#00baff 48.5px,#00c4ff 50.5px,#00e8ff 55.5px,#00fbff 61.5px,#01fffe 74.5px,#00f2ff 81.5px,#00d6ff 86.5px,#00beff 89.5px,#0bf 91.5px,#00daff 100.5px,#00ebff 117.5px,#00efff 139.5px)"></i>
<i style="background:linear-gradient(90deg,#00efff 0.5px,#00e5ff 29.5px,#00d5ff 40.5px,#00b4ff 48.5px,#00b7ff 49.5px,#00e1ff 54.5px,#00f6ff 59.5px,#01fffe 67.5px,#00faff 77.5px,#00e8ff 83.5px,#00c2ff 88.5px,#00b4ff 90.5px,#00c3ff 94.5px,#00d7ff 99.5px,#00e9ff 114.5px,#00efff 139.5px)"></i>
<i style="background:linear-gradient(90deg,#00efff 0.5px,#00e5ff 29.5px,#00d4ff 40.5px,#00adff 48.5px,#00b1ff 49.5px,#00e0ff 54.5px,#00f5ff 59.5px,#01fffe 68.5px,#00f8ff 78.5px,#00e7ff 83.5px,#00c9ff 87.5px,#00adff 90.5px,#00c0ff 94.5px,#00d6ff 99.5px,#00e9ff 114.5px,#00efff 139.5px)"></i>
<i style="background:linear-gradient(90deg,#00efff 0.5px,#00e5ff 29.5px,#00d3ff 40.5px,#00b7ff 45.5px,#00a3ff 48.5px,#0af 49.5px,#00cfff 52.5px,#00eaff 56.5px,#00fbff 63.5px,#00fcff 74.5px,#00ebff 82.5px,#00d1ff 86.5px,#00a3ff 90.5px,#00bdff 94.5px,#00d2ff 98.5px,#00e5ff 110.5px,#00efff 139.5px)"></i>
<i style="background:linear-gradient(90deg,#00efff 0.5px,#00e4ff 29.5px,#00d2ff 40.5px,#0bf 44.5px,#0097ff 48.5px,#00a1ff 49.5px,#00c2ff 51.5px,#00dfff 54.5px,#00f3ff 59.5px,#00feff 69.5px,#00f4ff 79.5px,#00e0ff 84.5px,#00c5ff 87.5px,#0098ff 90.5px,#009dff 91.5px,#00b9ff 94.5px,#00d1ff 98.5px,#00e4ff 109.5px,#00efff 137.5px,#00efff 139.5px)"></i>
<i style="background:linear-gradient(90deg,#00efff 0.5px,#00e5ff 28.5px,#00d4ff 39.5px,#00c0ff 43.5px,#00a6ff 46.5px,#0089ff 48.5px,#0097ff 49.5px,#00b1ff 50.5px,#00cdff 52.5px,#00e4ff 55.5px,#00f6ff 61.5px,#00fdff 71.5px,#00f0ff 80.5px,#00dfff 84.5px,#00c3ff 87.5px,#00b4ff 88.5px,#008aff 90.5px,#0092ff 91.5px,#00a4ff 92.5px,#0cf 97.5px,#0df 104.5px,#00ecff 124.5px,#00efff 139.5px)"></i>
<i style="background:linear-gradient(90deg,#00efff 0.5px,#00e5ff 28.5px,#00d4ff 39.5px,#00bfff 43.5px,#00a2ff 46.5px,#0079ff 48.5px,#008dff 49.5px,#00aeff 50.5px,#00cdff 52.5px,#00e4ff 55.5px,#00fbff 63.5px,#00fdff 73.5px,#00edff 81.5px,#00d8ff 85.5px,#00c3ff 87.5px,#00b2ff 88.5px,#007aff 90.5px,#0087ff 91.5px,#009fff 92.5px,#00c5ff 96.5px,#00d6ff 100.5px,#00e8ff 115.5px,#00efff 139.5px)"></i>
<i style="background:linear-gradient(90deg,#00efff 0.5px,#00e5ff 28.5px,#00d3ff 39.5px,#00beff 43.5px,#009eff 46.5px,#0069ff 48.5px,#0083ff 49.5px,#00acff 50.5px,#00c1ff 51.5px,#00d7ff 53.5px,#00f1ff 58.5px,#01fffe 65.5px,#00fcff 76.5px,#00e5ff 83.5px,#00d0ff 86.5px,#00c4ff 87.5px,#00b1ff 88.5px,#006aff 90.5px,#007aff 91.5px,#009aff 92.5px,#00b2ff 94.5px,#00caff 97.5px,#00dcff 103.5px,#00ecff 121.5px,#00efff 139.5px)"></i>
<i style="background:linear-gradient(90deg,#00efff 0.5px,#00e5ff 28.5px,#00d3ff 39.5px,#00c5ff 42.5px,#00a9ff 45.5px,#009bff 46.5px,#0059ff 48.5px,#007aff 49.5px,#00abff 50.5px,#00c2ff 51.5px,#00d8ff 53.5px,#00f8ff 59.5px,#03fffc 64.5px,#04fffb 74.5px,#00f8ff 79.5px,#00daff 85.5px,#00c5ff 87.5px,#00b1ff 88.5px,#005aff 90.5px,#006fff 91.5px,#0096ff 92.5px,#00a7ff 93.5px,#00caff 97.5px,#00dcff 103.5px,#00ecff 121.5px,#00f0ff 139.5px)"></i>
<i style="background:linear-gradient(90deg,#00f0ff 0.5px,#00e5ff 28.5px,#00d3ff 39.5px,#00c5ff 42.5px,#00a8ff 45.5px,#09f 46.5px,#004dff 48.5px,#0075ff 49.5px,#00acff 50.5px,#00c4ff 51.5px,#00daff 53.5px,#00f8ff 58.5px,#02fffd 61.5px,#0bfff4 70.5px,#00fdff 79.5px,#00e2ff 84.5px,#00c7ff 87.5px,#00b3ff 88.5px,#004fff 90.5px,#06f 91.5px,#0093ff 92.5px,#00a6ff 93.5px,#00caff 97.5px,#00dcff 103.5px,#00ecff 121.5px,#00f0ff 139.5px)"></i>
<i style="background:linear-gradient(90deg,#00f0ff 0.5px,#00e6ff 28.5px,#00d3ff 39.5px,#00c5ff 42.5px,#00a9ff 45.5px,#0098ff 46.5px,#0046ff 48.5px,#0074ff 49.5px,#00afff 50.5px,#00c7ff 51.5px,#00ecff 55.5px,#03fffc 59.5px,#13ffec 65.5px,#12ffed 74.5px,#00fdff 80.5px,#00e6ff 84.5px,#00caff 87.5px,#00b6ff 88.5px,#0083ff 89.5px,#0049ff 90.5px,#0061ff 91.5px,#0092ff 92.5px,#00a6ff 93.5px,#00caff 97.5px,#00dcff 103.5px,#00ecff 121.5px,#00f0ff 139.5px)"></i>
<i style="background:linear-gradient(90deg,#00f0ff 0.5px,#00e6ff 28.5px,#00d3ff 39.5px,#00c5ff 42.5px,#00a9ff 45.5px,#09f 46.5px,#006cff 47.5px,#0047ff 48.5px,#0078ff 49.5px,#00b3ff 50.5px,#00caff 51.5px,#00f1ff 55.5px,#01fffe 57.5px,#17ffe8 61.5px,#21ffde 68.5px,#1affe5 76.5px,#0afff5 80.5px,#00f9ff 82.5px,#00d7ff 86.5px,#00cdff 87.5px,#00baff 88.5px,#0087ff 89.5px,#004aff 90.5px,#0060ff 91.5px,#0093ff 92.5px,#00a7ff 93.5px,#00caff 97.5px,#00dcff 103.5px,#00ecff 120.5px,#00f0ff 139.5px)"></i>
<i style="background:linear-gradient(90deg,#00f1ff 0.5px,#00e6ff 28.5px,#00d4ff 39.5px,#00beff 43.5px,#00abff 45.5px,#009bff 46.5px,#0070ff 47.5px,#004eff 48.5px,#00b9ff 50.5px,#00cdff 51.5px,#00f8ff 55.5px,#03fffc 56.5px,#1fffe0 60.5px,#2cffd3 66.5px,#28ffd7 75.5px,#15ffea 80.5px,#05fffa 82.5px,#00f0ff 84.5px,#00d0ff 87.5px,#00bfff 88.5px,#008fff 89.5px,#0052ff 90.5px,#0065ff 91.5px,#0095ff 92.5px,#00a9ff 93.5px,#00caff 97.5px,#00dcff 103.5px,#00edff 120.5px,#00f1ff 139.5px)"></i>
<i style="background:linear-gradient(90deg,#00f1ff 0.5px,#00e6ff 28.5px,#00d4ff 39.5px,#00bfff 43.5px,#00adff 45.5px,#009eff 46.5px,#0078ff 47.5px,#005cff 48.5px,#00beff 50.5px,#00e0ff 52.5px,#04fffb 55.5px,#1fffe0 58.5px,#34ffcb 63.5px,#39ffc6 71.5px,#2fffd0 77.5px,#19ffe6 81.5px,#06fff9 83.5px,#00f9ff 84.5px,#00d5ff 87.5px,#00c4ff 88.5px,#09f 89.5px,#0060ff 90.5px,#006eff 91.5px,#09f 92.5px,#00abff 93.5px,#00cbff 97.5px,#00deff 104.5px,#0ef 122.5px,#00f1ff 139.5px)"></i>
<i style="background:linear-gradient(90deg,#00f1ff 0.5px,#00e6ff 28.5px,#00d4ff 39.5px,#00c0ff 43.5px,#00afff 45.5px,#00a3ff 46.5px,#0082ff 47.5px,#006dff 48.5px,#00c3ff 50.5px,#00d8ff 51.5px,#02fffd 54.5px,#23ffdc 57.5px,#3affc5 61.5px,#45ffba 68.5px,#3dffc2 76.5px,#2cffd3 80.5px,#1fe 83.5px,#05fffa 84.5px,#00e7ff 86.5px,#00c8ff 88.5px,#00a4ff 89.5px,#0071ff 90.5px,#007bff 91.5px,#009eff 92.5px,#00aeff 93.5px,#00cbff 97.5px,#00deff 104.5px,#0ef 122.5px,#00f1ff 139.5px)"></i>
<i style="background:linear-gradient(90deg,#00f2ff 0.5px,#00e7ff 28.5px,#00d4ff 39.5px,#00c1ff 43.5px,#00a7ff 46.5px,#008eff 47.5px,#007fff 48.5px,#00caff 50.5px,#00feff 53.5px,#25ffda 56.5px,#41ffbe 60.5px,#4fffb0 66.5px,#4dffb2 74.5px,#3dffc2 79.5px,#27ffd8 82.5px,#02fffd 85.5px,#00cfff 88.5px,#00aeff 89.5px,#0083ff 90.5px,#08f 91.5px,#00a4ff 92.5px,#00b8ff 94.5px,#00d0ff 98.5px,#00e5ff 109.5px,#00f1ff 134.5px,#00f2ff 139.5px)"></i>
<i style="background:linear-gradient(90deg,#00f2ff 0.5px,#00e7ff 28.5px,#00d5ff 39.5px,#00bcff 44.5px,#00acff 46.5px,#09f 47.5px,#008fff 48.5px,#00d1ff 50.5px,#00f7ff 52.5px,#0afff5 53.5px,#30ffcf 56.5px,#4cffb3 60.5px,#5affa5 66.5px,#58ffa7 74.5px,#48ffb7 79.5px,#32ffcd 82.5px,#00fbff 86.5px,#00d5ff 88.5px,#00b7ff 89.5px,#0093ff 90.5px,#0095ff 91.5px,#00a9ff 92.5px,#00c7ff 96.5px,#00dbff 102.5px,#00edff 118.5px,#00f2ff 139.5px)"></i>
<i style="background:linear-gradient(90deg,#00f2ff 0.5px,#00e7ff 28.5px,#00d2ff 40.5px,#00b8ff 45.5px,#00b0ff 46.5px,#00a3ff 47.5px,#009dff 48.5px,#00d6ff 50.5px,#04fffb 52.5px,#31ffce 55.5px,#4cffb3 58.5px,#61ff9e 63.5px,#6f9 71.5px,#5cffa3 77.5px,#46ffb9 81.5px,#27ffd8 84.5px,#08fff7 86.5px,#00f2ff 87.5px,#00bfff 89.5px,#00a0ff 90.5px,#00a0ff 91.5px,#00b6ff 93.5px,#00d1ff 98.5px,#00e6ff 109.5px,#00f2ff 134.5px,#00f2ff 139.5px)"></i>
<i style="background:linear-gradient(90deg,#00f3ff 0.5px,#00e8ff 28.5px,#00d2ff 40.5px,#00b4ff 46.5px,#00abff 47.5px,#00a7ff 48.5px,#00bfff 49.5px,#00f9ff 51.5px,#21ffde 53.5px,#47ffb8 56.5px,#62ff9d 60.5px,#6fff90 66.5px,#6cff93 75.5px,#59ffa6 80.5px,#3fffc0 83.5px,#13ffec 86.5px,#00feff 87.5px,#0af 90.5px,#00a9ff 91.5px,#00c4ff 95.5px,#00daff 101.5px,#00ecff 116.5px,#00f3ff 139.5px)"></i>
<i style="background:linear-gradient(90deg,#00f3ff 0.5px,#00e9ff 27.5px,#00d5ff 39.5px,#00b7ff 46.5px,#00b0ff 48.5px,#00c5ff 49.5px,#00e8ff 50.5px,#06fff9 51.5px,#2dffd2 53.5px,#53ffac 56.5px,#65ff9a 59.5px,#74ff8b 67.5px,#6eff91 76.5px,#5dffa2 81.5px,#3effc1 84.5px,#1fffe0 86.5px,#0afff5 87.5px,#00efff 88.5px,#00cbff 89.5px,#00b2ff 90.5px,#00afff 91.5px,#00d2ff 98.5px,#00e8ff 110.5px,#00f3ff 137.5px,#00f3ff 139.5px)"></i>
<i style="background:linear-gradient(90deg,#00f3ff 0.5px,#00e9ff 27.5px,#00d6ff 39.5px,#00b5ff 47.5px,#00b6ff 48.5px,#0cf 49.5px,#00f3ff 50.5px,#12ffed 51.5px,#39ffc6 53.5px,#54ffab 55.5px,#69ff96 59.5px,#7f8 67.5px,#71ff8e 76.5px,#5dffa2 82.5px,#4affb5 84.5px,#2bffd4 86.5px,#00faff 88.5px,#00d4ff 89.5px,#00b9ff 90.5px,#00b5ff 91.5px,#00d5ff 99.5px,#00eaff 112.5px,#00f3ff 139.5px)"></i>
<i style="background:linear-gradient(90deg,#00f4ff 0.5px,#00e9ff 27.5px,#00d3ff 40.5px,#00b9ff 47.5px,#0bf 48.5px,#00d5ff 49.5px,#00feff 50.5px,#1effe1 51.5px,#45ffba 53.5px,#53ffac 54.5px,#6cff93 59.5px,#7bff84 67.5px,#75ff8a 76.5px,#60ff9f 82.5px,#5fa 84.5px,#37ffc8 86.5px,#23ffdc 87.5px,#06fff9 88.5px,#0df 89.5px,#00beff 90.5px,#00b9ff 91.5px,#00daff 101.5px,#00edff 116.5px,#00f4ff 139.5px)"></i>
<i style="background:linear-gradient(90deg,#00f4ff 0.5px,#00eaff 27.5px,#00d4ff 40.5px,#0bf 47.5px,#00c0ff 48.5px,#0df 49.5px,#0bfff4 50.5px,#2affd5 51.5px,#50ffaf 53.5px,#6cff93 58.5px,#7cff83 65.5px,#7cff83 74.5px,#69ff96 81.5px,#52ffad 85.5px,#4fb 86.5px,#2fffd0 87.5px,#12ffed 88.5px,#00e6ff 89.5px,#00c3ff 90.5px,#0bf 91.5px,#0df 102.5px,#00efff 118.5px,#00f4ff 139.5px)"></i>
<i style="background:linear-gradient(90deg,#00f4ff 0.5px,#00eaff 27.5px,#00d4ff 40.5px,#00bdff 47.5px,#00c4ff 48.5px,#00e5ff 49.5px,#16ffe9 50.5px,#37ffc8 51.5px,#4bffb4 52.5px,#6bff94 57.5px,#7fff80 64.5px,#80ff7f 73.5px,#70ff8f 80.5px,#5fa 85.5px,#4dffb2 86.5px,#3cffc3 87.5px,#1effe1 88.5px,#00efff 89.5px,#00c8ff 90.5px,#00beff 91.5px,#00e1ff 104.5px,#00f1ff 122.5px,#00f4ff 139.5px)"></i>
<i style="background:linear-gradient(90deg,#00f5ff 0.5px,#00eaff 27.5px,#00d4ff 40.5px,#00bfff 47.5px,#00c7ff 48.5px,#00edff 49.5px,#2fd 50.5px,#43ffbc 51.5px,#5fffa0 54.5px,#7aff85 60.5px,#85ff7a 68.5px,#7dff82 77.5px,#6f9 83.5px,#51ffae 86.5px,#46ffb9 87.5px,#2affd5 88.5px,#00f8ff 89.5px,#0cf 90.5px,#00c0ff 91.5px,#00e3ff 105.5px,#00f2ff 124.5px,#00f5ff 139.5px)"></i>
<i style="background:linear-gradient(90deg,#00f5ff 0.5px,#00ebff 27.5px,#00d5ff 40.5px,#00c1ff 47.5px,#00cbff 48.5px,#00f4ff 49.5px,#2effd1 50.5px,#47ffb8 51.5px,#63ff9c 54.5px,#7dff82 60.5px,#89ff76 68.5px,#81ff7e 77.5px,#6aff95 83.5px,#5fa 86.5px,#4affb5 87.5px,#36ffc9 88.5px,#02fffd 89.5px,#00d0ff 90.5px,#00c1ff 91.5px,#00e5ff 106.5px,#00f3ff 126.5px,#00f5ff 139.5px)"></i>
<i style="background:linear-gradient(90deg,#00f5ff 0.5px,#00ebff 27.5px,#00d5ff 40.5px,#00c2ff 47.5px,#00ceff 48.5px,#00fcff 49.5px,#3fc 50.5px,#4bffb4 51.5px,#6f9 54.5px,#81ff7e 60.5px,#8cff73 68.5px,#84ff7b 77.5px,#6eff91 83.5px,#59ffa6 86.5px,#4effb1 87.5px,#3affc5 88.5px,#0bfff4 89.5px,#00d4ff 90.5px,#00c3ff 91.5px,#00cbff 95.5px,#00e5ff 106.5px,#00f3ff 126.5px,#00f5ff 139.5px)"></i>
<i style="background:linear-gradient(90deg,#00f6ff 0.5px,#00ebff 27.5px,#00d5ff 40.5px,#00c3ff 47.5px,#00d1ff 48.5px,#02fffd 49.5px,#37ffc8 50.5px,#50ffaf 51.5px,#6aff95 54.5px,#85ff7a 60.5px,#90ff6f 68.5px,#8f7 77.5px,#71ff8e 83.5px,#5dffa2 86.5px,#53ffac 87.5px,#3effc1 88.5px,#0efff1 89.5px,#00d8ff 90.5px,#00c4ff 91.5px,#00c8ff 94.5px,#00e4ff 105.5px,#00f3ff 124.5px,#00f6ff 139.5px)"></i>
<i style="background:linear-gradient(90deg,#00f6ff 0.5px,#00ecff 27.5px,#00d6ff 40.5px,#00c4ff 46.5px,#00c4ff 47.5px,#00d4ff 48.5px,#05fffa 49.5px,#3bffc4 50.5px,#54ffab 51.5px,#6eff91 54.5px,#8f7 60.5px,#93ff6c 68.5px,#8bff74 77.5px,#75ff8a 83.5px,#61ff9e 86.5px,#57ffa8 87.5px,#42ffbd 88.5px,#1fe 89.5px,#00daff 90.5px,#00c6ff 91.5px,#00c6ff 93.5px,#00e4ff 105.5px,#00f3ff 124.5px,#00f6ff 139.5px)"></i>
<i style="background:linear-gradient(90deg,#00f6ff 0.5px,#00ecff 27.5px,#00d6ff 40.5px,#00c4ff 46.5px,#00c6ff 47.5px,#00d5ff 48.5px,#08fff7 49.5px,#3fffc0 50.5px,#58ffa7 51.5px,#6cff93 53.5px,#89ff76 59.5px,#97ff68 67.5px,#91ff6e 76.5px,#79ff86 83.5px,#6f9 86.5px,#5bffa4 87.5px,#46ffb9 88.5px,#14ffeb 89.5px,#00dcff 90.5px,#00c7ff 91.5px,#00c6ff 93.5px,#00e4ff 105.5px,#00f3ff 124.5px,#00f6ff 139.5px)"></i>
<i style="background:linear-gradient(90deg,#00f6ff 0.5px,#00ecff 27.5px,#00d6ff 40.5px,#00c5ff 46.5px,#00c6ff 47.5px,#00d6ff 48.5px,#0afff5 49.5px,#43ffbc 50.5px,#5dffa2 51.5px,#70ff8f 53.5px,#8cff73 59.5px,#9aff65 67.5px,#94ff6b 76.5px,#7dff82 83.5px,#6aff95 86.5px,#5fffa0 87.5px,#4affb5 88.5px,#18ffe7 89.5px,#0df 90.5px,#00c7ff 91.5px,#00c7ff 93.5px,#00e5ff 105.5px,#00f4ff 124.5px,#00f7ff 139.5px)"></i>
<i style="background:linear-gradient(90deg,#00f7ff 0.5px,#00edff 27.5px,#00d7ff 40.5px,#00c7ff 46.5px,#00cbff 47.5px,#00dfff 48.5px,#0cfff3 49.5px,#3effc1 50.5px,#5cffa3 51.5px,#73ff8c 53.5px,#90ff6f 59.5px,#9eff61 67.5px,#98ff67 76.5px,#81ff7e 83.5px,#6dff92 86.5px,#5fffa0 87.5px,#46ffb9 88.5px,#17ffe8 89.5px,#00e6ff 90.5px,#00cdff 91.5px,#00c7ff 92.5px,#00e8ff 107.5px,#00f5ff 129.5px,#00f7ff 139.5px)"></i>
<i style="background:linear-gradient(90deg,#00f7ff 0.5px,#00edff 27.5px,#00d7ff 40.5px,#00c7ff 46.5px,#0cf 47.5px,#00e0ff 48.5px,#0ffff0 49.5px,#42ffbd 50.5px,#60ff9f 51.5px,#7f8 53.5px,#94ff6b 59.5px,#a1ff5e 67.5px,#9bff64 76.5px,#84ff7b 83.5px,#71ff8e 86.5px,#64ff9b 87.5px,#4affb5 88.5px,#1affe5 89.5px,#00e8ff 90.5px,#00ceff 91.5px,#00c8ff 92.5px,#00e8ff 107.5px,#00f6ff 129.5px,#00f7ff 139.5px)"></i>
<i style="background:linear-gradient(90deg,#00f7ff 0.5px,#00edff 27.5px,#00d7ff 40.5px,#00c8ff 46.5px,#00cdff 47.5px,#00e2ff 48.5px,#12ffed 49.5px,#46ffb9 50.5px,#64ff9b 51.5px,#73ff8c 52.5px,#8cff73 56.5px,#a0ff5f 63.5px,#a4ff5b 72.5px,#95ff6a 80.5px,#7dff82 85.5px,#68ff97 87.5px,#4effb1 88.5px,#1effe1 89.5px,#00e9ff 90.5px,#00cfff 91.5px,#00c8ff 92.5px,#00e8ff 107.5px,#00f6ff 129.5px,#00f8ff 139.5px)"></i>
<i style="background:linear-gradient(90deg,#00f8ff 0.5px,#0ef 27.5px,#00d7ff 40.5px,#00c8ff 46.5px,#00cdff 47.5px,#00e3ff 48.5px,#15ffea 49.5px,#4affb5 50.5px,#68ff97 51.5px,#7f8 52.5px,#90ff6f 56.5px,#a5ff5a 64.5px,#a7ff58 73.5px,#95ff6a 81.5px,#79ff86 86.5px,#6cff93 87.5px,#52ffad 88.5px,#21ffde 89.5px,#00ebff 90.5px,#00d0ff 91.5px,#00c8ff 92.5px,#00eaff 108.5px,#00f7ff 131.5px,#00f8ff 139.5px)"></i>
<i style="background:linear-gradient(90deg,#00f8ff 0.5px,#0ef 27.5px,#00d8ff 40.5px,#00c9ff 46.5px,#00ceff 47.5px,#00e5ff 48.5px,#17ffe8 49.5px,#4effb1 50.5px,#6dff92 51.5px,#7bff84 52.5px,#94ff6b 56.5px,#a9ff56 64.5px,#af5 73.5px,#98ff67 81.5px,#7dff82 86.5px,#71ff8e 87.5px,#56ffa9 88.5px,#24ffdb 89.5px,#00edff 90.5px,#00d1ff 91.5px,#00c9ff 92.5px,#00eaff 108.5px,#00f7ff 131.5px,#00f8ff 139.5px)"></i>
<i style="background:linear-gradient(90deg,#00f8ff 0.5px,#0ef 27.5px,#00d8ff 40.5px,#00c9ff 46.5px,#00ceff 47.5px,#00e6ff 48.5px,#1affe5 49.5px,#52ffad 50.5px,#71ff8e 51.5px,#80ff7f 52.5px,#97ff68 56.5px,#acff53 64.5px,#aeff51 73.5px,#9cff63 81.5px,#82ff7d 86.5px,#75ff8a 87.5px,#5affa5 88.5px,#26ffd9 89.5px,#0ef 90.5px,#00d1ff 91.5px,#00c9ff 92.5px,#00ebff 108.5px,#00f7ff 131.5px,#00f9ff 139.5px)"></i>
<i style="background:linear-gradient(90deg,#00f9ff 0.5px,#00efff 27.5px,#00d9ff 40.5px,#00c9ff 46.5px,#00cfff 47.5px,#00e7ff 48.5px,#1dffe2 49.5px,#5fa 50.5px,#75ff8a 51.5px,#84ff7b 52.5px,#9bff64 56.5px,#b0ff4f 64.5px,#b1ff4e 73.5px,#a0ff5f 81.5px,#86ff79 86.5px,#79ff86 87.5px,#5effa1 88.5px,#29ffd6 89.5px,#00f0ff 90.5px,#00d2ff 91.5px,#00caff 92.5px,#00ebff 108.5px,#00f8ff 131.5px,#00f9ff 139.5px)"></i>
<i style="background:linear-gradient(90deg,#00faff 0.5px,#00f0ff 27.5px,#00daff 40.5px,#00caff 46.5px,#00d0ff 47.5px,#00e9ff 48.5px,#20ffdf 49.5px,#59ffa6 50.5px,#79ff86 51.5px,#8f7 52.5px,#9fff60 56.5px,#b4ff4b 64.5px,#b5ff4a 73.5px,#a4ff5b 81.5px,#8aff75 86.5px,#7dff82 87.5px,#62ff9d 88.5px,#2dffd2 89.5px,#00f2ff 90.5px,#00d3ff 91.5px,#00cbff 92.5px,#00ebff 107.5px,#00f9ff 129.5px,#00faff 139.5px)"></i>
<i style="background:linear-gradient(90deg,#00fcff 0.5px,#00f1ff 27.5px,#00dbff 40.5px,#00cbff 46.5px,#00d1ff 47.5px,#00ebff 48.5px,#23ffdc 49.5px,#5dffa2 50.5px,#7eff81 51.5px,#8cff73 52.5px,#a3ff5c 56.5px,#b7ff48 64.5px,#b9ff46 73.5px,#a7ff58 81.5px,#8eff71 86.5px,#81ff7e 87.5px,#6f9 88.5px,#30ffcf 89.5px,#00f4ff 90.5px,#00d4ff 91.5px,#0cf 92.5px,#00edff 107.5px,#00faff 129.5px,#00fcff 139.5px)"></i>
<i style="background:linear-gradient(90deg,#00fdff 0.5px,#00f3ff 27.5px,#0df 40.5px,#0cf 46.5px,#00d2ff 47.5px,#00ecff 48.5px,#25ffda 49.5px,#61ff9e 50.5px,#82ff7d 51.5px,#91ff6e 52.5px,#a7ff58 56.5px,#bf4 64.5px,#bcff43 73.5px,#abff54 81.5px,#92ff6d 86.5px,#86ff79 87.5px,#6aff95 88.5px,#3fc 89.5px,#00f5ff 90.5px,#00d5ff 91.5px,#0cf 92.5px,#00edff 106.5px,#00fbff 126.5px,#00fdff 139.5px)"></i>
<i style="background:linear-gradient(90deg,#00feff 0.5px,#00f4ff 27.5px,#00deff 40.5px,#0cf 46.5px,#00d2ff 47.5px,#00edff 48.5px,#28ffd7 49.5px,#65ff9a 50.5px,#86ff79 51.5px,#95ff6a 52.5px,#abff54 56.5px,#bfff40 64.5px,#c0ff3f 73.5px,#afff50 81.5px,#97ff68 86.5px,#8aff75 87.5px,#6eff91 88.5px,#36ffc9 89.5px,#00f7ff 90.5px,#00d5ff 91.5px,#0cf 92.5px,#00ecff 105.5px,#00fcff 124.5px,#00feff 139.5px)"></i>
<i style="background:linear-gradient(90deg,#01fffe 0.5px,#00f5ff 27.5px,#00e2ff 39.5px,#00cbff 46.5px,#00d2ff 47.5px,#0ef 48.5px,#2affd5 49.5px,#68ff97 50.5px,#8aff75 51.5px,#9f6 52.5px,#afff50 56.5px,#c3ff3c 65.5px,#c3ff3c 74.5px,#afff50 82.5px,#9bff64 86.5px,#8eff71 87.5px,#71ff8e 88.5px,#38ffc7 89.5px,#00f7ff 90.5px,#00d5ff 91.5px,#00cbff 92.5px,#00ecff 104.5px,#00fcff 122.5px,#01fffe 139.5px)"></i>
<i style="background:linear-gradient(90deg,#02fffd 0.5px,#00f9ff 24.5px,#00e6ff 38.5px,#00caff 46.5px,#00d1ff 47.5px,#00edff 48.5px,#2cffd3 49.5px,#6cff93 50.5px,#8eff71 51.5px,#9dff62 52.5px,#b2ff4d 56.5px,#c7ff38 65.5px,#c6ff39 74.5px,#b3ff4c 82.5px,#9fff60 86.5px,#92ff6d 87.5px,#75ff8a 88.5px,#3affc5 89.5px,#00f7ff 90.5px,#00d4ff 91.5px,#00caff 92.5px,#00eaff 102.5px,#00fcff 118.5px,#02fffd 139.5px)"></i>
<i style="background:linear-gradient(90deg,#03fffc 0.5px,#00fbff 24.5px,#00e7ff 38.5px,#00cfff 44.5px,#00c8ff 46.5px,#00ceff 47.5px,#00ecff 48.5px,#2dffd2 49.5px,#6fff90 50.5px,#92ff6d 51.5px,#a1ff5e 52.5px,#b6ff49 56.5px,#cbff34 65.5px,#caff35 74.5px,#b3ff4c 83.5px,#a3ff5c 86.5px,#96ff69 87.5px,#78ff87 88.5px,#3cffc3 89.5px,#00f6ff 90.5px,#00d2ff 91.5px,#00c8ff 92.5px,#00d3ff 95.5px,#00e9ff 101.5px,#00fcff 116.5px,#03fffc 139.5px)"></i>
<i style="background:linear-gradient(90deg,#05fffa 0.5px,#00fbff 25.5px,#00e9ff 38.5px,#00d4ff 43.5px,#00c5ff 46.5px,#00cbff 47.5px,#00e9ff 48.5px,#2dffd2 49.5px,#72ff8d 50.5px,#96ff69 51.5px,#a5ff5a 52.5px,#baff45 56.5px,#ceff31 65.5px,#ceff31 74.5px,#b7ff48 83.5px,#a7ff58 86.5px,#9aff65 87.5px,#7cff83 88.5px,#3dffc2 89.5px,#00f4ff 90.5px,#00ceff 91.5px,#00c5ff 92.5px,#00d3ff 95.5px,#00e8ff 100.5px,#00fcff 114.5px,#05fffa 139.5px)"></i>
<i style="background:linear-gradient(90deg,#06fff9 0.5px,#00fcff 26.5px,#00e7ff 39.5px,#00d3ff 43.5px,#00c1ff 46.5px,#00c6ff 47.5px,#00e3ff 48.5px,#2cffd3 49.5px,#75ff8a 50.5px,#9aff65 51.5px,#a9ff56 52.5px,#beff41 56.5px,#d2ff2d 65.5px,#d1ff2e 74.5px,#bf4 83.5px,#abff54 86.5px,#9eff61 87.5px,#7fff80 88.5px,#3dffc2 89.5px,#0ef 90.5px,#00c9ff 91.5px,#00c1ff 92.5px,#00d2ff 95.5px,#00e7ff 99.5px,#00fbff 111.5px,#05fffa 131.5px,#06fff9 139.5px)"></i>
<i style="background:linear-gradient(90deg,#07fff8 0.5px,#00fbff 28.5px,#00e8ff 39.5px,#00d2ff 43.5px,#00bcff 46.5px,#00beff 47.5px,#00d9ff 48.5px,#29ffd6 49.5px,#7f8 50.5px,#9dff62 51.5px,#adff52 52.5px,#c2ff3d 56.5px,#d6ff29 65.5px,#d5ff2a 74.5px,#bfff40 83.5px,#afff50 86.5px,#a2ff5d 87.5px,#82ff7d 88.5px,#3bffc4 89.5px,#00e4ff 90.5px,#00c0ff 91.5px,#00bcff 92.5px,#00d1ff 95.5px,#00e8ff 99.5px,#00fcff 111.5px,#08fff7 139.5px)"></i>
<i style="background:linear-gradient(90deg,#09fff6 0.5px,#00fcff 29.5px,#00eaff 39.5px,#00daff 42.5px,#00b8ff 46.5px,#00b4ff 47.5px,#00c8ff 48.5px,#23ffdc 49.5px,#79ff86 50.5px,#a1ff5e 51.5px,#b1ff4e 52.5px,#c5ff3a 56.5px,#d9ff26 65.5px,#d8ff27 74.5px,#c2ff3d 83.5px,#b3ff4c 86.5px,#a6ff59 87.5px,#85ff7a 88.5px,#38ffc7 89.5px,#00d4ff 90.5px,#00b4ff 91.5px,#00bcff 93.5px,#00e0ff 97.5px,#00f1ff 102.5px,#01fffe 114.5px,#09fff6 139.5px)"></i>
<i style="background:linear-gradient(90deg,#0afff5 0.5px,#00fcff 30.5px,#00ebff 39.5px,#00daff 42.5px,#00a7ff 47.5px,#00afff 48.5px,#19ffe6 49.5px,#7bff84 50.5px,#a5ff5a 51.5px,#b5ff4a 52.5px,#c9ff36 56.5px,#df2 65.5px,#dcff23 74.5px,#c6ff39 83.5px,#b7ff48 86.5px,#a9ff56 87.5px,#87ff78 88.5px,#32ffcd 89.5px,#00bcff 90.5px,#00a4ff 91.5px,#00e0ff 97.5px,#00f2ff 102.5px,#02fffd 113.5px,#0afff5 139.5px)"></i>
<i style="background:linear-gradient(90deg,#0bfff4 0.5px,#01fffe 28.5px,#00edff 39.5px,#00dbff 42.5px,#00aeff 46.5px,#0098ff 47.5px,#0090ff 48.5px,#0cfff3 49.5px,#7dff82 50.5px,#a9ff56 51.5px,#b9ff46 52.5px,#cfff30 57.5px,#e0ff1f 66.5px,#df2 75.5px,#c5ff3a 84.5px,#bf4 86.5px,#adff52 87.5px,#8aff75 88.5px,#2affd5 89.5px,#009fff 90.5px,#0091ff 91.5px,#00acff 92.5px,#00e1ff 97.5px,#00f2ff 101.5px,#01fffe 111.5px,#0cfff3 139.5px)"></i>
<i style="background:linear-gradient(90deg,#0dfff2 0.5px,#02fffd 28.5px,#00f1ff 38.5px,#00e4ff 41.5px,#00c3ff 44.5px,#00abff 46.5px,#008aff 47.5px,#0070ff 48.5px,#0ff 49.5px,#80ff7f 50.5px,#acff53 51.5px,#bdff42 52.5px,#d8ff27 60.5px,#e3ff1c 69.5px,#d9ff26 78.5px,#beff41 86.5px,#b1ff4e 87.5px,#8dff72 88.5px,#2fd 89.5px,#0080ff 90.5px,#007eff 91.5px,#00a8ff 92.5px,#00e2ff 97.5px,#00f3ff 101.5px,#02fffd 110.5px,#0dfff2 138.5px,#0dfff2 139.5px)"></i>
<i style="background:linear-gradient(90deg,#0efff1 0.5px,#04fffb 28.5px,#00f8ff 36.5px,#00ecff 40.5px,#00d1ff 43.5px,#00abff 46.5px,#0058ff 48.5px,#00f6ff 49.5px,#81ff7e 50.5px,#aeff51 51.5px,#baff45 52.5px,#d6ff29 60.5px,#e0ff1f 69.5px,#d6ff29 78.5px,#bf4 86.5px,#b3ff4c 87.5px,#8fff70 88.5px,#1dffe2 89.5px,#0068ff 90.5px,#0071ff 91.5px,#00a7ff 92.5px,#00dbff 96.5px,#00efff 99.5px,#01fffe 108.5px,#0dfff2 132.5px,#0efff1 139.5px)"></i>
<i style="background:linear-gradient(90deg,#10ffef 0.5px,#05fffa 28.5px,#00faff 36.5px,#0ef 40.5px,#00d4ff 43.5px,#00aeff 46.5px,#004aff 48.5px,#00e9ff 49.5px,#7bff84 50.5px,#a9ff56 51.5px,#b8ff47 53.5px,#d0ff2f 60.5px,#daff25 70.5px,#ceff31 79.5px,#b4ff4b 86.5px,#adff52 87.5px,#89ff76 88.5px,#12ffed 89.5px,#0059ff 90.5px,#006dff 91.5px,#00a9ff 92.5px,#0df 96.5px,#00f1ff 99.5px,#02fffd 107.5px,#0ffff0 130.5px,#10ffef 139.5px)"></i>
<i style="background:linear-gradient(90deg,#1fe 0.5px,#07fff8 28.5px,#00fbff 36.5px,#00f0ff 40.5px,#00d7ff 43.5px,#00b4ff 46.5px,#0085ff 47.5px,#0049ff 48.5px,#00d5ff 49.5px,#69ff96 50.5px,#9f6 51.5px,#adff52 53.5px,#c3ff3c 58.5px,#d1ff2e 67.5px,#cbff34 77.5px,#b9ff46 83.5px,#9eff61 87.5px,#78ff87 88.5px,#00fcff 89.5px,#0054ff 90.5px,#0074ff 91.5px,#00b0ff 92.5px,#00e9ff 97.5px,#00f9ff 101.5px,#05fffa 108.5px,#10ffef 133.5px,#1fe 139.5px)"></i>
<i style="background:linear-gradient(90deg,#12ffed 0.5px,#08fff7 29.5px,#00fcff 37.5px,#0ef 41.5px,#00beff 46.5px,#0096ff 47.5px,#005aff 48.5px,#00c8ff 49.5px,#51ffae 50.5px,#84ff7b 51.5px,#9fff60 53.5px,#b5ff4a 56.5px,#c6ff39 62.5px,#c9ff36 73.5px,#baff45 81.5px,#a1ff5e 85.5px,#89ff76 87.5px,#60ff9f 88.5px,#00eaff 89.5px,#0060ff 90.5px,#0086ff 91.5px,#00baff 92.5px,#00ecff 97.5px,#00fbff 101.5px,#0bfff4 113.5px,#12ffed 139.5px)"></i>
<i style="background:linear-gradient(90deg,#14ffeb 0.5px,#0afff5 29.5px,#00fcff 38.5px,#00eaff 42.5px,#00c9ff 46.5px,#00acff 47.5px,#007bff 48.5px,#00cbff 49.5px,#3dffc2 50.5px,#6fff90 51.5px,#96ff69 53.5px,#b4ff4b 56.5px,#c5ff3a 61.5px,#c9ff36 73.5px,#beff41 80.5px,#aeff51 83.5px,#98ff67 85.5px,#75ff8a 87.5px,#4bffb4 88.5px,#00e6ff 89.5px,#007fff 90.5px,#00c7ff 92.5px,#00f0ff 97.5px,#0ff 102.5px,#10ffef 120.5px,#14ffeb 139.5px)"></i>
<i style="background:linear-gradient(90deg,#15ffea 0.5px,#0cfff3 29.5px,#00fdff 39.5px,#00efff 42.5px,#00d4ff 46.5px,#00c1ff 47.5px,#00a2ff 48.5px,#00d9ff 49.5px,#30ffcf 50.5px,#5dffa2 51.5px,#8bff74 53.5px,#a8ff57 55.5px,#bf4 58.5px,#c6ff39 65.5px,#c1ff3e 78.5px,#b2ff4d 82.5px,#9eff61 84.5px,#7bff84 86.5px,#63ff9c 87.5px,#3bffc4 88.5px,#00edff 89.5px,#00a4ff 90.5px,#00d2ff 92.5px,#00f9ff 98.5px,#03fffc 102.5px,#12ffed 121.5px,#16ffe9 139.5px)"></i>
<i style="background:linear-gradient(90deg,#17ffe8 0.5px,#0dfff2 30.5px,#00fdff 40.5px,#00deff 46.5px,#00d4ff 47.5px,#00c5ff 48.5px,#00ecff 49.5px,#2affd5 50.5px,#50ffaf 51.5px,#81ff7e 53.5px,#9fff60 55.5px,#b3ff4c 58.5px,#bdff42 65.5px,#b9ff46 78.5px,#af5 82.5px,#95ff6a 84.5px,#6fff90 86.5px,#56ffa9 87.5px,#3fc 88.5px,#00f9ff 89.5px,#00c7ff 90.5px,#0df 92.5px,#0ff 99.5px,#12ffed 115.5px,#17ffe8 139.5px)"></i>
<i style="background:linear-gradient(90deg,#19ffe6 0.5px,#0ffff0 30.5px,#00fdff 41.5px,#00e7ff 46.5px,#00e1ff 48.5px,#00fcff 49.5px,#28ffd7 50.5px,#47ffb8 51.5px,#76ff89 53.5px,#93ff6c 55.5px,#a7ff58 58.5px,#b0ff4f 66.5px,#af5 79.5px,#9eff61 82.5px,#8aff75 84.5px,#65ff9a 86.5px,#2fffd0 88.5px,#06fff9 89.5px,#00e3ff 90.5px,#00ecff 94.5px,#01fffe 98.5px,#12ffed 112.5px,#19ffe6 139.5px)"></i>
<i style="background:linear-gradient(90deg,#1bffe4 0.5px,#1fe 31.5px,#03fffc 41.5px,#00f0ff 46.5px,#00f4ff 48.5px,#09fff6 49.5px,#42ffbd 51.5px,#6cff93 53.5px,#87ff78 55.5px,#98ff67 58.5px,#a0ff5f 66.5px,#9bff64 79.5px,#90ff6f 82.5px,#7eff81 84.5px,#5dffa2 86.5px,#2dffd2 88.5px,#0ffff0 89.5px,#00f6ff 90.5px,#00f0ff 92.5px,#02fffd 97.5px,#13ffec 109.5px,#1bffe4 139.5px)"></i>
<i style="background:linear-gradient(90deg,#1cffe3 0.5px,#13ffec 32.5px,#04fffb 42.5px,#00f9ff 46.5px,#02fffd 48.5px,#12ffed 49.5px,#52ffad 52.5px,#70ff8f 54.5px,#87ff78 57.5px,#90ff6f 63.5px,#8dff72 79.5px,#7cff83 83.5px,#6f9 85.5px,#2dffd2 88.5px,#04fffb 90.5px,#00f9ff 93.5px,#03fffc 96.5px,#13ffec 106.5px,#1cffe3 139.5px)"></i>
<i style="background:linear-gradient(90deg,#1effe1 0.5px,#15ffea 33.5px,#06fff9 43.5px,#02fffd 46.5px,#0bfff4 48.5px,#2affd5 50.5px,#5bffa4 53.5px,#76ff89 56.5px,#81ff7e 61.5px,#7fff80 79.5px,#71ff8e 83.5px,#50ffaf 86.5px,#0dfff2 90.5px,#02fffd 92.5px,#16ffe9 106.5px,#1effe1 139.5px)"></i>
<i style="background:linear-gradient(90deg,#20ffdf 0.5px,#16ffe9 35.5px,#09fff6 46.5px,#12ffed 48.5px,#2bffd4 50.5px,#54ffab 53.5px,#6bff94 56.5px,#75ff8a 62.5px,#73ff8c 79.5px,#67ff98 83.5px,#4bffb4 86.5px,#14ffeb 90.5px,#0afff5 92.5px,#1bffe4 112.5px,#20ffdf 139.5px)"></i>
<i style="background:linear-gradient(90deg,#21ffde 0.5px,#19ffe6 36.5px,#10ffef 46.5px,#20ffdf 49.5px,#4effb1 53.5px,#61ff9e 56.5px,#6aff95 63.5px,#67ff98 80.5px,#58ffa7 84.5px,#3bffc4 87.5px,#19ffe6 90.5px,#0ffff0 93.5px,#1effe1 114.5px,#21ffde 139.5px)"></i>
<i style="background:linear-gradient(90deg,#23ffdc 0.5px,#1affe5 38.5px,#16ffe9 46.5px,#23ffdc 49.5px,#50ffaf 54.5px,#5dffa2 58.5px,#5effa1 80.5px,#51ffae 84.5px,#2fffd0 88.5px,#19ffe6 91.5px,#16ffe9 95.5px,#2fd 121.5px,#23ffdc 139.5px)"></i>
<i style="background:linear-gradient(90deg,#25ffda 0.5px,#1cffe3 40.5px,#1dffe2 47.5px,#2effd1 50.5px,#4bffb4 54.5px,#56ffa9 59.5px,#54ffab 81.5px,#46ffb9 85.5px,#21ffde 90.5px,#1affe5 94.5px,#24ffdb 126.5px,#25ffda 139.5px)"></i>
<i style="background:linear-gradient(90deg,#26ffd9 0.5px,#1effe1 42.5px,#20ffdf 47.5px,#35ffca 51.5px,#49ffb6 55.5px,#4fffb0 63.5px,#4cffb3 82.5px,#3dffc2 86.5px,#21ffde 91.5px,#20ffdf 99.5px,#26ffd9 139.5px)"></i>
<i style="background:linear-gradient(90deg,#28ffd7 0.5px,#23ffdc 47.5px,#4fb 55.5px,#47ffb8 67.5px,#45ffba 83.5px,#24ffdb 91.5px,#24ffdb 103.5px,#28ffd7 139.5px)"></i>
<i style="background:linear-gradient(90deg,#2affd5 0.5px,#26ffd9 47.5px,#41ffbe 56.5px,#40ffbf 83.5px,#25ffda 92.5px,#2affd5 139.5px)"></i>
<i style="background:linear-gradient(90deg,#2bffd4 0.5px,#29ffd6 47.5px,#3dffc2 56.5px,#3bffc4 84.5px,#28ffd7 92.5px,#2bffd4 139.5px)"></i>
<i style="background:linear-gradient(90deg,#2dffd2 0.5px,#2cffd3 48.5px,#3affc5 56.5px,#38ffc7 76.5px,#37ffc8 85.5px,#2affd5 93.5px,#2dffd2 139.5px)"></i>
<i style="background:linear-gradient(90deg,#2fffd0 0.5px,#2dffd2 48.5px,#37ffc8 57.5px,#3fc 74.5px,#36ffc9 85.5px,#2cffd3 94.5px,#2fffd0 139.5px)"></i>
<i style="background:linear-gradient(90deg,#31ffce 0.5px,#30ffcf 49.5px,#34ffcb 58.5px,#2fffd0 73.5px,#34ffcb 86.5px,#2effd1 96.5px,#31ffce 139.5px)"></i>
<i style="background:linear-gradient(90deg,#32ffcd 0.5px,#32ffcd 50.5px,#31ffce 60.5px,#2dffd2 73.5px,#34ffcb 86.5px,#31ffce 101.5px,#32ffcd 139.5px)"></i>
<i style="background:linear-gradient(90deg,#34ffcb 0.5px,#32ffcd 58.5px,#2bffd4 72.5px,#34ffcb 87.5px,#34ffcb 139.5px)"></i>
<i style="background:linear-gradient(90deg,#36ffc9 0.5px,#31ffce 58.5px,#2affd5 72.5px,#34ffcb 88.5px,#36ffc9 139.5px)"></i>
<i style="background:linear-gradient(90deg,#38ffc7 0.5px,#3fc 57.5px,#2affd5 71.5px,#35ffca 89.5px,#38ffc7 139.5px)"></i>
<i style="background:linear-gradient(90deg,#39ffc6 0.5px,#34ffcb 57.5px,#2cffd3 72.5px,#37ffc8 90.5px,#39ffc6 139.5px)"></i>
<i style="background:linear-gradient(90deg,#3cffc3 0.5px,#37ffc8 56.5px,#2fffd0 72.5px,#3affc5 93.5px,#3cffc3 139.5px)"></i>
<i style="background:linear-gradient(90deg,#3effc1 0.5px,#39ffc6 57.5px,#3fc 73.5px,#3dffc2 96.5px,#3effc1 139.5px)"></i>
<i style="background:linear-gradient(90deg,#41ffbe 0.5px,#3cffc3 58.5px,#38ffc7 74.5px,#40ffbf 101.5px,#41ffbe 139.5px)"></i>
<i style="background:linear-gradient(90deg,#43ffbc 0.5px,#3fffc0 59.5px,#3dffc2 76.5px,#43ffbc 113.5px,#43ffbc 139.5px)"></i>
<i style="background:linear-gradient(90deg,#46ffb9 0.5px,#41ffbe 61.5px,#43ffbc 82.5px,#46ffb9 139.5px)"></i>
<i style="background:linear-gradient(90deg,#49ffb6 0.5px,#46ffb9 80.5px,#49ffb6 139.5px)"></i>
<i style="background:linear-gradient(90deg,#4bffb4 0.5px,#4affb5 84.5px,#4bffb4 139.5px)"></i>
<i style="background:linear-gradient(90deg,#4effb1 0.5px,#4effb1 139.5px)"></i>
<i style="background:linear-gradient(90deg,#51ffae 0.5px,#51ffae 139.5px)"></i>
</div>
<div class="ax" style="left:304px;top:367.2px;width:1px;height:131.8px"></div>
<div class="ax" style="left:304px;top:498px;width:140.0px;height:1px"></div>
<div class="ax" style="left:304.9px;top:497.8px;width:1px;height:3px"></div>
<div class="tl" style="left:294.4px;top:501.6px;width:20px;text-align:center">-80</div>
<div class="ax" style="left:322.1px;top:497.8px;width:1px;height:3px"></div>
<div class="tl" style="left:311.6px;top:501.6px;width:20px;text-align:center">-60</div>
<div class="ax" style="left:339.2px;top:497.8px;width:1px;height:3px"></div>
<div class="tl" style="left:328.7px;top:501.6px;width:20px;text-align:center">-40</div>
<div class="ax" style="left:356.4px;top:497.8px;width:1px;height:3px"></div>
<div class="tl" style="left:345.9px;top:501.6px;width:20px;text-align:center">-20</div>
<div class="ax" style="left:373.5px;top:497.8px;width:1px;height:3px"></div>
<div class="tl" style="left:363.0px;top:501.6px;width:20px;text-align:center">0</div>
<div class="ax" style="left:390.6px;top:497.8px;width:1px;height:3px"></div>
<div class="tl" style="left:380.1px;top:501.6px;width:20px;text-align:center">20</div>
<div class="ax" style="left:407.8px;top:497.8px;width:1px;height:3px"></div>
<div class="tl" style="left:397.3px;top:501.6px;width:20px;text-align:center">40</div>
<div class="ax" style="left:424.9px;top:497.8px;width:1px;height:3px"></div>
<div class="tl" style="left:414.4px;top:501.6px;width:20px;text-align:center">60</div>
<div class="ax" style="left:442.1px;top:497.8px;width:1px;height:3px"></div>
<div class="tl" style="left:431.6px;top:501.6px;width:20px;text-align:center">80</div>
<div class="ax" style="left:302.2px;top:492.2px;width:3px;height:1px"></div>
<div class="tl" style="left:281.0px;top:489.5px;width:20px;text-align:right">-60</div>
<div class="ax" style="left:302.2px;top:466.9px;width:3px;height:1px"></div>
<div class="tl" style="left:281.0px;top:464.2px;width:20px;text-align:right">-40</div>
<div class="ax" style="left:302.2px;top:441.7px;width:3px;height:1px"></div>
<div class="tl" style="left:281.0px;top:439.0px;width:20px;text-align:right">-20</div>
<div class="ax" style="left:302.2px;top:416.4px;width:3px;height:1px"></div>
<div class="tl" style="left:281.0px;top:413.8px;width:20px;text-align:right">0</div>
<div class="ax" style="left:302.2px;top:391.2px;width:3px;height:1px"></div>
<div class="tl" style="left:281.0px;top:388.5px;width:20px;text-align:right">20</div>
<div class="al" style="left:330.6px;top:512.8px;width:80px;text-align:center">x(m) (x10^-9)</div>
<div class="al yl" style="left:243.1px;top:431.7px;width:80px;text-align:center">y(m) (x10^-9)</div>
<div class="tt" style="left:245.5px;top:371.8px;transform:scaleX(0.85)">Py</div>
<div class="p" style="left:533.2px;top:367.9px;width:142.6px;height:134.2px">
<i style="background:linear-gradient(90deg,#96ff69 0.5px,#a5ff5a 47.5px,#94ff6b 61.5px,#5fffa0 88.5px,#5affa5 102.5px,#6aff95 142.5px)"></i>
<i style="background:linear-gradient(90deg,#96ff69 0.5px,#a6ff59 47.5px,#96ff69 60.5px,#5effa1 88.5px,#59ffa6 102.5px,#69ff96 142.5px)"></i>
<i style="background:linear-gradient(90deg,#96ff69 0.5px,#a7ff58 47.5px,#97ff68 60.5px,#5effa1 88.5px,#58ffa7 102.5px,#69ff96 142.5px)"></i>
<i style="background:linear-gradient(90deg,#96ff69 0.5px,#a8ff57 47.5px,#97ff68 60.5px,#5dffa2 88.5px,#57ffa8 101.5px,#69ff96 142.5px)"></i>
<i style="background:linear-gradient(90deg,#96ff69 0.5px,#a9ff56 47.5px,#98ff67 60.5px,#5cffa3 88.5px,#56ffa9 101.5px,#69ff96 142.5px)"></i>
<i style="background:linear-gradient(90deg,#96ff69 0.5px,#af5 47.5px,#9bff64 59.5px,#5bffa4 88.5px,#56ffa9 101.5px,#69ff96 142.5px)"></i>
<i style="background:linear-gradient(90deg,#96ff69 0.5px,#abff54 47.5px,#9bff64 59.5px,#5affa5 88.5px,#54ffab 100.5px,#69ff96 142.5px)"></i>
<i style="background:linear-gradient(90deg,#96ff69 0.5px,#acff53 47.5px,#9cff63 59.5px,#59ffa6 88.5px,#53ffac 100.5px,#69ff96 142.5px)"></i>
<i style="background:linear-gradient(90deg,#96ff69 0.5px,#adff52 47.5px,#9dff62 59.5px,#58ffa7 88.5px,#52ffad 100.5px,#69ff96 142.5px)"></i>
<i style="background:linear-gradient(90deg,#96ff69 0.5px,#abff54 37.5px,#adff52 49.5px,#9bff64 60.5px,#57ffa8 88.5px,#51ffae 99.5px,#69ff96 141.5px,#69ff96 142.5px)"></i>
<i style="background:linear-gradient(90deg,#96ff69 0.5px,#abff54 35.5px,#afff50 48.5px,#9eff61 59.5px,#56ffa9 88.5px,#50ffaf 99.5px,#68ff97 140.5px,#69ff96 142.5px)"></i>
<i style="background:linear-gradient(90deg,#96ff69 0.5px,#af5 33.5px,#b1ff4e 47.5px,#a1ff5e 58.5px,#5fa 88.5px,#4effb1 99.5px,#68ff97 138.5px,#69ff96 142.5px)"></i>
<i style="background:linear-gradient(90deg,#96ff69 0.5px,#a9ff56 32.5px,#b2ff4d 47.5px,#a2ff5d 58.5px,#54ffab 88.5px,#4dffb2 99.5px,#67ff98 137.5px,#69ff96 142.5px)"></i>
<i style="background:linear-gradient(90deg,#96ff69 0.5px,#a9ff56 31.5px,#b3ff4c 47.5px,#a6ff59 57.5px,#52ffad 88.5px,#4cffb3 99.5px,#67ff98 136.5px,#69ff96 142.5px)"></i>
<i style="background:linear-gradient(90deg,#96ff69 0.5px,#a9ff56 30.5px,#b5ff4a 47.5px,#a7ff58 57.5px,#51ffae 88.5px,#4affb5 98.5px,#6f9 135.5px,#69ff96 142.5px)"></i>
<i style="background:linear-gradient(90deg,#97ff68 0.5px,#a8ff57 29.5px,#b7ff48 46.5px,#af5 56.5px,#50ffaf 88.5px,#48ffb7 98.5px,#65ff9a 133.5px,#69ff96 142.5px)"></i>
<i style="background:linear-gradient(90deg,#97ff68 0.5px,#a9ff56 29.5px,#b9ff46 46.5px,#acff53 56.5px,#4effb1 88.5px,#47ffb8 98.5px,#65ff9a 132.5px,#69ff96 142.5px)"></i>
<i style="background:linear-gradient(90deg,#97ff68 0.5px,#a9ff56 28.5px,#bf4 46.5px,#adff52 56.5px,#4dffb2 88.5px,#45ffba 98.5px,#64ff9b 131.5px,#68ff97 142.5px)"></i>
<i style="background:linear-gradient(90deg,#97ff68 0.5px,#a8ff57 27.5px,#bcff43 46.5px,#aeff51 56.5px,#4bffb4 88.5px,#43ffbc 98.5px,#63ff9c 129.5px,#68ff97 142.5px)"></i>
<i style="background:linear-gradient(90deg,#97ff68 0.5px,#a9ff56 27.5px,#beff41 46.5px,#b2ff4d 55.5px,#48ffb7 89.5px,#42ffbd 98.5px,#62ff9d 128.5px,#68ff97 142.5px)"></i>
<i style="background:linear-gradient(90deg,#97ff68 0.5px,#a8ff57 26.5px,#c0ff3f 46.5px,#b4ff4b 55.5px,#46ffb9 89.5px,#40ffbf 98.5px,#61ff9e 127.5px,#68ff97 142.5px)"></i>
<i style="background:linear-gradient(90deg,#97ff68 0.5px,#a8ff57 26.5px,#c2ff3d 46.5px,#b5ff4a 55.5px,#4fb 89.5px,#3dffc2 97.5px,#60ff9f 126.5px,#68ff97 142.5px)"></i>
<i style="background:linear-gradient(90deg,#97ff68 0.5px,#a9ff56 26.5px,#c4ff3b 46.5px,#baff45 54.5px,#42ffbd 89.5px,#3bffc4 97.5px,#5fffa0 125.5px,#68ff97 142.5px)"></i>
<i style="background:linear-gradient(90deg,#97ff68 0.5px,#a8ff57 25.5px,#c7ff38 46.5px,#bcff43 54.5px,#40ffbf 89.5px,#39ffc6 97.5px,#5effa1 124.5px,#68ff97 142.5px)"></i>
<i style="background:linear-gradient(90deg,#97ff68 0.5px,#a9ff56 25.5px,#c9ff36 46.5px,#beff41 54.5px,#3effc1 89.5px,#37ffc8 97.5px,#5dffa2 123.5px,#68ff97 142.5px)"></i>
<i style="background:linear-gradient(90deg,#97ff68 0.5px,#a9ff56 25.5px,#cf3 46.5px,#c0ff3f 54.5px,#3cffc3 89.5px,#34ffcb 97.5px,#5bffa4 121.5px,#68ff97 142.5px)"></i>
<i style="background:linear-gradient(90deg,#97ff68 0.5px,#a8ff57 24.5px,#ceff31 46.5px,#c5ff3a 53.5px,#39ffc6 89.5px,#31ffce 96.5px,#5bffa4 121.5px,#68ff97 142.5px)"></i>
<i style="background:linear-gradient(90deg,#97ff68 0.5px,#a8ff57 24.5px,#d1ff2e 46.5px,#c7ff38 53.5px,#37ffc8 89.5px,#2effd1 96.5px,#59ffa6 120.5px,#68ff97 142.5px)"></i>
<i style="background:linear-gradient(90deg,#97ff68 0.5px,#a9ff56 24.5px,#d4ff2b 46.5px,#caff35 53.5px,#78ff87 73.5px,#34ffcb 89.5px,#2cffd3 96.5px,#58ffa7 119.5px,#68ff97 142.5px)"></i>
<i style="background:linear-gradient(90deg,#97ff68 0.5px,#a8ff57 23.5px,#c8ff37 39.5px,#d7ff28 46.5px,#cf3 53.5px,#7fff80 71.5px,#2fffd0 90.5px,#2affd5 97.5px,#5fa 117.5px,#67ff98 140.5px,#68ff97 142.5px)"></i>
<i style="background:linear-gradient(90deg,#97ff68 0.5px,#a8ff57 23.5px,#c7ff38 38.5px,#daff25 46.5px,#d2ff2d 52.5px,#7fff80 71.5px,#49ffb6 83.5px,#2cffd3 90.5px,#26ffd9 96.5px,#5fa 117.5px,#67ff98 139.5px,#68ff97 142.5px)"></i>
<i style="background:linear-gradient(90deg,#97ff68 0.5px,#a8ff57 23.5px,#c6ff39 37.5px,#df2 46.5px,#d5ff2a 52.5px,#82ff7d 70.5px,#53ffac 81.5px,#29ffd6 90.5px,#23ffdc 96.5px,#53ffac 116.5px,#6f9 137.5px,#68ff97 142.5px)"></i>
<i style="background:linear-gradient(90deg,#97ff68 0.5px,#a9ff56 23.5px,#c7ff38 37.5px,#e0ff1f 46.5px,#d8ff27 52.5px,#86ff79 69.5px,#57ffa8 80.5px,#25ffda 90.5px,#1fffe0 96.5px,#4fffb0 114.5px,#64ff9b 133.5px,#68ff97 142.5px)"></i>
<i style="background:linear-gradient(90deg,#97ff68 0.5px,#a9ff56 23.5px,#c5ff3a 36.5px,#e4ff1b 46.5px,#dfff20 51.5px,#bdff42 58.5px,#8aff75 68.5px,#56ffa9 80.5px,#2fd 90.5px,#1cffe3 96.5px,#4cffb3 113.5px,#62ff9d 130.5px,#68ff97 142.5px)"></i>
<i style="background:linear-gradient(90deg,#97ff68 0.5px,#a8ff57 22.5px,#c4ff3b 35.5px,#e7ff18 46.5px,#e3ff1c 51.5px,#bfff40 58.5px,#8bff74 68.5px,#5fa 80.5px,#1effe1 90.5px,#17ffe8 95.5px,#4effb1 114.5px,#63ff9c 132.5px,#68ff97 142.5px)"></i>
<i style="background:linear-gradient(90deg,#97ff68 0.5px,#a8ff57 22.5px,#c5ff3a 35.5px,#ebff14 46.5px,#e6ff19 51.5px,#c1ff3e 58.5px,#8fff70 67.5px,#5affa5 79.5px,#1bffe4 90.5px,#13ffec 95.5px,#49ffb6 112.5px,#60ff9f 128.5px,#68ff97 142.5px)"></i>
<i style="background:linear-gradient(90deg,#97ff68 0.5px,#a8ff57 22.5px,#c2ff3d 34.5px,#efff10 46.5px,#ef1 50.5px,#cfff30 56.5px,#94ff6b 66.5px,#59ffa6 79.5px,#17ffe8 90.5px,#0ffff0 94.5px,#17ffe8 98.5px,#4fb 110.5px,#5cffa3 124.5px,#68ff97 142.5px)"></i>
<i style="background:linear-gradient(90deg,#97ff68 0.5px,#a9ff56 22.5px,#c3ff3c 34.5px,#f3ff0c 46.5px,#f3ff0c 50.5px,#d2ff2d 56.5px,#9f6 65.5px,#59ffa6 79.5px,#13ffec 90.5px,#0afff5 93.5px,#10ffef 97.5px,#40ffbf 109.5px,#5affa5 122.5px,#68ff97 142.5px)"></i>
<i style="background:linear-gradient(90deg,#97ff68 0.5px,#a9ff56 22.5px,#c4ff3b 34.5px,#f8ff07 46.5px,#f8ff07 50.5px,#d4ff2b 56.5px,#9f6 65.5px,#58ffa7 79.5px,#09fff6 91.5px,#06fff9 95.5px,#3fffc0 109.5px,#5affa5 122.5px,#68ff97 142.5px)"></i>
<i style="background:linear-gradient(90deg,#97ff68 0.5px,#a9ff56 22.5px,#c5ff3a 34.5px,#feff01 47.5px,#feff01 50.5px,#bfff40 59.5px,#90ff6f 67.5px,#58ffa7 79.5px,#04fffb 91.5px,#0ff 94.5px,#0efff1 98.5px,#3cffc3 108.5px,#57ffa8 120.5px,#68ff97 142.5px)"></i>
<i style="background:linear-gradient(90deg,#97ff68 0.5px,#a9ff56 22.5px,#c2ff3d 33.5px,#ebff14 42.5px,#fffd00 46.5px,#fff500 49.5px,#ff0 51.5px,#a5ff5a 63.5px,#57ffa8 79.5px,#00fcff 91.5px,#00f6ff 93.5px,#0ff 96.5px,#37ffc8 107.5px,#53ffac 118.5px,#6f9 138.5px,#68ff97 142.5px)"></i>
<i style="background:linear-gradient(90deg,#97ff68 0.5px,#a8ff57 21.5px,#c3ff3c 33.5px,#e7ff18 41.5px,#fffe00 45.5px,#ffeb00 49.5px,#fe0 50.5px,#fdff02 52.5px,#acff53 62.5px,#7fff80 71.5px,#57ffa8 79.5px,#10ffef 88.5px,#00feff 90.5px,#00ecff 92.5px,#00f5ff 95.5px,#01fffe 97.5px,#3fc 106.5px,#50ffaf 116.5px,#64ff9b 134.5px,#68ff97 142.5px)"></i>
<i style="background:linear-gradient(90deg,#97ff68 0.5px,#a8ff57 21.5px,#c3ff3c 33.5px,#e9ff16 41.5px,#feff01 44.5px,#ffde00 49.5px,#ffe200 50.5px,#fffc00 52.5px,#adff52 62.5px,#83ff7c 70.5px,#56ffa9 79.5px,#16ffe9 87.5px,#03fffc 89.5px,#00dfff 92.5px,#00e0ff 93.5px,#00fcff 97.5px,#32ffcd 106.5px,#4fffb0 116.5px,#63ff9c 133.5px,#68ff97 142.5px)"></i>
<i style="background:linear-gradient(90deg,#97ff68 0.5px,#a8ff57 21.5px,#c0ff3f 32.5px,#e5ff1a 40.5px,#fffd00 44.5px,#ffd800 48.5px,#ffcd00 49.5px,#ffd200 50.5px,#fff600 52.5px,#fbff04 53.5px,#bf4 60.5px,#90ff6f 67.5px,#5cffa3 78.5px,#27ffd8 85.5px,#00feff 89.5px,#00cdff 92.5px,#00d0ff 93.5px,#00f0ff 96.5px,#01fffe 98.5px,#2cffd3 105.5px,#4bffb4 114.5px,#60ff9f 129.5px,#68ff97 142.5px)"></i>
<i style="background:linear-gradient(90deg,#97ff68 0.5px,#a8ff57 21.5px,#c1ff3e 32.5px,#e0ff1f 39.5px,#fcff03 43.5px,#ffe700 46.5px,#ffc900 48.5px,#ffb800 49.5px,#ffbe00 50.5px,#fff000 52.5px,#feff01 53.5px,#c4ff3b 59.5px,#95ff6a 66.5px,#5cffa3 78.5px,#26ffd9 85.5px,#08fff7 88.5px,#00faff 89.5px,#00e8ff 90.5px,#00b8ff 92.5px,#00bdff 93.5px,#00e0ff 95.5px,#00fdff 98.5px,#30ffcf 106.5px,#4fffb0 116.5px,#63ff9c 133.5px,#68ff97 142.5px)"></i>
<i style="background:linear-gradient(90deg,#97ff68 0.5px,#a8ff57 21.5px,#c1ff3e 32.5px,#e1ff1e 39.5px,#ff0 43.5px,#ffe100 46.5px,#ffd100 47.5px,#ffa000 49.5px,#ffa800 50.5px,#ffeb00 52.5px,#fffd00 53.5px,#bcff43 60.5px,#90ff6f 67.5px,#5cffa3 78.5px,#25ffda 85.5px,#06fff9 88.5px,#00f7ff 89.5px,#00e0ff 90.5px,#00bdff 91.5px,#00a0ff 92.5px,#00a8ff 93.5px,#00c4ff 94.5px,#00d8ff 95.5px,#00faff 98.5px,#0cfff3 100.5px,#30ffcf 106.5px,#4dffb2 115.5px,#62ff9d 131.5px,#68ff97 142.5px)"></i>
<i style="background:linear-gradient(90deg,#97ff68 0.5px,#a8ff57 21.5px,#c1ff3e 32.5px,#e3ff1c 39.5px,#fffd00 43.5px,#ffdb00 46.5px,#ffc600 47.5px,#ff8900 49.5px,#ff9300 50.5px,#ffc100 51.5px,#ffe700 52.5px,#fffc00 53.5px,#c3ff3c 59.5px,#95ff6a 66.5px,#5dffa2 78.5px,#2fffd0 84.5px,#06fff9 88.5px,#00f5ff 89.5px,#00daff 90.5px,#00aeff 91.5px,#08f 92.5px,#0092ff 93.5px,#00b5ff 94.5px,#00d0ff 95.5px,#00edff 97.5px,#01fffe 99.5px,#2affd5 105.5px,#48ffb7 113.5px,#5fffa0 127.5px,#68ff97 142.5px)"></i>
<i style="background:linear-gradient(90deg,#97ff68 0.5px,#a8ff57 21.5px,#c2ff3d 32.5px,#e4ff1b 39.5px,#fbff04 42.5px,#fff000 44.5px,#ffd500 46.5px,#ffbc00 47.5px,#ff7600 49.5px,#ff8300 50.5px,#fb0 51.5px,#ffe700 52.5px,#ff0 53.5px,#d3ff2c 57.5px,#9fff60 64.5px,#58ffa7 79.5px,#29ffd6 85.5px,#09fff6 88.5px,#00f7ff 89.5px,#00d9ff 90.5px,#0076ff 92.5px,#0082ff 93.5px,#00c8ff 95.5px,#00dcff 96.5px,#00feff 99.5px,#29ffd6 105.5px,#48ffb7 113.5px,#5fffa0 127.5px,#68ff97 142.5px)"></i>
<i style="background:linear-gradient(90deg,#97ff68 0.5px,#a8ff57 21.5px,#c2ff3d 32.5px,#e5ff1a 39.5px,#fdff02 42.5px,#ffe000 45.5px,#ffd000 46.5px,#ffb300 47.5px,#f80 48.5px,#ff7000 49.5px,#ff8300 50.5px,#ffc300 51.5px,#fff100 52.5px,#f6ff09 53.5px,#cf3 57.5px,#9dff62 64.5px,#5bffa4 79.5px,#26ffd9 86.5px,#12ffed 88.5px,#02fffd 89.5px,#00e1ff 90.5px,#0071ff 92.5px,#0078ff 93.5px,#00c0ff 95.5px,#00d7ff 96.5px,#00fbff 99.5px,#23ffdc 104.5px,#45ffba 112.5px,#5dffa2 125.5px,#68ff97 142.5px)"></i>
<i style="background:linear-gradient(90deg,#97ff68 0.5px,#a8ff57 21.5px,#c2ff3d 32.5px,#e6ff19 39.5px,#ff0 42.5px,#ffdc00 45.5px,#ffcb00 46.5px,#ffac00 47.5px,#ff7f00 48.5px,#ff7100 49.5px,#ff9e00 50.5px,#ffe100 51.5px,#f4ff0b 52.5px,#e0ff1f 53.5px,#b8ff47 58.5px,#8fff70 66.5px,#61ff9e 79.5px,#37ffc8 86.5px,#26ffd9 88.5px,#19ffe6 89.5px,#00fdff 90.5px,#00c8ff 91.5px,#008aff 92.5px,#006dff 93.5px,#0bf 95.5px,#00d3ff 96.5px,#00f9ff 99.5px,#0dfff2 101.5px,#32ffcd 107.5px,#4fffb0 116.5px,#63ff9c 132.5px,#68ff97 142.5px)"></i>
<i style="background:linear-gradient(90deg,#97ff68 0.5px,#a8ff57 21.5px,#c2ff3d 32.5px,#e0ff1f 38.5px,#fffd00 42.5px,#ffd900 45.5px,#ffc700 46.5px,#ffa900 47.5px,#ff7d00 48.5px,#ff7500 49.5px,#ffd900 50.5px,#e0ff1f 51.5px,#c4ff3b 52.5px,#b2ff4d 54.5px,#8eff71 64.5px,#64ff9b 82.5px,#4bffb4 88.5px,#43ffbc 89.5px,#3fc 90.5px,#09fff6 91.5px,#00a6ff 92.5px,#006eff 93.5px,#008eff 94.5px,#00b7ff 95.5px,#00cfff 96.5px,#00f7ff 99.5px,#02fffd 100.5px,#27ffd8 105.5px,#47ffb8 113.5px,#5effa1 126.5px,#68ff97 142.5px)"></i>
<i style="background:linear-gradient(90deg,#97ff68 0.5px,#a8ff57 21.5px,#c3ff3c 32.5px,#e1ff1e 38.5px,#fffc00 42.5px,#ffd700 45.5px,#ffc500 46.5px,#ffa800 47.5px,#ff8100 48.5px,#ff8200 49.5px,#fffb00 50.5px,#a4ff5b 51.5px,#95ff6a 52.5px,#84ff7b 64.5px,#6fff90 88.5px,#6f9 90.5px,#48ffb7 91.5px,#00bdff 92.5px,#0076ff 93.5px,#0090ff 94.5px,#00b5ff 95.5px,#00cdff 96.5px,#00f5ff 99.5px,#01fffe 100.5px,#27ffd8 105.5px,#47ffb8 113.5px,#5effa1 126.5px,#68ff97 142.5px)"></i>
<i style="background:linear-gradient(90deg,#97ff68 0.5px,#a8ff57 21.5px,#bfff40 31.5px,#e1ff1e 38.5px,#faff05 41.5px,#fffa00 42.5px,#ffd500 45.5px,#ffc400 46.5px,#fa0 47.5px,#f80 48.5px,#ff9000 49.5px,#efff10 50.5px,#8eff71 51.5px,#84ff7b 52.5px,#7aff85 90.5px,#5cffa3 91.5px,#00cfff 92.5px,#0082ff 93.5px,#0095ff 94.5px,#00b6ff 95.5px,#0cf 96.5px,#00f4ff 99.5px,#0ff 100.5px,#26ffd9 105.5px,#4fb 112.5px,#5cffa3 124.5px,#68ff97 142.5px)"></i>
<i style="background:linear-gradient(90deg,#97ff68 0.5px,#a8ff57 21.5px,#bfff40 31.5px,#e2ff1d 38.5px,#faff05 41.5px,#fffa00 42.5px,#ffd500 45.5px,#ffc400 46.5px,#ff9200 48.5px,#ff9d00 49.5px,#e5ff1a 50.5px,#8aff75 51.5px,#80ff7f 52.5px,#7dff82 90.5px,#62ff9d 91.5px,#00daff 92.5px,#008fff 93.5px,#009cff 94.5px,#00b8ff 95.5px,#00dbff 97.5px,#00feff 100.5px,#26ffd9 105.5px,#45ffba 112.5px,#5cffa3 124.5px,#68ff97 142.5px)"></i>
<i style="background:linear-gradient(90deg,#97ff68 0.5px,#a8ff57 21.5px,#bfff40 31.5px,#e1ff1e 38.5px,#faff05 41.5px,#fffa00 42.5px,#ffc600 46.5px,#ff9d00 48.5px,#fa0 49.5px,#dfff20 50.5px,#8f7 51.5px,#80ff7f 52.5px,#7eff81 90.5px,#65ff9a 91.5px,#00e4ff 92.5px,#009cff 93.5px,#00a4ff 94.5px,#00cdff 96.5px,#00feff 100.5px,#27ffd8 105.5px,#45ffba 112.5px,#5cffa3 124.5px,#68ff97 142.5px)"></i>
<i style="background:linear-gradient(90deg,#97ff68 0.5px,#a7ff58 21.5px,#bfff40 31.5px,#e1ff1e 38.5px,#fffb00 42.5px,#ffc900 46.5px,#ffa700 48.5px,#ffb600 49.5px,#daff25 50.5px,#8f7 51.5px,#80ff7f 52.5px,#7eff81 90.5px,#67ff98 91.5px,#00ecff 92.5px,#00a8ff 93.5px,#00adff 94.5px,#0df 97.5px,#0ff 100.5px,#27ffd8 105.5px,#45ffba 112.5px,#5cffa3 124.5px,#68ff97 142.5px)"></i>
<i style="background:linear-gradient(90deg,#97ff68 0.5px,#a7ff58 21.5px,#beff41 31.5px,#e0ff1f 38.5px,#fffc00 42.5px,#fc0 46.5px,#ffb000 48.5px,#ffc000 49.5px,#d6ff29 50.5px,#87ff78 51.5px,#80ff7f 52.5px,#7eff81 90.5px,#68ff97 91.5px,#00f3ff 92.5px,#00b3ff 93.5px,#00b4ff 94.5px,#00f6ff 99.5px,#01fffe 100.5px,#28ffd7 105.5px,#45ffba 112.5px,#5cffa3 124.5px,#69ff96 142.5px)"></i>
<i style="background:linear-gradient(90deg,#97ff68 0.5px,#a7ff58 21.5px,#c1ff3e 32.5px,#dfff20 38.5px,#fffe00 42.5px,#ffb800 48.5px,#ffc900 49.5px,#d2ff2d 50.5px,#87ff78 51.5px,#80ff7f 52.5px,#7eff81 90.5px,#69ff96 91.5px,#00f9ff 92.5px,#00bcff 93.5px,#0bf 94.5px,#00f8ff 99.5px,#03fffc 100.5px,#28ffd7 105.5px,#48ffb7 113.5px,#5fffa0 126.5px,#69ff96 142.5px)"></i>
<i style="background:linear-gradient(90deg,#96ff69 0.5px,#a7ff58 21.5px,#c1ff3e 32.5px,#deff21 38.5px,#feff01 42.5px,#ffbf00 48.5px,#ffcf00 49.5px,#cfff30 50.5px,#87ff78 51.5px,#80ff7f 52.5px,#7eff81 90.5px,#69ff96 91.5px,#00feff 92.5px,#00c3ff 93.5px,#00c1ff 94.5px,#00fbff 99.5px,#16ffe9 102.5px,#38ffc7 108.5px,#54ffab 118.5px,#67ff98 137.5px,#69ff96 142.5px)"></i>
<i style="background:linear-gradient(90deg,#96ff69 0.5px,#a7ff58 21.5px,#c0ff3f 32.5px,#e3ff1c 39.5px,#fbff04 42.5px,#ffef00 44.5px,#ffcd00 47.5px,#ffc500 48.5px,#ffd500 49.5px,#cdff32 50.5px,#86ff79 51.5px,#80ff7f 52.5px,#7eff81 90.5px,#6aff95 91.5px,#03fffc 92.5px,#00c9ff 93.5px,#00c7ff 94.5px,#00fdff 99.5px,#2affd5 105.5px,#49ffb6 113.5px,#60ff9f 127.5px,#69ff96 142.5px)"></i>
<i style="background:linear-gradient(90deg,#96ff69 0.5px,#a6ff59 21.5px,#bfff40 32.5px,#e2ff1d 39.5px,#fffc00 43.5px,#ffd100 47.5px,#ffcb00 48.5px,#ffda00 49.5px,#cbff34 50.5px,#86ff79 51.5px,#80ff7f 52.5px,#7eff81 90.5px,#6bff94 91.5px,#06fff9 92.5px,#00ceff 93.5px,#0cf 94.5px,#01fffe 99.5px,#2cffd3 105.5px,#4affb5 113.5px,#60ff9f 127.5px,#69ff96 142.5px)"></i>
<i style="background:linear-gradient(90deg,#96ff69 0.5px,#a8ff57 22.5px,#c2ff3d 33.5px,#e6ff19 40.5px,#ff0 43.5px,#ffd000 48.5px,#ffde00 49.5px,#c9ff36 50.5px,#86ff79 51.5px,#80ff7f 53.5px,#7eff81 90.5px,#6bff94 91.5px,#09fff6 92.5px,#00d3ff 93.5px,#00d1ff 94.5px,#00faff 98.5px,#0cfff3 100.5px,#32ffcd 106.5px,#4fffb0 115.5px,#63ff9c 131.5px,#69ff96 142.5px)"></i>
<i style="background:linear-gradient(90deg,#96ff69 0.5px,#a7ff58 22.5px,#c1ff3e 33.5px,#e4ff1b 40.5px,#fcff03 43.5px,#ffe500 46.5px,#ffd400 48.5px,#ffe300 49.5px,#c7ff38 50.5px,#86ff79 51.5px,#80ff7f 53.5px,#7eff81 90.5px,#6cff93 91.5px,#0cfff3 92.5px,#00d8ff 93.5px,#00d6ff 94.5px,#00fdff 98.5px,#2effd1 105.5px,#4dffb2 114.5px,#63ff9c 130.5px,#69ff96 142.5px)"></i>
<i style="background:linear-gradient(90deg,#96ff69 0.5px,#a7ff58 22.5px,#c0ff3f 33.5px,#e2ff1d 40.5px,#fffd00 44.5px,#ffd900 48.5px,#ffe600 49.5px,#c6ff39 50.5px,#86ff79 51.5px,#80ff7f 53.5px,#7eff81 90.5px,#6cff93 91.5px,#0ffff0 92.5px,#00dcff 93.5px,#00dbff 94.5px,#01fffe 98.5px,#2bffd4 104.5px,#49ffb6 112.5px,#60ff9f 126.5px,#69ff96 142.5px)"></i>
<i style="background:linear-gradient(90deg,#96ff69 0.5px,#a7ff58 22.5px,#bfff40 33.5px,#e0ff1f 40.5px,#feff01 44.5px,#ffde00 48.5px,#ffea00 49.5px,#c4ff3b 50.5px,#86ff79 51.5px,#80ff7f 53.5px,#7eff81 90.5px,#6dff92 91.5px,#12ffed 92.5px,#00e0ff 93.5px,#00dfff 94.5px,#00fbff 97.5px,#14ffeb 100.5px,#3affc5 107.5px,#54ffab 117.5px,#67ff98 136.5px,#69ff96 142.5px)"></i>
<i style="background:linear-gradient(90deg,#96ff69 0.5px,#a6ff59 22.5px,#beff41 33.5px,#deff21 40.5px,#faff05 44.5px,#fff200 46.5px,#ffe200 48.5px,#fe0 49.5px,#c2ff3d 50.5px,#85ff7a 51.5px,#80ff7f 53.5px,#7fff80 90.5px,#6dff92 91.5px,#14ffeb 92.5px,#00e5ff 93.5px,#00e4ff 94.5px,#0ff 97.5px,#29ffd6 103.5px,#48ffb7 111.5px,#5fffa0 125.5px,#6aff95 142.5px)"></i>
<i style="background:linear-gradient(90deg,#95ff6a 0.5px,#a6ff59 22.5px,#c1ff3e 34.5px,#e1ff1e 41.5px,#ff0 45.5px,#ffe600 48.5px,#fff200 49.5px,#c1ff3e 50.5px,#85ff7a 51.5px,#80ff7f 53.5px,#7fff80 90.5px,#6eff91 91.5px,#17ffe8 92.5px,#00e9ff 93.5px,#00e8ff 94.5px,#03fffc 97.5px,#2bffd4 103.5px,#4bffb4 112.5px,#61ff9e 127.5px,#6aff95 142.5px)"></i>
<i style="background:linear-gradient(90deg,#95ff6a 0.5px,#a5ff5a 22.5px,#bfff40 34.5px,#dfff20 41.5px,#fcff03 45.5px,#ffea00 48.5px,#fff500 49.5px,#bfff40 50.5px,#85ff7a 51.5px,#80ff7f 53.5px,#7fff80 90.5px,#6eff91 91.5px,#1affe5 92.5px,#00ecff 93.5px,#00ecff 94.5px,#00fdff 96.5px,#2dffd2 103.5px,#4cffb3 112.5px,#62ff9d 127.5px,#6aff95 142.5px)"></i>
<i style="background:linear-gradient(90deg,#95ff6a 0.5px,#a6ff59 23.5px,#c1ff3e 35.5px,#e2ff1d 42.5px,#fffd00 46.5px,#fe0 48.5px,#fff900 49.5px,#beff41 50.5px,#85ff7a 51.5px,#80ff7f 53.5px,#7fff80 90.5px,#6fff90 91.5px,#1cffe3 92.5px,#00f0ff 93.5px,#00f0ff 94.5px,#02fffd 96.5px,#2affd5 102.5px,#4affb5 111.5px,#61ff9e 126.5px,#6aff95 142.5px)"></i>
<i style="background:linear-gradient(90deg,#95ff6a 0.5px,#a6ff59 23.5px,#c0ff3f 35.5px,#e0ff1f 42.5px,#fdff02 46.5px,#fff200 48.5px,#fffc00 49.5px,#bcff43 50.5px,#85ff7a 51.5px,#80ff7f 53.5px,#7fff80 90.5px,#6fff90 91.5px,#1effe1 92.5px,#00f4ff 93.5px,#00f4ff 94.5px,#05fffa 96.5px,#2cffd3 102.5px,#4bffb4 111.5px,#61ff9e 126.5px,#6aff95 142.5px)"></i>
<i style="background:linear-gradient(90deg,#95ff6a 0.5px,#a5ff5a 23.5px,#bfff40 35.5px,#df2 42.5px,#fffc00 47.5px,#fff600 48.5px,#ff0 49.5px,#bf4 50.5px,#85ff7a 51.5px,#80ff7f 53.5px,#7fff80 90.5px,#6fff90 91.5px,#21ffde 92.5px,#00f7ff 93.5px,#00f8ff 94.5px,#0ff 95.5px,#2affd5 101.5px,#4affb5 110.5px,#61ff9e 125.5px,#6aff95 142.5px)"></i>
<i style="background:linear-gradient(90deg,#94ff6b 0.5px,#a5ff5a 23.5px,#bdff42 35.5px,#dbff24 42.5px,#ff0 47.5px,#fff900 48.5px,#fcff03 49.5px,#b9ff46 50.5px,#85ff7a 51.5px,#80ff7f 53.5px,#7fff80 90.5px,#70ff8f 91.5px,#23ffdc 92.5px,#00fbff 93.5px,#04fffb 95.5px,#2cffd3 101.5px,#4bffb4 110.5px,#61ff9e 125.5px,#6bff94 142.5px)"></i>
<i style="background:linear-gradient(90deg,#94ff6b 0.5px,#a6ff59 24.5px,#bfff40 36.5px,#deff21 43.5px,#fffd00 48.5px,#f9ff06 49.5px,#b8ff47 50.5px,#84ff7b 51.5px,#80ff7f 54.5px,#7fff80 90.5px,#70ff8f 91.5px,#25ffda 92.5px,#00feff 93.5px,#0ff 94.5px,#29ffd6 100.5px,#47ffb8 108.5px,#5fffa0 122.5px,#6bff94 142.5px)"></i>
<i style="background:linear-gradient(90deg,#94ff6b 0.5px,#a5ff5a 24.5px,#beff41 36.5px,#dbff24 43.5px,#feff01 48.5px,#f6ff09 49.5px,#b7ff48 50.5px,#84ff7b 51.5px,#80ff7f 54.5px,#7fff80 90.5px,#71ff8e 91.5px,#27ffd8 92.5px,#02fffd 93.5px,#03fffc 94.5px,#2bffd4 100.5px,#4bffb4 109.5px,#62ff9d 125.5px,#6bff94 142.5px)"></i>
<i style="background:linear-gradient(90deg,#94ff6b 0.5px,#a4ff5b 24.5px,#bfff40 37.5px,#dfff20 44.5px,#fbff04 48.5px,#f3ff0c 49.5px,#b5ff4a 50.5px,#84ff7b 51.5px,#80ff7f 54.5px,#7fff80 90.5px,#71ff8e 91.5px,#29ffd6 92.5px,#05fffa 93.5px,#06fff9 94.5px,#2effd1 100.5px,#4cffb3 109.5px,#62ff9d 125.5px,#6bff94 142.5px)"></i>
<i style="background:linear-gradient(90deg,#94ff6b 0.5px,#a4ff5b 24.5px,#beff41 37.5px,#dcff23 44.5px,#f7ff08 48.5px,#f0ff0f 49.5px,#b4ff4b 50.5px,#84ff7b 51.5px,#80ff7f 54.5px,#7fff80 90.5px,#71ff8e 91.5px,#2bffd4 92.5px,#09fff6 93.5px,#0afff5 94.5px,#30ffcf 100.5px,#4dffb2 109.5px,#63ff9c 126.5px,#6cff93 142.5px)"></i>
<i style="background:linear-gradient(90deg,#93ff6c 0.5px,#a5ff5a 25.5px,#bfff40 38.5px,#d9ff26 44.5px,#f4ff0b 48.5px,#edff12 49.5px,#b3ff4c 50.5px,#84ff7b 51.5px,#80ff7f 54.5px,#7fff80 90.5px,#72ff8d 91.5px,#2dffd2 92.5px,#0cfff3 93.5px,#14ffeb 95.5px,#36ffc9 101.5px,#52ffad 111.5px,#6f9 130.5px,#6cff93 142.5px)"></i>
<i style="background:linear-gradient(90deg,#93ff6c 0.5px,#a4ff5b 25.5px,#beff41 38.5px,#d7ff28 44.5px,#f1ff0e 48.5px,#ebff14 49.5px,#b2ff4d 50.5px,#84ff7b 51.5px,#80ff7f 55.5px,#7fff80 90.5px,#72ff8d 91.5px,#2fffd0 92.5px,#0efff1 93.5px,#17ffe8 95.5px,#38ffc7 101.5px,#54ffab 112.5px,#68ff97 133.5px,#6cff93 142.5px)"></i>
<i style="background:linear-gradient(90deg,#93ff6c 0.5px,#a3ff5c 25.5px,#bcff43 38.5px,#daff25 45.5px,#ef1 48.5px,#e8ff17 49.5px,#b0ff4f 50.5px,#84ff7b 51.5px,#80ff7f 55.5px,#7fff80 90.5px,#72ff8d 91.5px,#31ffce 92.5px,#1fe 93.5px,#1affe5 95.5px,#3affc5 101.5px,#5fa 112.5px,#69ff96 133.5px,#6cff93 142.5px)"></i>
<i style="background:linear-gradient(90deg,#93ff6c 0.5px,#a4ff5b 26.5px,#bdff42 39.5px,#d8ff27 45.5px,#ebff14 48.5px,#e5ff1a 49.5px,#afff50 50.5px,#84ff7b 51.5px,#80ff7f 55.5px,#7fff80 90.5px,#73ff8c 91.5px,#3fc 92.5px,#14ffeb 93.5px,#1cffe3 95.5px,#3cffc3 101.5px,#56ffa9 112.5px,#69ff96 134.5px,#6cff93 142.5px)"></i>
<i style="background:linear-gradient(90deg,#92ff6d 0.5px,#a3ff5c 26.5px,#bcff43 39.5px,#d5ff2a 45.5px,#e9ff16 48.5px,#e3ff1c 49.5px,#aeff51 50.5px,#83ff7c 51.5px,#80ff7f 56.5px,#7fff80 90.5px,#73ff8c 91.5px,#35ffca 92.5px,#17ffe8 93.5px,#1fffe0 95.5px,#3effc1 101.5px,#57ffa8 112.5px,#6aff95 135.5px,#6dff92 142.5px)"></i>
<i style="background:linear-gradient(90deg,#92ff6d 0.5px,#a3ff5c 26.5px,#baff45 39.5px,#d3ff2c 45.5px,#e6ff19 48.5px,#e0ff1f 49.5px,#adff52 50.5px,#83ff7c 51.5px,#80ff7f 56.5px,#7fff80 90.5px,#73ff8c 91.5px,#37ffc8 92.5px,#1affe5 93.5px,#2fd 95.5px,#40ffbf 101.5px,#59ffa6 113.5px,#6cff93 138.5px,#6dff92 142.5px)"></i>
<i style="background:linear-gradient(90deg,#92ff6d 0.5px,#a3ff5c 27.5px,#bf4 40.5px,#d7ff28 46.5px,#e3ff1c 48.5px,#deff21 49.5px,#acff53 50.5px,#83ff7c 51.5px,#80ff7f 57.5px,#7fff80 90.5px,#74ff8b 91.5px,#39ffc6 92.5px,#1cffe3 93.5px,#24ffdb 95.5px,#42ffbd 101.5px,#5affa5 113.5px,#6cff93 139.5px,#6dff92 142.5px)"></i>
<i style="background:linear-gradient(90deg,#92ff6d 0.5px,#a2ff5d 27.5px,#baff45 40.5px,#d4ff2b 46.5px,#e0ff1f 48.5px,#dbff24 49.5px,#abff54 50.5px,#83ff7c 51.5px,#80ff7f 58.5px,#7fff80 90.5px,#74ff8b 91.5px,#3affc5 92.5px,#1fffe0 93.5px,#27ffd8 95.5px,#43ffbc 101.5px,#5bffa4 113.5px,#6cff93 139.5px,#6dff92 142.5px)"></i>
<i style="background:linear-gradient(90deg,#91ff6e 0.5px,#a3ff5c 28.5px,#b8ff47 40.5px,#d2ff2d 46.5px,#deff21 48.5px,#d9ff26 49.5px,#af5 50.5px,#83ff7c 51.5px,#80ff7f 59.5px,#7fff80 90.5px,#74ff8b 91.5px,#3cffc3 92.5px,#21ffde 93.5px,#29ffd6 95.5px,#45ffba 101.5px,#5dffa2 114.5px,#6eff91 142.5px)"></i>
<i style="background:linear-gradient(90deg,#91ff6e 0.5px,#a2ff5d 28.5px,#b9ff46 41.5px,#d6ff29 47.5px,#dbff24 48.5px,#d7ff28 49.5px,#a8ff57 50.5px,#83ff7c 51.5px,#80ff7f 62.5px,#7fff80 90.5px,#75ff8a 91.5px,#3effc1 92.5px,#24ffdb 93.5px,#32ffcd 96.5px,#4affb5 102.5px,#61ff9e 117.5px,#6eff91 142.5px)"></i>
<i style="background:linear-gradient(90deg,#91ff6e 0.5px,#a2ff5d 29.5px,#b8ff47 41.5px,#d9ff26 48.5px,#d4ff2b 49.5px,#a7ff58 50.5px,#83ff7c 51.5px,#80ff7f 66.5px,#7fff80 90.5px,#75ff8a 91.5px,#40ffbf 92.5px,#26ffd9 93.5px,#48ffb7 101.5px,#5effa1 114.5px,#6eff91 142.5px)"></i>
<i style="background:linear-gradient(90deg,#91ff6e 0.5px,#a1ff5e 29.5px,#b6ff49 41.5px,#d6ff29 48.5px,#d2ff2d 49.5px,#a6ff59 50.5px,#83ff7c 51.5px,#7fff80 72.5px,#7fff80 90.5px,#75ff8a 91.5px,#41ffbe 92.5px,#29ffd6 93.5px,#4affb5 101.5px,#60ff9f 115.5px,#6eff91 142.5px)"></i>
<i style="background:linear-gradient(90deg,#90ff6f 0.5px,#a2ff5d 30.5px,#b8ff47 42.5px,#d4ff2b 48.5px,#d0ff2f 49.5px,#a5ff5a 50.5px,#83ff7c 51.5px,#7fff80 80.5px,#7fff80 90.5px,#75ff8a 91.5px,#43ffbc 92.5px,#2bffd4 93.5px,#4cffb3 101.5px,#61ff9e 115.5px,#6fff90 142.5px)"></i>
<i style="background:linear-gradient(90deg,#90ff6f 0.5px,#a1ff5e 30.5px,#b6ff49 42.5px,#d1ff2e 48.5px,#cdff32 49.5px,#a4ff5b 50.5px,#83ff7c 51.5px,#7fff80 90.5px,#76ff89 91.5px,#45ffba 92.5px,#2effd1 93.5px,#4dffb2 101.5px,#62ff9d 116.5px,#6fff90 142.5px)"></i>
<i style="background:linear-gradient(90deg,#90ff6f 0.5px,#a1ff5e 31.5px,#b4ff4b 42.5px,#cfff30 48.5px,#cbff34 49.5px,#a3ff5c 50.5px,#83ff7c 51.5px,#7fff80 90.5px,#76ff89 91.5px,#47ffb8 92.5px,#30ffcf 93.5px,#4fffb0 101.5px,#63ff9c 116.5px,#6fff90 142.5px)"></i>
<i style="background:linear-gradient(90deg,#90ff6f 0.5px,#a0ff5f 31.5px,#b3ff4c 42.5px,#cf3 48.5px,#c9ff36 49.5px,#a2ff5d 50.5px,#82ff7d 51.5px,#7fff80 90.5px,#76ff89 91.5px,#48ffb7 92.5px,#32ffcd 93.5px,#52ffad 102.5px,#6f9 120.5px,#70ff8f 142.5px)"></i>
<i style="background:linear-gradient(90deg,#8fff70 0.5px,#a0ff5f 32.5px,#b4ff4b 43.5px,#caff35 48.5px,#c7ff38 49.5px,#a1ff5e 50.5px,#82ff7d 51.5px,#7fff80 90.5px,#7f8 91.5px,#4affb5 92.5px,#35ffca 93.5px,#54ffab 102.5px,#67ff98 121.5px,#70ff8f 142.5px)"></i>
<i style="background:linear-gradient(90deg,#8fff70 0.5px,#a0ff5f 32.5px,#b2ff4d 43.5px,#c7ff38 48.5px,#c4ff3b 49.5px,#a0ff5f 50.5px,#82ff7d 51.5px,#7fff80 90.5px,#7f8 91.5px,#4cffb3 92.5px,#37ffc8 93.5px,#5fa 102.5px,#69ff96 122.5px,#70ff8f 142.5px)"></i>
<i style="background:linear-gradient(90deg,#8fff70 0.5px,#a0ff5f 33.5px,#b1ff4e 43.5px,#c5ff3a 48.5px,#c2ff3d 49.5px,#9fff60 50.5px,#82ff7d 51.5px,#7fff80 90.5px,#7f8 91.5px,#4effb1 92.5px,#3affc5 93.5px,#56ffa9 102.5px,#6aff95 123.5px,#70ff8f 142.5px)"></i>
<i style="background:linear-gradient(90deg,#8eff71 0.5px,#a0ff5f 34.5px,#b2ff4d 44.5px,#c2ff3d 48.5px,#bfff40 49.5px,#82ff7d 51.5px,#7fff80 90.5px,#7f8 91.5px,#4fffb0 92.5px,#3dffc2 93.5px,#58ffa7 102.5px,#6bff94 124.5px,#71ff8e 142.5px)"></i>
<i style="background:linear-gradient(90deg,#8eff71 0.5px,#9fff60 34.5px,#b0ff4f 44.5px,#bfff40 48.5px,#bcff43 49.5px,#82ff7d 51.5px,#7fff80 90.5px,#78ff87 91.5px,#51ffae 92.5px,#3fffc0 93.5px,#59ffa6 102.5px,#6cff93 125.5px,#71ff8e 142.5px)"></i>
<i style="background:linear-gradient(90deg,#8eff71 0.5px,#9eff61 35.5px,#b1ff4e 45.5px,#bcff43 48.5px,#b9ff46 49.5px,#82ff7d 51.5px,#7fff80 90.5px,#78ff87 91.5px,#54ffab 92.5px,#43ffbc 93.5px,#5cffa3 103.5px,#6eff91 131.5px,#71ff8e 142.5px)"></i>
<i style="background:linear-gradient(90deg,#8dff72 0.5px,#9eff61 36.5px,#aeff51 45.5px,#b9ff46 48.5px,#b6ff49 49.5px,#82ff7d 51.5px,#7fff80 90.5px,#78ff87 91.5px,#56ffa9 92.5px,#46ffb9 93.5px,#5effa1 103.5px,#70ff8f 134.5px,#72ff8d 142.5px)"></i>
<i style="background:linear-gradient(90deg,#8dff72 0.5px,#9dff62 37.5px,#aeff51 46.5px,#b5ff4a 48.5px,#b2ff4d 49.5px,#82ff7d 51.5px,#7fff80 90.5px,#79ff86 91.5px,#59ffa6 92.5px,#4affb5 93.5px,#60ff9f 103.5px,#71ff8e 137.5px,#72ff8d 142.5px)"></i>
<i style="background:linear-gradient(90deg,#8dff72 0.5px,#9cff63 38.5px,#afff50 48.5px,#adff52 49.5px,#81ff7e 51.5px,#80ff7f 90.5px,#7aff85 91.5px,#5dffa2 92.5px,#50ffaf 93.5px,#64ff9b 105.5px,#73ff8c 142.5px)"></i>
<i style="background:linear-gradient(90deg,#8cff73 0.5px,#9aff65 39.5px,#a8ff57 48.5px,#a5ff5a 49.5px,#7fff80 51.5px,#7eff81 68.5px,#84ff7b 89.5px,#7dff82 91.5px,#65ff9a 92.5px,#59ffa6 93.5px,#6bff94 112.5px,#73ff8c 142.5px)"></i>
<i style="background:linear-gradient(90deg,#8bff74 0.5px,#98ff67 41.5px,#9dff62 47.5px,#94ff6b 49.5px,#75ff8a 51.5px,#70ff8f 59.5px,#78ff87 67.5px,#93ff6c 81.5px,#91ff6e 90.5px,#8bff74 91.5px,#78ff87 92.5px,#6bff94 93.5px,#61ff9e 96.5px,#6fff90 119.5px,#74ff8b 142.5px)"></i>
<i style="background:linear-gradient(90deg,#8bff74 0.5px,#95ff6a 45.5px,#87ff78 48.5px,#69ff96 51.5px,#63ff9c 58.5px,#6aff95 65.5px,#8fff70 75.5px,#a1ff5e 79.5px,#a3ff5c 89.5px,#9bff64 91.5px,#7bff84 94.5px,#6aff95 97.5px,#75ff8a 142.5px)"></i>
<i style="background:linear-gradient(90deg,#8aff75 0.5px,#8eff71 44.5px,#74ff8b 49.5px,#64ff9b 51.5px,#5fffa0 61.5px,#6bff94 66.5px,#91ff6e 75.5px,#a6ff59 79.5px,#af5 88.5px,#a3ff5c 91.5px,#75ff8a 97.5px,#6fff90 102.5px,#75ff8a 142.5px)"></i>
<i style="background:linear-gradient(90deg,#89ff76 0.5px,#8bff74 42.5px,#7dff82 46.5px,#5fffa0 52.5px,#5fffa0 63.5px,#92ff6d 75.5px,#a8ff57 79.5px,#acff53 88.5px,#a7ff58 91.5px,#7aff85 98.5px,#72ff8d 103.5px,#76ff89 142.5px)"></i>
<i style="background:linear-gradient(90deg,#89ff76 0.5px,#8f7 41.5px,#75ff8a 46.5px,#5fffa0 51.5px,#5effa1 63.5px,#8cff73 74.5px,#a9ff56 79.5px,#aeff51 87.5px,#af5 91.5px,#97ff68 95.5px,#7aff85 100.5px,#75ff8a 108.5px,#76ff89 142.5px)"></i>
<i style="background:linear-gradient(90deg,#8f7 0.5px,#86ff79 40.5px,#74ff8b 45.5px,#5fffa0 50.5px,#5cffa3 62.5px,#68ff97 66.5px,#93ff6c 75.5px,#abff54 79.5px,#afff50 87.5px,#a8ff57 93.5px,#7dff82 101.5px,#76ff89 109.5px,#7f8 142.5px)"></i>
<i style="background:linear-gradient(90deg,#8f7 0.5px,#86ff79 38.5px,#78ff87 43.5px,#5effa1 49.5px,#5bffa4 62.5px,#67ff98 66.5px,#94ff6b 75.5px,#acff53 79.5px,#b1ff4e 87.5px,#abff54 93.5px,#7fff80 102.5px,#7f8 110.5px,#7f8 142.5px)"></i>
<i style="background:linear-gradient(90deg,#8f7 0.5px,#85ff7a 37.5px,#74ff8b 43.5px,#5cffa3 49.5px,#5bffa4 63.5px,#72ff8d 68.5px,#8dff72 74.5px,#adff52 79.5px,#b2ff4d 87.5px,#aeff51 93.5px,#80ff7f 103.5px,#78ff87 112.5px,#78ff87 142.5px)"></i>
<i style="background:linear-gradient(90deg,#87ff78 0.5px,#84ff7b 36.5px,#70ff8f 43.5px,#5affa5 49.5px,#5affa5 63.5px,#6cff93 67.5px,#95ff6a 75.5px,#afff50 79.5px,#b4ff4b 86.5px,#aeff51 94.5px,#81ff7e 104.5px,#78ff87 113.5px,#78ff87 142.5px)"></i>
<i style="background:linear-gradient(90deg,#87ff78 0.5px,#83ff7c 35.5px,#71ff8e 42.5px,#58ffa7 49.5px,#59ffa6 63.5px,#6bff94 67.5px,#8eff71 74.5px,#acff53 78.5px,#b5ff4a 82.5px,#b3ff4c 93.5px,#82ff7d 105.5px,#78ff87 114.5px,#78ff87 142.5px)"></i>
<i style="background:linear-gradient(90deg,#87ff78 0.5px,#83ff7c 34.5px,#71ff8e 41.5px,#57ffa8 49.5px,#58ffa7 63.5px,#6bff94 67.5px,#8fff70 74.5px,#adff52 78.5px,#b7ff48 82.5px,#b2ff4d 94.5px,#82ff7d 106.5px,#79ff86 116.5px,#78ff87 142.5px)"></i>
<i style="background:linear-gradient(90deg,#87ff78 0.5px,#82ff7d 33.5px,#6eff91 41.5px,#56ffa9 49.5px,#57ffa8 63.5px,#6aff95 67.5px,#8fff70 74.5px,#aeff51 78.5px,#b8ff47 82.5px,#b4ff4b 94.5px,#83ff7c 107.5px,#79ff86 117.5px,#78ff87 142.5px)"></i>
<i style="background:linear-gradient(90deg,#87ff78 0.5px,#83ff7c 31.5px,#72ff8d 39.5px,#56ffa9 48.5px,#54ffab 62.5px,#63ff9c 66.5px,#7fff80 71.5px,#98ff67 75.5px,#b4ff4b 79.5px,#baff45 85.5px,#b6ff49 94.5px,#83ff7c 108.5px,#79ff86 119.5px,#78ff87 142.5px)"></i>
<i style="background:linear-gradient(90deg,#87ff78 0.5px,#83ff7c 30.5px,#70ff8f 39.5px,#54ffab 48.5px,#53ffac 62.5px,#62ff9d 66.5px,#7fff80 71.5px,#98ff67 75.5px,#b5ff4a 79.5px,#bcff43 85.5px,#b6ff49 95.5px,#84ff7b 109.5px,#79ff86 120.5px,#78ff87 142.5px)"></i>
<i style="background:linear-gradient(90deg,#87ff78 0.5px,#82ff7d 29.5px,#70ff8f 38.5px,#53ffac 48.5px,#52ffad 62.5px,#62ff9d 66.5px,#7fff80 71.5px,#9f6 75.5px,#b6ff49 79.5px,#bdff42 85.5px,#b8ff47 95.5px,#84ff7b 110.5px,#79ff86 121.5px,#78ff87 142.5px)"></i>
<i style="background:linear-gradient(90deg,#86ff79 0.5px,#82ff7d 28.5px,#6dff92 38.5px,#52ffad 48.5px,#51ffae 62.5px,#61ff9e 66.5px,#7fff80 71.5px,#9f6 75.5px,#b3ff4c 78.5px,#beff41 82.5px,#bf4 94.5px,#9aff65 104.5px,#81ff7e 113.5px,#79ff86 128.5px,#79ff86 142.5px)"></i>
<i style="background:linear-gradient(90deg,#86ff79 0.5px,#82ff7d 27.5px,#6eff91 37.5px,#51ffae 48.5px,#50ffaf 62.5px,#5affa5 65.5px,#7fff80 71.5px,#9aff65 75.5px,#b4ff4b 78.5px,#bfff40 82.5px,#bf4 95.5px,#85ff7a 112.5px,#7aff85 124.5px,#79ff86 142.5px)"></i>
<i style="background:linear-gradient(90deg,#86ff79 0.5px,#81ff7e 26.5px,#6cff93 37.5px,#50ffaf 48.5px,#4fffb0 62.5px,#59ffa6 65.5px,#7fff80 71.5px,#9aff65 75.5px,#b4ff4b 78.5px,#c0ff3f 82.5px,#bcff43 95.5px,#86ff79 113.5px,#7aff85 126.5px,#79ff86 142.5px)"></i>
<i style="background:linear-gradient(90deg,#86ff79 0.5px,#80ff7f 26.5px,#68ff97 38.5px,#52ffad 48.5px,#51ffae 62.5px,#61ff9e 66.5px,#7fff80 71.5px,#9f6 75.5px,#b2ff4d 78.5px,#bdff42 82.5px,#baff45 95.5px,#84ff7b 115.5px,#79ff86 130.5px,#79ff86 142.5px)"></i>
<i style="background:linear-gradient(90deg,#86ff79 0.5px,#80ff7f 27.5px,#5fffa0 49.5px,#60ff9f 63.5px,#92ff6d 75.5px,#a7ff58 79.5px,#abff54 88.5px,#a4ff5b 98.5px,#80ff7f 117.5px,#79ff86 141.5px,#79ff86 142.5px)"></i>
<i style="background:linear-gradient(90deg,#86ff79 0.5px,#7fff80 35.5px,#76ff89 62.5px,#8cff73 82.5px,#83ff7c 106.5px,#79ff86 133.5px,#79ff86 142.5px)"></i>
<i style="background:linear-gradient(90deg,#86ff79 0.5px,#79ff86 142.5px)"></i>
<i style="background:linear-gradient(90deg,#86ff79 0.5px,#7fff80 74.5px,#79ff86 142.5px)"></i>
<i style="background:linear-gradient(90deg,#86ff79 0.5px,#7fff80 71.5px,#79ff86 142.5px)"></i>
<i style="background:linear-gradient(90deg,#86ff79 0.5px,#7fff80 71.5px,#79ff86 142.5px)"></i>
<i style="background:linear-gradient(90deg,#86ff79 0.5px,#7fff80 72.5px,#79ff86 142.5px)"></i>
<i style="background:linear-gradient(90deg,#86ff79 0.5px,#7fff80 72.5px,#79ff86 142.5px)"></i>
<i style="background:linear-gradient(90deg,#86ff79 0.5px,#7fff80 72.5px,#79ff86 142.5px)"></i>
<i style="background:linear-gradient(90deg,#85ff7a 0.5px,#7fff80 72.5px,#7aff85 142.5px)"></i>
<i style="background:linear-gradient(90deg,#85ff7a 0.5px,#7fff80 72.5px,#7aff85 142.5px)"></i>
<i style="background:linear-gradient(90deg,#85ff7a 0.5px,#7fff80 73.5px,#7aff85 142.5px)"></i>
<i style="background:linear-gradient(90deg,#85ff7a 0.5px,#7fff80 73.5px,#7aff85 142.5px)"></i>
<i style="background:linear-gradient(90deg,#85ff7a 0.5px,#7fff80 73.5px,#7aff85 142.5px)"></i>
</div>
<div class="ax" style="left:533px;top:367.9px;width:1px;height:135.1px"></div>
<div class="ax" style="left:533px;top:502px;width:142.8px;height:1px"></div>
<div class="ax" style="left:533.7px;top:500.9px;width:1px;height:3px"></div>
<div class="tl" style="left:523.2px;top:504.7px;width:20px;text-align:center">-80</div>
<div class="ax" style="left:551.3px;top:500.9px;width:1px;height:3px"></div>
<div class="tl" style="left:540.8px;top:504.7px;width:20px;text-align:center">-60</div>
<div class="ax" style="left:568.8px;top:500.9px;width:1px;height:3px"></div>
<div class="tl" style="left:558.3px;top:504.7px;width:20px;text-align:center">-40</div>
<div class="ax" style="left:586.4px;top:500.9px;width:1px;height:3px"></div>
<div class="tl" style="left:575.9px;top:504.7px;width:20px;text-align:center">-20</div>
<div class="ax" style="left:604.0px;top:500.9px;width:1px;height:3px"></div>
<div class="tl" style="left:593.5px;top:504.7px;width:20px;text-align:center">0</div>
<div class="ax" style="left:621.6px;top:500.9px;width:1px;height:3px"></div>
<div class="tl" style="left:611.1px;top:504.7px;width:20px;text-align:center">20</div>
<div class="ax" style="left:639.2px;top:500.9px;width:1px;height:3px"></div>
<div class="tl" style="left:628.7px;top:504.7px;width:20px;text-align:center">40</div>
<div class="ax" style="left:656.7px;top:500.9px;width:1px;height:3px"></div>
<div class="tl" style="left:646.2px;top:504.7px;width:20px;text-align:center">60</div>
<div class="ax" style="left:674.3px;top:500.9px;width:1px;height:3px"></div>
<div class="tl" style="left:663.8px;top:504.7px;width:20px;text-align:center">80</div>
<div class="ax" style="left:531.0px;top:495.7px;width:3px;height:1px"></div>
<div class="tl" style="left:509.8px;top:493.0px;width:20px;text-align:right">-60</div>
<div class="ax" style="left:531.0px;top:469.9px;width:3px;height:1px"></div>
<div class="tl" style="left:509.8px;top:467.2px;width:20px;text-align:right">-40</div>
<div class="ax" style="left:531.0px;top:444.1px;width:3px;height:1px"></div>
<div class="tl" style="left:509.8px;top:441.4px;width:20px;text-align:right">-20</div>
<div class="ax" style="left:531.0px;top:418.4px;width:3px;height:1px"></div>
<div class="tl" style="left:509.8px;top:415.7px;width:20px;text-align:right">0</div>
<div class="ax" style="left:531.0px;top:392.6px;width:3px;height:1px"></div>
<div class="tl" style="left:509.8px;top:389.9px;width:20px;text-align:right">20</div>
<div class="al" style="left:560.9px;top:515.9px;width:80px;text-align:center">x(m) (x10^-9)</div>
<div class="al yl" style="left:471.9px;top:434.1px;width:80px;text-align:center">y(m) (x10^-9)</div>
<div class="tt" style="left:477.0px;top:367.7px;transform:scaleX(0.85)">Pz</div>
</body></html>
